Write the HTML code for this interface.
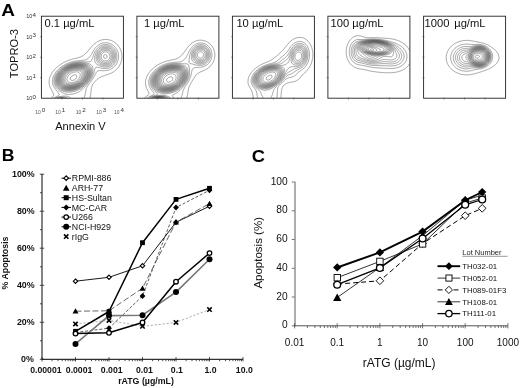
<!DOCTYPE html>
<html><head><meta charset="utf-8"><title>Figure</title>
<style>html,body{margin:0;padding:0;background:#fff}svg{display:block}</style>
</head><body>
<svg width="520" height="388" viewBox="0 0 520 388" font-family='"Liberation Sans", Arial, Helvetica, sans-serif'>
<rect width="520" height="388" fill="#fff"/>
<defs><clipPath id="cb"><rect x="0" y="0" width="82.0" height="82.0"/></clipPath></defs>
<text transform="translate(1.3,15.9) scale(1.2,1)" font-size="15.8" font-weight="bold" fill="#000">A</text>
<text transform="translate(1.7,160.8) scale(1.08,1)" font-size="16.3" font-weight="bold" fill="#000">B</text>
<text transform="translate(251.8,161.8) scale(1.12,1)" font-size="16.3" font-weight="bold" fill="#000">C</text>
<g transform="translate(41.4,16.2)">
<g clip-path="url(#cb)"><path d="M9.7,82.0 L10.0,81.6 L10.1,81.5 L10.5,81.1 L10.6,81.0 L11.0,80.7 L11.2,80.5 L11.5,80.2 L11.7,80.0 L12.0,79.6 L12.1,79.5 L12.3,79.0 L12.2,78.5 L12.1,78.0 L12.0,77.7 L11.9,77.5 L11.7,77.0 L11.5,76.5 L11.5,76.5 L11.3,76.0 L11.1,75.5 L11.0,75.4 L10.8,75.0 L10.5,74.5 L10.5,74.4 L10.3,74.0 L10.0,73.5 L10.0,73.4 L9.8,73.0 L9.5,72.5 L9.5,72.5 L9.3,72.0 L9.0,71.5 L9.0,71.4 L8.8,71.0 L8.6,70.5 L8.5,70.1 L8.4,70.0 L8.3,69.5 L8.1,69.0 L8.0,68.5 L8.0,68.4 L7.9,68.0 L7.8,67.5 L7.8,67.0 L7.7,66.5 L7.7,66.0 L7.7,65.5 L7.7,65.0 L7.8,64.5 L7.8,64.0 L7.9,63.5 L8.0,63.0 L8.0,62.9 L8.1,62.5 L8.2,62.0 L8.3,61.5 L8.5,61.0 L8.5,61.0 L8.7,60.5 L8.9,60.0 L9.0,59.7 L9.1,59.5 L9.3,59.0 L9.5,58.6 L9.6,58.5 L9.8,58.0 L10.0,57.7 L10.1,57.5 L10.4,57.0 L10.5,56.8 L10.7,56.5 L11.0,56.1 L11.0,56.0 L11.4,55.5 L11.5,55.4 L11.8,55.0 L12.0,54.7 L12.2,54.5 L12.5,54.1 L12.6,54.0 L13.0,53.5 L13.0,53.5 L13.5,53.0 L13.5,53.0 L14.0,52.5 L14.0,52.5 L14.5,52.0 L14.5,52.0 L15.0,51.5 L15.0,51.5 L15.5,51.0 L15.5,51.0 L16.0,50.6 L16.1,50.5 L16.5,50.2 L16.7,50.0 L17.0,49.8 L17.4,49.5 L17.5,49.4 L18.0,49.0 L18.1,49.0 L18.5,48.7 L18.8,48.5 L19.0,48.3 L19.5,48.0 L19.5,48.0 L20.0,47.7 L20.3,47.5 L20.5,47.4 L21.0,47.1 L21.1,47.0 L21.5,46.8 L22.0,46.5 L22.0,46.5 L22.5,46.2 L23.0,46.0 L23.0,46.0 L23.5,45.7 L24.0,45.5 L24.0,45.5 L24.5,45.3 L25.0,45.1 L25.1,45.0 L25.5,44.8 L26.0,44.6 L26.3,44.5 L26.5,44.4 L27.0,44.2 L27.5,44.1 L27.7,44.0 L28.0,43.9 L28.5,43.7 L29.0,43.5 L29.1,43.5 L29.5,43.4 L30.0,43.2 L30.5,43.1 L30.8,43.0 L31.0,42.9 L31.5,42.8 L32.0,42.7 L32.5,42.5 L32.7,42.5 L33.0,42.4 L33.5,42.3 L34.0,42.2 L34.5,42.1 L34.7,42.0 L35.0,41.9 L35.5,41.8 L36.0,41.7 L36.5,41.6 L36.7,41.5 L37.0,41.4 L37.5,41.3 L38.0,41.1 L38.4,41.0 L38.5,40.9 L39.0,40.8 L39.5,40.6 L39.6,40.5 L40.0,40.3 L40.5,40.1 L40.6,40.0 L41.0,39.8 L41.5,39.5 L41.5,39.5 L42.0,39.1 L42.2,39.0 L42.5,38.8 L42.9,38.5 L43.0,38.4 L43.5,38.0 L43.5,38.0 L44.0,37.6 L44.1,37.5 L44.5,37.1 L44.6,37.0 L45.0,36.6 L45.1,36.5 L45.5,36.1 L45.6,36.0 L46.0,35.5 L46.0,35.5 L46.5,35.0 L46.5,35.0 L46.9,34.5 L47.0,34.4 L47.3,34.0 L47.5,33.8 L47.7,33.5 L48.0,33.2 L48.1,33.0 L48.5,32.6 L48.5,32.5 L48.9,32.0 L49.0,31.9 L49.4,31.5 L49.5,31.3 L49.8,31.0 L50.0,30.7 L50.2,30.5 L50.5,30.2 L50.6,30.0 L51.0,29.6 L51.1,29.5 L51.5,29.1 L51.6,29.0 L52.0,28.6 L52.1,28.5 L52.5,28.1 L52.6,28.0 L53.0,27.7 L53.2,27.5 L53.5,27.3 L53.8,27.0 L54.0,26.9 L54.5,26.5 L54.5,26.5 L55.0,26.2 L55.2,26.0 L55.5,25.8 L56.0,25.5 L56.1,25.5 L56.5,25.2 L57.0,25.0 L57.0,25.0 L57.5,24.8 L58.0,24.5 L58.1,24.5 L58.5,24.3 L59.0,24.1 L59.5,24.0 L59.5,24.0 L60.0,23.8 L60.5,23.7 L61.0,23.6 L61.5,23.5 L61.6,23.5 L62.0,23.4 L62.5,23.4 L63.0,23.3 L63.5,23.3 L64.0,23.3 L64.5,23.3 L65.0,23.3 L65.5,23.3 L66.0,23.4 L66.5,23.4 L66.9,23.5 L67.0,23.5 L67.5,23.6 L68.0,23.7 L68.5,23.9 L68.9,24.0 L69.0,24.0 L69.5,24.2 L70.0,24.4 L70.3,24.5 L70.5,24.6 L71.0,24.8 L71.3,25.0 L71.5,25.1 L72.0,25.4 L72.2,25.5 L72.5,25.7 L73.0,26.0 L73.0,26.0 L73.5,26.3 L73.7,26.5 L74.0,26.7 L74.4,27.0 L74.5,27.1 L74.9,27.5 L75.0,27.6 L75.4,28.0 L75.5,28.1 L75.9,28.5 L76.0,28.6 L76.4,29.0 L76.5,29.2 L76.8,29.5 L77.0,29.8 L77.2,30.0 L77.5,30.5 L77.5,30.5 L77.8,31.0 L78.0,31.3 L78.1,31.5 L78.4,32.0 L78.5,32.2 L78.7,32.5 L78.9,33.0 L79.0,33.2 L79.1,33.5 L79.3,34.0 L79.5,34.5 L79.5,34.5 L79.7,35.0 L79.8,35.5 L80.0,36.0 L80.0,36.2 L80.1,36.5 L80.2,37.0 L80.3,37.5 L80.3,38.0 L80.4,38.5 L80.5,39.0 L80.5,39.5 L80.5,40.0 L80.5,40.4 L80.5,40.5 L80.5,40.5 L80.5,41.0 L80.5,41.5 L80.4,42.0 L80.4,42.5 L80.3,43.0 L80.2,43.5 L80.1,44.0 L80.0,44.5 L80.0,44.6 L79.9,45.0 L79.8,45.5 L79.6,46.0 L79.5,46.3 L79.4,46.5 L79.2,47.0 L79.0,47.5 L79.0,47.6 L78.8,48.0 L78.6,48.5 L78.5,48.6 L78.3,49.0 L78.0,49.5 L78.0,49.5 L77.7,50.0 L77.5,50.3 L77.4,50.5 L77.0,51.0 L77.0,51.0 L76.6,51.5 L76.5,51.7 L76.2,52.0 L76.0,52.3 L75.8,52.5 L75.5,52.8 L75.3,53.0 L75.0,53.3 L74.8,53.5 L74.5,53.8 L74.3,54.0 L74.0,54.2 L73.6,54.5 L73.5,54.6 L73.0,55.0 L73.0,55.0 L72.5,55.4 L72.3,55.5 L72.0,55.7 L71.5,56.0 L71.5,56.0 L71.0,56.3 L70.6,56.5 L70.5,56.6 L70.0,56.8 L69.6,57.0 L69.5,57.1 L69.0,57.3 L68.5,57.5 L68.5,57.5 L68.0,57.7 L67.5,57.9 L67.2,58.0 L67.0,58.1 L66.5,58.3 L66.0,58.4 L65.7,58.5 L65.5,58.6 L65.0,58.7 L64.5,58.9 L64.1,59.0 L64.0,59.0 L63.5,59.2 L63.0,59.4 L62.5,59.5 L62.5,59.5 L62.0,59.7 L61.5,59.9 L61.1,60.0 L61.0,60.1 L60.5,60.3 L60.0,60.5 L59.9,60.5 L59.5,60.7 L59.0,61.0 L58.9,61.0 L58.5,61.2 L58.1,61.5 L58.0,61.5 L57.5,61.9 L57.3,62.0 L57.0,62.2 L56.6,62.5 L56.5,62.6 L56.0,63.0 L56.0,63.0 L55.5,63.4 L55.4,63.5 L55.0,63.9 L54.9,64.0 L54.5,64.4 L54.4,64.5 L54.0,64.9 L53.9,65.0 L53.5,65.4 L53.4,65.5 L53.0,66.0 L53.0,66.0 L52.6,66.5 L52.5,66.6 L52.2,67.0 L52.0,67.3 L51.8,67.5 L51.5,68.0 L51.5,68.0 L51.2,68.5 L51.0,68.9 L51.0,69.0 L50.7,69.5 L50.5,70.0 L50.5,70.1 L50.4,70.5 L50.3,71.0 L50.1,71.5 L50.0,72.0 L50.0,72.2 L50.0,72.5 L49.9,73.0 L49.8,73.5 L49.8,74.0 L49.7,74.5 L49.6,75.0 L49.6,75.5 L49.5,76.0 L49.5,76.4 L49.5,76.5 L49.4,77.0 L49.4,77.5 L49.3,78.0 L49.3,78.5 L49.2,79.0 L49.1,79.5 L49.0,80.0 L49.0,80.1 L48.9,80.5 L48.8,81.0 L48.7,81.5 L48.6,82.0 M12.2,82.0 L12.5,81.8 L12.9,81.5 L13.0,81.4 L13.5,81.1 L13.8,81.0 L14.0,80.9 L14.5,80.6 L14.9,80.5 L15.0,80.4 L15.5,80.2 L16.0,80.0 L16.0,80.0 L16.5,79.7 L17.0,79.5 L17.0,79.5 L17.5,79.1 L17.6,79.0 L17.8,78.5 L17.7,78.0 L17.5,77.6 L17.5,77.5 L17.2,77.0 L17.0,76.8 L16.8,76.5 L16.5,76.1 L16.4,76.0 L16.1,75.5 L16.0,75.4 L15.7,75.0 L15.5,74.8 L15.2,74.5 L15.0,74.2 L14.8,74.0 L14.5,73.6 L14.4,73.5 L14.1,73.0 L14.0,72.9 L13.7,72.5 L13.5,72.2 L13.3,72.0 L13.0,71.5 L13.0,71.5 L12.7,71.0 L12.5,70.6 L12.4,70.5 L12.2,70.0 L12.0,69.6 L11.9,69.5 L11.7,69.0 L11.6,68.5 L11.5,68.3 L11.4,68.0 L11.3,67.5 L11.2,67.0 L11.1,66.5 L11.0,66.0 L11.0,65.5 L11.0,65.0 L11.0,64.5 L11.1,64.0 L11.1,63.5 L11.2,63.0 L11.3,62.5 L11.4,62.0 L11.5,61.6 L11.5,61.5 L11.7,61.0 L11.9,60.5 L12.0,60.2 L12.1,60.0 L12.3,59.5 L12.5,59.0 L12.5,59.0 L12.8,58.5 L13.0,58.1 L13.1,58.0 L13.4,57.5 L13.5,57.3 L13.7,57.0 L14.0,56.5 L14.0,56.5 L14.4,56.0 L14.5,55.8 L14.8,55.5 L15.0,55.2 L15.2,55.0 L15.5,54.6 L15.6,54.5 L16.0,54.1 L16.1,54.0 L16.5,53.6 L16.6,53.5 L17.0,53.1 L17.1,53.0 L17.5,52.6 L17.6,52.5 L18.0,52.2 L18.2,52.0 L18.5,51.8 L18.8,51.5 L19.0,51.4 L19.5,51.0 L19.5,51.0 L20.0,50.6 L20.2,50.5 L20.5,50.3 L20.9,50.0 L21.0,49.9 L21.5,49.6 L21.7,49.5 L22.0,49.3 L22.5,49.0 L22.5,49.0 L23.0,48.7 L23.4,48.5 L23.5,48.4 L24.0,48.2 L24.3,48.0 L24.5,47.9 L25.0,47.7 L25.4,47.5 L25.5,47.4 L26.0,47.2 L26.5,47.0 L26.6,47.0 L27.0,46.8 L27.5,46.6 L27.8,46.5 L28.0,46.4 L28.5,46.3 L29.0,46.1 L29.3,46.0 L29.5,45.9 L30.0,45.8 L30.5,45.6 L31.0,45.5 L31.1,45.5 L31.5,45.4 L32.0,45.3 L32.5,45.1 L33.0,45.0 L33.3,45.0 L33.5,45.0 L34.0,44.9 L34.5,44.8 L35.0,44.7 L35.5,44.6 L36.0,44.6 L36.5,44.5 L36.6,44.5 L37.0,44.5 L37.5,44.4 L38.0,44.4 L38.5,44.3 L39.0,44.3 L39.5,44.2 L40.0,44.2 L40.5,44.2 L41.0,44.1 L41.5,44.1 L42.0,44.0 L42.2,44.0 L42.5,44.0 L43.0,43.9 L43.5,43.8 L44.0,43.7 L44.5,43.5 L44.6,43.5 L45.0,43.3 L45.5,43.1 L45.7,43.0 L46.0,42.8 L46.5,42.5 L46.5,42.5 L47.0,42.1 L47.1,42.0 L47.5,41.6 L47.6,41.5 L48.0,41.0 L48.0,41.0 L48.4,40.5 L48.5,40.4 L48.8,40.0 L49.0,39.7 L49.1,39.5 L49.4,39.0 L49.5,38.9 L49.7,38.5 L50.0,38.1 L50.0,38.0 L50.3,37.5 L50.5,37.2 L50.6,37.0 L50.9,36.5 L51.0,36.3 L51.1,36.0 L51.4,35.5 L51.5,35.4 L51.7,35.0 L52.0,34.5 L52.0,34.5 L52.3,34.0 L52.5,33.7 L52.6,33.5 L53.0,33.0 L53.0,33.0 L53.3,32.5 L53.5,32.3 L53.7,32.0 L54.0,31.7 L54.1,31.5 L54.5,31.1 L54.6,31.0 L55.0,30.6 L55.1,30.5 L55.5,30.1 L55.6,30.0 L56.0,29.7 L56.2,29.5 L56.5,29.3 L56.8,29.0 L57.0,28.9 L57.5,28.6 L57.6,28.5 L58.0,28.2 L58.4,28.0 L58.5,28.0 L59.0,27.7 L59.5,27.5 L59.5,27.5 L60.0,27.3 L60.5,27.1 L60.9,27.0 L61.0,27.0 L61.5,26.8 L62.0,26.7 L62.5,26.6 L63.0,26.6 L63.5,26.5 L64.0,26.5 L64.5,26.5 L65.0,26.5 L65.5,26.6 L66.0,26.6 L66.5,26.7 L67.0,26.8 L67.5,26.9 L67.8,27.0 L68.0,27.1 L68.5,27.2 L69.0,27.4 L69.1,27.5 L69.5,27.7 L70.0,27.9 L70.2,28.0 L70.5,28.2 L71.0,28.5 L71.0,28.5 L71.5,28.8 L71.7,29.0 L72.0,29.2 L72.3,29.5 L72.5,29.6 L72.9,30.0 L73.0,30.1 L73.4,30.5 L73.5,30.6 L73.8,31.0 L74.0,31.2 L74.2,31.5 L74.5,31.8 L74.6,32.0 L74.9,32.5 L75.0,32.6 L75.3,33.0 L75.5,33.5 L75.5,33.5 L75.8,34.0 L76.0,34.5 L76.0,34.5 L76.2,35.0 L76.4,35.5 L76.5,35.9 L76.5,36.0 L76.7,36.5 L76.8,37.0 L76.9,37.5 L77.0,38.0 L77.0,38.1 L77.1,38.5 L77.1,39.0 L77.1,39.5 L77.2,40.0 L77.2,40.5 L77.1,41.0 L77.1,41.5 L77.0,42.0 L77.0,42.3 L77.0,42.5 L76.9,43.0 L76.8,43.5 L76.7,44.0 L76.5,44.5 L76.5,44.5 L76.3,45.0 L76.2,45.5 L76.0,45.9 L75.9,46.0 L75.7,46.5 L75.5,46.9 L75.5,47.0 L75.2,47.5 L75.0,47.8 L74.9,48.0 L74.5,48.5 L74.5,48.6 L74.2,49.0 L74.0,49.2 L73.8,49.5 L73.5,49.8 L73.3,50.0 L73.0,50.3 L72.8,50.5 L72.5,50.8 L72.3,51.0 L72.0,51.2 L71.7,51.5 L71.5,51.6 L71.0,52.0 L71.0,52.0 L70.5,52.3 L70.2,52.5 L70.0,52.6 L69.5,52.9 L69.2,53.0 L69.0,53.1 L68.5,53.3 L68.1,53.5 L68.0,53.5 L67.5,53.7 L67.0,53.9 L66.5,54.0 L66.5,54.0 L66.0,54.1 L65.5,54.2 L65.0,54.3 L64.5,54.4 L64.0,54.4 L63.5,54.4 L63.0,54.5 L62.5,54.5 L62.0,54.5 L61.5,54.5 L61.0,54.5 L60.5,54.4 L60.0,54.4 L59.5,54.4 L59.0,54.4 L58.5,54.4 L58.0,54.4 L57.5,54.5 L57.4,54.5 L57.0,54.6 L56.5,54.8 L56.1,55.0 L56.0,55.1 L55.5,55.5 L55.5,55.5 L55.1,56.0 L55.0,56.2 L54.8,56.5 L54.5,57.0 L54.5,57.0 L54.3,57.5 L54.0,58.0 L54.0,58.0 L53.8,58.5 L53.5,59.0 L53.5,59.0 L53.2,59.5 L53.0,59.9 L53.0,60.0 L52.7,60.5 L52.5,60.9 L52.4,61.0 L52.1,61.5 L52.0,61.7 L51.8,62.0 L51.5,62.5 L51.5,62.5 L51.2,63.0 L51.0,63.3 L50.9,63.5 L50.5,64.0 L50.5,64.0 L50.2,64.5 L50.0,64.7 L49.8,65.0 L49.5,65.4 L49.4,65.5 L49.1,66.0 L49.0,66.1 L48.7,66.5 L48.5,66.7 L48.3,67.0 L48.0,67.4 L47.9,67.5 L47.5,68.0 L47.5,68.0 L47.1,68.5 L47.0,68.7 L46.8,69.0 L46.5,69.4 L46.4,69.5 L46.1,70.0 L46.0,70.2 L45.8,70.5 L45.5,71.0 L45.5,71.0 L45.2,71.5 L45.0,72.0 L45.0,72.0 L44.8,72.5 L44.7,73.0 L44.6,73.5 L44.5,73.8 L44.5,74.0 L44.4,74.5 L44.3,75.0 L44.2,75.5 L44.2,76.0 L44.1,76.5 L44.0,76.9 L44.0,77.0 L43.9,77.5 L43.8,78.0 L43.7,78.5 L43.5,79.0 L43.5,79.1 L43.4,79.5 L43.2,80.0 L43.1,80.5 L43.0,80.7 L42.9,81.0 L42.7,81.5 L42.5,82.0 L42.5,82.0 M62.1,28.5 L62.5,28.4 L63.0,28.3 L63.5,28.3 L64.0,28.3 L64.5,28.3 L65.0,28.3 L65.5,28.3 L66.0,28.4 L66.5,28.5 L66.6,28.5 L67.0,28.6 L67.5,28.7 L68.0,28.9 L68.2,29.0 L68.5,29.1 L69.0,29.3 L69.3,29.5 L69.5,29.6 L70.0,29.9 L70.1,30.0 L70.5,30.2 L70.8,30.5 L71.0,30.6 L71.5,31.0 L71.5,31.0 L72.0,31.5 L72.0,31.5 L72.4,32.0 L72.5,32.1 L72.9,32.5 L73.0,32.7 L73.2,33.0 L73.5,33.4 L73.6,33.5 L73.9,34.0 L74.0,34.3 L74.1,34.5 L74.4,35.0 L74.5,35.3 L74.6,35.5 L74.8,36.0 L74.9,36.5 L75.0,36.8 L75.1,37.0 L75.2,37.5 L75.3,38.0 L75.3,38.5 L75.4,39.0 L75.4,39.5 L75.4,40.0 L75.4,40.5 L75.4,41.0 L75.4,41.5 L75.3,42.0 L75.2,42.5 L75.1,43.0 L75.0,43.5 L75.0,43.5 L74.9,44.0 L74.7,44.5 L74.5,45.0 L74.5,45.0 L74.3,45.5 L74.0,46.0 L74.0,46.0 L73.7,46.5 L73.5,46.9 L73.4,47.0 L73.1,47.5 L73.0,47.6 L72.7,48.0 L72.5,48.2 L72.3,48.5 L72.0,48.8 L71.8,49.0 L71.5,49.3 L71.3,49.5 L71.0,49.7 L70.6,50.0 L70.5,50.1 L70.0,50.4 L69.9,50.5 L69.5,50.8 L69.1,51.0 L69.0,51.0 L68.5,51.3 L68.0,51.5 L68.0,51.5 L67.5,51.7 L67.0,51.8 L66.5,52.0 L66.4,52.0 L66.0,52.1 L65.5,52.2 L65.0,52.3 L64.5,52.3 L64.0,52.3 L63.5,52.4 L63.0,52.3 L62.5,52.3 L62.0,52.3 L61.5,52.2 L61.0,52.1 L60.5,52.1 L60.2,52.0 L60.0,52.0 L59.5,51.8 L59.0,51.7 L58.5,51.6 L58.2,51.5 L58.0,51.5 L57.5,51.3 L57.0,51.2 L56.5,51.1 L56.0,51.0 L55.5,51.0 L55.5,51.0 L55.5,51.0 L55.0,51.0 L54.5,51.2 L54.1,51.5 L54.0,51.6 L53.8,52.0 L53.5,52.5 L53.5,52.6 L53.4,53.0 L53.3,53.5 L53.1,54.0 L53.0,54.5 L53.0,54.6 L52.9,55.0 L52.8,55.5 L52.7,56.0 L52.6,56.5 L52.5,56.7 L52.4,57.0 L52.3,57.5 L52.1,58.0 L52.0,58.3 L51.9,58.5 L51.8,59.0 L51.5,59.5 L51.5,59.6 L51.3,60.0 L51.1,60.5 L51.0,60.7 L50.9,61.0 L50.6,61.5 L50.5,61.6 L50.3,62.0 L50.0,62.5 L50.0,62.5 L49.7,63.0 L49.5,63.3 L49.4,63.5 L49.0,64.0 L49.0,64.0 L48.7,64.5 L48.5,64.7 L48.3,65.0 L48.0,65.4 L47.9,65.5 L47.5,66.0 L47.5,66.0 L47.1,66.5 L47.0,66.6 L46.7,67.0 L46.5,67.2 L46.3,67.5 L46.0,67.8 L45.8,68.0 L45.5,68.4 L45.4,68.5 L45.0,68.9 L45.0,69.0 L44.5,69.5 L44.5,69.5 L44.0,70.0 L44.0,70.0 L43.6,70.5 L43.5,70.6 L43.1,71.0 L43.0,71.1 L42.6,71.5 L42.5,71.6 L42.1,72.0 L42.0,72.1 L41.6,72.5 L41.5,72.6 L41.0,73.0 L41.0,73.0 L40.5,73.5 L40.5,73.5 L40.0,73.9 L39.9,74.0 L39.5,74.3 L39.2,74.5 L39.0,74.7 L38.5,75.0 L38.5,75.0 L38.0,75.4 L37.8,75.5 L37.5,75.7 L37.0,76.0 L36.9,76.0 L36.5,76.2 L36.0,76.4 L35.8,76.5 L35.5,76.7 L35.0,76.8 L34.5,77.0 L34.5,77.0 L34.0,77.2 L33.5,77.3 L33.0,77.4 L32.7,77.5 L32.5,77.6 L32.0,77.7 L31.5,77.8 L31.0,77.9 L30.5,78.0 L30.3,78.0 L30.0,78.0 L29.5,78.1 L29.0,78.2 L28.5,78.2 L28.0,78.3 L27.5,78.3 L27.0,78.3 L26.5,78.3 L26.0,78.2 L25.5,78.1 L25.0,78.0 L24.9,78.0 L24.5,77.9 L24.0,77.8 L23.5,77.6 L23.2,77.5 L23.0,77.4 L22.5,77.2 L22.0,77.0 L22.0,77.0 L21.5,76.8 L21.0,76.5 L21.0,76.5 L20.5,76.2 L20.1,76.0 L20.0,75.9 L19.5,75.6 L19.3,75.5 L19.0,75.3 L18.6,75.0 L18.5,74.9 L18.0,74.6 L17.9,74.5 L17.5,74.2 L17.3,74.0 L17.0,73.7 L16.7,73.5 L16.5,73.3 L16.2,73.0 L16.0,72.8 L15.7,72.5 L15.5,72.2 L15.3,72.0 L15.0,71.6 L14.9,71.5 L14.5,71.0 L14.5,71.0 L14.2,70.5 L14.0,70.2 L13.9,70.0 L13.6,69.5 L13.5,69.3 L13.4,69.0 L13.1,68.5 L13.0,68.1 L13.0,68.0 L12.8,67.5 L12.7,67.0 L12.6,66.5 L12.5,66.0 L12.5,65.9 L12.5,65.5 L12.4,65.0 L12.4,64.5 L12.5,64.0 L12.5,63.5 L12.5,63.5 L12.6,63.0 L12.7,62.5 L12.8,62.0 L12.9,61.5 L13.0,61.2 L13.1,61.0 L13.2,60.5 L13.4,60.0 L13.5,59.9 L13.7,59.5 L13.9,59.0 L14.0,58.8 L14.2,58.5 L14.4,58.0 L14.5,57.9 L14.8,57.5 L15.0,57.1 L15.1,57.0 L15.4,56.5 L15.5,56.4 L15.8,56.0 L16.0,55.8 L16.2,55.5 L16.5,55.2 L16.7,55.0 L17.0,54.6 L17.1,54.5 L17.5,54.1 L17.6,54.0 L18.0,53.6 L18.1,53.5 L18.5,53.1 L18.7,53.0 L19.0,52.7 L19.2,52.5 L19.5,52.3 L19.9,52.0 L20.0,51.9 L20.5,51.5 L20.5,51.5 L21.0,51.2 L21.2,51.0 L21.5,50.8 L22.0,50.5 L22.0,50.5 L22.5,50.2 L22.8,50.0 L23.0,49.9 L23.5,49.6 L23.6,49.5 L24.0,49.3 L24.5,49.0 L24.6,49.0 L25.0,48.8 L25.5,48.5 L25.6,48.5 L26.0,48.3 L26.5,48.1 L26.7,48.0 L27.0,47.9 L27.5,47.7 L28.0,47.5 L28.0,47.5 L28.5,47.3 L29.0,47.1 L29.5,47.0 L29.5,47.0 L30.0,46.8 L30.5,46.7 L31.0,46.6 L31.2,46.5 L31.5,46.4 L32.0,46.3 L32.5,46.2 L33.0,46.1 L33.5,46.0 L33.6,46.0 L34.0,45.9 L34.5,45.8 L35.0,45.8 L35.5,45.7 L36.0,45.7 L36.5,45.6 L37.0,45.6 L37.5,45.6 L38.0,45.5 L38.5,45.5 L39.0,45.5 L39.0,45.5 L39.5,45.5 L40.0,45.5 L40.5,45.5 L41.0,45.5 L41.1,45.5 L41.5,45.5 L42.0,45.5 L42.5,45.5 L43.0,45.5 L43.5,45.6 L44.0,45.6 L44.5,45.6 L45.0,45.6 L45.5,45.6 L46.0,45.6 L46.5,45.6 L47.0,45.6 L47.5,45.6 L48.0,45.5 L48.1,45.5 L48.5,45.4 L49.0,45.2 L49.4,45.0 L49.5,44.9 L49.9,44.5 L50.0,44.4 L50.3,44.0 L50.5,43.6 L50.5,43.5 L50.7,43.0 L50.9,42.5 L51.0,42.3 L51.1,42.0 L51.3,41.5 L51.4,41.0 L51.5,40.9 L51.6,40.5 L51.8,40.0 L52.0,39.5 L52.0,39.4 L52.1,39.0 L52.3,38.5 L52.5,38.0 L52.5,38.0 L52.7,37.5 L52.9,37.0 L53.0,36.8 L53.1,36.5 L53.4,36.0 L53.5,35.8 L53.6,35.5 L53.9,35.0 L54.0,34.9 L54.2,34.5 L54.5,34.1 L54.5,34.0 L54.9,33.5 L55.0,33.3 L55.3,33.0 L55.5,32.7 L55.7,32.5 L56.0,32.1 L56.1,32.0 L56.5,31.6 L56.6,31.5 L57.0,31.1 L57.2,31.0 L57.5,30.7 L57.8,30.5 L58.0,30.3 L58.5,30.0 L58.5,30.0 L59.0,29.7 L59.4,29.5 L59.5,29.4 L60.0,29.2 L60.5,29.0 L60.5,29.0 L61.0,28.8 L61.5,28.7 L62.0,28.5 L62.1,28.5Z M13.8,82.0 L14.0,81.9 L14.5,81.6 L14.7,81.5 L15.0,81.4 L15.5,81.2 L16.0,81.0 L16.0,81.0 L16.5,80.8 L17.0,80.7 L17.5,80.6 L18.0,80.5 L18.0,80.5 L18.5,80.4 L19.0,80.3 L19.5,80.2 L20.0,80.1 L20.5,80.1 L21.0,80.0 L21.3,80.0 L21.5,80.0 L22.0,79.9 L22.5,79.9 L23.0,79.9 L23.5,79.9 L24.0,79.9 L24.5,79.9 L25.0,80.0 L25.1,80.0 L25.5,80.0 L26.0,80.1 L26.5,80.3 L27.0,80.5 L27.0,80.5 L27.5,80.7 L28.0,81.0 L28.0,81.0 L28.5,81.3 L28.7,81.5 L29.0,81.7 L29.2,82.0 M61.7,30.0 L62.0,29.9 L62.5,29.8 L63.0,29.7 L63.5,29.6 L64.0,29.6 L64.5,29.6 L65.0,29.6 L65.5,29.7 L66.0,29.7 L66.5,29.8 L67.0,30.0 L67.1,30.0 L67.5,30.1 L68.0,30.3 L68.4,30.5 L68.5,30.6 L69.0,30.8 L69.3,31.0 L69.5,31.1 L70.0,31.5 L70.0,31.5 L70.5,31.9 L70.6,32.0 L71.0,32.4 L71.1,32.5 L71.5,32.9 L71.6,33.0 L72.0,33.5 L72.0,33.5 L72.4,34.0 L72.5,34.2 L72.7,34.5 L72.9,35.0 L73.0,35.1 L73.2,35.5 L73.4,36.0 L73.5,36.3 L73.6,36.5 L73.7,37.0 L73.9,37.5 L74.0,38.0 L74.0,38.1 L74.1,38.5 L74.1,39.0 L74.2,39.5 L74.2,40.0 L74.2,40.5 L74.1,41.0 L74.1,41.5 L74.0,42.0 L74.0,42.1 L73.9,42.5 L73.8,43.0 L73.7,43.5 L73.5,44.0 L73.5,44.0 L73.3,44.5 L73.1,45.0 L73.0,45.1 L72.8,45.5 L72.5,46.0 L72.5,46.0 L72.2,46.5 L72.0,46.8 L71.8,47.0 L71.5,47.4 L71.4,47.5 L71.0,47.9 L70.9,48.0 L70.5,48.4 L70.4,48.5 L70.0,48.8 L69.7,49.0 L69.5,49.1 L69.0,49.5 L68.9,49.5 L68.5,49.7 L68.0,50.0 L68.0,50.0 L67.5,50.2 L67.0,50.4 L66.6,50.5 L66.5,50.5 L66.0,50.6 L65.5,50.7 L65.0,50.8 L64.5,50.9 L64.0,50.9 L63.5,50.9 L63.0,50.9 L62.5,50.8 L62.0,50.7 L61.5,50.7 L61.0,50.5 L60.8,50.5 L60.5,50.4 L60.0,50.3 L59.5,50.1 L59.3,50.0 L59.0,49.9 L58.5,49.7 L58.1,49.5 L58.0,49.5 L57.5,49.2 L57.1,49.0 L57.0,49.0 L56.5,48.7 L56.2,48.5 L56.0,48.3 L55.5,48.0 L55.5,48.0 L55.0,47.6 L54.9,47.5 L54.5,47.1 L54.4,47.0 L54.1,46.5 L54.0,46.4 L53.8,46.0 L53.6,45.5 L53.5,45.2 L53.4,45.0 L53.3,44.5 L53.2,44.0 L53.2,43.5 L53.2,43.0 L53.2,42.5 L53.2,42.0 L53.3,41.5 L53.4,41.0 L53.4,40.5 L53.5,40.2 L53.5,40.0 L53.7,39.5 L53.8,39.0 L53.9,38.5 L54.0,38.3 L54.1,38.0 L54.3,37.5 L54.5,37.0 L54.5,37.0 L54.7,36.5 L54.9,36.0 L55.0,35.9 L55.2,35.5 L55.5,35.0 L55.5,35.0 L55.8,34.5 L56.0,34.2 L56.2,34.0 L56.5,33.6 L56.6,33.5 L57.0,33.0 L57.0,33.0 L57.5,32.5 L57.5,32.5 L58.0,32.0 L58.0,32.0 L58.5,31.6 L58.7,31.5 L59.0,31.3 L59.4,31.0 L59.5,30.9 L60.0,30.7 L60.4,30.5 L60.5,30.4 L61.0,30.2 L61.5,30.0 L61.7,30.0Z M35.4,46.5 L35.5,46.5 L36.0,46.4 L36.5,46.4 L37.0,46.4 L37.5,46.3 L38.0,46.3 L38.5,46.3 L39.0,46.3 L39.5,46.3 L40.0,46.3 L40.5,46.4 L41.0,46.4 L41.5,46.4 L42.0,46.5 L42.1,46.5 L42.5,46.5 L43.0,46.6 L43.5,46.7 L44.0,46.7 L44.5,46.8 L45.0,46.9 L45.5,47.0 L45.5,47.0 L46.0,47.1 L46.5,47.2 L47.0,47.4 L47.4,47.5 L47.5,47.5 L48.0,47.7 L48.5,48.0 L48.6,48.0 L49.0,48.2 L49.4,48.5 L49.5,48.5 L50.0,49.0 L50.0,49.0 L50.5,49.5 L50.5,49.6 L50.8,50.0 L51.0,50.5 L51.0,50.5 L51.2,51.0 L51.3,51.5 L51.4,52.0 L51.5,52.5 L51.5,52.9 L51.5,53.0 L51.5,53.5 L51.5,54.0 L51.5,54.5 L51.5,55.0 L51.5,55.0 L51.5,55.5 L51.4,56.0 L51.3,56.5 L51.2,57.0 L51.1,57.5 L51.0,57.9 L51.0,58.0 L50.8,58.5 L50.7,59.0 L50.5,59.4 L50.5,59.5 L50.3,60.0 L50.0,60.5 L50.0,60.6 L49.8,61.0 L49.5,61.5 L49.5,61.6 L49.3,62.0 L49.0,62.5 L49.0,62.5 L48.7,63.0 L48.5,63.3 L48.3,63.5 L48.0,64.0 L48.0,64.0 L47.6,64.5 L47.5,64.7 L47.3,65.0 L47.0,65.3 L46.9,65.5 L46.5,65.9 L46.4,66.0 L46.0,66.5 L46.0,66.5 L45.6,67.0 L45.5,67.1 L45.1,67.5 L45.0,67.6 L44.7,68.0 L44.5,68.2 L44.2,68.5 L44.0,68.7 L43.7,69.0 L43.5,69.2 L43.1,69.5 L43.0,69.6 L42.6,70.0 L42.5,70.1 L42.0,70.5 L42.0,70.5 L41.5,70.9 L41.4,71.0 L41.0,71.3 L40.7,71.5 L40.5,71.7 L40.0,72.0 L40.0,72.0 L39.5,72.4 L39.3,72.5 L39.0,72.7 L38.5,73.0 L38.4,73.0 L38.0,73.2 L37.5,73.5 L37.5,73.5 L37.0,73.7 L36.5,74.0 L36.4,74.0 L36.0,74.2 L35.5,74.4 L35.1,74.5 L35.0,74.5 L34.5,74.7 L34.0,74.9 L33.5,75.0 L33.5,75.0 L33.0,75.2 L32.5,75.3 L32.0,75.4 L31.5,75.5 L31.5,75.5 L31.0,75.6 L30.5,75.7 L30.0,75.8 L29.5,75.8 L29.0,75.9 L28.5,75.9 L28.0,75.9 L27.5,76.0 L27.0,76.0 L26.5,76.0 L26.0,76.0 L25.5,75.9 L25.0,75.9 L24.5,75.8 L24.0,75.7 L23.5,75.6 L23.0,75.5 L23.0,75.5 L22.5,75.4 L22.0,75.2 L21.5,75.0 L21.5,75.0 L21.0,74.8 L20.5,74.6 L20.3,74.5 L20.0,74.3 L19.5,74.1 L19.4,74.0 L19.0,73.8 L18.6,73.5 L18.5,73.4 L18.0,73.0 L17.9,73.0 L17.5,72.6 L17.3,72.5 L17.0,72.2 L16.8,72.0 L16.5,71.7 L16.3,71.5 L16.0,71.2 L15.9,71.0 L15.5,70.5 L15.5,70.5 L15.1,70.0 L15.0,69.8 L14.8,69.5 L14.5,69.0 L14.5,68.9 L14.3,68.5 L14.1,68.0 L14.0,67.8 L13.9,67.5 L13.8,67.0 L13.6,66.5 L13.6,66.0 L13.5,65.5 L13.5,65.5 L13.5,65.0 L13.4,64.5 L13.5,64.0 L13.5,63.5 L13.5,63.5 L13.6,63.0 L13.6,62.5 L13.7,62.0 L13.9,61.5 L14.0,61.1 L14.0,61.0 L14.2,60.5 L14.4,60.0 L14.5,59.8 L14.6,59.5 L14.9,59.0 L15.0,58.8 L15.1,58.5 L15.4,58.0 L15.5,57.9 L15.8,57.5 L16.0,57.1 L16.1,57.0 L16.5,56.5 L16.5,56.5 L16.9,56.0 L17.0,55.8 L17.3,55.5 L17.5,55.2 L17.7,55.0 L18.0,54.7 L18.2,54.5 L18.5,54.2 L18.7,54.0 L19.0,53.7 L19.2,53.5 L19.5,53.3 L19.8,53.0 L20.0,52.8 L20.4,52.5 L20.5,52.4 L21.0,52.1 L21.1,52.0 L21.5,51.7 L21.8,51.5 L22.0,51.4 L22.5,51.0 L22.5,51.0 L23.0,50.7 L23.3,50.5 L23.5,50.4 L24.0,50.1 L24.2,50.0 L24.5,49.8 L25.0,49.6 L25.2,49.5 L25.5,49.3 L26.0,49.1 L26.2,49.0 L26.5,48.9 L27.0,48.7 L27.4,48.5 L27.5,48.5 L28.0,48.3 L28.5,48.1 L28.7,48.0 L29.0,47.9 L29.5,47.7 L30.0,47.6 L30.3,47.5 L30.5,47.4 L31.0,47.3 L31.5,47.2 L32.0,47.1 L32.3,47.0 L32.5,46.9 L33.0,46.8 L33.5,46.8 L34.0,46.7 L34.5,46.6 L35.0,46.5 L35.4,46.5Z M15.2,82.0 L15.5,81.8 L16.0,81.6 L16.4,81.5 L16.5,81.5 L17.0,81.3 L17.5,81.2 L18.0,81.1 L18.5,81.0 L18.8,81.0 L19.0,81.0 L19.5,80.9 L20.0,80.9 L20.5,80.9 L21.0,80.8 L21.5,80.9 L22.0,80.9 L22.5,80.9 L23.0,81.0 L23.1,81.0 L23.5,81.1 L24.0,81.2 L24.5,81.3 L25.0,81.4 L25.2,81.5 L25.5,81.6 L26.0,81.9 L26.2,82.0 M62.4,31.0 L62.5,31.0 L63.0,30.9 L63.5,30.8 L64.0,30.8 L64.5,30.8 L65.0,30.8 L65.5,30.8 L66.0,30.9 L66.3,31.0 L66.5,31.0 L67.0,31.2 L67.5,31.4 L67.8,31.5 L68.0,31.6 L68.5,31.9 L68.7,32.0 L69.0,32.2 L69.4,32.5 L69.5,32.5 L70.0,33.0 L70.0,33.0 L70.5,33.5 L70.5,33.5 L71.0,34.0 L71.0,34.0 L71.3,34.5 L71.5,34.7 L71.7,35.0 L72.0,35.5 L72.0,35.6 L72.2,36.0 L72.4,36.5 L72.5,36.8 L72.6,37.0 L72.7,37.5 L72.9,38.0 L73.0,38.5 L73.0,38.9 L73.0,39.0 L73.1,39.5 L73.1,40.0 L73.1,40.5 L73.0,41.0 L73.0,41.4 L73.0,41.5 L72.9,42.0 L72.8,42.5 L72.7,43.0 L72.5,43.5 L72.5,43.5 L72.3,44.0 L72.1,44.5 L72.0,44.6 L71.8,45.0 L71.5,45.5 L71.5,45.5 L71.1,46.0 L71.0,46.2 L70.7,46.5 L70.5,46.8 L70.3,47.0 L70.0,47.3 L69.7,47.5 L69.5,47.7 L69.1,48.0 L69.0,48.1 L68.5,48.4 L68.3,48.5 L68.0,48.7 L67.5,48.9 L67.3,49.0 L67.0,49.1 L66.5,49.3 L66.0,49.4 L65.6,49.5 L65.5,49.5 L65.0,49.6 L64.5,49.6 L64.0,49.7 L63.5,49.6 L63.0,49.6 L62.5,49.5 L62.2,49.5 L62.0,49.5 L61.5,49.3 L61.0,49.2 L60.5,49.0 L60.4,49.0 L60.0,48.8 L59.5,48.6 L59.2,48.5 L59.0,48.4 L58.5,48.1 L58.4,48.0 L58.0,47.8 L57.6,47.5 L57.5,47.4 L57.0,47.0 L57.0,47.0 L56.5,46.5 L56.5,46.5 L56.1,46.0 L56.0,45.9 L55.8,45.5 L55.5,45.0 L55.5,45.0 L55.3,44.5 L55.1,44.0 L55.0,43.7 L54.9,43.5 L54.8,43.0 L54.8,42.5 L54.8,42.0 L54.8,41.5 L54.8,41.0 L54.8,40.5 L54.9,40.0 L55.0,39.5 L55.0,39.4 L55.1,39.0 L55.2,38.5 L55.4,38.0 L55.5,37.6 L55.6,37.5 L55.8,37.0 L56.0,36.5 L56.0,36.5 L56.2,36.0 L56.5,35.5 L56.5,35.5 L56.8,35.0 L57.0,34.8 L57.2,34.5 L57.5,34.1 L57.6,34.0 L58.0,33.6 L58.1,33.5 L58.5,33.1 L58.6,33.0 L59.0,32.7 L59.2,32.5 L59.5,32.3 L60.0,32.0 L60.0,32.0 L60.5,31.7 L60.9,31.5 L61.0,31.5 L61.5,31.3 L62.0,31.1 L62.4,31.0Z M37.4,47.0 L37.5,47.0 L38.0,47.0 L38.5,47.0 L38.9,47.0 L39.0,47.0 L39.5,47.0 L40.0,47.0 L40.5,47.1 L41.0,47.1 L41.5,47.2 L42.0,47.3 L42.5,47.3 L43.0,47.4 L43.4,47.5 L43.5,47.5 L44.0,47.6 L44.5,47.8 L45.0,47.9 L45.3,48.0 L45.5,48.1 L46.0,48.2 L46.5,48.4 L46.6,48.5 L47.0,48.7 L47.5,49.0 L47.5,49.0 L48.0,49.3 L48.2,49.5 L48.5,49.7 L48.8,50.0 L49.0,50.3 L49.2,50.5 L49.5,51.0 L49.5,51.0 L49.8,51.5 L50.0,52.0 L50.0,52.0 L50.1,52.5 L50.3,53.0 L50.4,53.5 L50.4,54.0 L50.5,54.5 L50.5,55.0 L50.5,55.5 L50.4,56.0 L50.4,56.5 L50.3,57.0 L50.2,57.5 L50.1,58.0 L50.0,58.3 L49.9,58.5 L49.8,59.0 L49.6,59.5 L49.5,59.8 L49.4,60.0 L49.2,60.5 L49.0,60.9 L49.0,61.0 L48.7,61.5 L48.5,61.9 L48.4,62.0 L48.1,62.5 L48.0,62.7 L47.8,63.0 L47.5,63.5 L47.5,63.5 L47.1,64.0 L47.0,64.2 L46.8,64.5 L46.5,64.9 L46.4,65.0 L46.0,65.5 L46.0,65.5 L45.6,66.0 L45.5,66.1 L45.1,66.5 L45.0,66.6 L44.7,67.0 L44.5,67.2 L44.2,67.5 L44.0,67.7 L43.7,68.0 L43.5,68.2 L43.2,68.5 L43.0,68.7 L42.6,69.0 L42.5,69.1 L42.0,69.5 L42.0,69.5 L41.5,69.9 L41.4,70.0 L41.0,70.3 L40.7,70.5 L40.5,70.7 L40.0,71.0 L40.0,71.0 L39.5,71.4 L39.2,71.5 L39.0,71.7 L38.5,71.9 L38.4,72.0 L38.0,72.2 L37.5,72.5 L37.4,72.5 L37.0,72.7 L36.5,72.9 L36.3,73.0 L36.0,73.1 L35.5,73.3 L35.0,73.5 L35.0,73.5 L34.5,73.7 L34.0,73.9 L33.5,74.0 L33.5,74.0 L33.0,74.1 L32.5,74.3 L32.0,74.4 L31.5,74.5 L31.4,74.5 L31.0,74.6 L30.5,74.7 L30.0,74.7 L29.5,74.8 L29.0,74.8 L28.5,74.9 L28.0,74.9 L27.5,74.9 L27.0,74.9 L26.5,74.9 L26.0,74.9 L25.5,74.9 L25.0,74.8 L24.5,74.8 L24.0,74.7 L23.5,74.6 L23.2,74.5 L23.0,74.4 L22.5,74.3 L22.0,74.2 L21.6,74.0 L21.5,74.0 L21.0,73.8 L20.5,73.5 L20.5,73.5 L20.0,73.3 L19.5,73.0 L19.5,73.0 L19.0,72.7 L18.8,72.5 L18.5,72.3 L18.1,72.0 L18.0,71.9 L17.5,71.5 L17.5,71.5 L17.0,71.0 L17.0,71.0 L16.6,70.5 L16.5,70.4 L16.2,70.0 L16.0,69.7 L15.8,69.5 L15.5,69.0 L15.5,68.9 L15.3,68.5 L15.0,68.0 L15.0,67.9 L14.8,67.5 L14.7,67.0 L14.5,66.5 L14.5,66.3 L14.4,66.0 L14.4,65.5 L14.3,65.0 L14.3,64.5 L14.3,64.0 L14.3,63.5 L14.4,63.0 L14.5,62.5 L14.5,62.3 L14.6,62.0 L14.7,61.5 L14.8,61.0 L15.0,60.6 L15.0,60.5 L15.2,60.0 L15.5,59.5 L15.5,59.4 L15.7,59.0 L16.0,58.5 L16.0,58.5 L16.3,58.0 L16.5,57.6 L16.6,57.5 L16.9,57.0 L17.0,56.9 L17.3,56.5 L17.5,56.3 L17.7,56.0 L18.0,55.7 L18.1,55.5 L18.5,55.1 L18.6,55.0 L19.0,54.6 L19.1,54.5 L19.5,54.1 L19.6,54.0 L20.0,53.7 L20.2,53.5 L20.5,53.2 L20.8,53.0 L21.0,52.8 L21.4,52.5 L21.5,52.5 L22.0,52.1 L22.1,52.0 L22.5,51.7 L22.9,51.5 L23.0,51.4 L23.5,51.1 L23.7,51.0 L24.0,50.8 L24.5,50.5 L24.5,50.5 L25.0,50.2 L25.5,50.0 L25.5,50.0 L26.0,49.7 L26.5,49.5 L26.5,49.5 L27.0,49.3 L27.5,49.1 L27.7,49.0 L28.0,48.9 L28.5,48.7 L29.0,48.5 L29.1,48.5 L29.5,48.3 L30.0,48.2 L30.5,48.0 L30.7,48.0 L31.0,47.9 L31.5,47.8 L32.0,47.7 L32.5,47.6 L32.8,47.5 L33.0,47.5 L33.5,47.4 L34.0,47.3 L34.5,47.2 L35.0,47.2 L35.5,47.1 L36.0,47.1 L36.5,47.0 L37.0,47.0 L37.4,47.0Z M16.5,82.0 L17.0,81.8 L17.5,81.7 L18.0,81.6 L18.5,81.5 L18.7,81.5 L19.0,81.5 L19.5,81.4 L20.0,81.4 L20.5,81.4 L21.0,81.4 L21.5,81.4 L22.0,81.5 L22.2,81.5 L22.5,81.5 L23.0,81.6 L23.5,81.7 L24.0,81.9 L24.2,82.0 M62.9,32.0 L63.0,32.0 L63.5,31.9 L64.0,31.9 L64.5,31.9 L65.0,31.9 L65.5,31.9 L65.8,32.0 L66.0,32.0 L66.5,32.2 L67.0,32.4 L67.3,32.5 L67.5,32.6 L68.0,32.8 L68.3,33.0 L68.5,33.1 L69.0,33.5 L69.0,33.5 L69.5,34.0 L69.5,34.0 L70.0,34.5 L70.0,34.5 L70.4,35.0 L70.5,35.1 L70.7,35.5 L71.0,35.9 L71.0,36.0 L71.3,36.5 L71.5,37.0 L71.5,37.0 L71.7,37.5 L71.8,38.0 L71.9,38.5 L72.0,39.0 L72.0,39.2 L72.0,39.5 L72.0,40.0 L72.0,40.5 L72.0,41.0 L72.0,41.0 L71.9,41.5 L71.8,42.0 L71.7,42.5 L71.6,43.0 L71.5,43.2 L71.4,43.5 L71.1,44.0 L71.0,44.3 L70.9,44.5 L70.6,45.0 L70.5,45.1 L70.2,45.5 L70.0,45.7 L69.8,46.0 L69.5,46.3 L69.3,46.5 L69.0,46.7 L68.6,47.0 L68.5,47.1 L68.0,47.4 L67.9,47.5 L67.5,47.7 L67.0,47.9 L66.8,48.0 L66.5,48.1 L66.0,48.3 L65.5,48.4 L65.0,48.5 L64.6,48.5 L64.5,48.5 L64.0,48.5 L63.5,48.5 L63.4,48.5 L63.0,48.5 L62.5,48.4 L62.0,48.3 L61.5,48.1 L61.1,48.0 L61.0,48.0 L60.5,47.8 L60.0,47.5 L60.0,47.5 L59.5,47.2 L59.1,47.0 L59.0,46.9 L58.5,46.5 L58.5,46.5 L58.0,46.1 L57.9,46.0 L57.5,45.5 L57.5,45.5 L57.1,45.0 L57.0,44.8 L56.8,44.5 L56.6,44.0 L56.5,43.8 L56.4,43.5 L56.2,43.0 L56.1,42.5 L56.0,42.0 L56.0,41.5 L56.0,41.5 L56.0,41.0 L56.0,40.8 L56.0,40.5 L56.1,40.0 L56.1,39.5 L56.2,39.0 L56.4,38.5 L56.5,38.1 L56.5,38.0 L56.7,37.5 L56.9,37.0 L57.0,36.8 L57.2,36.5 L57.5,36.0 L57.5,35.9 L57.8,35.5 L58.0,35.2 L58.2,35.0 L58.5,34.6 L58.6,34.5 L59.0,34.1 L59.1,34.0 L59.5,33.6 L59.7,33.5 L60.0,33.3 L60.4,33.0 L60.5,32.9 L61.0,32.7 L61.3,32.5 L61.5,32.4 L62.0,32.2 L62.5,32.1 L62.9,32.0Z M33.0,48.0 L33.5,47.9 L34.0,47.8 L34.5,47.8 L35.0,47.7 L35.5,47.7 L36.0,47.6 L36.5,47.6 L37.0,47.6 L37.5,47.6 L38.0,47.6 L38.5,47.6 L39.0,47.6 L39.5,47.6 L40.0,47.7 L40.5,47.7 L41.0,47.8 L41.5,47.8 L42.0,47.9 L42.3,48.0 L42.5,48.0 L43.0,48.1 L43.5,48.3 L44.0,48.4 L44.3,48.5 L44.5,48.6 L45.0,48.8 L45.5,49.0 L45.6,49.0 L46.0,49.2 L46.5,49.5 L46.5,49.5 L47.0,49.8 L47.2,50.0 L47.5,50.2 L47.8,50.5 L48.0,50.7 L48.2,51.0 L48.5,51.4 L48.6,51.5 L48.9,52.0 L49.0,52.3 L49.1,52.5 L49.3,53.0 L49.4,53.5 L49.5,54.0 L49.5,54.1 L49.6,54.5 L49.6,55.0 L49.6,55.5 L49.6,56.0 L49.6,56.5 L49.5,57.0 L49.5,57.0 L49.4,57.5 L49.3,58.0 L49.2,58.5 L49.0,59.0 L49.0,59.1 L48.9,59.5 L48.7,60.0 L48.5,60.4 L48.5,60.5 L48.2,61.0 L48.0,61.4 L48.0,61.5 L47.7,62.0 L47.5,62.3 L47.4,62.5 L47.1,63.0 L47.0,63.1 L46.8,63.5 L46.5,63.9 L46.4,64.0 L46.0,64.5 L46.0,64.5 L45.6,65.0 L45.5,65.2 L45.2,65.5 L45.0,65.8 L44.8,66.0 L44.5,66.3 L44.3,66.5 L44.0,66.9 L43.9,67.0 L43.5,67.4 L43.4,67.5 L43.0,67.8 L42.8,68.0 L42.5,68.3 L42.3,68.5 L42.0,68.7 L41.7,69.0 L41.5,69.1 L41.0,69.5 L41.0,69.5 L40.5,69.9 L40.4,70.0 L40.0,70.2 L39.6,70.5 L39.5,70.6 L39.0,70.9 L38.8,71.0 L38.5,71.2 L38.0,71.5 L37.9,71.5 L37.5,71.7 L37.0,72.0 L36.9,72.0 L36.5,72.2 L36.0,72.4 L35.7,72.5 L35.5,72.6 L35.0,72.8 L34.5,72.9 L34.3,73.0 L34.0,73.1 L33.5,73.3 L33.0,73.4 L32.6,73.5 L32.5,73.5 L32.0,73.6 L31.5,73.7 L31.0,73.8 L30.5,73.9 L30.0,74.0 L29.9,74.0 L29.5,74.1 L29.0,74.1 L28.5,74.1 L28.0,74.2 L27.5,74.2 L27.0,74.2 L26.5,74.2 L26.0,74.1 L25.5,74.1 L25.0,74.0 L24.7,74.0 L24.5,74.0 L24.0,73.9 L23.5,73.8 L23.0,73.7 L22.5,73.5 L22.5,73.5 L22.0,73.3 L21.5,73.1 L21.2,73.0 L21.0,72.9 L20.5,72.7 L20.2,72.5 L20.0,72.4 L19.5,72.1 L19.4,72.0 L19.0,71.7 L18.7,71.5 L18.5,71.3 L18.1,71.0 L18.0,70.9 L17.6,70.5 L17.5,70.4 L17.2,70.0 L17.0,69.8 L16.8,69.5 L16.5,69.1 L16.4,69.0 L16.1,68.5 L16.0,68.2 L15.9,68.0 L15.7,67.5 L15.5,67.1 L15.5,67.0 L15.3,66.5 L15.2,66.0 L15.1,65.5 L15.1,65.0 L15.0,64.5 L15.0,64.0 L15.1,63.5 L15.1,63.0 L15.2,62.5 L15.3,62.0 L15.4,61.5 L15.5,61.2 L15.6,61.0 L15.7,60.5 L15.9,60.0 L16.0,59.9 L16.2,59.5 L16.4,59.0 L16.5,58.9 L16.7,58.5 L17.0,58.0 L17.0,58.0 L17.3,57.5 L17.5,57.3 L17.7,57.0 L18.0,56.6 L18.1,56.5 L18.5,56.0 L18.5,56.0 L18.9,55.5 L19.0,55.4 L19.4,55.0 L19.5,54.9 L19.9,54.5 L20.0,54.4 L20.5,54.0 L20.5,54.0 L21.0,53.5 L21.0,53.5 L21.5,53.1 L21.7,53.0 L22.0,52.7 L22.3,52.5 L22.5,52.4 L23.0,52.0 L23.1,52.0 L23.5,51.7 L23.9,51.5 L24.0,51.4 L24.5,51.1 L24.7,51.0 L25.0,50.8 L25.5,50.6 L25.6,50.5 L26.0,50.3 L26.5,50.1 L26.7,50.0 L27.0,49.9 L27.5,49.6 L27.8,49.5 L28.0,49.4 L28.5,49.2 L29.0,49.1 L29.2,49.0 L29.5,48.9 L30.0,48.7 L30.5,48.6 L30.8,48.5 L31.0,48.5 L31.5,48.3 L32.0,48.2 L32.5,48.1 L33.0,48.0 L33.0,48.0Z M18.3,82.0 L18.5,82.0 L19.0,81.9 L19.5,81.8 L20.0,81.8 L20.5,81.8 L21.0,81.8 L21.5,81.9 L22.0,82.0 L22.2,82.0 M63.7,33.0 L64.0,33.0 L64.5,33.0 L65.0,33.0 L65.0,33.0 L65.5,33.1 L66.0,33.2 L66.5,33.3 L66.9,33.5 L67.0,33.5 L67.5,33.8 L67.8,34.0 L68.0,34.1 L68.5,34.5 L68.5,34.5 L69.0,35.0 L69.0,35.0 L69.4,35.5 L69.5,35.6 L69.8,36.0 L70.0,36.3 L70.1,36.5 L70.4,37.0 L70.5,37.4 L70.6,37.5 L70.7,38.0 L70.8,38.5 L70.9,39.0 L71.0,39.5 L71.0,39.7 L71.0,40.0 L71.0,40.5 L71.0,40.5 L71.0,41.0 L70.9,41.5 L70.8,42.0 L70.6,42.5 L70.5,42.9 L70.4,43.0 L70.2,43.5 L70.0,43.9 L69.9,44.0 L69.6,44.5 L69.5,44.7 L69.2,45.0 L69.0,45.2 L68.7,45.5 L68.5,45.7 L68.2,46.0 L68.0,46.1 L67.5,46.4 L67.4,46.5 L67.0,46.7 L66.5,46.9 L66.3,47.0 L66.0,47.1 L65.5,47.2 L65.0,47.3 L64.5,47.4 L64.0,47.4 L63.5,47.4 L63.0,47.3 L62.5,47.2 L62.0,47.1 L61.7,47.0 L61.5,46.9 L61.0,46.7 L60.6,46.5 L60.5,46.5 L60.0,46.2 L59.8,46.0 L59.5,45.8 L59.2,45.5 L59.0,45.3 L58.7,45.0 L58.5,44.8 L58.3,44.5 L58.0,44.1 L58.0,44.0 L57.7,43.5 L57.5,43.0 L57.5,43.0 L57.4,42.5 L57.2,42.0 L57.2,41.5 L57.1,41.0 L57.1,40.5 L57.2,40.0 L57.3,39.5 L57.4,39.0 L57.5,38.5 L57.5,38.5 L57.7,38.0 L57.9,37.5 L58.0,37.2 L58.1,37.0 L58.4,36.5 L58.5,36.3 L58.7,36.0 L59.0,35.6 L59.1,35.5 L59.5,35.1 L59.6,35.0 L60.0,34.6 L60.1,34.5 L60.5,34.2 L60.8,34.0 L61.0,33.9 L61.5,33.6 L61.8,33.5 L62.0,33.4 L62.5,33.2 L63.0,33.1 L63.5,33.0 L63.7,33.0Z M33.0,48.5 L33.5,48.4 L34.0,48.3 L34.5,48.3 L35.0,48.2 L35.5,48.2 L36.0,48.1 L36.5,48.1 L37.0,48.1 L37.5,48.1 L38.0,48.1 L38.5,48.1 L39.0,48.1 L39.5,48.2 L40.0,48.2 L40.5,48.3 L41.0,48.4 L41.5,48.5 L41.7,48.5 L42.0,48.6 L42.5,48.7 L43.0,48.8 L43.5,49.0 L43.6,49.0 L44.0,49.1 L44.5,49.3 L44.9,49.5 L45.0,49.6 L45.5,49.8 L45.8,50.0 L46.0,50.1 L46.5,50.5 L46.5,50.5 L47.0,51.0 L47.0,51.0 L47.5,51.5 L47.5,51.5 L47.8,52.0 L48.0,52.3 L48.1,52.5 L48.3,53.0 L48.5,53.4 L48.5,53.5 L48.7,54.0 L48.8,54.5 L48.8,55.0 L48.8,55.5 L48.9,56.0 L48.8,56.5 L48.8,57.0 L48.7,57.5 L48.6,58.0 L48.5,58.4 L48.5,58.5 L48.3,59.0 L48.2,59.5 L48.0,60.0 L48.0,60.0 L47.8,60.5 L47.6,61.0 L47.5,61.1 L47.3,61.5 L47.0,62.0 L47.0,62.0 L46.7,62.5 L46.5,62.9 L46.4,63.0 L46.1,63.5 L46.0,63.6 L45.7,64.0 L45.5,64.3 L45.3,64.5 L45.0,64.9 L44.9,65.0 L44.5,65.5 L44.5,65.5 L44.1,66.0 L44.0,66.1 L43.6,66.5 L43.5,66.6 L43.1,67.0 L43.0,67.1 L42.6,67.5 L42.5,67.6 L42.0,68.0 L42.0,68.0 L41.5,68.4 L41.4,68.5 L41.0,68.8 L40.8,69.0 L40.5,69.2 L40.1,69.5 L40.0,69.6 L39.5,69.9 L39.4,70.0 L39.0,70.2 L38.5,70.5 L38.5,70.5 L38.0,70.8 L37.6,71.0 L37.5,71.1 L37.0,71.3 L36.6,71.5 L36.5,71.5 L36.0,71.8 L35.5,72.0 L35.4,72.0 L35.0,72.2 L34.5,72.3 L34.0,72.5 L34.0,72.5 L33.5,72.6 L33.0,72.8 L32.5,72.9 L32.1,73.0 L32.0,73.0 L31.5,73.1 L31.0,73.2 L30.5,73.3 L30.0,73.4 L29.5,73.4 L29.0,73.5 L28.7,73.5 L28.5,73.5 L28.0,73.5 L27.5,73.6 L27.0,73.5 L26.5,73.5 L26.0,73.5 L26.0,73.5 L25.5,73.5 L25.0,73.4 L24.5,73.3 L24.0,73.2 L23.5,73.1 L23.2,73.0 L23.0,73.0 L22.5,72.8 L22.0,72.6 L21.7,72.5 L21.5,72.4 L21.0,72.2 L20.7,72.0 L20.5,71.9 L20.0,71.6 L19.9,71.5 L19.5,71.2 L19.2,71.0 L19.0,70.9 L18.6,70.5 L18.5,70.4 L18.1,70.0 L18.0,69.9 L17.7,69.5 L17.5,69.3 L17.3,69.0 L17.0,68.6 L17.0,68.5 L16.7,68.0 L16.5,67.6 L16.4,67.5 L16.2,67.0 L16.1,66.5 L16.0,66.3 L15.9,66.0 L15.8,65.5 L15.8,65.0 L15.7,64.5 L15.7,64.0 L15.7,63.5 L15.8,63.0 L15.9,62.5 L16.0,62.0 L16.0,61.8 L16.1,61.5 L16.2,61.0 L16.4,60.5 L16.5,60.3 L16.6,60.0 L16.8,59.5 L17.0,59.2 L17.1,59.0 L17.4,58.5 L17.5,58.3 L17.7,58.0 L18.0,57.5 L18.0,57.5 L18.4,57.0 L18.5,56.9 L18.8,56.5 L19.0,56.2 L19.2,56.0 L19.5,55.7 L19.7,55.5 L20.0,55.1 L20.1,55.0 L20.5,54.7 L20.7,54.5 L21.0,54.2 L21.2,54.0 L21.5,53.8 L21.8,53.5 L22.0,53.4 L22.5,53.0 L22.5,53.0 L23.0,52.6 L23.2,52.5 L23.5,52.3 L24.0,52.0 L24.0,52.0 L24.5,51.7 L24.8,51.5 L25.0,51.4 L25.5,51.1 L25.7,51.0 L26.0,50.9 L26.5,50.6 L26.7,50.5 L27.0,50.4 L27.5,50.2 L27.9,50.0 L28.0,50.0 L28.5,49.8 L29.0,49.6 L29.2,49.5 L29.5,49.4 L30.0,49.2 L30.5,49.1 L30.8,49.0 L31.0,49.0 L31.5,48.8 L32.0,48.7 L32.5,48.6 L33.0,48.5 L33.0,48.5Z M62.5,34.5 L62.5,34.5 L63.0,34.3 L63.5,34.2 L64.0,34.2 L64.5,34.2 L65.0,34.2 L65.5,34.3 L66.0,34.4 L66.2,34.5 L66.5,34.6 L67.0,34.9 L67.2,35.0 L67.5,35.2 L67.8,35.5 L68.0,35.6 L68.3,36.0 L68.5,36.2 L68.7,36.5 L69.0,36.9 L69.1,37.0 L69.3,37.5 L69.5,37.9 L69.5,38.0 L69.7,38.5 L69.8,39.0 L69.8,39.5 L69.9,40.0 L69.9,40.5 L69.8,41.0 L69.7,41.5 L69.6,42.0 L69.5,42.3 L69.4,42.5 L69.2,43.0 L69.0,43.3 L68.9,43.5 L68.5,44.0 L68.5,44.1 L68.1,44.5 L68.0,44.6 L67.5,45.0 L67.5,45.0 L67.0,45.4 L66.8,45.5 L66.5,45.6 L66.0,45.8 L65.5,46.0 L65.5,46.0 L65.0,46.1 L64.5,46.2 L64.0,46.2 L63.5,46.2 L63.0,46.1 L62.6,46.0 L62.5,46.0 L62.0,45.8 L61.5,45.6 L61.3,45.5 L61.0,45.3 L60.5,45.0 L60.5,45.0 L60.0,44.6 L59.9,44.5 L59.5,44.0 L59.5,44.0 L59.1,43.5 L59.0,43.3 L58.9,43.0 L58.7,42.5 L58.5,42.0 L58.5,42.0 L58.4,41.5 L58.3,41.0 L58.3,40.5 L58.4,40.0 L58.4,39.5 L58.5,39.2 L58.5,39.0 L58.7,38.5 L58.9,38.0 L59.0,37.7 L59.1,37.5 L59.4,37.0 L59.5,36.9 L59.8,36.5 L60.0,36.2 L60.2,36.0 L60.5,35.7 L60.7,35.5 L61.0,35.3 L61.4,35.0 L61.5,35.0 L62.0,34.7 L62.5,34.5Z M32.9,49.0 L33.0,49.0 L33.5,48.9 L34.0,48.8 L34.5,48.7 L35.0,48.7 L35.5,48.7 L36.0,48.6 L36.5,48.6 L37.0,48.6 L37.5,48.6 L38.0,48.6 L38.5,48.6 L39.0,48.7 L39.5,48.7 L40.0,48.8 L40.5,48.8 L41.0,48.9 L41.3,49.0 L41.5,49.0 L42.0,49.2 L42.5,49.3 L43.0,49.5 L43.1,49.5 L43.5,49.6 L44.0,49.8 L44.3,50.0 L44.5,50.1 L45.0,50.4 L45.2,50.5 L45.5,50.7 L45.9,51.0 L46.0,51.1 L46.4,51.5 L46.5,51.6 L46.9,52.0 L47.0,52.2 L47.2,52.5 L47.5,53.0 L47.5,53.0 L47.7,53.5 L47.9,54.0 L48.0,54.5 L48.0,54.6 L48.1,55.0 L48.1,55.5 L48.1,56.0 L48.1,56.5 L48.1,57.0 L48.0,57.5 L48.0,57.7 L47.9,58.0 L47.8,58.5 L47.7,59.0 L47.5,59.5 L47.5,59.6 L47.4,60.0 L47.1,60.5 L47.0,60.8 L46.9,61.0 L46.7,61.5 L46.5,61.8 L46.4,62.0 L46.1,62.5 L46.0,62.6 L45.8,63.0 L45.5,63.4 L45.4,63.5 L45.1,64.0 L45.0,64.1 L44.7,64.5 L44.5,64.7 L44.3,65.0 L44.0,65.3 L43.8,65.5 L43.5,65.9 L43.4,66.0 L43.0,66.4 L42.9,66.5 L42.5,66.9 L42.4,67.0 L42.0,67.3 L41.8,67.5 L41.5,67.8 L41.2,68.0 L41.0,68.2 L40.6,68.5 L40.5,68.6 L40.0,69.0 L39.9,69.0 L39.5,69.3 L39.2,69.5 L39.0,69.6 L38.5,69.9 L38.4,70.0 L38.0,70.2 L37.5,70.5 L37.5,70.5 L37.0,70.7 L36.5,71.0 L36.5,71.0 L36.0,71.2 L35.5,71.4 L35.3,71.5 L35.0,71.6 L34.5,71.8 L34.0,71.9 L33.8,72.0 L33.5,72.1 L33.0,72.2 L32.5,72.4 L32.0,72.5 L31.9,72.5 L31.5,72.6 L31.0,72.7 L30.5,72.8 L30.0,72.8 L29.5,72.9 L29.0,72.9 L28.5,73.0 L28.0,73.0 L27.5,73.0 L27.0,73.0 L26.5,73.0 L26.0,72.9 L25.5,72.9 L25.0,72.8 L24.5,72.7 L24.0,72.6 L23.6,72.5 L23.5,72.5 L23.0,72.3 L22.5,72.1 L22.1,72.0 L22.0,71.9 L21.5,71.7 L21.1,71.5 L21.0,71.5 L20.5,71.2 L20.3,71.0 L20.0,70.8 L19.6,70.5 L19.5,70.4 L19.0,70.0 L19.0,70.0 L18.5,69.5 L18.5,69.5 L18.1,69.0 L18.0,68.9 L17.7,68.5 L17.5,68.1 L17.4,68.0 L17.2,67.5 L17.0,67.1 L17.0,67.0 L16.8,66.5 L16.6,66.0 L16.5,65.5 L16.5,65.4 L16.4,65.0 L16.4,64.5 L16.4,64.0 L16.4,63.5 L16.4,63.0 L16.5,62.5 L16.5,62.5 L16.6,62.0 L16.7,61.5 L16.9,61.0 L17.0,60.6 L17.1,60.5 L17.3,60.0 L17.5,59.5 L17.5,59.5 L17.7,59.0 L18.0,58.6 L18.0,58.5 L18.3,58.0 L18.5,57.8 L18.7,57.5 L19.0,57.1 L19.1,57.0 L19.5,56.5 L19.5,56.5 L19.9,56.0 L20.0,55.9 L20.4,55.5 L20.5,55.4 L20.9,55.0 L21.0,54.9 L21.4,54.5 L21.5,54.4 L22.0,54.0 L22.0,54.0 L22.5,53.6 L22.6,53.5 L23.0,53.2 L23.3,53.0 L23.5,52.9 L24.0,52.5 L24.1,52.5 L24.5,52.2 L24.9,52.0 L25.0,51.9 L25.5,51.6 L25.8,51.5 L26.0,51.4 L26.5,51.1 L26.8,51.0 L27.0,50.9 L27.5,50.7 L27.9,50.5 L28.0,50.5 L28.5,50.3 L29.0,50.1 L29.2,50.0 L29.5,49.9 L30.0,49.7 L30.5,49.6 L30.8,49.5 L31.0,49.4 L31.5,49.3 L32.0,49.2 L32.5,49.1 L32.9,49.0Z M62.6,36.0 L63.0,35.8 L63.5,35.7 L64.0,35.7 L64.5,35.7 L65.0,35.7 L65.5,35.8 L65.9,36.0 L66.0,36.0 L66.5,36.3 L66.7,36.5 L67.0,36.7 L67.3,37.0 L67.5,37.3 L67.7,37.5 L68.0,38.0 L68.0,38.0 L68.2,38.5 L68.3,39.0 L68.4,39.5 L68.5,40.0 L68.5,40.5 L68.4,41.0 L68.3,41.5 L68.1,42.0 L68.0,42.2 L67.9,42.5 L67.5,43.0 L67.5,43.0 L67.1,43.5 L67.0,43.6 L66.5,44.0 L66.5,44.0 L66.0,44.3 L65.5,44.5 L65.5,44.5 L65.0,44.6 L64.5,44.7 L64.0,44.7 L63.5,44.7 L63.0,44.6 L62.6,44.5 L62.5,44.5 L62.0,44.2 L61.6,44.0 L61.5,43.9 L61.0,43.5 L61.0,43.5 L60.6,43.0 L60.5,42.9 L60.2,42.5 L60.0,42.0 L60.0,42.0 L59.9,41.5 L59.8,41.0 L59.7,40.5 L59.8,40.0 L59.8,39.5 L60.0,39.0 L60.0,38.9 L60.1,38.5 L60.4,38.0 L60.5,37.8 L60.7,37.5 L61.0,37.2 L61.2,37.0 L61.5,36.7 L61.7,36.5 L62.0,36.3 L62.5,36.0 L62.6,36.0Z M32.7,49.5 L33.0,49.4 L33.5,49.4 L34.0,49.3 L34.5,49.2 L35.0,49.2 L35.5,49.1 L36.0,49.1 L36.5,49.1 L37.0,49.1 L37.5,49.1 L38.0,49.1 L38.5,49.1 L39.0,49.2 L39.5,49.2 L40.0,49.3 L40.5,49.4 L41.0,49.5 L41.0,49.5 L41.5,49.6 L42.0,49.8 L42.5,49.9 L42.7,50.0 L43.0,50.1 L43.5,50.3 L43.9,50.5 L44.0,50.6 L44.5,50.8 L44.7,51.0 L45.0,51.2 L45.4,51.5 L45.5,51.6 L45.9,52.0 L46.0,52.1 L46.3,52.5 L46.5,52.8 L46.6,53.0 L46.9,53.5 L47.0,53.8 L47.1,54.0 L47.3,54.5 L47.4,55.0 L47.4,55.5 L47.5,56.0 L47.5,56.5 L47.4,57.0 L47.4,57.5 L47.3,58.0 L47.2,58.5 L47.1,59.0 L47.0,59.2 L46.9,59.5 L46.7,60.0 L46.5,60.5 L46.5,60.5 L46.3,61.0 L46.0,61.5 L46.0,61.6 L45.8,62.0 L45.5,62.4 L45.5,62.5 L45.1,63.0 L45.0,63.2 L44.8,63.5 L44.5,63.9 L44.4,64.0 L44.0,64.5 L44.0,64.5 L43.6,65.0 L43.5,65.1 L43.2,65.5 L43.0,65.7 L42.7,66.0 L42.5,66.2 L42.2,66.5 L42.0,66.7 L41.7,67.0 L41.5,67.1 L41.1,67.5 L41.0,67.6 L40.5,68.0 L40.5,68.0 L40.0,68.4 L39.8,68.5 L39.5,68.7 L39.1,69.0 L39.0,69.1 L38.5,69.4 L38.3,69.5 L38.0,69.7 L37.5,69.9 L37.4,70.0 L37.0,70.2 L36.5,70.4 L36.4,70.5 L36.0,70.7 L35.5,70.9 L35.2,71.0 L35.0,71.1 L34.5,71.3 L34.0,71.4 L33.8,71.5 L33.5,71.6 L33.0,71.7 L32.5,71.9 L32.0,72.0 L31.9,72.0 L31.5,72.1 L31.0,72.2 L30.5,72.3 L30.0,72.3 L29.5,72.4 L29.0,72.4 L28.5,72.4 L28.0,72.5 L27.5,72.5 L27.0,72.4 L26.5,72.4 L26.0,72.4 L25.5,72.3 L25.0,72.2 L24.5,72.1 L24.0,72.0 L24.0,72.0 L23.5,71.9 L23.0,71.7 L22.5,71.5 L22.5,71.5 L22.0,71.3 L21.5,71.0 L21.4,71.0 L21.0,70.7 L20.6,70.5 L20.5,70.4 L20.0,70.0 L20.0,70.0 L19.5,69.6 L19.4,69.5 L19.0,69.1 L18.9,69.0 L18.5,68.5 L18.5,68.4 L18.2,68.0 L18.0,67.6 L17.9,67.5 L17.7,67.0 L17.5,66.6 L17.5,66.5 L17.3,66.0 L17.2,65.5 L17.1,65.0 L17.1,64.5 L17.0,64.0 L17.0,63.5 L17.1,63.0 L17.1,62.5 L17.2,62.0 L17.4,61.5 L17.5,61.0 L17.5,61.0 L17.7,60.5 L17.9,60.0 L18.0,59.8 L18.1,59.5 L18.4,59.0 L18.5,58.8 L18.7,58.5 L19.0,58.0 L19.0,58.0 L19.3,57.5 L19.5,57.3 L19.7,57.0 L20.0,56.7 L20.1,56.5 L20.5,56.1 L20.6,56.0 L21.0,55.6 L21.1,55.5 L21.5,55.1 L21.6,55.0 L22.0,54.6 L22.2,54.5 L22.5,54.2 L22.8,54.0 L23.0,53.8 L23.4,53.5 L23.5,53.4 L24.0,53.1 L24.2,53.0 L24.5,52.8 L24.9,52.5 L25.0,52.5 L25.5,52.2 L25.8,52.0 L26.0,51.9 L26.5,51.6 L26.8,51.5 L27.0,51.4 L27.5,51.2 L27.9,51.0 L28.0,50.9 L28.5,50.7 L29.0,50.5 L29.1,50.5 L29.5,50.4 L30.0,50.2 L30.5,50.0 L30.6,50.0 L31.0,49.9 L31.5,49.8 L32.0,49.6 L32.5,49.5 L32.7,49.5Z M63.5,38.5 L63.5,38.5 L64.0,38.4 L64.5,38.5 L64.5,38.5 L65.0,38.8 L65.3,39.0 L65.5,39.3 L65.6,39.5 L65.7,40.0 L65.7,40.5 L65.6,41.0 L65.5,41.2 L65.3,41.5 L65.0,41.8 L64.7,42.0 L64.5,42.1 L64.0,42.1 L63.5,42.1 L63.2,42.0 L63.0,41.9 L62.5,41.5 L62.5,41.5 L62.3,41.0 L62.2,40.5 L62.2,40.0 L62.3,39.5 L62.5,39.2 L62.7,39.0 L63.0,38.7 L63.5,38.5Z M32.5,50.0 L33.0,49.9 L33.5,49.8 L34.0,49.8 L34.5,49.7 L35.0,49.6 L35.5,49.6 L36.0,49.6 L36.5,49.6 L37.0,49.6 L37.5,49.6 L38.0,49.6 L38.5,49.6 L39.0,49.7 L39.5,49.8 L40.0,49.8 L40.5,49.9 L40.8,50.0 L41.0,50.1 L41.5,50.2 L42.0,50.4 L42.4,50.5 L42.5,50.5 L43.0,50.8 L43.5,51.0 L43.5,51.0 L44.0,51.3 L44.3,51.5 L44.5,51.7 L44.9,52.0 L45.0,52.1 L45.4,52.5 L45.5,52.6 L45.8,53.0 L46.0,53.4 L46.1,53.5 L46.3,54.0 L46.5,54.5 L46.5,54.5 L46.6,55.0 L46.7,55.5 L46.8,56.0 L46.8,56.5 L46.8,57.0 L46.7,57.5 L46.7,58.0 L46.6,58.5 L46.5,58.8 L46.4,59.0 L46.3,59.5 L46.1,60.0 L46.0,60.3 L45.9,60.5 L45.7,61.0 L45.5,61.3 L45.4,61.5 L45.1,62.0 L45.0,62.2 L44.8,62.5 L44.5,63.0 L44.5,63.0 L44.2,63.5 L44.0,63.7 L43.8,64.0 L43.5,64.4 L43.4,64.5 L43.0,64.9 L43.0,65.0 L42.5,65.5 L42.5,65.5 L42.0,66.0 L42.0,66.0 L41.5,66.5 L41.5,66.5 L41.0,66.9 L40.9,67.0 L40.5,67.4 L40.3,67.5 L40.0,67.8 L39.7,68.0 L39.5,68.1 L39.0,68.5 L39.0,68.5 L38.5,68.8 L38.2,69.0 L38.0,69.1 L37.5,69.4 L37.3,69.5 L37.0,69.7 L36.5,69.9 L36.3,70.0 L36.0,70.2 L35.5,70.4 L35.2,70.5 L35.0,70.6 L34.5,70.8 L34.0,70.9 L33.8,71.0 L33.5,71.1 L33.0,71.2 L32.5,71.4 L32.0,71.5 L31.9,71.5 L31.5,71.6 L31.0,71.7 L30.5,71.8 L30.0,71.8 L29.5,71.9 L29.0,71.9 L28.5,71.9 L28.0,72.0 L27.5,72.0 L27.0,71.9 L26.5,71.9 L26.0,71.8 L25.5,71.8 L25.0,71.7 L24.5,71.6 L24.2,71.5 L24.0,71.4 L23.5,71.3 L23.0,71.1 L22.8,71.0 L22.5,70.9 L22.0,70.6 L21.8,70.5 L21.5,70.3 L21.0,70.0 L21.0,70.0 L20.5,69.6 L20.3,69.5 L20.0,69.2 L19.8,69.0 L19.5,68.7 L19.4,68.5 L19.0,68.0 L19.0,68.0 L18.7,67.5 L18.5,67.2 L18.4,67.0 L18.2,66.5 L18.0,66.0 L18.0,66.0 L17.9,65.5 L17.8,65.0 L17.7,64.5 L17.7,64.0 L17.7,63.5 L17.7,63.0 L17.8,62.5 L17.9,62.0 L18.0,61.5 L18.0,61.4 L18.1,61.0 L18.3,60.5 L18.5,60.0 L18.5,60.0 L18.8,59.5 L19.0,59.0 L19.0,59.0 L19.3,58.5 L19.5,58.2 L19.6,58.0 L20.0,57.5 L20.0,57.5 L20.4,57.0 L20.5,56.9 L20.8,56.5 L21.0,56.3 L21.3,56.0 L21.5,55.8 L21.8,55.5 L22.0,55.3 L22.3,55.0 L22.5,54.8 L22.9,54.5 L23.0,54.4 L23.5,54.0 L23.5,54.0 L24.0,53.7 L24.2,53.5 L24.5,53.3 L25.0,53.0 L25.0,53.0 L25.5,52.7 L25.9,52.5 L26.0,52.4 L26.5,52.1 L26.8,52.0 L27.0,51.9 L27.5,51.7 L27.8,51.5 L28.0,51.4 L28.5,51.2 L29.0,51.0 L29.1,51.0 L29.5,50.8 L30.0,50.7 L30.5,50.5 L30.6,50.5 L31.0,50.4 L31.5,50.2 L32.0,50.1 L32.5,50.0 L32.5,50.0Z M32.4,50.5 L32.5,50.5 L33.0,50.4 L33.5,50.3 L34.0,50.2 L34.5,50.2 L35.0,50.1 L35.5,50.1 L36.0,50.1 L36.5,50.1 L37.0,50.1 L37.5,50.1 L38.0,50.1 L38.5,50.2 L39.0,50.2 L39.5,50.3 L40.0,50.4 L40.5,50.5 L40.5,50.5 L41.0,50.6 L41.5,50.8 L42.0,51.0 L42.0,51.0 L42.5,51.2 L43.0,51.5 L43.1,51.5 L43.5,51.8 L43.8,52.0 L44.0,52.1 L44.4,52.5 L44.5,52.6 L44.9,53.0 L45.0,53.2 L45.2,53.5 L45.5,53.9 L45.5,54.0 L45.7,54.5 L45.9,55.0 L46.0,55.4 L46.0,55.5 L46.1,56.0 L46.1,56.5 L46.1,57.0 L46.1,57.5 L46.0,58.0 L46.0,58.1 L45.9,58.5 L45.8,59.0 L45.7,59.5 L45.5,59.9 L45.5,60.0 L45.3,60.5 L45.0,61.0 L45.0,61.1 L44.8,61.5 L44.5,62.0 L44.5,62.0 L44.2,62.5 L44.0,62.8 L43.9,63.0 L43.5,63.5 L43.5,63.5 L43.1,64.0 L43.0,64.2 L42.7,64.5 L42.5,64.8 L42.3,65.0 L42.0,65.3 L41.8,65.5 L41.5,65.8 L41.3,66.0 L41.0,66.3 L40.8,66.5 L40.5,66.7 L40.2,67.0 L40.0,67.2 L39.6,67.5 L39.5,67.6 L39.0,67.9 L38.9,68.0 L38.5,68.3 L38.1,68.5 L38.0,68.6 L37.5,68.9 L37.3,69.0 L37.0,69.1 L36.5,69.4 L36.3,69.5 L36.0,69.6 L35.5,69.9 L35.2,70.0 L35.0,70.1 L34.5,70.3 L34.0,70.4 L33.8,70.5 L33.5,70.6 L33.0,70.8 L32.5,70.9 L32.0,71.0 L32.0,71.0 L31.5,71.1 L31.0,71.2 L30.5,71.3 L30.0,71.3 L29.5,71.4 L29.0,71.4 L28.5,71.4 L28.0,71.5 L27.5,71.4 L27.0,71.4 L26.5,71.4 L26.0,71.3 L25.5,71.2 L25.0,71.1 L24.5,71.0 L24.5,71.0 L24.0,70.9 L23.5,70.7 L23.1,70.5 L23.0,70.5 L22.5,70.2 L22.1,70.0 L22.0,69.9 L21.5,69.6 L21.3,69.5 L21.0,69.2 L20.7,69.0 L20.5,68.8 L20.2,68.5 L20.0,68.2 L19.8,68.0 L19.5,67.6 L19.4,67.5 L19.2,67.0 L19.0,66.7 L18.9,66.5 L18.7,66.0 L18.6,65.5 L18.5,65.2 L18.5,65.0 L18.4,64.5 L18.3,64.0 L18.3,63.5 L18.4,63.0 L18.4,62.5 L18.5,62.1 L18.5,62.0 L18.6,61.5 L18.8,61.0 L19.0,60.5 L19.0,60.4 L19.2,60.0 L19.4,59.5 L19.5,59.3 L19.7,59.0 L20.0,58.5 L20.0,58.5 L20.3,58.0 L20.5,57.7 L20.7,57.5 L21.0,57.1 L21.1,57.0 L21.5,56.5 L21.5,56.5 L22.0,56.0 L22.0,56.0 L22.5,55.5 L22.5,55.5 L23.0,55.1 L23.1,55.0 L23.5,54.7 L23.7,54.5 L24.0,54.3 L24.4,54.0 L24.5,53.9 L25.0,53.6 L25.1,53.5 L25.5,53.3 L25.9,53.0 L26.0,53.0 L26.5,52.7 L26.8,52.5 L27.0,52.4 L27.5,52.2 L27.9,52.0 L28.0,51.9 L28.5,51.7 L29.0,51.5 L29.1,51.5 L29.5,51.3 L30.0,51.2 L30.5,51.0 L30.5,51.0 L31.0,50.9 L31.5,50.7 L32.0,50.6 L32.4,50.5Z M32.4,51.0 L32.5,51.0 L33.0,50.9 L33.5,50.8 L34.0,50.7 L34.5,50.7 L35.0,50.6 L35.5,50.6 L36.0,50.6 L36.5,50.6 L37.0,50.6 L37.5,50.6 L38.0,50.6 L38.5,50.7 L39.0,50.8 L39.5,50.9 L40.0,51.0 L40.1,51.0 L40.5,51.1 L41.0,51.3 L41.5,51.5 L41.6,51.5 L42.0,51.7 L42.5,51.9 L42.6,52.0 L43.0,52.3 L43.3,52.5 L43.5,52.6 L43.9,53.0 L44.0,53.1 L44.3,53.5 L44.5,53.7 L44.7,54.0 L44.9,54.5 L45.0,54.6 L45.1,55.0 L45.3,55.5 L45.4,56.0 L45.4,56.5 L45.4,57.0 L45.4,57.5 L45.4,58.0 L45.3,58.5 L45.1,59.0 L45.0,59.5 L45.0,59.5 L44.8,60.0 L44.6,60.5 L44.5,60.8 L44.4,61.0 L44.1,61.5 L44.0,61.7 L43.8,62.0 L43.5,62.5 L43.5,62.6 L43.2,63.0 L43.0,63.3 L42.8,63.5 L42.5,63.9 L42.5,64.0 L42.0,64.5 L42.0,64.5 L41.6,65.0 L41.5,65.1 L41.1,65.5 L41.0,65.6 L40.6,66.0 L40.5,66.1 L40.0,66.5 L40.0,66.5 L39.5,66.9 L39.4,67.0 L39.0,67.3 L38.7,67.5 L38.5,67.7 L38.0,68.0 L38.0,68.0 L37.5,68.3 L37.2,68.5 L37.0,68.6 L36.5,68.9 L36.3,69.0 L36.0,69.1 L35.5,69.4 L35.2,69.5 L35.0,69.6 L34.5,69.8 L34.0,69.9 L33.8,70.0 L33.5,70.1 L33.0,70.3 L32.5,70.4 L32.1,70.5 L32.0,70.5 L31.5,70.6 L31.0,70.7 L30.5,70.8 L30.0,70.8 L29.5,70.9 L29.0,70.9 L28.5,70.9 L28.0,70.9 L27.5,70.9 L27.0,70.9 L26.5,70.8 L26.0,70.8 L25.5,70.7 L25.0,70.6 L24.8,70.5 L24.5,70.4 L24.0,70.2 L23.5,70.0 L23.4,70.0 L23.0,69.8 L22.5,69.5 L22.5,69.5 L22.0,69.2 L21.7,69.0 L21.5,68.8 L21.2,68.5 L21.0,68.4 L20.7,68.0 L20.5,67.8 L20.3,67.5 L20.0,67.1 L20.0,67.0 L19.7,66.5 L19.5,66.1 L19.5,66.0 L19.3,65.5 L19.2,65.0 L19.1,64.5 L19.0,64.0 L19.0,63.5 L19.0,63.0 L19.1,62.5 L19.2,62.0 L19.3,61.5 L19.5,61.0 L19.5,60.9 L19.6,60.5 L19.8,60.0 L20.0,59.7 L20.1,59.5 L20.4,59.0 L20.5,58.8 L20.7,58.5 L21.0,58.0 L21.0,58.0 L21.4,57.5 L21.5,57.4 L21.8,57.0 L22.0,56.8 L22.3,56.5 L22.5,56.3 L22.8,56.0 L23.0,55.8 L23.3,55.5 L23.5,55.3 L23.9,55.0 L24.0,54.9 L24.5,54.5 L24.5,54.5 L25.0,54.2 L25.3,54.0 L25.5,53.8 L26.0,53.5 L26.1,53.5 L26.5,53.2 L26.9,53.0 L27.0,53.0 L27.5,52.7 L27.9,52.5 L28.0,52.5 L28.5,52.3 L29.0,52.0 L29.1,52.0 L29.5,51.9 L30.0,51.7 L30.5,51.5 L30.5,51.5 L31.0,51.4 L31.5,51.2 L32.0,51.1 L32.4,51.0Z M32.6,51.5 L33.0,51.4 L33.5,51.3 L34.0,51.3 L34.5,51.2 L35.0,51.2 L35.5,51.1 L36.0,51.1 L36.5,51.1 L37.0,51.1 L37.5,51.2 L38.0,51.2 L38.5,51.3 L39.0,51.4 L39.5,51.5 L39.6,51.5 L40.0,51.6 L40.5,51.8 L41.0,52.0 L41.1,52.0 L41.5,52.2 L42.0,52.4 L42.1,52.5 L42.5,52.8 L42.8,53.0 L43.0,53.2 L43.3,53.5 L43.5,53.7 L43.8,54.0 L44.0,54.4 L44.1,54.5 L44.3,55.0 L44.5,55.5 L44.5,55.5 L44.6,56.0 L44.7,56.5 L44.7,57.0 L44.7,57.5 L44.6,58.0 L44.6,58.5 L44.5,58.8 L44.4,59.0 L44.3,59.5 L44.1,60.0 L44.0,60.3 L43.9,60.5 L43.7,61.0 L43.5,61.4 L43.4,61.5 L43.2,62.0 L43.0,62.2 L42.8,62.5 L42.5,63.0 L42.5,63.0 L42.1,63.5 L42.0,63.7 L41.7,64.0 L41.5,64.3 L41.3,64.5 L41.0,64.8 L40.8,65.0 L40.5,65.4 L40.3,65.5 L40.0,65.8 L39.8,66.0 L39.5,66.3 L39.2,66.5 L39.0,66.7 L38.6,67.0 L38.5,67.1 L38.0,67.4 L37.9,67.5 L37.5,67.7 L37.1,68.0 L37.0,68.0 L36.5,68.3 L36.1,68.5 L36.0,68.6 L35.5,68.8 L35.1,69.0 L35.0,69.0 L34.5,69.2 L34.0,69.4 L33.8,69.5 L33.5,69.6 L33.0,69.7 L32.5,69.9 L32.0,70.0 L32.0,70.0 L31.5,70.1 L31.0,70.2 L30.5,70.3 L30.0,70.3 L29.5,70.4 L29.0,70.4 L28.5,70.4 L28.0,70.4 L27.5,70.4 L27.0,70.3 L26.5,70.3 L26.0,70.2 L25.5,70.1 L25.2,70.0 L25.0,69.9 L24.5,69.8 L24.0,69.6 L23.8,69.5 L23.5,69.3 L23.0,69.1 L22.9,69.0 L22.5,68.7 L22.2,68.5 L22.0,68.3 L21.6,68.0 L21.5,67.9 L21.2,67.5 L21.0,67.3 L20.8,67.0 L20.5,66.5 L20.5,66.5 L20.3,66.0 L20.1,65.5 L20.0,65.2 L19.9,65.0 L19.8,64.5 L19.8,64.0 L19.8,63.5 L19.8,63.0 L19.8,62.5 L19.9,62.0 L20.0,61.6 L20.0,61.5 L20.2,61.0 L20.4,60.5 L20.5,60.2 L20.6,60.0 L20.8,59.5 L21.0,59.2 L21.1,59.0 L21.4,58.5 L21.5,58.4 L21.8,58.0 L22.0,57.7 L22.2,57.5 L22.5,57.1 L22.6,57.0 L23.0,56.6 L23.1,56.5 L23.5,56.1 L23.6,56.0 L24.0,55.6 L24.2,55.5 L24.5,55.2 L24.8,55.0 L25.0,54.8 L25.5,54.5 L25.5,54.5 L26.0,54.2 L26.3,54.0 L26.5,53.9 L27.0,53.6 L27.1,53.5 L27.5,53.3 L28.0,53.0 L28.1,53.0 L28.5,52.8 L29.0,52.6 L29.2,52.5 L29.5,52.4 L30.0,52.2 L30.5,52.0 L30.6,52.0 L31.0,51.9 L31.5,51.8 L32.0,51.6 L32.5,51.5 L32.6,51.5Z M33.0,52.0 L33.0,52.0 L33.5,51.9 L34.0,51.8 L34.5,51.8 L35.0,51.8 L35.5,51.7 L36.0,51.7 L36.5,51.7 L37.0,51.8 L37.5,51.8 L38.0,51.9 L38.5,51.9 L38.8,52.0 L39.0,52.0 L39.5,52.2 L40.0,52.3 L40.5,52.5 L40.5,52.5 L41.0,52.8 L41.5,53.0 L41.5,53.0 L42.0,53.4 L42.2,53.5 L42.5,53.8 L42.7,54.0 L43.0,54.4 L43.1,54.5 L43.4,55.0 L43.5,55.3 L43.6,55.5 L43.8,56.0 L43.9,56.5 L43.9,57.0 L43.9,57.5 L43.9,58.0 L43.8,58.5 L43.7,59.0 L43.6,59.5 L43.5,59.6 L43.4,60.0 L43.2,60.5 L43.0,60.9 L42.9,61.0 L42.7,61.5 L42.5,61.8 L42.4,62.0 L42.1,62.5 L42.0,62.6 L41.7,63.0 L41.5,63.3 L41.4,63.5 L41.0,63.9 L41.0,64.0 L40.5,64.5 L40.5,64.5 L40.0,65.0 L40.0,65.0 L39.5,65.5 L39.5,65.5 L39.0,66.0 L39.0,66.0 L38.5,66.4 L38.3,66.5 L38.0,66.7 L37.6,67.0 L37.5,67.1 L37.0,67.4 L36.9,67.5 L36.5,67.7 L36.0,68.0 L36.0,68.0 L35.5,68.2 L35.0,68.5 L34.9,68.5 L34.5,68.7 L34.0,68.9 L33.6,69.0 L33.5,69.0 L33.0,69.2 L32.5,69.3 L32.0,69.5 L31.8,69.5 L31.5,69.6 L31.0,69.7 L30.5,69.7 L30.0,69.8 L29.5,69.8 L29.0,69.8 L28.5,69.9 L28.0,69.8 L27.5,69.8 L27.0,69.7 L26.5,69.7 L26.0,69.6 L25.7,69.5 L25.5,69.4 L25.0,69.3 L24.5,69.1 L24.3,69.0 L24.0,68.8 L23.5,68.6 L23.4,68.5 L23.0,68.2 L22.7,68.0 L22.5,67.8 L22.2,67.5 L22.0,67.3 L21.8,67.0 L21.5,66.6 L21.4,66.5 L21.2,66.0 L21.0,65.7 L20.9,65.5 L20.8,65.0 L20.7,64.5 L20.6,64.0 L20.6,63.5 L20.6,63.0 L20.6,62.5 L20.7,62.0 L20.8,61.5 L21.0,61.0 L21.0,60.9 L21.1,60.5 L21.4,60.0 L21.5,59.7 L21.6,59.5 L21.9,59.0 L22.0,58.9 L22.2,58.5 L22.5,58.2 L22.6,58.0 L23.0,57.5 L23.0,57.5 L23.5,57.0 L23.5,57.0 L24.0,56.5 L24.0,56.5 L24.5,56.0 L24.5,56.0 L25.0,55.6 L25.1,55.5 L25.5,55.2 L25.8,55.0 L26.0,54.9 L26.5,54.5 L26.6,54.5 L27.0,54.2 L27.4,54.0 L27.5,54.0 L28.0,53.7 L28.4,53.5 L28.5,53.4 L29.0,53.2 L29.5,53.0 L29.5,53.0 L30.0,52.8 L30.5,52.6 L30.9,52.5 L31.0,52.5 L31.5,52.3 L32.0,52.2 L32.5,52.1 L33.0,52.0Z M34.0,52.5 L34.0,52.5 L34.5,52.4 L35.0,52.4 L35.5,52.4 L36.0,52.4 L36.5,52.4 L37.0,52.4 L37.5,52.5 L37.5,52.5 L38.0,52.6 L38.5,52.7 L39.0,52.8 L39.5,53.0 L39.6,53.0 L40.0,53.2 L40.5,53.4 L40.6,53.5 L41.0,53.7 L41.4,54.0 L41.5,54.1 L41.9,54.5 L42.0,54.6 L42.3,55.0 L42.5,55.4 L42.6,55.5 L42.8,56.0 L42.9,56.5 L43.0,57.0 L43.0,57.1 L43.0,57.5 L43.0,58.0 L43.0,58.0 L42.9,58.5 L42.8,59.0 L42.7,59.5 L42.5,60.0 L42.5,60.1 L42.3,60.5 L42.1,61.0 L42.0,61.2 L41.8,61.5 L41.6,62.0 L41.5,62.1 L41.2,62.5 L41.0,62.8 L40.9,63.0 L40.5,63.5 L40.5,63.5 L40.1,64.0 L40.0,64.1 L39.6,64.5 L39.5,64.6 L39.1,65.0 L39.0,65.1 L38.6,65.5 L38.5,65.6 L38.0,66.0 L38.0,66.0 L37.5,66.4 L37.3,66.5 L37.0,66.7 L36.5,67.0 L36.5,67.0 L36.0,67.3 L35.7,67.5 L35.5,67.6 L35.0,67.8 L34.6,68.0 L34.5,68.0 L34.0,68.2 L33.5,68.4 L33.3,68.5 L33.0,68.6 L32.5,68.7 L32.0,68.9 L31.5,69.0 L31.4,69.0 L31.0,69.1 L30.5,69.1 L30.0,69.2 L29.5,69.2 L29.0,69.2 L28.5,69.2 L28.0,69.2 L27.5,69.2 L27.0,69.1 L26.6,69.0 L26.5,69.0 L26.0,68.8 L25.5,68.7 L25.0,68.5 L25.0,68.5 L24.5,68.2 L24.1,68.0 L24.0,67.9 L23.5,67.6 L23.4,67.5 L23.0,67.1 L22.9,67.0 L22.5,66.5 L22.5,66.5 L22.2,66.0 L22.0,65.7 L21.9,65.5 L21.7,65.0 L21.6,64.5 L21.5,64.0 L21.5,64.0 L21.5,63.5 L21.5,63.0 L21.5,62.5 L21.5,62.5 L21.6,62.0 L21.7,61.5 L21.9,61.0 L22.0,60.6 L22.0,60.5 L22.3,60.0 L22.5,59.6 L22.5,59.5 L22.8,59.0 L23.0,58.8 L23.2,58.5 L23.5,58.1 L23.6,58.0 L24.0,57.5 L24.0,57.5 L24.5,57.0 L24.5,57.0 L25.0,56.5 L25.0,56.5 L25.5,56.1 L25.6,56.0 L26.0,55.7 L26.3,55.5 L26.5,55.4 L27.0,55.0 L27.0,55.0 L27.5,54.7 L27.9,54.5 L28.0,54.4 L28.5,54.2 L28.9,54.0 L29.0,53.9 L29.5,53.7 L30.0,53.5 L30.0,53.5 L30.5,53.3 L31.0,53.2 L31.5,53.0 L31.5,53.0 L32.0,52.9 L32.5,52.8 L33.0,52.7 L33.5,52.6 L34.0,52.5Z M32.7,53.5 L33.0,53.4 L33.5,53.3 L34.0,53.3 L34.5,53.2 L35.0,53.2 L35.5,53.2 L36.0,53.2 L36.5,53.2 L37.0,53.3 L37.5,53.4 L38.0,53.5 L38.2,53.5 L38.5,53.6 L39.0,53.8 L39.5,54.0 L39.5,54.0 L40.0,54.3 L40.3,54.5 L40.5,54.6 L40.9,55.0 L41.0,55.1 L41.3,55.5 L41.5,55.8 L41.6,56.0 L41.8,56.5 L41.9,57.0 L42.0,57.5 L42.0,58.0 L41.9,58.5 L41.8,59.0 L41.7,59.5 L41.6,60.0 L41.5,60.1 L41.4,60.5 L41.1,61.0 L41.0,61.3 L40.9,61.5 L40.6,62.0 L40.5,62.1 L40.2,62.5 L40.0,62.9 L39.9,63.0 L39.5,63.5 L39.5,63.5 L39.1,64.0 L39.0,64.1 L38.6,64.5 L38.5,64.6 L38.1,65.0 L38.0,65.1 L37.5,65.5 L37.5,65.5 L37.0,65.9 L36.8,66.0 L36.5,66.2 L36.1,66.5 L36.0,66.5 L35.5,66.8 L35.2,67.0 L35.0,67.1 L34.5,67.3 L34.1,67.5 L34.0,67.5 L33.5,67.7 L33.0,67.9 L32.7,68.0 L32.5,68.1 L32.0,68.2 L31.5,68.3 L31.0,68.4 L30.5,68.5 L30.0,68.5 L30.0,68.5 L29.5,68.5 L29.0,68.5 L28.5,68.5 L28.3,68.5 L28.0,68.5 L27.5,68.4 L27.0,68.3 L26.5,68.2 L26.0,68.0 L26.0,68.0 L25.5,67.8 L25.0,67.5 L25.0,67.5 L24.5,67.2 L24.3,67.0 L24.0,66.7 L23.8,66.5 L23.5,66.2 L23.4,66.0 L23.1,65.5 L23.0,65.4 L22.8,65.0 L22.7,64.5 L22.6,64.0 L22.5,63.5 L22.5,63.0 L22.6,62.5 L22.6,62.0 L22.8,61.5 L22.9,61.0 L23.0,60.8 L23.1,60.5 L23.4,60.0 L23.5,59.7 L23.6,59.5 L24.0,59.0 L24.0,58.9 L24.3,58.5 L24.5,58.3 L24.7,58.0 L25.0,57.7 L25.2,57.5 L25.5,57.2 L25.7,57.0 L26.0,56.8 L26.3,56.5 L26.5,56.4 L27.0,56.0 L27.0,56.0 L27.5,55.7 L27.7,55.5 L28.0,55.3 L28.5,55.1 L28.6,55.0 L29.0,54.8 L29.5,54.6 L29.6,54.5 L30.0,54.3 L30.5,54.1 L30.9,54.0 L31.0,54.0 L31.5,53.8 L32.0,53.7 L32.5,53.5 L32.7,53.5Z M32.6,54.5 L33.0,54.4 L33.5,54.3 L34.0,54.3 L34.5,54.2 L35.0,54.2 L35.5,54.2 L36.0,54.2 L36.5,54.3 L37.0,54.4 L37.5,54.5 L37.6,54.5 L38.0,54.6 L38.5,54.8 L38.8,55.0 L39.0,55.1 L39.5,55.5 L39.5,55.5 L40.0,56.0 L40.0,56.0 L40.3,56.5 L40.5,57.0 L40.5,57.0 L40.6,57.5 L40.7,58.0 L40.7,58.5 L40.6,59.0 L40.5,59.5 L40.5,59.5 L40.3,60.0 L40.1,60.5 L40.0,60.8 L39.9,61.0 L39.7,61.5 L39.5,61.8 L39.4,62.0 L39.0,62.5 L39.0,62.6 L38.7,63.0 L38.5,63.2 L38.3,63.5 L38.0,63.8 L37.8,64.0 L37.5,64.3 L37.3,64.5 L37.0,64.7 L36.7,65.0 L36.5,65.2 L36.1,65.5 L36.0,65.5 L35.5,65.9 L35.3,66.0 L35.0,66.2 L34.5,66.4 L34.4,66.5 L34.0,66.7 L33.5,66.9 L33.2,67.0 L33.0,67.1 L32.5,67.2 L32.0,67.3 L31.5,67.5 L31.3,67.5 L31.0,67.6 L30.5,67.6 L30.0,67.7 L29.5,67.7 L29.0,67.7 L28.5,67.6 L28.0,67.5 L27.8,67.5 L27.5,67.4 L27.0,67.3 L26.5,67.1 L26.3,67.0 L26.0,66.8 L25.5,66.5 L25.5,66.5 L25.0,66.1 L24.9,66.0 L24.5,65.5 L24.5,65.4 L24.2,65.0 L24.0,64.5 L24.0,64.4 L23.9,64.0 L23.8,63.5 L23.8,63.0 L23.9,62.5 L23.9,62.0 L24.0,61.8 L24.1,61.5 L24.2,61.0 L24.5,60.5 L24.5,60.4 L24.7,60.0 L25.0,59.5 L25.0,59.5 L25.4,59.0 L25.5,58.9 L25.8,58.5 L26.0,58.3 L26.3,58.0 L26.5,57.8 L26.8,57.5 L27.0,57.3 L27.4,57.0 L27.5,56.9 L28.0,56.5 L28.1,56.5 L28.5,56.2 L28.9,56.0 L29.0,55.9 L29.5,55.7 L29.8,55.5 L30.0,55.4 L30.5,55.2 L31.0,55.0 L31.0,55.0 L31.5,54.8 L32.0,54.7 L32.5,54.5 L32.6,54.5Z M32.4,56.0 L32.5,56.0 L33.0,55.8 L33.5,55.8 L34.0,55.7 L34.5,55.7 L35.0,55.6 L35.5,55.7 L36.0,55.7 L36.5,55.9 L36.9,56.0 L37.0,56.0 L37.5,56.3 L37.8,56.5 L38.0,56.7 L38.3,57.0 L38.5,57.3 L38.6,57.5 L38.8,58.0 L38.8,58.5 L38.8,59.0 L38.8,59.5 L38.6,60.0 L38.5,60.5 L38.5,60.5 L38.3,61.0 L38.0,61.5 L38.0,61.5 L37.7,62.0 L37.5,62.3 L37.4,62.5 L37.0,63.0 L37.0,63.0 L36.6,63.5 L36.5,63.6 L36.0,64.0 L36.0,64.0 L35.5,64.5 L35.5,64.5 L35.0,64.8 L34.7,65.0 L34.5,65.2 L34.0,65.4 L33.9,65.5 L33.5,65.7 L33.0,65.9 L32.7,66.0 L32.5,66.1 L32.0,66.2 L31.5,66.3 L31.0,66.4 L30.5,66.5 L30.0,66.5 L30.0,66.5 L29.9,66.5 L29.5,66.5 L29.0,66.4 L28.5,66.3 L28.0,66.2 L27.5,66.0 L27.5,66.0 L27.0,65.7 L26.8,65.5 L26.5,65.2 L26.3,65.0 L26.0,64.6 L26.0,64.5 L25.8,64.0 L25.7,63.5 L25.6,63.0 L25.7,62.5 L25.7,62.0 L25.9,61.5 L26.0,61.2 L26.1,61.0 L26.3,60.5 L26.5,60.2 L26.7,60.0 L27.0,59.5 L27.0,59.5 L27.4,59.0 L27.5,58.9 L27.9,58.5 L28.0,58.4 L28.5,58.0 L28.5,58.0 L29.0,57.6 L29.2,57.5 L29.5,57.3 L30.0,57.0 L30.0,57.0 L30.5,56.7 L31.0,56.5 L31.0,56.5 L31.5,56.3 L32.0,56.1 L32.4,56.0Z M31.8,59.0 L32.0,58.9 L32.5,58.8 L33.0,58.6 L33.5,58.6 L34.0,58.6 L34.5,58.8 L34.9,59.0 L35.0,59.1 L35.3,59.5 L35.4,60.0 L35.4,60.5 L35.3,61.0 L35.1,61.5 L35.0,61.6 L34.8,62.0 L34.5,62.4 L34.4,62.5 L34.0,62.9 L33.9,63.0 L33.5,63.3 L33.2,63.5 L33.0,63.6 L32.5,63.9 L32.2,64.0 L32.0,64.1 L31.5,64.2 L31.0,64.2 L30.5,64.2 L30.0,64.1 L29.7,64.0 L29.5,63.9 L29.1,63.5 L29.0,63.2 L28.9,63.0 L28.9,62.5 L28.9,62.0 L29.0,61.8 L29.1,61.5 L29.4,61.0 L29.5,60.9 L29.8,60.5 L30.0,60.3 L30.3,60.0 L30.5,59.8 L30.9,59.5 L31.0,59.5 L31.5,59.2 L31.8,59.0Z" fill="none" stroke="#222" stroke-width="0.4"/></g>
<rect x="0" y="0" width="82.0" height="82.0" fill="none" stroke="#222" stroke-width="0.9"/>
<path d="M-1.2,20.5h2 M20.5,81.5v1.9 M-1.2,41.0h2 M41.0,81.5v1.9 M-1.2,61.5h2 M61.5,81.5v1.9" stroke="#444" stroke-width="0.6" fill="none"/>
<text x="3.1" y="11.2" font-size="11.2" fill="#111">0.1 µg/mL</text>
</g>
<g transform="translate(136.9,16.2)">
<g clip-path="url(#cb)"><path d="M7.6,82.0 L7.9,81.5 L8.0,81.4 L8.3,81.0 L8.5,80.8 L8.9,80.5 L9.0,80.4 L9.5,80.1 L9.6,80.0 L10.0,79.8 L10.4,79.5 L10.5,79.5 L11.0,79.1 L11.2,79.0 L11.5,78.7 L11.8,78.5 L12.0,78.1 L12.1,78.0 L12.1,77.5 L12.1,77.0 L12.0,76.9 L11.9,76.5 L11.6,76.0 L11.5,75.7 L11.4,75.5 L11.1,75.0 L11.0,74.7 L10.9,74.5 L10.6,74.0 L10.5,73.7 L10.4,73.5 L10.1,73.0 L10.0,72.7 L9.9,72.5 L9.7,72.0 L9.5,71.5 L9.5,71.4 L9.3,71.0 L9.2,70.5 L9.0,70.0 L9.0,69.8 L8.9,69.5 L8.8,69.0 L8.7,68.5 L8.7,68.0 L8.6,67.5 L8.6,67.0 L8.6,66.5 L8.6,66.0 L8.6,65.5 L8.7,65.0 L8.7,64.5 L8.8,64.0 L8.9,63.5 L9.0,63.2 L9.0,63.0 L9.2,62.5 L9.3,62.0 L9.5,61.5 L9.5,61.5 L9.7,61.0 L9.9,60.5 L10.0,60.2 L10.1,60.0 L10.3,59.5 L10.5,59.2 L10.6,59.0 L10.9,58.5 L11.0,58.3 L11.2,58.0 L11.5,57.5 L11.5,57.5 L11.8,57.0 L12.0,56.7 L12.2,56.5 L12.5,56.0 L12.5,56.0 L12.9,55.5 L13.0,55.4 L13.3,55.0 L13.5,54.8 L13.8,54.5 L14.0,54.2 L14.2,54.0 L14.5,53.7 L14.7,53.5 L15.0,53.2 L15.2,53.0 L15.5,52.7 L15.8,52.5 L16.0,52.3 L16.3,52.0 L16.5,51.8 L16.9,51.5 L17.0,51.4 L17.5,51.0 L17.5,51.0 L18.0,50.6 L18.2,50.5 L18.5,50.3 L18.9,50.0 L19.0,49.9 L19.5,49.6 L19.6,49.5 L20.0,49.3 L20.4,49.0 L20.5,48.9 L21.0,48.6 L21.3,48.5 L21.5,48.4 L22.0,48.1 L22.1,48.0 L22.5,47.8 L23.0,47.5 L23.1,47.5 L23.5,47.3 L24.0,47.1 L24.1,47.0 L24.5,46.8 L25.0,46.6 L25.3,46.5 L25.5,46.4 L26.0,46.2 L26.5,46.0 L26.5,46.0 L27.0,45.8 L27.5,45.6 L27.9,45.5 L28.0,45.5 L28.5,45.3 L29.0,45.1 L29.5,45.0 L29.5,45.0 L30.0,44.8 L30.5,44.7 L31.0,44.6 L31.4,44.5 L31.5,44.5 L32.0,44.3 L32.5,44.2 L33.0,44.1 L33.5,44.0 L33.6,44.0 L34.0,43.9 L34.5,43.8 L35.0,43.7 L35.5,43.6 L36.0,43.5 L36.3,43.5 L36.5,43.5 L37.0,43.3 L37.5,43.2 L38.0,43.1 L38.5,43.0 L38.5,43.0 L39.0,42.8 L39.5,42.7 L40.0,42.5 L40.0,42.5 L40.5,42.2 L41.0,42.0 L41.0,42.0 L41.5,41.7 L41.8,41.5 L42.0,41.4 L42.5,41.0 L42.5,41.0 L43.0,40.6 L43.1,40.5 L43.5,40.1 L43.7,40.0 L44.0,39.7 L44.2,39.5 L44.5,39.2 L44.7,39.0 L45.0,38.6 L45.1,38.5 L45.5,38.1 L45.6,38.0 L46.0,37.5 L46.0,37.5 L46.4,37.0 L46.5,36.9 L46.8,36.5 L47.0,36.3 L47.2,36.0 L47.5,35.6 L47.6,35.5 L48.0,35.0 L48.0,34.9 L48.3,34.5 L48.5,34.3 L48.7,34.0 L49.0,33.6 L49.1,33.5 L49.4,33.0 L49.5,32.9 L49.8,32.5 L50.0,32.2 L50.1,32.0 L50.5,31.5 L50.5,31.5 L50.9,31.0 L51.0,30.9 L51.3,30.5 L51.5,30.3 L51.7,30.0 L52.0,29.7 L52.2,29.5 L52.5,29.2 L52.7,29.0 L53.0,28.7 L53.2,28.5 L53.5,28.2 L53.7,28.0 L54.0,27.7 L54.3,27.5 L54.5,27.3 L54.9,27.0 L55.0,27.0 L55.5,26.6 L55.6,26.5 L56.0,26.3 L56.4,26.0 L56.5,26.0 L57.0,25.7 L57.4,25.5 L57.5,25.4 L58.0,25.2 L58.5,25.0 L58.5,25.0 L59.0,24.8 L59.5,24.6 L59.9,24.5 L60.0,24.5 L60.5,24.3 L61.0,24.2 L61.5,24.1 L62.0,24.1 L62.5,24.0 L62.9,24.0 L63.0,24.0 L63.5,24.0 L64.0,24.0 L64.5,24.0 L64.6,24.0 L65.0,24.0 L65.5,24.1 L66.0,24.2 L66.5,24.3 L67.0,24.4 L67.5,24.5 L67.5,24.5 L68.0,24.7 L68.5,24.8 L68.9,25.0 L69.0,25.0 L69.5,25.3 L70.0,25.5 L70.0,25.5 L70.5,25.8 L70.9,26.0 L71.0,26.1 L71.5,26.4 L71.6,26.5 L72.0,26.8 L72.3,27.0 L72.5,27.2 L72.9,27.5 L73.0,27.6 L73.4,28.0 L73.5,28.1 L73.9,28.5 L74.0,28.6 L74.4,29.0 L74.5,29.2 L74.8,29.5 L75.0,29.8 L75.1,30.0 L75.5,30.5 L75.5,30.6 L75.8,31.0 L76.0,31.4 L76.1,31.5 L76.3,32.0 L76.5,32.4 L76.6,32.5 L76.8,33.0 L77.0,33.5 L77.0,33.6 L77.1,34.0 L77.3,34.5 L77.4,35.0 L77.5,35.3 L77.6,35.5 L77.7,36.0 L77.8,36.5 L77.8,37.0 L77.9,37.5 L77.9,38.0 L77.9,38.5 L77.9,39.0 L77.9,39.5 L77.9,40.0 L77.9,40.5 L77.8,41.0 L77.7,41.5 L77.6,42.0 L77.5,42.5 L77.5,42.5 L77.4,43.0 L77.2,43.5 L77.1,44.0 L77.0,44.2 L76.9,44.5 L76.7,45.0 L76.5,45.4 L76.5,45.5 L76.2,46.0 L76.0,46.4 L76.0,46.5 L75.7,47.0 L75.5,47.3 L75.4,47.5 L75.0,48.0 L75.0,48.0 L74.7,48.5 L74.5,48.7 L74.3,49.0 L74.0,49.3 L73.8,49.5 L73.5,49.9 L73.4,50.0 L73.0,50.4 L72.9,50.5 L72.5,50.8 L72.3,51.0 L72.0,51.3 L71.7,51.5 L71.5,51.7 L71.0,52.0 L71.0,52.0 L70.5,52.4 L70.3,52.5 L70.0,52.7 L69.5,53.0 L69.5,53.0 L69.0,53.3 L68.6,53.5 L68.5,53.5 L68.0,53.8 L67.6,54.0 L67.5,54.0 L67.0,54.3 L66.5,54.5 L66.5,54.5 L66.0,54.7 L65.5,54.9 L65.3,55.0 L65.0,55.1 L64.5,55.4 L64.1,55.5 L64.0,55.6 L63.5,55.8 L63.1,56.0 L63.0,56.0 L62.5,56.3 L62.1,56.5 L62.0,56.6 L61.5,56.9 L61.3,57.0 L61.0,57.2 L60.6,57.5 L60.5,57.6 L60.0,58.0 L60.0,58.0 L59.5,58.5 L59.5,58.5 L59.0,59.0 L59.0,59.0 L58.6,59.5 L58.5,59.6 L58.2,60.0 L58.0,60.3 L57.9,60.5 L57.6,61.0 L57.5,61.1 L57.3,61.5 L57.0,61.9 L57.0,62.0 L56.7,62.5 L56.5,62.8 L56.4,63.0 L56.1,63.5 L56.0,63.6 L55.8,64.0 L55.5,64.5 L55.5,64.5 L55.2,65.0 L55.0,65.3 L54.9,65.5 L54.6,66.0 L54.5,66.2 L54.3,66.5 L54.0,67.0 L54.0,67.0 L53.7,67.5 L53.5,67.9 L53.4,68.0 L53.2,68.5 L53.0,68.8 L52.9,69.0 L52.7,69.5 L52.5,69.9 L52.4,70.0 L52.3,70.5 L52.1,71.0 L52.0,71.2 L51.9,71.5 L51.8,72.0 L51.7,72.5 L51.6,73.0 L51.5,73.4 L51.5,73.5 L51.4,74.0 L51.3,74.5 L51.2,75.0 L51.2,75.5 L51.1,76.0 L51.0,76.5 L51.0,76.5 L50.9,77.0 L50.8,77.5 L50.8,78.0 L50.7,78.5 L50.6,79.0 L50.5,79.4 L50.5,79.5 L50.4,80.0 L50.3,80.5 L50.2,81.0 L50.0,81.5 L50.0,81.6 L49.9,82.0 M10.4,82.0 L10.5,81.9 L10.8,81.5 L11.0,81.3 L11.4,81.0 L11.5,80.9 L12.0,80.6 L12.2,80.5 L12.5,80.3 L13.0,80.1 L13.3,80.0 L13.5,79.9 L14.0,79.7 L14.5,79.5 L14.5,79.5 L15.0,79.3 L15.5,79.1 L15.7,79.0 L16.0,78.8 L16.5,78.6 L16.6,78.5 L17.0,78.1 L17.1,78.0 L17.2,77.5 L17.0,77.1 L17.0,77.0 L16.7,76.5 L16.5,76.3 L16.3,76.0 L16.0,75.7 L15.9,75.5 L15.5,75.0 L15.5,75.0 L15.1,74.5 L15.0,74.4 L14.7,74.0 L14.5,73.7 L14.4,73.5 L14.1,73.0 L14.0,72.9 L13.7,72.5 L13.5,72.1 L13.5,72.0 L13.2,71.5 L13.0,71.1 L13.0,71.0 L12.7,70.5 L12.5,70.0 L12.5,69.8 L12.4,69.5 L12.2,69.0 L12.1,68.5 L12.0,68.0 L12.0,67.9 L11.9,67.5 L11.9,67.0 L11.8,66.5 L11.8,66.0 L11.8,65.5 L11.9,65.0 L11.9,64.5 L12.0,64.0 L12.0,64.0 L12.1,63.5 L12.2,63.0 L12.3,62.5 L12.5,62.0 L12.5,62.0 L12.7,61.5 L12.9,61.0 L13.0,60.7 L13.1,60.5 L13.3,60.0 L13.5,59.6 L13.6,59.5 L13.8,59.0 L14.0,58.7 L14.1,58.5 L14.5,58.0 L14.5,57.9 L14.8,57.5 L15.0,57.2 L15.2,57.0 L15.5,56.6 L15.6,56.5 L16.0,56.0 L16.0,56.0 L16.4,55.5 L16.5,55.4 L16.9,55.0 L17.0,54.9 L17.4,54.5 L17.5,54.4 L17.9,54.0 L18.0,53.9 L18.5,53.5 L18.5,53.5 L19.0,53.1 L19.1,53.0 L19.5,52.6 L19.7,52.5 L20.0,52.3 L20.4,52.0 L20.5,51.9 L21.0,51.6 L21.1,51.5 L21.5,51.2 L21.8,51.0 L22.0,50.9 L22.5,50.6 L22.7,50.5 L23.0,50.3 L23.5,50.0 L23.6,50.0 L24.0,49.8 L24.5,49.5 L24.5,49.5 L25.0,49.3 L25.5,49.0 L25.6,49.0 L26.0,48.8 L26.5,48.6 L26.7,48.5 L27.0,48.4 L27.5,48.2 L28.0,48.0 L28.1,48.0 L28.5,47.8 L29.0,47.7 L29.5,47.5 L29.6,47.5 L30.0,47.4 L30.5,47.2 L31.0,47.1 L31.5,47.0 L31.5,47.0 L32.0,46.9 L32.5,46.8 L33.0,46.7 L33.5,46.6 L34.0,46.5 L34.0,46.5 L34.5,46.4 L35.0,46.4 L35.5,46.3 L36.0,46.2 L36.5,46.2 L37.0,46.1 L37.5,46.1 L38.0,46.1 L38.5,46.0 L39.0,46.0 L39.5,46.0 L39.5,46.0 L40.0,46.0 L40.5,45.9 L41.0,45.9 L41.5,45.9 L42.0,45.8 L42.5,45.8 L43.0,45.7 L43.5,45.6 L44.0,45.5 L44.0,45.5 L44.5,45.3 L45.0,45.2 L45.3,45.0 L45.5,44.9 L46.0,44.6 L46.1,44.5 L46.5,44.2 L46.7,44.0 L47.0,43.8 L47.2,43.5 L47.5,43.2 L47.7,43.0 L48.0,42.6 L48.1,42.5 L48.5,42.0 L48.5,42.0 L48.9,41.5 L49.0,41.3 L49.2,41.0 L49.5,40.6 L49.6,40.5 L49.9,40.0 L50.0,39.8 L50.2,39.5 L50.4,39.0 L50.5,38.9 L50.7,38.5 L50.9,38.0 L51.0,37.9 L51.2,37.5 L51.4,37.0 L51.5,36.8 L51.7,36.5 L51.9,36.0 L52.0,35.8 L52.1,35.5 L52.4,35.0 L52.5,34.8 L52.7,34.5 L52.9,34.0 L53.0,33.9 L53.2,33.5 L53.5,33.1 L53.6,33.0 L53.9,32.5 L54.0,32.3 L54.2,32.0 L54.5,31.7 L54.6,31.5 L55.0,31.1 L55.1,31.0 L55.5,30.5 L55.5,30.5 L56.0,30.0 L56.0,30.0 L56.5,29.6 L56.6,29.5 L57.0,29.2 L57.2,29.0 L57.5,28.8 L58.0,28.5 L58.0,28.5 L58.5,28.2 L58.9,28.0 L59.0,27.9 L59.5,27.7 L60.0,27.5 L60.0,27.5 L60.5,27.3 L61.0,27.2 L61.5,27.0 L61.8,27.0 L62.0,26.9 L62.5,26.9 L63.0,26.8 L63.5,26.8 L64.0,26.8 L64.5,26.8 L65.0,26.9 L65.5,26.9 L65.9,27.0 L66.0,27.0 L66.5,27.1 L67.0,27.3 L67.5,27.4 L67.6,27.5 L68.0,27.6 L68.5,27.9 L68.7,28.0 L69.0,28.1 L69.5,28.4 L69.6,28.5 L70.0,28.8 L70.3,29.0 L70.5,29.1 L70.9,29.5 L71.0,29.6 L71.5,30.0 L71.5,30.0 L71.9,30.5 L72.0,30.6 L72.4,31.0 L72.5,31.2 L72.7,31.5 L73.0,31.9 L73.1,32.0 L73.4,32.5 L73.5,32.7 L73.7,33.0 L73.9,33.5 L74.0,33.7 L74.1,34.0 L74.3,34.5 L74.5,35.0 L74.5,35.1 L74.6,35.5 L74.7,36.0 L74.8,36.5 L74.9,37.0 L75.0,37.5 L75.0,38.0 L75.0,38.3 L75.0,38.5 L75.0,39.0 L75.0,39.1 L75.0,39.5 L74.9,40.0 L74.9,40.5 L74.8,41.0 L74.7,41.5 L74.6,42.0 L74.5,42.2 L74.4,42.5 L74.3,43.0 L74.1,43.5 L74.0,43.6 L73.8,44.0 L73.6,44.5 L73.5,44.7 L73.3,45.0 L73.0,45.5 L73.0,45.5 L72.7,46.0 L72.5,46.2 L72.3,46.5 L72.0,46.9 L71.9,47.0 L71.5,47.4 L71.4,47.5 L71.0,47.9 L70.9,48.0 L70.5,48.3 L70.3,48.5 L70.0,48.7 L69.6,49.0 L69.5,49.1 L69.0,49.4 L68.8,49.5 L68.5,49.6 L68.0,49.9 L67.8,50.0 L67.5,50.1 L67.0,50.3 L66.5,50.5 L66.5,50.5 L66.0,50.6 L65.5,50.8 L65.0,50.9 L64.5,51.0 L64.4,51.0 L64.0,51.1 L63.5,51.1 L63.0,51.2 L62.5,51.2 L62.0,51.2 L61.5,51.2 L61.0,51.3 L60.5,51.3 L60.0,51.3 L59.5,51.3 L59.0,51.3 L58.5,51.4 L58.0,51.5 L57.9,51.5 L57.5,51.6 L57.0,51.8 L56.7,52.0 L56.5,52.1 L56.1,52.5 L56.0,52.6 L55.7,53.0 L55.5,53.3 L55.4,53.5 L55.2,54.0 L55.0,54.5 L55.0,54.6 L54.9,55.0 L54.8,55.5 L54.7,56.0 L54.6,56.5 L54.5,57.0 L54.5,57.0 L54.4,57.5 L54.3,58.0 L54.2,58.5 L54.1,59.0 L54.0,59.4 L54.0,59.5 L53.8,60.0 L53.7,60.5 L53.5,61.0 L53.5,61.1 L53.4,61.5 L53.2,62.0 L53.0,62.4 L53.0,62.5 L52.8,63.0 L52.5,63.5 L52.5,63.6 L52.3,64.0 L52.0,64.5 L52.0,64.5 L51.8,65.0 L51.5,65.4 L51.5,65.5 L51.2,66.0 L51.0,66.3 L50.9,66.5 L50.6,67.0 L50.5,67.1 L50.2,67.5 L50.0,67.9 L49.9,68.0 L49.6,68.5 L49.5,68.6 L49.2,69.0 L49.0,69.4 L48.9,69.5 L48.6,70.0 L48.5,70.1 L48.3,70.5 L48.0,70.9 L47.9,71.0 L47.6,71.5 L47.5,71.7 L47.4,72.0 L47.1,72.5 L47.0,72.7 L46.8,73.0 L46.6,73.5 L46.5,73.8 L46.4,74.0 L46.3,74.5 L46.1,75.0 L46.0,75.4 L46.0,75.5 L45.9,76.0 L45.7,76.5 L45.6,77.0 L45.5,77.5 L45.5,77.5 L45.4,78.0 L45.3,78.5 L45.1,79.0 L45.0,79.4 L45.0,79.5 L44.8,80.0 L44.6,80.5 L44.5,80.9 L44.4,81.0 L44.2,81.5 L44.0,82.0 M62.2,28.5 L62.5,28.5 L63.0,28.4 L63.5,28.4 L64.0,28.4 L64.5,28.4 L65.0,28.4 L65.5,28.5 L65.5,28.5 L66.0,28.6 L66.5,28.7 L67.0,28.9 L67.2,29.0 L67.5,29.1 L68.0,29.3 L68.3,29.5 L68.5,29.6 L69.0,29.9 L69.1,30.0 L69.5,30.3 L69.8,30.5 L70.0,30.7 L70.3,31.0 L70.5,31.2 L70.8,31.5 L71.0,31.7 L71.2,32.0 L71.5,32.4 L71.6,32.5 L71.9,33.0 L72.0,33.1 L72.2,33.5 L72.5,34.0 L72.5,34.1 L72.7,34.5 L72.9,35.0 L73.0,35.4 L73.0,35.5 L73.2,36.0 L73.3,36.5 L73.4,37.0 L73.4,37.5 L73.5,38.0 L73.5,38.5 L73.5,39.0 L73.5,39.5 L73.4,40.0 L73.3,40.5 L73.2,41.0 L73.1,41.5 L73.0,41.9 L73.0,42.0 L72.8,42.5 L72.6,43.0 L72.5,43.2 L72.4,43.5 L72.1,44.0 L72.0,44.1 L71.8,44.5 L71.5,44.9 L71.4,45.0 L71.1,45.5 L71.0,45.6 L70.6,46.0 L70.5,46.1 L70.1,46.5 L70.0,46.6 L69.5,47.0 L69.5,47.0 L69.0,47.4 L68.8,47.5 L68.5,47.7 L68.0,48.0 L68.0,48.0 L67.5,48.3 L67.0,48.5 L66.9,48.5 L66.5,48.7 L66.0,48.8 L65.5,49.0 L65.3,49.0 L65.0,49.1 L64.5,49.1 L64.0,49.2 L63.5,49.2 L63.0,49.3 L62.5,49.2 L62.0,49.2 L61.5,49.2 L61.0,49.1 L60.5,49.0 L60.2,49.0 L60.0,49.0 L59.5,48.9 L59.0,48.8 L58.5,48.6 L58.0,48.5 L58.0,48.5 L57.5,48.4 L57.0,48.2 L56.5,48.1 L56.1,48.0 L56.0,48.0 L55.5,47.8 L55.0,47.7 L54.5,47.6 L54.2,47.5 L54.0,47.5 L53.5,47.3 L53.0,47.1 L52.8,47.0 L52.5,46.7 L52.4,46.5 L52.2,46.0 L52.1,45.5 L52.1,45.0 L52.1,44.5 L52.2,44.0 L52.2,43.5 L52.3,43.0 L52.3,42.5 L52.4,42.0 L52.5,41.5 L52.5,41.3 L52.6,41.0 L52.6,40.5 L52.7,40.0 L52.9,39.5 L53.0,39.0 L53.0,38.9 L53.1,38.5 L53.2,38.0 L53.4,37.5 L53.5,37.2 L53.6,37.0 L53.7,36.5 L53.9,36.0 L54.0,35.8 L54.1,35.5 L54.4,35.0 L54.5,34.7 L54.6,34.5 L54.9,34.0 L55.0,33.8 L55.2,33.5 L55.5,33.1 L55.5,33.0 L55.9,32.5 L56.0,32.4 L56.3,32.0 L56.5,31.8 L56.8,31.5 L57.0,31.3 L57.3,31.0 L57.5,30.8 L57.9,30.5 L58.0,30.4 L58.5,30.0 L58.6,30.0 L59.0,29.7 L59.4,29.5 L59.5,29.4 L60.0,29.2 L60.5,29.0 L60.5,29.0 L61.0,28.8 L61.5,28.7 L62.0,28.5 L62.2,28.5Z M12.0,82.0 L12.5,81.5 L12.5,81.5 L13.0,81.1 L13.2,81.0 L13.5,80.8 L14.0,80.6 L14.2,80.5 L14.5,80.4 L15.0,80.2 L15.5,80.0 L15.6,80.0 L16.0,79.8 L16.5,79.7 L17.0,79.6 L17.2,79.5 L17.5,79.4 L18.0,79.3 L18.5,79.1 L19.0,79.0 L19.0,79.0 L19.5,78.8 L20.0,78.6 L20.4,78.5 L20.5,78.4 L20.9,78.0 L20.7,77.5 L20.5,77.3 L20.2,77.0 L20.0,76.8 L19.6,76.5 L19.5,76.4 L19.0,76.0 L19.0,76.0 L18.5,75.6 L18.4,75.5 L18.0,75.2 L17.8,75.0 L17.5,74.7 L17.3,74.5 L17.0,74.2 L16.8,74.0 L16.5,73.7 L16.3,73.5 L16.0,73.1 L15.9,73.0 L15.6,72.5 L15.5,72.4 L15.2,72.0 L15.0,71.7 L14.9,71.5 L14.6,71.0 L14.5,70.8 L14.4,70.5 L14.1,70.0 L14.0,69.7 L13.9,69.5 L13.8,69.0 L13.6,68.5 L13.5,68.0 L13.5,68.0 L13.4,67.5 L13.3,67.0 L13.3,66.5 L13.2,66.0 L13.2,65.5 L13.3,65.0 L13.3,64.5 L13.4,64.0 L13.5,63.5 L13.5,63.4 L13.6,63.0 L13.7,62.5 L13.9,62.0 L14.0,61.6 L14.0,61.5 L14.2,61.0 L14.5,60.5 L14.5,60.4 L14.7,60.0 L15.0,59.5 L15.0,59.4 L15.2,59.0 L15.5,58.6 L15.6,58.5 L15.9,58.0 L16.0,57.9 L16.3,57.5 L16.5,57.2 L16.6,57.0 L17.0,56.6 L17.1,56.5 L17.5,56.0 L17.5,56.0 L18.0,55.5 L18.0,55.5 L18.5,55.0 L18.5,55.0 L19.0,54.5 L19.0,54.5 L19.5,54.0 L19.5,54.0 L20.0,53.6 L20.1,53.5 L20.5,53.2 L20.8,53.0 L21.0,52.8 L21.5,52.5 L21.5,52.5 L22.0,52.1 L22.2,52.0 L22.5,51.8 L23.0,51.5 L23.0,51.5 L23.5,51.2 L23.9,51.0 L24.0,50.9 L24.5,50.7 L24.8,50.5 L25.0,50.4 L25.5,50.2 L25.8,50.0 L26.0,49.9 L26.5,49.7 L27.0,49.5 L27.0,49.5 L27.5,49.3 L28.0,49.1 L28.3,49.0 L28.5,48.9 L29.0,48.7 L29.5,48.6 L29.8,48.5 L30.0,48.4 L30.5,48.3 L31.0,48.2 L31.5,48.0 L31.7,48.0 L32.0,47.9 L32.5,47.8 L33.0,47.7 L33.5,47.6 L34.0,47.6 L34.5,47.5 L34.5,47.5 L35.0,47.4 L35.5,47.4 L36.0,47.3 L36.5,47.3 L37.0,47.3 L37.5,47.2 L38.0,47.2 L38.5,47.2 L39.0,47.2 L39.5,47.2 L40.0,47.2 L40.5,47.2 L41.0,47.2 L41.5,47.2 L42.0,47.3 L42.5,47.3 L43.0,47.3 L43.5,47.3 L44.0,47.4 L44.5,47.4 L45.0,47.4 L45.5,47.5 L46.0,47.5 L46.5,47.5 L46.5,47.5 L47.0,47.5 L47.5,47.5 L48.0,47.6 L48.5,47.6 L49.0,47.6 L49.5,47.6 L50.0,47.7 L50.5,47.8 L51.0,48.0 L51.0,48.0 L51.5,48.5 L51.5,48.6 L51.7,49.0 L51.8,49.5 L51.9,50.0 L52.0,50.2 L52.1,50.5 L52.2,51.0 L52.3,51.5 L52.3,52.0 L52.4,52.5 L52.5,53.0 L52.5,53.1 L52.6,53.5 L52.6,54.0 L52.7,54.5 L52.7,55.0 L52.7,55.5 L52.7,56.0 L52.7,56.5 L52.7,57.0 L52.7,57.5 L52.7,58.0 L52.6,58.5 L52.5,59.0 L52.5,59.1 L52.4,59.5 L52.3,60.0 L52.2,60.5 L52.1,61.0 L52.0,61.2 L51.9,61.5 L51.7,62.0 L51.5,62.5 L51.5,62.6 L51.3,63.0 L51.1,63.5 L51.0,63.7 L50.9,64.0 L50.6,64.5 L50.5,64.7 L50.3,65.0 L50.0,65.5 L50.0,65.6 L49.7,66.0 L49.5,66.4 L49.4,66.5 L49.1,67.0 L49.0,67.1 L48.7,67.5 L48.5,67.8 L48.4,68.0 L48.0,68.5 L48.0,68.5 L47.6,69.0 L47.5,69.2 L47.2,69.5 L47.0,69.8 L46.8,70.0 L46.5,70.4 L46.4,70.5 L46.0,71.0 L46.0,71.0 L45.6,71.5 L45.5,71.6 L45.1,72.0 L45.0,72.1 L44.7,72.5 L44.5,72.7 L44.2,73.0 L44.0,73.2 L43.7,73.5 L43.5,73.7 L43.2,74.0 L43.0,74.2 L42.7,74.5 L42.5,74.7 L42.1,75.0 L42.0,75.1 L41.5,75.5 L41.5,75.5 L41.0,75.9 L40.9,76.0 L40.5,76.3 L40.2,76.5 L40.0,76.7 L39.5,77.0 L39.4,77.0 L39.0,77.3 L38.5,77.5 L38.5,77.5 L38.0,77.8 L37.5,78.0 L37.5,78.0 L37.0,78.3 L36.5,78.5 L36.5,78.5 L36.0,78.8 L35.7,79.0 L35.5,79.4 L35.5,79.5 L35.5,79.5 L35.7,80.0 L36.0,80.4 L36.1,80.5 L36.4,81.0 L36.5,81.1 L36.7,81.5 L36.8,82.0 M61.2,30.0 L61.5,29.9 L62.0,29.8 L62.5,29.7 L63.0,29.6 L63.5,29.6 L64.0,29.6 L64.5,29.6 L65.0,29.6 L65.5,29.7 L66.0,29.8 L66.5,30.0 L66.5,30.0 L67.0,30.2 L67.5,30.4 L67.6,30.5 L68.0,30.7 L68.5,31.0 L68.5,31.0 L69.0,31.4 L69.1,31.5 L69.5,31.8 L69.7,32.0 L70.0,32.4 L70.1,32.5 L70.5,33.0 L70.5,33.0 L70.9,33.5 L71.0,33.7 L71.2,34.0 L71.4,34.5 L71.5,34.7 L71.6,35.0 L71.8,35.5 L72.0,36.0 L72.0,36.1 L72.1,36.5 L72.2,37.0 L72.3,37.5 L72.3,38.0 L72.3,38.5 L72.3,39.0 L72.3,39.5 L72.2,40.0 L72.2,40.5 L72.0,41.0 L72.0,41.2 L71.9,41.5 L71.7,42.0 L71.5,42.5 L71.5,42.6 L71.3,43.0 L71.0,43.5 L71.0,43.5 L70.7,44.0 L70.5,44.3 L70.3,44.5 L70.0,44.9 L69.9,45.0 L69.5,45.4 L69.4,45.5 L69.0,45.9 L68.8,46.0 L68.5,46.2 L68.1,46.5 L68.0,46.6 L67.5,46.9 L67.2,47.0 L67.0,47.1 L66.5,47.3 L66.0,47.5 L66.0,47.5 L65.5,47.6 L65.0,47.7 L64.5,47.8 L64.0,47.9 L63.5,47.9 L63.0,47.9 L62.5,47.9 L62.0,47.8 L61.5,47.8 L61.0,47.7 L60.5,47.5 L60.4,47.5 L60.0,47.4 L59.5,47.2 L59.0,47.0 L58.9,47.0 L58.5,46.8 L58.0,46.6 L57.9,46.5 L57.5,46.3 L57.1,46.0 L57.0,45.9 L56.5,45.6 L56.4,45.5 L56.0,45.1 L55.9,45.0 L55.5,44.5 L55.5,44.5 L55.2,44.0 L55.0,43.6 L55.0,43.5 L54.8,43.0 L54.6,42.5 L54.5,42.0 L54.5,41.8 L54.5,41.5 L54.4,41.0 L54.4,40.5 L54.4,40.0 L54.5,39.5 L54.5,39.2 L54.5,39.0 L54.6,38.5 L54.7,38.0 L54.8,37.5 L55.0,37.0 L55.0,36.9 L55.1,36.5 L55.3,36.0 L55.5,35.6 L55.5,35.5 L55.8,35.0 L56.0,34.5 L56.0,34.5 L56.3,34.0 L56.5,33.7 L56.7,33.5 L57.0,33.0 L57.0,33.0 L57.5,32.5 L57.5,32.5 L58.0,32.0 L58.0,32.0 L58.5,31.5 L58.5,31.5 L59.0,31.1 L59.2,31.0 L59.5,30.8 L60.0,30.5 L60.1,30.5 L60.5,30.3 L61.0,30.1 L61.2,30.0Z M32.9,48.5 L33.0,48.5 L33.5,48.4 L34.0,48.3 L34.5,48.2 L35.0,48.2 L35.5,48.1 L36.0,48.1 L36.5,48.1 L37.0,48.0 L37.5,48.0 L38.0,48.0 L38.5,48.0 L39.0,48.0 L39.5,48.0 L40.0,48.1 L40.5,48.1 L41.0,48.1 L41.5,48.2 L42.0,48.2 L42.5,48.3 L43.0,48.3 L43.5,48.4 L44.0,48.5 L44.0,48.5 L44.5,48.6 L45.0,48.7 L45.5,48.8 L46.0,48.9 L46.2,49.0 L46.5,49.1 L47.0,49.3 L47.5,49.5 L47.5,49.5 L48.0,49.7 L48.4,50.0 L48.5,50.0 L49.0,50.4 L49.1,50.5 L49.5,50.9 L49.6,51.0 L50.0,51.5 L50.0,51.5 L50.3,52.0 L50.5,52.4 L50.6,52.5 L50.8,53.0 L51.0,53.5 L51.0,53.6 L51.1,54.0 L51.3,54.5 L51.4,55.0 L51.4,55.5 L51.5,56.0 L51.5,56.1 L51.5,56.5 L51.6,57.0 L51.6,57.5 L51.5,58.0 L51.5,58.5 L51.5,58.5 L51.5,59.0 L51.4,59.5 L51.3,60.0 L51.2,60.5 L51.0,61.0 L51.0,61.1 L50.9,61.5 L50.7,62.0 L50.5,62.5 L50.5,62.6 L50.3,63.0 L50.1,63.5 L50.0,63.7 L49.9,64.0 L49.6,64.5 L49.5,64.7 L49.3,65.0 L49.0,65.5 L49.0,65.5 L48.7,66.0 L48.5,66.3 L48.4,66.5 L48.0,67.0 L48.0,67.0 L47.7,67.5 L47.5,67.7 L47.3,68.0 L47.0,68.4 L46.9,68.5 L46.5,69.0 L46.5,69.0 L46.1,69.5 L46.0,69.6 L45.6,70.0 L45.5,70.1 L45.1,70.5 L45.0,70.6 L44.6,71.0 L44.5,71.1 L44.1,71.5 L44.0,71.6 L43.6,72.0 L43.5,72.1 L43.0,72.5 L43.0,72.5 L42.5,72.9 L42.4,73.0 L42.0,73.3 L41.7,73.5 L41.5,73.6 L41.0,74.0 L40.9,74.0 L40.5,74.3 L40.1,74.5 L40.0,74.6 L39.5,74.8 L39.2,75.0 L39.0,75.1 L38.5,75.3 L38.1,75.5 L38.0,75.6 L37.5,75.8 L37.0,76.0 L36.9,76.0 L36.5,76.1 L36.0,76.3 L35.5,76.5 L35.3,76.5 L35.0,76.6 L34.5,76.7 L34.0,76.9 L33.5,77.0 L33.4,77.0 L33.0,77.1 L32.5,77.2 L32.0,77.3 L31.5,77.4 L31.0,77.4 L30.5,77.5 L30.4,77.5 L30.0,77.6 L29.5,77.6 L29.0,77.7 L28.5,77.7 L28.0,77.7 L27.5,77.7 L27.0,77.7 L26.5,77.6 L26.0,77.5 L25.8,77.5 L25.5,77.5 L25.0,77.4 L24.5,77.2 L24.0,77.1 L23.8,77.0 L23.5,76.9 L23.0,76.7 L22.5,76.5 L22.4,76.5 L22.0,76.3 L21.5,76.1 L21.4,76.0 L21.0,75.8 L20.5,75.5 L20.4,75.5 L20.0,75.2 L19.7,75.0 L19.5,74.9 L19.0,74.5 L19.0,74.5 L18.5,74.1 L18.4,74.0 L18.0,73.7 L17.8,73.5 L17.5,73.2 L17.3,73.0 L17.0,72.6 L16.9,72.5 L16.5,72.0 L16.5,72.0 L16.1,71.5 L16.0,71.3 L15.8,71.0 L15.5,70.5 L15.5,70.4 L15.3,70.0 L15.1,69.5 L15.0,69.4 L14.9,69.0 L14.7,68.5 L14.6,68.0 L14.5,67.7 L14.4,67.5 L14.4,67.0 L14.3,66.5 L14.3,66.0 L14.3,65.5 L14.3,65.0 L14.3,64.5 L14.4,64.0 L14.5,63.5 L14.5,63.3 L14.6,63.0 L14.7,62.5 L14.9,62.0 L15.0,61.6 L15.0,61.5 L15.2,61.0 L15.5,60.5 L15.5,60.4 L15.7,60.0 L16.0,59.5 L16.0,59.5 L16.3,59.0 L16.5,58.6 L16.6,58.5 L16.9,58.0 L17.0,57.9 L17.3,57.5 L17.5,57.2 L17.7,57.0 L18.0,56.6 L18.1,56.5 L18.5,56.1 L18.6,56.0 L19.0,55.6 L19.1,55.5 L19.5,55.1 L19.6,55.0 L20.0,54.6 L20.2,54.5 L20.5,54.2 L20.7,54.0 L21.0,53.8 L21.4,53.5 L21.5,53.4 L22.0,53.1 L22.1,53.0 L22.5,52.7 L22.8,52.5 L23.0,52.4 L23.5,52.1 L23.6,52.0 L24.0,51.8 L24.5,51.5 L24.5,51.5 L25.0,51.2 L25.4,51.0 L25.5,51.0 L26.0,50.7 L26.5,50.5 L26.5,50.5 L27.0,50.3 L27.5,50.1 L27.7,50.0 L28.0,49.9 L28.5,49.7 L29.0,49.5 L29.1,49.5 L29.5,49.3 L30.0,49.2 L30.5,49.1 L30.7,49.0 L31.0,48.9 L31.5,48.8 L32.0,48.7 L32.5,48.6 L32.9,48.5Z M13.3,82.0 L13.5,81.8 L13.8,81.5 L14.0,81.4 L14.5,81.1 L14.6,81.0 L15.0,80.8 L15.5,80.6 L15.9,80.5 L16.0,80.5 L16.5,80.3 L17.0,80.2 L17.5,80.0 L17.6,80.0 L18.0,79.9 L18.5,79.8 L19.0,79.7 L19.5,79.6 L20.0,79.5 L20.2,79.5 L20.5,79.4 L21.0,79.4 L21.5,79.3 L22.0,79.2 L22.5,79.2 L23.0,79.1 L23.5,79.1 L24.0,79.1 L24.5,79.0 L25.0,79.0 L25.5,79.0 L26.0,79.0 L26.5,79.1 L27.0,79.1 L27.5,79.2 L28.0,79.3 L28.5,79.4 L28.9,79.5 L29.0,79.5 L29.5,79.6 L30.0,79.8 L30.5,80.0 L30.6,80.0 L31.0,80.1 L31.5,80.3 L31.8,80.5 L32.0,80.6 L32.5,80.9 L32.7,81.0 L33.0,81.2 L33.3,81.5 L33.5,81.7 L33.7,82.0 M61.6,31.0 L62.0,30.9 L62.5,30.7 L63.0,30.7 L63.5,30.6 L64.0,30.6 L64.5,30.6 L65.0,30.7 L65.5,30.8 L66.0,30.9 L66.1,31.0 L66.5,31.1 L67.0,31.4 L67.3,31.5 L67.5,31.6 L68.0,31.9 L68.1,32.0 L68.5,32.3 L68.7,32.5 L69.0,32.8 L69.2,33.0 L69.5,33.4 L69.6,33.5 L70.0,34.0 L70.0,34.0 L70.3,34.5 L70.5,34.9 L70.5,35.0 L70.8,35.5 L70.9,36.0 L71.0,36.2 L71.1,36.5 L71.2,37.0 L71.3,37.5 L71.3,38.0 L71.3,38.5 L71.3,39.0 L71.3,39.5 L71.2,40.0 L71.1,40.5 L71.0,41.0 L71.0,41.0 L70.8,41.5 L70.6,42.0 L70.5,42.3 L70.4,42.5 L70.1,43.0 L70.0,43.2 L69.8,43.5 L69.5,43.9 L69.4,44.0 L69.0,44.4 L68.9,44.5 L68.5,44.9 L68.4,45.0 L68.0,45.3 L67.7,45.5 L67.5,45.6 L67.0,45.9 L66.8,46.0 L66.5,46.2 L66.0,46.3 L65.5,46.5 L65.5,46.5 L65.0,46.6 L64.5,46.7 L64.0,46.8 L63.5,46.8 L63.0,46.8 L62.5,46.7 L62.0,46.7 L61.5,46.6 L61.2,46.5 L61.0,46.4 L60.5,46.3 L60.0,46.1 L59.8,46.0 L59.5,45.9 L59.0,45.6 L58.9,45.5 L58.5,45.3 L58.1,45.0 L58.0,44.9 L57.6,44.5 L57.5,44.4 L57.1,44.0 L57.0,43.8 L56.7,43.5 L56.5,43.1 L56.5,43.0 L56.2,42.5 L56.0,42.0 L56.0,41.9 L55.9,41.5 L55.8,41.0 L55.7,40.5 L55.7,40.0 L55.7,39.5 L55.7,39.0 L55.8,38.5 L55.9,38.0 L56.0,37.5 L56.0,37.4 L56.1,37.0 L56.3,36.5 L56.5,36.0 L56.5,35.9 L56.7,35.5 L56.9,35.0 L57.0,34.9 L57.2,34.5 L57.5,34.1 L57.6,34.0 L58.0,33.5 L58.0,33.5 L58.4,33.0 L58.5,32.9 L58.9,32.5 L59.0,32.5 L59.5,32.1 L59.6,32.0 L60.0,31.7 L60.4,31.5 L60.5,31.4 L61.0,31.2 L61.5,31.0 L61.6,31.0Z M33.6,49.0 L34.0,48.9 L34.5,48.9 L35.0,48.8 L35.5,48.8 L36.0,48.7 L36.5,48.7 L37.0,48.7 L37.5,48.7 L38.0,48.7 L38.5,48.7 L39.0,48.7 L39.5,48.7 L40.0,48.8 L40.5,48.8 L41.0,48.8 L41.5,48.9 L42.0,49.0 L42.1,49.0 L42.5,49.1 L43.0,49.2 L43.5,49.3 L44.0,49.4 L44.4,49.5 L44.5,49.5 L45.0,49.7 L45.5,49.8 L45.9,50.0 L46.0,50.0 L46.5,50.3 L46.9,50.5 L47.0,50.5 L47.5,50.9 L47.7,51.0 L48.0,51.2 L48.3,51.5 L48.5,51.7 L48.8,52.0 L49.0,52.3 L49.2,52.5 L49.5,53.0 L49.5,53.0 L49.7,53.5 L50.0,54.0 L50.0,54.1 L50.1,54.5 L50.3,55.0 L50.4,55.5 L50.5,55.9 L50.5,56.0 L50.6,56.5 L50.6,57.0 L50.7,57.5 L50.7,58.0 L50.6,58.5 L50.6,59.0 L50.5,59.5 L50.5,59.6 L50.4,60.0 L50.3,60.5 L50.2,61.0 L50.1,61.5 L50.0,61.7 L49.9,62.0 L49.7,62.5 L49.5,63.0 L49.5,63.0 L49.3,63.5 L49.0,64.0 L49.0,64.1 L48.8,64.5 L48.5,65.0 L48.5,65.0 L48.2,65.5 L48.0,65.8 L47.9,66.0 L47.5,66.5 L47.5,66.5 L47.2,67.0 L47.0,67.2 L46.8,67.5 L46.5,67.9 L46.4,68.0 L46.0,68.5 L46.0,68.5 L45.5,69.0 L45.5,69.0 L45.1,69.5 L45.0,69.6 L44.6,70.0 L44.5,70.1 L44.1,70.5 L44.0,70.6 L43.5,71.0 L43.5,71.0 L43.0,71.4 L42.9,71.5 L42.5,71.8 L42.3,72.0 L42.0,72.2 L41.6,72.5 L41.5,72.6 L41.0,72.9 L40.9,73.0 L40.5,73.2 L40.0,73.5 L40.0,73.5 L39.5,73.8 L39.1,74.0 L39.0,74.0 L38.5,74.3 L38.0,74.5 L38.0,74.5 L37.5,74.7 L37.0,74.9 L36.8,75.0 L36.5,75.1 L36.0,75.3 L35.5,75.4 L35.2,75.5 L35.0,75.6 L34.5,75.7 L34.0,75.8 L33.5,75.9 L33.2,76.0 L33.0,76.1 L32.5,76.2 L32.0,76.2 L31.5,76.3 L31.0,76.4 L30.5,76.4 L30.0,76.5 L29.5,76.5 L29.4,76.5 L29.0,76.5 L28.5,76.5 L28.0,76.5 L27.5,76.5 L27.3,76.5 L27.0,76.5 L26.5,76.4 L26.0,76.4 L25.5,76.3 L25.0,76.2 L24.5,76.1 L24.1,76.0 L24.0,76.0 L23.5,75.8 L23.0,75.7 L22.6,75.5 L22.5,75.5 L22.0,75.3 L21.5,75.0 L21.5,75.0 L21.0,74.8 L20.6,74.5 L20.5,74.5 L20.0,74.1 L19.8,74.0 L19.5,73.8 L19.2,73.5 L19.0,73.4 L18.6,73.0 L18.5,72.9 L18.1,72.5 L18.0,72.4 L17.6,72.0 L17.5,71.9 L17.2,71.5 L17.0,71.2 L16.8,71.0 L16.5,70.5 L16.5,70.5 L16.2,70.0 L16.0,69.5 L16.0,69.5 L15.8,69.0 L15.6,68.5 L15.5,68.2 L15.4,68.0 L15.3,67.5 L15.2,67.0 L15.2,66.5 L15.1,66.0 L15.1,65.5 L15.1,65.0 L15.1,64.5 L15.2,64.0 L15.3,63.5 L15.4,63.0 L15.5,62.6 L15.5,62.5 L15.7,62.0 L15.9,61.5 L16.0,61.1 L16.1,61.0 L16.3,60.5 L16.5,60.1 L16.5,60.0 L16.8,59.5 L17.0,59.2 L17.1,59.0 L17.4,58.5 L17.5,58.4 L17.8,58.0 L18.0,57.7 L18.2,57.5 L18.5,57.1 L18.6,57.0 L19.0,56.5 L19.0,56.5 L19.5,56.0 L19.5,56.0 L20.0,55.5 L20.0,55.5 L20.5,55.0 L20.6,55.0 L21.0,54.6 L21.1,54.5 L21.5,54.2 L21.8,54.0 L22.0,53.8 L22.4,53.5 L22.5,53.5 L23.0,53.1 L23.2,53.0 L23.5,52.8 L24.0,52.5 L24.0,52.5 L24.5,52.2 L24.8,52.0 L25.0,51.9 L25.5,51.6 L25.8,51.5 L26.0,51.4 L26.5,51.2 L26.8,51.0 L27.0,50.9 L27.5,50.7 L28.0,50.5 L28.0,50.5 L28.5,50.3 L29.0,50.1 L29.4,50.0 L29.5,50.0 L30.0,49.8 L30.5,49.7 L31.0,49.5 L31.2,49.5 L31.5,49.4 L32.0,49.3 L32.5,49.2 L33.0,49.1 L33.5,49.0 L33.6,49.0Z M14.3,82.0 L14.5,81.9 L14.9,81.5 L15.0,81.5 L15.5,81.2 L15.9,81.0 L16.0,81.0 L16.5,80.8 L17.0,80.6 L17.5,80.5 L17.5,80.5 L18.0,80.4 L18.5,80.3 L19.0,80.2 L19.5,80.1 L20.0,80.0 L20.1,80.0 L20.5,79.9 L21.0,79.9 L21.5,79.8 L22.0,79.8 L22.5,79.8 L23.0,79.7 L23.5,79.7 L24.0,79.7 L24.5,79.7 L25.0,79.8 L25.5,79.8 L26.0,79.8 L26.5,79.9 L27.0,80.0 L27.1,80.0 L27.5,80.1 L28.0,80.2 L28.5,80.3 L29.0,80.4 L29.3,80.5 L29.5,80.6 L30.0,80.7 L30.5,81.0 L30.6,81.0 L31.0,81.2 L31.4,81.5 L31.5,81.6 L31.9,82.0 M61.8,32.0 L62.0,31.9 L62.5,31.8 L63.0,31.7 L63.5,31.6 L64.0,31.6 L64.5,31.7 L65.0,31.7 L65.5,31.9 L65.9,32.0 L66.0,32.0 L66.5,32.2 L67.0,32.5 L67.0,32.5 L67.5,32.8 L67.7,33.0 L68.0,33.2 L68.3,33.5 L68.5,33.7 L68.8,34.0 L69.0,34.3 L69.1,34.5 L69.4,35.0 L69.5,35.1 L69.7,35.5 L69.9,36.0 L70.0,36.3 L70.1,36.5 L70.2,37.0 L70.3,37.5 L70.4,38.0 L70.4,38.5 L70.4,39.0 L70.3,39.5 L70.2,40.0 L70.1,40.5 L70.0,40.9 L70.0,41.0 L69.8,41.5 L69.6,42.0 L69.5,42.1 L69.3,42.5 L69.0,42.9 L68.9,43.0 L68.5,43.5 L68.5,43.5 L68.0,44.0 L68.0,44.0 L67.5,44.4 L67.4,44.5 L67.0,44.7 L66.5,45.0 L66.5,45.0 L66.0,45.2 L65.5,45.4 L65.2,45.5 L65.0,45.6 L64.5,45.7 L64.0,45.7 L63.5,45.7 L63.0,45.7 L62.5,45.7 L62.0,45.6 L61.7,45.5 L61.5,45.4 L61.0,45.3 L60.5,45.1 L60.3,45.0 L60.0,44.8 L59.5,44.5 L59.5,44.5 L59.0,44.2 L58.8,44.0 L58.5,43.7 L58.3,43.5 L58.0,43.1 L57.9,43.0 L57.6,42.5 L57.5,42.3 L57.3,42.0 L57.1,41.5 L57.0,41.0 L57.0,41.0 L56.9,40.5 L56.8,40.0 L56.8,39.5 L56.8,39.0 L56.9,38.5 L56.9,38.0 L57.0,37.6 L57.0,37.5 L57.2,37.0 L57.3,36.5 L57.5,36.1 L57.5,36.0 L57.8,35.5 L58.0,35.1 L58.1,35.0 L58.4,34.5 L58.5,34.4 L58.8,34.0 L59.0,33.8 L59.3,33.5 L59.5,33.3 L59.9,33.0 L60.0,32.9 L60.5,32.6 L60.7,32.5 L61.0,32.3 L61.5,32.1 L61.8,32.0Z M33.9,49.5 L34.0,49.5 L34.5,49.4 L35.0,49.4 L35.5,49.3 L36.0,49.3 L36.5,49.3 L37.0,49.2 L37.5,49.2 L38.0,49.2 L38.5,49.3 L39.0,49.3 L39.5,49.3 L40.0,49.4 L40.5,49.4 L41.0,49.5 L41.1,49.5 L41.5,49.6 L42.0,49.7 L42.5,49.8 L43.0,49.9 L43.5,50.0 L43.5,50.0 L44.0,50.2 L44.5,50.3 L45.0,50.5 L45.0,50.5 L45.5,50.7 L46.0,51.0 L46.0,51.0 L46.5,51.3 L46.8,51.5 L47.0,51.6 L47.4,52.0 L47.5,52.1 L47.9,52.5 L48.0,52.6 L48.3,53.0 L48.5,53.2 L48.7,53.5 L49.0,54.0 L49.0,54.1 L49.2,54.5 L49.4,55.0 L49.5,55.4 L49.5,55.5 L49.7,56.0 L49.8,56.5 L49.8,57.0 L49.9,57.5 L49.9,58.0 L49.9,58.5 L49.8,59.0 L49.8,59.5 L49.7,60.0 L49.6,60.5 L49.5,60.9 L49.5,61.0 L49.3,61.5 L49.2,62.0 L49.0,62.5 L49.0,62.5 L48.8,63.0 L48.6,63.5 L48.5,63.6 L48.3,64.0 L48.0,64.5 L48.0,64.6 L47.8,65.0 L47.5,65.4 L47.5,65.5 L47.1,66.0 L47.0,66.2 L46.8,66.5 L46.5,66.9 L46.4,67.0 L46.0,67.5 L46.0,67.5 L45.6,68.0 L45.5,68.1 L45.2,68.5 L45.0,68.7 L44.7,69.0 L44.5,69.2 L44.2,69.5 L44.0,69.7 L43.7,70.0 L43.5,70.2 L43.1,70.5 L43.0,70.6 L42.5,71.0 L42.5,71.0 L42.0,71.4 L41.9,71.5 L41.5,71.8 L41.2,72.0 L41.0,72.1 L40.5,72.4 L40.4,72.5 L40.0,72.7 L39.5,73.0 L39.5,73.0 L39.0,73.3 L38.5,73.5 L38.5,73.5 L38.0,73.7 L37.5,74.0 L37.4,74.0 L37.0,74.2 L36.5,74.3 L36.0,74.5 L36.0,74.5 L35.5,74.7 L35.0,74.8 L34.5,75.0 L34.4,75.0 L34.0,75.1 L33.5,75.2 L33.0,75.3 L32.5,75.4 L32.0,75.5 L31.9,75.5 L31.5,75.6 L31.0,75.6 L30.5,75.7 L30.0,75.7 L29.5,75.8 L29.0,75.8 L28.5,75.8 L28.0,75.8 L27.5,75.7 L27.0,75.7 L26.5,75.7 L26.0,75.6 L25.5,75.5 L25.4,75.5 L25.0,75.4 L24.5,75.3 L24.0,75.2 L23.5,75.0 L23.5,75.0 L23.0,74.8 L22.5,74.6 L22.2,74.5 L22.0,74.4 L21.5,74.2 L21.2,74.0 L21.0,73.9 L20.5,73.6 L20.4,73.5 L20.0,73.2 L19.7,73.0 L19.5,72.8 L19.1,72.5 L19.0,72.4 L18.6,72.0 L18.5,71.9 L18.2,71.5 L18.0,71.3 L17.8,71.0 L17.5,70.6 L17.4,70.5 L17.1,70.0 L17.0,69.8 L16.8,69.5 L16.6,69.0 L16.5,68.7 L16.4,68.5 L16.2,68.0 L16.1,67.5 L16.0,67.0 L16.0,67.0 L15.9,66.5 L15.9,66.0 L15.8,65.5 L15.8,65.0 L15.9,64.5 L15.9,64.0 L16.0,63.6 L16.0,63.5 L16.1,63.0 L16.2,62.5 L16.4,62.0 L16.5,61.7 L16.6,61.5 L16.8,61.0 L17.0,60.5 L17.0,60.5 L17.3,60.0 L17.5,59.6 L17.6,59.5 L17.9,59.0 L18.0,58.8 L18.2,58.5 L18.5,58.1 L18.6,58.0 L19.0,57.5 L19.0,57.4 L19.4,57.0 L19.5,56.9 L19.8,56.5 L20.0,56.3 L20.3,56.0 L20.5,55.8 L20.9,55.5 L21.0,55.4 L21.4,55.0 L21.5,54.9 L22.0,54.5 L22.0,54.5 L22.5,54.1 L22.7,54.0 L23.0,53.8 L23.4,53.5 L23.5,53.4 L24.0,53.1 L24.2,53.0 L24.5,52.8 L25.0,52.5 L25.0,52.5 L25.5,52.2 L26.0,52.0 L26.0,52.0 L26.5,51.7 L27.0,51.5 L27.0,51.5 L27.5,51.3 L28.0,51.1 L28.2,51.0 L28.5,50.9 L29.0,50.7 L29.5,50.5 L29.6,50.5 L30.0,50.4 L30.5,50.2 L31.0,50.1 L31.4,50.0 L31.5,50.0 L32.0,49.8 L32.5,49.7 L33.0,49.6 L33.5,49.6 L33.9,49.5Z M15.3,82.0 L15.5,81.9 L16.0,81.5 L16.0,81.5 L16.5,81.3 L17.0,81.1 L17.2,81.0 L17.5,80.9 L18.0,80.8 L18.5,80.6 L19.0,80.5 L19.3,80.5 L19.5,80.5 L20.0,80.4 L20.5,80.3 L21.0,80.3 L21.5,80.2 L22.0,80.2 L22.5,80.2 L23.0,80.2 L23.5,80.2 L24.0,80.2 L24.5,80.2 L25.0,80.2 L25.5,80.3 L26.0,80.3 L26.5,80.4 L27.0,80.5 L27.0,80.5 L27.5,80.6 L28.0,80.7 L28.5,80.9 L28.9,81.0 L29.0,81.1 L29.5,81.3 L29.9,81.5 L30.0,81.6 L30.5,82.0 M62.0,33.0 L62.5,32.9 L63.0,32.8 L63.5,32.7 L64.0,32.7 L64.5,32.7 L65.0,32.8 L65.5,33.0 L65.6,33.0 L66.0,33.2 L66.5,33.4 L66.6,33.5 L67.0,33.7 L67.3,34.0 L67.5,34.2 L67.8,34.5 L68.0,34.7 L68.2,35.0 L68.5,35.4 L68.6,35.5 L68.8,36.0 L69.0,36.4 L69.0,36.5 L69.2,37.0 L69.3,37.5 L69.4,38.0 L69.4,38.5 L69.4,39.0 L69.3,39.5 L69.2,40.0 L69.1,40.5 L69.0,40.8 L68.9,41.0 L68.7,41.5 L68.5,41.8 L68.4,42.0 L68.0,42.5 L68.0,42.5 L67.6,43.0 L67.5,43.1 L67.0,43.5 L67.0,43.5 L66.5,43.8 L66.2,44.0 L66.0,44.1 L65.5,44.3 L65.0,44.5 L64.9,44.5 L64.5,44.6 L64.0,44.6 L63.5,44.7 L63.0,44.6 L62.5,44.6 L62.2,44.5 L62.0,44.5 L61.5,44.3 L61.0,44.1 L60.8,44.0 L60.5,43.8 L60.0,43.5 L60.0,43.5 L59.5,43.1 L59.4,43.0 L59.0,42.5 L59.0,42.5 L58.6,42.0 L58.5,41.7 L58.4,41.5 L58.2,41.0 L58.0,40.5 L58.0,40.4 L57.9,40.0 L57.9,39.5 L57.9,39.0 L57.9,38.5 L58.0,38.0 L58.0,37.9 L58.1,37.5 L58.2,37.0 L58.4,36.5 L58.5,36.3 L58.7,36.0 L58.9,35.5 L59.0,35.4 L59.3,35.0 L59.5,34.8 L59.7,34.5 L60.0,34.2 L60.3,34.0 L60.5,33.8 L61.0,33.5 L61.0,33.5 L61.5,33.2 L62.0,33.0 L62.0,33.0Z M34.0,50.0 L34.0,50.0 L34.5,49.9 L35.0,49.9 L35.5,49.8 L36.0,49.8 L36.5,49.8 L37.0,49.8 L37.5,49.8 L38.0,49.8 L38.5,49.8 L39.0,49.8 L39.5,49.9 L40.0,49.9 L40.5,50.0 L40.5,50.0 L41.0,50.1 L41.5,50.2 L42.0,50.3 L42.5,50.4 L42.9,50.5 L43.0,50.5 L43.5,50.7 L44.0,50.9 L44.3,51.0 L44.5,51.1 L45.0,51.3 L45.4,51.5 L45.5,51.6 L46.0,51.9 L46.1,52.0 L46.5,52.3 L46.8,52.5 L47.0,52.7 L47.3,53.0 L47.5,53.3 L47.7,53.5 L48.0,54.0 L48.0,54.0 L48.3,54.5 L48.5,54.9 L48.5,55.0 L48.7,55.5 L48.9,56.0 L49.0,56.5 L49.0,56.6 L49.1,57.0 L49.1,57.5 L49.2,58.0 L49.2,58.5 L49.1,59.0 L49.1,59.5 L49.0,60.0 L49.0,60.1 L48.9,60.5 L48.8,61.0 L48.7,61.5 L48.5,62.0 L48.5,62.0 L48.3,62.5 L48.1,63.0 L48.0,63.3 L47.9,63.5 L47.6,64.0 L47.5,64.3 L47.4,64.5 L47.1,65.0 L47.0,65.1 L46.8,65.5 L46.5,65.9 L46.4,66.0 L46.1,66.5 L46.0,66.6 L45.7,67.0 L45.5,67.2 L45.3,67.5 L45.0,67.8 L44.9,68.0 L44.5,68.4 L44.4,68.5 L44.0,68.9 L43.9,69.0 L43.5,69.4 L43.4,69.5 L43.0,69.9 L42.8,70.0 L42.5,70.3 L42.2,70.5 L42.0,70.7 L41.6,71.0 L41.5,71.1 L41.0,71.4 L40.9,71.5 L40.5,71.7 L40.1,72.0 L40.0,72.1 L39.5,72.3 L39.2,72.5 L39.0,72.6 L38.5,72.9 L38.2,73.0 L38.0,73.1 L37.5,73.3 L37.1,73.5 L37.0,73.5 L36.5,73.7 L36.0,73.9 L35.7,74.0 L35.5,74.1 L35.0,74.2 L34.5,74.4 L34.0,74.5 L33.9,74.5 L33.5,74.6 L33.0,74.7 L32.5,74.8 L32.0,74.9 L31.5,74.9 L31.1,75.0 L31.0,75.0 L30.5,75.1 L30.0,75.1 L29.5,75.1 L29.0,75.1 L28.5,75.1 L28.0,75.1 L27.5,75.1 L27.0,75.1 L26.5,75.0 L26.5,75.0 L26.0,74.9 L25.5,74.8 L25.0,74.7 L24.5,74.6 L24.1,74.5 L24.0,74.5 L23.5,74.3 L23.0,74.1 L22.7,74.0 L22.5,73.9 L22.0,73.7 L21.7,73.5 L21.5,73.4 L21.0,73.1 L20.9,73.0 L20.5,72.7 L20.2,72.5 L20.0,72.3 L19.6,72.0 L19.5,71.9 L19.1,71.5 L19.0,71.4 L18.7,71.0 L18.5,70.8 L18.3,70.5 L18.0,70.1 L17.9,70.0 L17.6,69.5 L17.5,69.2 L17.4,69.0 L17.2,68.5 L17.0,68.1 L17.0,68.0 L16.8,67.5 L16.7,67.0 L16.6,66.5 L16.6,66.0 L16.5,65.5 L16.5,65.0 L16.6,64.5 L16.6,64.0 L16.7,63.5 L16.8,63.0 L16.9,62.5 L17.0,62.2 L17.1,62.0 L17.3,61.5 L17.5,61.0 L17.5,60.9 L17.7,60.5 L18.0,60.0 L18.0,59.9 L18.2,59.5 L18.5,59.1 L18.6,59.0 L18.9,58.5 L19.0,58.4 L19.3,58.0 L19.5,57.7 L19.7,57.5 L20.0,57.1 L20.1,57.0 L20.5,56.6 L20.6,56.5 L21.0,56.1 L21.1,56.0 L21.5,55.6 L21.7,55.5 L22.0,55.2 L22.2,55.0 L22.5,54.8 L22.9,54.5 L23.0,54.4 L23.5,54.1 L23.6,54.0 L24.0,53.7 L24.3,53.5 L24.5,53.4 L25.0,53.1 L25.2,53.0 L25.5,52.8 L26.0,52.6 L26.1,52.5 L26.5,52.3 L27.0,52.1 L27.1,52.0 L27.5,51.8 L28.0,51.6 L28.3,51.5 L28.5,51.4 L29.0,51.2 L29.5,51.1 L29.7,51.0 L30.0,50.9 L30.5,50.7 L31.0,50.6 L31.4,50.5 L31.5,50.5 L32.0,50.4 L32.5,50.2 L33.0,50.2 L33.5,50.1 L34.0,50.0Z M16.3,82.0 L16.5,81.8 L17.0,81.5 L17.0,81.5 L17.5,81.3 L18.0,81.1 L18.5,81.0 L18.5,81.0 L19.0,80.9 L19.5,80.8 L20.0,80.7 L20.5,80.6 L21.0,80.6 L21.5,80.6 L22.0,80.5 L22.5,80.5 L23.0,80.5 L23.5,80.5 L24.0,80.5 L24.5,80.6 L25.0,80.6 L25.5,80.7 L26.0,80.7 L26.5,80.8 L27.0,80.9 L27.2,81.0 L27.5,81.1 L28.0,81.3 L28.5,81.5 L28.6,81.5 L29.0,81.8 L29.3,82.0 M62.8,34.0 L63.0,34.0 L63.5,33.9 L64.0,33.9 L64.5,33.9 L64.8,34.0 L65.0,34.1 L65.5,34.2 L66.0,34.5 L66.0,34.5 L66.5,34.9 L66.7,35.0 L67.0,35.3 L67.2,35.5 L67.5,36.0 L67.5,36.0 L67.8,36.5 L68.0,37.0 L68.0,37.0 L68.1,37.5 L68.2,38.0 L68.2,38.5 L68.2,39.0 L68.2,39.5 L68.1,40.0 L68.0,40.2 L67.9,40.5 L67.6,41.0 L67.5,41.2 L67.3,41.5 L67.0,41.9 L66.9,42.0 L66.5,42.4 L66.4,42.5 L66.0,42.8 L65.6,43.0 L65.5,43.0 L65.0,43.2 L64.5,43.4 L64.0,43.5 L63.5,43.5 L63.0,43.4 L62.5,43.4 L62.0,43.2 L61.5,43.0 L61.5,43.0 L61.0,42.7 L60.7,42.5 L60.5,42.3 L60.2,42.0 L60.0,41.8 L59.8,41.5 L59.5,41.0 L59.5,41.0 L59.3,40.5 L59.1,40.0 L59.1,39.5 L59.0,39.0 L59.0,38.5 L59.1,38.0 L59.2,37.5 L59.4,37.0 L59.5,36.8 L59.7,36.5 L60.0,36.0 L60.0,35.9 L60.4,35.5 L60.5,35.3 L60.9,35.0 L61.0,34.9 L61.5,34.5 L61.6,34.5 L62.0,34.3 L62.5,34.1 L62.8,34.0Z M33.9,50.5 L34.0,50.5 L34.5,50.4 L35.0,50.4 L35.5,50.3 L36.0,50.3 L36.5,50.3 L37.0,50.3 L37.5,50.3 L38.0,50.3 L38.5,50.3 L39.0,50.4 L39.5,50.4 L40.0,50.5 L40.2,50.5 L40.5,50.6 L41.0,50.6 L41.5,50.7 L42.0,50.9 L42.5,51.0 L42.5,51.0 L43.0,51.2 L43.5,51.4 L43.8,51.5 L44.0,51.6 L44.5,51.8 L44.9,52.0 L45.0,52.1 L45.5,52.4 L45.6,52.5 L46.0,52.8 L46.2,53.0 L46.5,53.3 L46.7,53.5 L47.0,53.8 L47.1,54.0 L47.4,54.5 L47.5,54.6 L47.7,55.0 L47.9,55.5 L48.0,55.7 L48.1,56.0 L48.3,56.5 L48.4,57.0 L48.4,57.5 L48.5,58.0 L48.5,58.5 L48.5,59.0 L48.4,59.5 L48.4,60.0 L48.3,60.5 L48.2,61.0 L48.0,61.5 L48.0,61.6 L47.9,62.0 L47.7,62.5 L47.5,62.9 L47.5,63.0 L47.2,63.5 L47.0,64.0 L47.0,64.0 L46.7,64.5 L46.5,64.9 L46.4,65.0 L46.1,65.5 L46.0,65.7 L45.8,66.0 L45.5,66.4 L45.4,66.5 L45.0,67.0 L45.0,67.0 L44.6,67.5 L44.5,67.6 L44.2,68.0 L44.0,68.2 L43.7,68.5 L43.5,68.7 L43.2,69.0 L43.0,69.2 L42.6,69.5 L42.5,69.6 L42.0,70.0 L42.0,70.0 L41.5,70.4 L41.4,70.5 L41.0,70.8 L40.7,71.0 L40.5,71.1 L40.0,71.4 L39.9,71.5 L39.5,71.7 L39.0,72.0 L39.0,72.0 L38.5,72.3 L38.0,72.5 L38.0,72.5 L37.5,72.7 L37.0,73.0 L36.9,73.0 L36.5,73.1 L36.0,73.3 L35.5,73.5 L35.5,73.5 L35.0,73.7 L34.5,73.8 L34.0,73.9 L33.7,74.0 L33.5,74.0 L33.0,74.2 L32.5,74.2 L32.0,74.3 L31.5,74.4 L31.0,74.5 L30.5,74.5 L30.5,74.5 L30.0,74.5 L29.5,74.6 L29.0,74.6 L28.5,74.6 L28.0,74.6 L27.5,74.5 L27.3,74.5 L27.0,74.5 L26.5,74.4 L26.0,74.3 L25.5,74.2 L25.0,74.1 L24.5,74.0 L24.5,74.0 L24.0,73.8 L23.5,73.7 L23.1,73.5 L23.0,73.4 L22.5,73.2 L22.1,73.0 L22.0,72.9 L21.5,72.6 L21.3,72.5 L21.0,72.3 L20.6,72.0 L20.5,71.9 L20.0,71.5 L20.0,71.5 L19.5,71.0 L19.5,71.0 L19.1,70.5 L19.0,70.4 L18.7,70.0 L18.5,69.7 L18.4,69.5 L18.1,69.0 L18.0,68.7 L17.9,68.5 L17.7,68.0 L17.5,67.5 L17.5,67.4 L17.4,67.0 L17.3,66.5 L17.2,66.0 L17.2,65.5 L17.2,65.0 L17.2,64.5 L17.3,64.0 L17.3,63.5 L17.4,63.0 L17.5,62.8 L17.6,62.5 L17.7,62.0 L17.9,61.5 L18.0,61.3 L18.1,61.0 L18.4,60.5 L18.5,60.2 L18.6,60.0 L18.9,59.5 L19.0,59.4 L19.2,59.0 L19.5,58.6 L19.6,58.5 L20.0,58.0 L20.0,58.0 L20.4,57.5 L20.5,57.4 L20.8,57.0 L21.0,56.8 L21.3,56.5 L21.5,56.3 L21.9,56.0 L22.0,55.9 L22.4,55.5 L22.5,55.4 L23.0,55.0 L23.1,55.0 L23.5,54.7 L23.7,54.5 L24.0,54.3 L24.5,54.0 L24.5,54.0 L25.0,53.7 L25.3,53.5 L25.5,53.4 L26.0,53.1 L26.2,53.0 L26.5,52.8 L27.0,52.6 L27.2,52.5 L27.5,52.4 L28.0,52.1 L28.3,52.0 L28.5,51.9 L29.0,51.7 L29.5,51.6 L29.7,51.5 L30.0,51.4 L30.5,51.2 L31.0,51.1 L31.4,51.0 L31.5,51.0 L32.0,50.8 L32.5,50.7 L33.0,50.6 L33.5,50.6 L33.9,50.5Z M17.2,82.0 L17.5,81.8 L18.0,81.6 L18.1,81.5 L18.5,81.4 L19.0,81.2 L19.5,81.1 L20.0,81.0 L20.3,81.0 L20.5,81.0 L21.0,80.9 L21.5,80.9 L22.0,80.8 L22.5,80.8 L23.0,80.8 L23.5,80.8 L24.0,80.9 L24.5,80.9 L25.0,81.0 L25.3,81.0 L25.5,81.0 L26.0,81.1 L26.5,81.3 L27.0,81.4 L27.3,81.5 L27.5,81.6 L28.0,81.9 L28.2,82.0 M62.1,36.0 L62.5,35.8 L63.0,35.6 L63.5,35.6 L64.0,35.6 L64.5,35.7 L65.0,35.9 L65.2,36.0 L65.5,36.2 L65.8,36.5 L66.0,36.7 L66.2,37.0 L66.5,37.5 L66.5,37.6 L66.6,38.0 L66.6,38.5 L66.6,39.0 L66.5,39.5 L66.5,39.7 L66.4,40.0 L66.1,40.5 L66.0,40.6 L65.7,41.0 L65.5,41.1 L65.0,41.5 L65.0,41.5 L64.5,41.7 L64.0,41.8 L63.5,41.9 L63.0,41.8 L62.5,41.7 L62.1,41.5 L62.0,41.5 L61.5,41.1 L61.4,41.0 L61.0,40.5 L61.0,40.5 L60.8,40.0 L60.6,39.5 L60.5,39.0 L60.6,38.5 L60.7,38.0 L60.8,37.5 L61.0,37.2 L61.1,37.0 L61.5,36.5 L61.5,36.5 L62.0,36.1 L62.1,36.0Z M33.7,51.0 L34.0,51.0 L34.5,50.9 L35.0,50.8 L35.5,50.8 L36.0,50.8 L36.5,50.8 L37.0,50.8 L37.5,50.8 L38.0,50.8 L38.5,50.8 L39.0,50.9 L39.5,50.9 L40.0,51.0 L40.0,51.0 L40.5,51.1 L41.0,51.2 L41.5,51.3 L42.0,51.5 L42.1,51.5 L42.5,51.6 L43.0,51.8 L43.5,52.0 L43.5,52.0 L44.0,52.3 L44.4,52.5 L44.5,52.6 L45.0,52.9 L45.2,53.0 L45.5,53.3 L45.7,53.5 L46.0,53.8 L46.2,54.0 L46.5,54.4 L46.6,54.5 L46.9,55.0 L47.0,55.2 L47.2,55.5 L47.4,56.0 L47.5,56.4 L47.5,56.5 L47.7,57.0 L47.7,57.5 L47.8,58.0 L47.8,58.5 L47.8,59.0 L47.8,59.5 L47.7,60.0 L47.6,60.5 L47.5,61.0 L47.5,61.1 L47.4,61.5 L47.2,62.0 L47.1,62.5 L47.0,62.6 L46.9,63.0 L46.6,63.5 L46.5,63.7 L46.4,64.0 L46.1,64.5 L46.0,64.7 L45.8,65.0 L45.5,65.5 L45.5,65.5 L45.1,66.0 L45.0,66.2 L44.8,66.5 L44.5,66.8 L44.4,67.0 L44.0,67.4 L43.9,67.5 L43.5,68.0 L43.5,68.0 L43.0,68.5 L43.0,68.5 L42.5,68.9 L42.4,69.0 L42.0,69.4 L41.8,69.5 L41.5,69.8 L41.2,70.0 L41.0,70.2 L40.5,70.5 L40.5,70.5 L40.0,70.8 L39.8,71.0 L39.5,71.2 L39.0,71.4 L38.9,71.5 L38.5,71.7 L38.0,72.0 L37.9,72.0 L37.5,72.2 L37.0,72.4 L36.8,72.5 L36.5,72.6 L36.0,72.8 L35.5,73.0 L35.4,73.0 L35.0,73.1 L34.5,73.3 L34.0,73.4 L33.6,73.5 L33.5,73.5 L33.0,73.6 L32.5,73.7 L32.0,73.8 L31.5,73.9 L31.0,73.9 L30.5,74.0 L30.3,74.0 L30.0,74.0 L29.5,74.0 L29.0,74.0 L28.5,74.0 L28.0,74.0 L27.8,74.0 L27.5,74.0 L27.0,73.9 L26.5,73.9 L26.0,73.8 L25.5,73.7 L25.0,73.5 L24.9,73.5 L24.5,73.4 L24.0,73.2 L23.5,73.0 L23.4,73.0 L23.0,72.8 L22.5,72.5 L22.4,72.5 L22.0,72.2 L21.6,72.0 L21.5,71.9 L21.0,71.5 L21.0,71.5 L20.5,71.1 L20.4,71.0 L20.0,70.6 L19.9,70.5 L19.5,70.0 L19.5,70.0 L19.2,69.5 L19.0,69.2 L18.9,69.0 L18.6,68.5 L18.5,68.3 L18.4,68.0 L18.2,67.5 L18.1,67.0 L18.0,66.7 L18.0,66.5 L17.9,66.0 L17.8,65.5 L17.8,65.0 L17.9,64.5 L17.9,64.0 L18.0,63.5 L18.0,63.4 L18.1,63.0 L18.2,62.5 L18.4,62.0 L18.5,61.6 L18.5,61.5 L18.8,61.0 L19.0,60.5 L19.0,60.5 L19.3,60.0 L19.5,59.6 L19.6,59.5 L19.9,59.0 L20.0,58.9 L20.3,58.5 L20.5,58.2 L20.7,58.0 L21.0,57.6 L21.1,57.5 L21.5,57.1 L21.6,57.0 L22.0,56.6 L22.1,56.5 L22.5,56.1 L22.6,56.0 L23.0,55.7 L23.2,55.5 L23.5,55.3 L23.9,55.0 L24.0,54.9 L24.5,54.6 L24.6,54.5 L25.0,54.2 L25.4,54.0 L25.5,53.9 L26.0,53.6 L26.2,53.5 L26.5,53.4 L27.0,53.1 L27.2,53.0 L27.5,52.9 L28.0,52.6 L28.3,52.5 L28.5,52.4 L29.0,52.2 L29.5,52.1 L29.6,52.0 L30.0,51.9 L30.5,51.7 L31.0,51.6 L31.3,51.5 L31.5,51.4 L32.0,51.3 L32.5,51.2 L33.0,51.1 L33.5,51.0 L33.7,51.0Z M18.2,82.0 L18.5,81.8 L19.0,81.6 L19.4,81.5 L19.5,81.5 L20.0,81.4 L20.5,81.3 L21.0,81.2 L21.5,81.2 L22.0,81.2 L22.5,81.1 L23.0,81.1 L23.5,81.2 L24.0,81.2 L24.5,81.3 L25.0,81.3 L25.5,81.4 L25.8,81.5 L26.0,81.6 L26.5,81.7 L27.0,82.0 L27.0,82.0 M33.6,51.5 L34.0,51.4 L34.5,51.4 L35.0,51.3 L35.5,51.3 L36.0,51.3 L36.5,51.3 L37.0,51.3 L37.5,51.3 L38.0,51.3 L38.5,51.3 L39.0,51.4 L39.5,51.5 L39.7,51.5 L40.0,51.5 L40.5,51.6 L41.0,51.8 L41.5,51.9 L41.8,52.0 L42.0,52.1 L42.5,52.3 L43.0,52.5 L43.1,52.5 L43.5,52.7 L44.0,53.0 L44.0,53.0 L44.5,53.3 L44.7,53.5 L45.0,53.7 L45.3,54.0 L45.5,54.2 L45.7,54.5 L46.0,54.9 L46.1,55.0 L46.4,55.5 L46.5,55.7 L46.6,56.0 L46.8,56.5 L47.0,57.0 L47.0,57.2 L47.1,57.5 L47.1,58.0 L47.2,58.5 L47.2,59.0 L47.1,59.5 L47.1,60.0 L47.0,60.5 L47.0,60.6 L46.9,61.0 L46.8,61.5 L46.6,62.0 L46.5,62.3 L46.4,62.5 L46.2,63.0 L46.0,63.5 L46.0,63.5 L45.7,64.0 L45.5,64.4 L45.5,64.5 L45.2,65.0 L45.0,65.3 L44.8,65.5 L44.5,66.0 L44.5,66.0 L44.1,66.5 L44.0,66.6 L43.7,67.0 L43.5,67.2 L43.2,67.5 L43.0,67.8 L42.8,68.0 L42.5,68.3 L42.2,68.5 L42.0,68.7 L41.7,69.0 L41.5,69.2 L41.1,69.5 L41.0,69.6 L40.5,69.9 L40.4,70.0 L40.0,70.3 L39.6,70.5 L39.5,70.6 L39.0,70.9 L38.8,71.0 L38.5,71.2 L38.0,71.4 L37.8,71.5 L37.5,71.7 L37.0,71.9 L36.7,72.0 L36.5,72.1 L36.0,72.3 L35.5,72.5 L35.4,72.5 L35.0,72.6 L34.5,72.8 L34.0,72.9 L33.6,73.0 L33.5,73.0 L33.0,73.1 L32.5,73.2 L32.0,73.3 L31.5,73.4 L31.0,73.4 L30.5,73.5 L30.3,73.5 L30.0,73.5 L29.5,73.5 L29.0,73.5 L28.5,73.5 L28.0,73.5 L28.0,73.5 L27.5,73.5 L27.0,73.4 L26.5,73.3 L26.0,73.2 L25.5,73.1 L25.1,73.0 L25.0,73.0 L24.5,72.8 L24.0,72.6 L23.7,72.5 L23.5,72.4 L23.0,72.1 L22.7,72.0 L22.5,71.9 L22.0,71.5 L22.0,71.5 L21.5,71.1 L21.3,71.0 L21.0,70.7 L20.8,70.5 L20.5,70.2 L20.3,70.0 L20.0,69.6 L19.9,69.5 L19.6,69.0 L19.5,68.8 L19.3,68.5 L19.1,68.0 L19.0,67.7 L18.9,67.5 L18.8,67.0 L18.6,66.5 L18.6,66.0 L18.5,65.5 L18.5,65.5 L18.5,65.0 L18.5,64.5 L18.5,64.4 L18.5,64.0 L18.6,63.5 L18.7,63.0 L18.8,62.5 L19.0,62.0 L19.0,62.0 L19.2,61.5 L19.4,61.0 L19.5,60.8 L19.6,60.5 L19.9,60.0 L20.0,59.9 L20.2,59.5 L20.5,59.1 L20.6,59.0 L20.9,58.5 L21.0,58.4 L21.4,58.0 L21.5,57.8 L21.8,57.5 L22.0,57.3 L22.3,57.0 L22.5,56.8 L22.8,56.5 L23.0,56.3 L23.4,56.0 L23.5,55.9 L24.0,55.5 L24.0,55.5 L24.5,55.2 L24.7,55.0 L25.0,54.8 L25.5,54.5 L25.5,54.5 L26.0,54.2 L26.3,54.0 L26.5,53.9 L27.0,53.6 L27.3,53.5 L27.5,53.4 L28.0,53.2 L28.4,53.0 L28.5,52.9 L29.0,52.7 L29.5,52.5 L29.6,52.5 L30.0,52.4 L30.5,52.2 L31.0,52.1 L31.2,52.0 L31.5,51.9 L32.0,51.8 L32.5,51.7 L33.0,51.6 L33.5,51.5 L33.6,51.5Z M19.3,82.0 L19.5,81.9 L20.0,81.8 L20.5,81.7 L21.0,81.6 L21.5,81.5 L21.5,81.5 L22.0,81.5 L22.5,81.5 L23.0,81.5 L23.5,81.5 L23.6,81.5 L24.0,81.5 L24.5,81.6 L25.0,81.8 L25.5,81.9 L25.8,82.0 M33.5,52.0 L34.0,51.9 L34.5,51.9 L35.0,51.8 L35.5,51.8 L36.0,51.8 L36.5,51.8 L37.0,51.8 L37.5,51.8 L38.0,51.8 L38.5,51.9 L39.0,51.9 L39.5,52.0 L39.5,52.0 L40.0,52.1 L40.5,52.2 L41.0,52.4 L41.5,52.5 L41.5,52.5 L42.0,52.7 L42.5,52.9 L42.7,53.0 L43.0,53.2 L43.5,53.5 L43.6,53.5 L44.0,53.8 L44.3,54.0 L44.5,54.2 L44.8,54.5 L45.0,54.7 L45.2,55.0 L45.5,55.4 L45.6,55.5 L45.8,56.0 L46.0,56.3 L46.1,56.5 L46.2,57.0 L46.4,57.5 L46.4,58.0 L46.5,58.5 L46.5,58.7 L46.5,59.0 L46.5,59.3 L46.5,59.5 L46.4,60.0 L46.4,60.5 L46.3,61.0 L46.1,61.5 L46.0,62.0 L46.0,62.0 L45.8,62.5 L45.6,63.0 L45.5,63.2 L45.4,63.5 L45.1,64.0 L45.0,64.2 L44.8,64.5 L44.5,65.0 L44.5,65.0 L44.2,65.5 L44.0,65.8 L43.8,66.0 L43.5,66.4 L43.4,66.5 L43.0,67.0 L43.0,67.0 L42.5,67.5 L42.5,67.5 L42.0,68.0 L42.0,68.0 L41.5,68.5 L41.5,68.5 L41.0,68.9 L40.9,69.0 L40.5,69.3 L40.3,69.5 L40.0,69.7 L39.5,70.0 L39.5,70.0 L39.0,70.3 L38.7,70.5 L38.5,70.6 L38.0,70.9 L37.8,71.0 L37.5,71.1 L37.0,71.4 L36.7,71.5 L36.5,71.6 L36.0,71.8 L35.5,72.0 L35.4,72.0 L35.0,72.1 L34.5,72.3 L34.0,72.4 L33.7,72.5 L33.5,72.5 L33.0,72.6 L32.5,72.7 L32.0,72.8 L31.5,72.9 L31.0,73.0 L30.5,73.0 L30.4,73.0 L30.0,73.0 L29.5,73.0 L29.0,73.0 L28.5,73.0 L28.3,73.0 L28.0,73.0 L27.5,72.9 L27.0,72.9 L26.5,72.8 L26.0,72.7 L25.5,72.5 L25.4,72.5 L25.0,72.4 L24.5,72.2 L24.0,72.0 L24.0,72.0 L23.5,71.7 L23.1,71.5 L23.0,71.5 L22.5,71.1 L22.3,71.0 L22.0,70.8 L21.7,70.5 L21.5,70.3 L21.2,70.0 L21.0,69.8 L20.8,69.5 L20.5,69.2 L20.4,69.0 L20.1,68.5 L20.0,68.3 L19.8,68.0 L19.6,67.5 L19.5,67.2 L19.4,67.0 L19.3,66.5 L19.2,66.0 L19.2,65.5 L19.1,65.0 L19.2,64.5 L19.2,64.0 L19.3,63.5 L19.4,63.0 L19.5,62.5 L19.5,62.5 L19.7,62.0 L19.8,61.5 L20.0,61.1 L20.1,61.0 L20.3,60.5 L20.5,60.2 L20.6,60.0 L20.9,59.5 L21.0,59.4 L21.3,59.0 L21.5,58.7 L21.6,58.5 L22.0,58.1 L22.1,58.0 L22.5,57.5 L22.5,57.5 L23.0,57.0 L23.0,57.0 L23.5,56.6 L23.6,56.5 L24.0,56.2 L24.2,56.0 L24.5,55.8 L24.9,55.5 L25.0,55.4 L25.5,55.1 L25.6,55.0 L26.0,54.8 L26.4,54.5 L26.5,54.5 L27.0,54.2 L27.4,54.0 L27.5,53.9 L28.0,53.7 L28.4,53.5 L28.5,53.5 L29.0,53.3 L29.5,53.1 L29.7,53.0 L30.0,52.9 L30.5,52.7 L31.0,52.6 L31.2,52.5 L31.5,52.4 L32.0,52.3 L32.5,52.2 L33.0,52.1 L33.5,52.0 L33.5,52.0Z M21.0,82.0 L21.0,82.0 L21.5,81.9 L22.0,81.9 L22.5,81.9 L23.0,81.9 L23.5,81.9 L24.0,82.0 L24.0,82.0 M33.6,52.5 L34.0,52.4 L34.5,52.4 L35.0,52.3 L35.5,52.3 L36.0,52.3 L36.5,52.3 L37.0,52.3 L37.5,52.3 L38.0,52.4 L38.5,52.4 L39.0,52.5 L39.1,52.5 L39.5,52.6 L40.0,52.7 L40.5,52.8 L41.0,53.0 L41.1,53.0 L41.5,53.2 L42.0,53.4 L42.3,53.5 L42.5,53.6 L43.0,53.9 L43.1,54.0 L43.5,54.3 L43.8,54.5 L44.0,54.7 L44.3,55.0 L44.5,55.3 L44.7,55.5 L45.0,56.0 L45.0,56.0 L45.3,56.5 L45.5,57.0 L45.5,57.1 L45.6,57.5 L45.7,58.0 L45.8,58.5 L45.8,59.0 L45.8,59.5 L45.8,60.0 L45.7,60.5 L45.6,61.0 L45.5,61.4 L45.5,61.5 L45.3,62.0 L45.1,62.5 L45.0,62.9 L44.9,63.0 L44.7,63.5 L44.5,63.9 L44.4,64.0 L44.2,64.5 L44.0,64.8 L43.8,65.0 L43.5,65.5 L43.5,65.5 L43.1,66.0 L43.0,66.2 L42.7,66.5 L42.5,66.8 L42.3,67.0 L42.0,67.3 L41.8,67.5 L41.5,67.8 L41.3,68.0 L41.0,68.3 L40.7,68.5 L40.5,68.7 L40.1,69.0 L40.0,69.1 L39.5,69.4 L39.4,69.5 L39.0,69.7 L38.6,70.0 L38.5,70.1 L38.0,70.3 L37.7,70.5 L37.5,70.6 L37.0,70.8 L36.6,71.0 L36.5,71.1 L36.0,71.3 L35.5,71.5 L35.4,71.5 L35.0,71.6 L34.5,71.8 L34.0,71.9 L33.7,72.0 L33.5,72.0 L33.0,72.2 L32.5,72.2 L32.0,72.3 L31.5,72.4 L31.0,72.5 L30.5,72.5 L30.3,72.5 L30.0,72.5 L29.5,72.5 L29.0,72.5 L28.6,72.5 L28.5,72.5 L28.0,72.5 L27.5,72.4 L27.0,72.3 L26.5,72.2 L26.0,72.1 L25.7,72.0 L25.5,71.9 L25.0,71.8 L24.5,71.6 L24.4,71.5 L24.0,71.3 L23.5,71.0 L23.4,71.0 L23.0,70.7 L22.7,70.5 L22.5,70.3 L22.1,70.0 L22.0,69.9 L21.6,69.5 L21.5,69.4 L21.2,69.0 L21.0,68.7 L20.9,68.5 L20.6,68.0 L20.5,67.8 L20.4,67.5 L20.2,67.0 L20.0,66.5 L20.0,66.3 L19.9,66.0 L19.9,65.5 L19.8,65.0 L19.8,64.5 L19.9,64.0 L19.9,63.5 L20.0,63.2 L20.0,63.0 L20.2,62.5 L20.3,62.0 L20.5,61.6 L20.5,61.5 L20.8,61.0 L21.0,60.5 L21.0,60.5 L21.3,60.0 L21.5,59.7 L21.6,59.5 L22.0,59.0 L22.0,59.0 L22.4,58.5 L22.5,58.4 L22.8,58.0 L23.0,57.8 L23.3,57.5 L23.5,57.3 L23.9,57.0 L24.0,56.9 L24.4,56.5 L24.5,56.5 L25.0,56.1 L25.1,56.0 L25.5,55.7 L25.8,55.5 L26.0,55.4 L26.5,55.1 L26.6,55.0 L27.0,54.8 L27.5,54.5 L27.5,54.5 L28.0,54.2 L28.5,54.0 L28.5,54.0 L29.0,53.8 L29.5,53.6 L29.8,53.5 L30.0,53.4 L30.5,53.2 L31.0,53.1 L31.3,53.0 L31.5,52.9 L32.0,52.8 L32.5,52.7 L33.0,52.6 L33.5,52.5 L33.6,52.5Z M33.9,53.0 L34.0,53.0 L34.5,52.9 L35.0,52.9 L35.5,52.9 L36.0,52.8 L36.5,52.8 L37.0,52.9 L37.5,52.9 L38.0,52.9 L38.4,53.0 L38.5,53.0 L39.0,53.1 L39.5,53.2 L40.0,53.3 L40.5,53.5 L40.5,53.5 L41.0,53.7 L41.5,53.9 L41.7,54.0 L42.0,54.1 L42.5,54.4 L42.6,54.5 L43.0,54.8 L43.2,55.0 L43.5,55.3 L43.7,55.5 L44.0,55.9 L44.1,56.0 L44.4,56.5 L44.5,56.7 L44.6,57.0 L44.8,57.5 L45.0,58.0 L45.0,58.3 L45.0,58.5 L45.1,59.0 L45.1,59.5 L45.1,60.0 L45.0,60.4 L45.0,60.5 L44.9,61.0 L44.8,61.5 L44.6,62.0 L44.5,62.4 L44.4,62.5 L44.2,63.0 L44.0,63.5 L44.0,63.5 L43.7,64.0 L43.5,64.4 L43.5,64.5 L43.1,65.0 L43.0,65.2 L42.8,65.5 L42.5,65.9 L42.4,66.0 L42.0,66.5 L42.0,66.5 L41.5,67.0 L41.5,67.0 L41.0,67.5 L41.0,67.5 L40.5,68.0 L40.5,68.0 L40.0,68.4 L39.9,68.5 L39.5,68.8 L39.2,69.0 L39.0,69.1 L38.5,69.5 L38.4,69.5 L38.0,69.7 L37.6,70.0 L37.5,70.0 L37.0,70.3 L36.5,70.5 L36.5,70.5 L36.0,70.7 L35.5,70.9 L35.3,71.0 L35.0,71.1 L34.5,71.3 L34.0,71.4 L33.6,71.5 L33.5,71.5 L33.0,71.6 L32.5,71.7 L32.0,71.8 L31.5,71.9 L31.0,71.9 L30.5,72.0 L30.0,72.0 L29.5,72.0 L29.0,72.0 L28.5,71.9 L28.0,71.9 L27.5,71.8 L27.0,71.7 L26.5,71.6 L26.1,71.5 L26.0,71.5 L25.5,71.3 L25.0,71.1 L24.7,71.0 L24.5,70.9 L24.0,70.6 L23.8,70.5 L23.5,70.3 L23.1,70.0 L23.0,69.9 L22.6,69.5 L22.5,69.4 L22.1,69.0 L22.0,68.9 L21.7,68.5 L21.5,68.1 L21.4,68.0 L21.2,67.5 L21.0,67.1 L21.0,67.0 L20.8,66.5 L20.7,66.0 L20.6,65.5 L20.6,65.0 L20.6,64.5 L20.6,64.0 L20.7,63.5 L20.8,63.0 L20.9,62.5 L21.0,62.2 L21.1,62.0 L21.3,61.5 L21.5,61.0 L21.5,61.0 L21.8,60.5 L22.0,60.1 L22.1,60.0 L22.4,59.5 L22.5,59.4 L22.8,59.0 L23.0,58.7 L23.2,58.5 L23.5,58.2 L23.7,58.0 L24.0,57.7 L24.2,57.5 L24.5,57.2 L24.7,57.0 L25.0,56.8 L25.4,56.5 L25.5,56.4 L26.0,56.0 L26.1,56.0 L26.5,55.7 L26.8,55.5 L27.0,55.4 L27.5,55.1 L27.7,55.0 L28.0,54.9 L28.5,54.6 L28.7,54.5 L29.0,54.4 L29.5,54.2 L30.0,54.0 L30.0,54.0 L30.5,53.8 L31.0,53.6 L31.5,53.5 L31.5,53.5 L32.0,53.4 L32.5,53.3 L33.0,53.2 L33.5,53.1 L33.9,53.0Z M34.9,53.5 L35.0,53.5 L35.5,53.5 L36.0,53.5 L36.5,53.5 L37.0,53.5 L37.2,53.5 L37.5,53.5 L38.0,53.6 L38.5,53.7 L39.0,53.8 L39.5,53.9 L39.8,54.0 L40.0,54.1 L40.5,54.2 L41.0,54.5 L41.1,54.5 L41.5,54.7 L41.9,55.0 L42.0,55.0 L42.5,55.4 L42.6,55.5 L43.0,55.9 L43.1,56.0 L43.4,56.5 L43.5,56.6 L43.7,57.0 L43.9,57.5 L44.0,57.7 L44.1,58.0 L44.2,58.5 L44.3,59.0 L44.3,59.5 L44.3,60.0 L44.2,60.5 L44.1,61.0 L44.0,61.5 L44.0,61.6 L43.9,62.0 L43.7,62.5 L43.5,63.0 L43.5,63.0 L43.2,63.5 L43.0,64.0 L43.0,64.0 L42.7,64.5 L42.5,64.8 L42.4,65.0 L42.0,65.5 L42.0,65.5 L41.6,66.0 L41.5,66.1 L41.2,66.5 L41.0,66.7 L40.7,67.0 L40.5,67.2 L40.2,67.5 L40.0,67.7 L39.6,68.0 L39.5,68.1 L39.0,68.5 L38.9,68.5 L38.5,68.8 L38.2,69.0 L38.0,69.1 L37.5,69.4 L37.3,69.5 L37.0,69.7 L36.5,69.9 L36.3,70.0 L36.0,70.1 L35.5,70.3 L35.1,70.5 L35.0,70.5 L34.5,70.7 L34.0,70.8 L33.5,71.0 L33.4,71.0 L33.0,71.1 L32.5,71.2 L32.0,71.3 L31.5,71.3 L31.0,71.4 L30.5,71.4 L30.0,71.4 L29.5,71.4 L29.0,71.4 L28.5,71.4 L28.0,71.3 L27.5,71.2 L27.0,71.1 L26.6,71.0 L26.5,71.0 L26.0,70.8 L25.5,70.6 L25.2,70.5 L25.0,70.4 L24.5,70.1 L24.3,70.0 L24.0,69.8 L23.7,69.5 L23.5,69.4 L23.1,69.0 L23.0,68.9 L22.7,68.5 L22.5,68.3 L22.3,68.0 L22.0,67.5 L22.0,67.4 L21.8,67.0 L21.6,66.5 L21.5,66.0 L21.5,66.0 L21.4,65.5 L21.4,65.0 L21.4,64.5 L21.4,64.0 L21.5,63.5 L21.5,63.3 L21.6,63.0 L21.7,62.5 L21.9,62.0 L22.0,61.7 L22.1,61.5 L22.3,61.0 L22.5,60.7 L22.6,60.5 L22.9,60.0 L23.0,59.9 L23.3,59.5 L23.5,59.2 L23.7,59.0 L24.0,58.6 L24.1,58.5 L24.5,58.1 L24.6,58.0 L25.0,57.6 L25.2,57.5 L25.5,57.2 L25.8,57.0 L26.0,56.8 L26.4,56.5 L26.5,56.5 L27.0,56.1 L27.2,56.0 L27.5,55.8 L28.0,55.5 L28.1,55.5 L28.5,55.3 L29.0,55.0 L29.1,55.0 L29.5,54.8 L30.0,54.6 L30.3,54.5 L30.5,54.4 L31.0,54.3 L31.5,54.1 L31.9,54.0 L32.0,54.0 L32.5,53.9 L33.0,53.8 L33.5,53.7 L34.0,53.6 L34.5,53.5 L34.9,53.5Z M32.7,54.5 L33.0,54.4 L33.5,54.4 L34.0,54.3 L34.5,54.2 L35.0,54.2 L35.5,54.2 L36.0,54.2 L36.5,54.2 L37.0,54.2 L37.5,54.3 L38.0,54.3 L38.5,54.4 L38.8,54.5 L39.0,54.6 L39.5,54.7 L40.0,54.9 L40.2,55.0 L40.5,55.1 L41.0,55.4 L41.1,55.5 L41.5,55.8 L41.8,56.0 L42.0,56.2 L42.3,56.5 L42.5,56.8 L42.6,57.0 L42.9,57.5 L43.0,57.7 L43.1,58.0 L43.3,58.5 L43.3,59.0 L43.4,59.5 L43.4,60.0 L43.3,60.5 L43.3,61.0 L43.2,61.5 L43.0,62.0 L43.0,62.1 L42.8,62.5 L42.6,63.0 L42.5,63.3 L42.4,63.5 L42.1,64.0 L42.0,64.2 L41.8,64.5 L41.5,65.0 L41.5,65.0 L41.1,65.5 L41.0,65.7 L40.7,66.0 L40.5,66.3 L40.3,66.5 L40.0,66.8 L39.8,67.0 L39.5,67.2 L39.2,67.5 L39.0,67.7 L38.6,68.0 L38.5,68.0 L38.0,68.4 L37.8,68.5 L37.5,68.7 L37.0,69.0 L37.0,69.0 L36.5,69.3 L36.0,69.5 L36.0,69.5 L35.5,69.7 L35.0,69.9 L34.7,70.0 L34.5,70.1 L34.0,70.2 L33.5,70.4 L33.0,70.5 L32.9,70.5 L32.5,70.6 L32.0,70.7 L31.5,70.7 L31.0,70.8 L30.5,70.8 L30.0,70.8 L29.5,70.8 L29.0,70.8 L28.5,70.7 L28.0,70.6 L27.5,70.5 L27.4,70.5 L27.0,70.4 L26.5,70.2 L26.0,70.0 L25.9,70.0 L25.5,69.8 L25.0,69.5 L25.0,69.5 L24.5,69.2 L24.3,69.0 L24.0,68.7 L23.8,68.5 L23.5,68.2 L23.4,68.0 L23.0,67.5 L23.0,67.4 L22.8,67.0 L22.6,66.5 L22.5,66.2 L22.4,66.0 L22.3,65.5 L22.3,65.0 L22.3,64.5 L22.3,64.0 L22.4,63.5 L22.5,63.0 L22.5,62.9 L22.6,62.5 L22.8,62.0 L23.0,61.5 L23.0,61.5 L23.3,61.0 L23.5,60.6 L23.5,60.5 L23.9,60.0 L24.0,59.8 L24.3,59.5 L24.5,59.2 L24.7,59.0 L25.0,58.7 L25.2,58.5 L25.5,58.2 L25.7,58.0 L26.0,57.7 L26.3,57.5 L26.5,57.3 L27.0,57.0 L27.0,57.0 L27.5,56.6 L27.7,56.5 L28.0,56.3 L28.5,56.1 L28.6,56.0 L29.0,55.8 L29.5,55.6 L29.6,55.5 L30.0,55.4 L30.5,55.2 L30.9,55.0 L31.0,55.0 L31.5,54.8 L32.0,54.7 L32.5,54.6 L32.7,54.5Z M35.1,55.0 L35.5,55.0 L36.0,55.0 L36.2,55.0 L36.5,55.0 L37.0,55.1 L37.5,55.1 L38.0,55.2 L38.5,55.4 L38.9,55.5 L39.0,55.5 L39.5,55.7 L40.0,56.0 L40.0,56.0 L40.5,56.3 L40.7,56.5 L41.0,56.7 L41.3,57.0 L41.5,57.3 L41.6,57.5 L41.9,58.0 L42.0,58.2 L42.1,58.5 L42.2,59.0 L42.3,59.5 L42.3,60.0 L42.3,60.5 L42.3,61.0 L42.2,61.5 L42.0,62.0 L42.0,62.1 L41.9,62.5 L41.7,63.0 L41.5,63.3 L41.4,63.5 L41.2,64.0 L41.0,64.3 L40.8,64.5 L40.5,65.0 L40.5,65.0 L40.1,65.5 L40.0,65.6 L39.7,66.0 L39.5,66.2 L39.2,66.5 L39.0,66.7 L38.7,67.0 L38.5,67.1 L38.0,67.5 L38.0,67.5 L37.5,67.9 L37.3,68.0 L37.0,68.2 L36.5,68.5 L36.5,68.5 L36.0,68.7 L35.5,69.0 L35.5,69.0 L35.0,69.2 L34.5,69.4 L34.1,69.5 L34.0,69.5 L33.5,69.7 L33.0,69.8 L32.5,69.9 L32.0,70.0 L31.9,70.0 L31.5,70.0 L31.0,70.1 L30.5,70.1 L30.0,70.1 L29.5,70.1 L29.0,70.0 L28.8,70.0 L28.5,70.0 L28.0,69.9 L27.5,69.7 L27.0,69.6 L26.9,69.5 L26.5,69.3 L26.0,69.1 L25.9,69.0 L25.5,68.8 L25.2,68.5 L25.0,68.4 L24.6,68.0 L24.5,67.8 L24.2,67.5 L24.0,67.1 L23.9,67.0 L23.7,66.5 L23.5,66.0 L23.5,65.9 L23.4,65.5 L23.3,65.0 L23.3,64.5 L23.3,64.0 L23.4,63.5 L23.5,63.1 L23.5,63.0 L23.7,62.5 L23.9,62.0 L24.0,61.7 L24.1,61.5 L24.4,61.0 L24.5,60.8 L24.7,60.5 L25.0,60.1 L25.1,60.0 L25.5,59.5 L25.5,59.5 L25.9,59.0 L26.0,58.9 L26.5,58.5 L26.5,58.5 L27.0,58.1 L27.1,58.0 L27.5,57.7 L27.7,57.5 L28.0,57.3 L28.5,57.0 L28.5,57.0 L29.0,56.7 L29.4,56.5 L29.5,56.5 L30.0,56.2 L30.5,56.0 L30.6,56.0 L31.0,55.8 L31.5,55.7 L32.0,55.5 L32.0,55.5 L32.5,55.4 L33.0,55.3 L33.5,55.2 L34.0,55.1 L34.5,55.0 L35.0,55.0 L35.1,55.0Z M32.3,56.5 L32.5,56.4 L33.0,56.3 L33.5,56.2 L34.0,56.2 L34.5,56.1 L35.0,56.1 L35.5,56.1 L36.0,56.1 L36.5,56.1 L37.0,56.2 L37.5,56.3 L38.0,56.4 L38.2,56.5 L38.5,56.6 L39.0,56.9 L39.2,57.0 L39.5,57.2 L39.8,57.5 L40.0,57.7 L40.3,58.0 L40.5,58.3 L40.6,58.5 L40.8,59.0 L40.9,59.5 L41.0,59.9 L41.0,60.0 L41.0,60.5 L41.0,60.9 L41.0,61.0 L40.9,61.5 L40.8,62.0 L40.6,62.5 L40.5,62.9 L40.4,63.0 L40.2,63.5 L40.0,63.9 L39.9,64.0 L39.6,64.5 L39.5,64.7 L39.3,65.0 L39.0,65.3 L38.9,65.5 L38.5,65.9 L38.4,66.0 L38.0,66.4 L37.9,66.5 L37.5,66.8 L37.2,67.0 L37.0,67.2 L36.5,67.5 L36.5,67.5 L36.0,67.8 L35.6,68.0 L35.5,68.1 L35.0,68.3 L34.5,68.5 L34.5,68.5 L34.0,68.7 L33.5,68.8 L33.0,69.0 L32.8,69.0 L32.5,69.1 L32.0,69.1 L31.5,69.2 L31.0,69.2 L30.5,69.2 L30.0,69.2 L29.5,69.2 L29.0,69.1 L28.5,69.0 L28.5,69.0 L28.0,68.9 L27.5,68.7 L27.1,68.5 L27.0,68.4 L26.5,68.1 L26.3,68.0 L26.0,67.7 L25.8,67.5 L25.5,67.2 L25.4,67.0 L25.1,66.5 L25.0,66.3 L24.9,66.0 L24.7,65.5 L24.7,65.0 L24.6,64.5 L24.7,64.0 L24.7,63.5 L24.9,63.0 L25.0,62.6 L25.0,62.5 L25.2,62.0 L25.5,61.5 L25.5,61.5 L25.8,61.0 L26.0,60.7 L26.2,60.5 L26.5,60.1 L26.6,60.0 L27.0,59.6 L27.1,59.5 L27.5,59.1 L27.6,59.0 L28.0,58.7 L28.2,58.5 L28.5,58.3 L29.0,58.0 L29.0,58.0 L29.5,57.7 L29.8,57.5 L30.0,57.4 L30.5,57.2 L30.9,57.0 L31.0,56.9 L31.5,56.8 L32.0,56.6 L32.3,56.5Z M32.5,58.0 L32.5,58.0 L33.0,57.9 L33.5,57.8 L34.0,57.7 L34.5,57.6 L35.0,57.6 L35.5,57.6 L36.0,57.7 L36.5,57.8 L37.0,57.9 L37.2,58.0 L37.5,58.2 L38.0,58.5 L38.0,58.5 L38.5,58.9 L38.5,59.0 L38.9,59.5 L39.0,59.8 L39.1,60.0 L39.2,60.5 L39.2,61.0 L39.2,61.5 L39.1,62.0 L39.0,62.4 L39.0,62.5 L38.8,63.0 L38.6,63.5 L38.5,63.6 L38.3,64.0 L38.0,64.5 L38.0,64.5 L37.6,65.0 L37.5,65.1 L37.1,65.5 L37.0,65.6 L36.6,66.0 L36.5,66.1 L36.0,66.5 L35.9,66.5 L35.5,66.8 L35.1,67.0 L35.0,67.1 L34.5,67.3 L34.0,67.5 L34.0,67.5 L33.5,67.7 L33.0,67.8 L32.5,67.9 L32.1,68.0 L32.0,68.0 L31.5,68.1 L31.0,68.1 L30.5,68.1 L30.0,68.0 L29.9,68.0 L29.5,67.9 L29.0,67.8 L28.5,67.6 L28.3,67.5 L28.0,67.3 L27.6,67.0 L27.5,66.9 L27.1,66.5 L27.0,66.4 L26.8,66.0 L26.6,65.5 L26.5,65.2 L26.5,65.0 L26.4,64.5 L26.4,64.0 L26.5,63.7 L26.5,63.5 L26.7,63.0 L26.9,62.5 L27.0,62.3 L27.2,62.0 L27.5,61.5 L27.5,61.5 L27.9,61.0 L28.0,60.8 L28.3,60.5 L28.5,60.3 L28.9,60.0 L29.0,59.9 L29.5,59.5 L29.5,59.5 L30.0,59.2 L30.2,59.0 L30.5,58.9 L31.0,58.6 L31.2,58.5 L31.5,58.4 L32.0,58.2 L32.5,58.0Z M32.3,61.0 L32.5,60.9 L33.0,60.7 L33.5,60.7 L34.0,60.6 L34.5,60.7 L35.0,60.9 L35.2,61.0 L35.5,61.2 L35.7,61.5 L35.9,62.0 L35.9,62.5 L35.8,63.0 L35.6,63.5 L35.5,63.7 L35.3,64.0 L35.0,64.4 L34.9,64.5 L34.5,64.9 L34.4,65.0 L34.0,65.2 L33.6,65.5 L33.5,65.5 L33.0,65.7 L32.5,65.8 L32.0,65.9 L31.5,65.9 L31.0,65.8 L30.5,65.6 L30.3,65.5 L30.0,65.2 L29.8,65.0 L29.7,64.5 L29.6,64.0 L29.7,63.5 L30.0,63.0 L30.0,62.9 L30.3,62.5 L30.5,62.3 L30.8,62.0 L31.0,61.8 L31.4,61.5 L31.5,61.4 L32.0,61.1 L32.3,61.0Z" fill="none" stroke="#222" stroke-width="0.4"/></g>
<rect x="0" y="0" width="82.0" height="82.0" fill="none" stroke="#222" stroke-width="0.9"/>
<path d="M-1.2,20.5h2 M20.5,81.5v1.9 M-1.2,41.0h2 M41.0,81.5v1.9 M-1.2,61.5h2 M61.5,81.5v1.9" stroke="#444" stroke-width="0.6" fill="none"/>
<text x="7.0" y="11.2" font-size="11.2" fill="#111">1 µg/mL</text>
</g>
<g transform="translate(232.4,16.2)">
<g clip-path="url(#cb)"><path d="M21.1,82.0 L21.0,81.5 L21.0,81.5 L20.9,81.0 L20.8,80.5 L20.7,80.0 L20.6,79.5 L20.5,79.1 L20.5,79.0 L20.3,78.5 L20.2,78.0 L20.1,77.5 L20.0,77.1 L20.0,77.0 L19.8,76.5 L19.7,76.0 L19.5,75.5 L19.5,75.4 L19.3,75.0 L19.2,74.5 L19.0,74.1 L18.9,74.0 L18.7,73.5 L18.5,73.1 L18.4,73.0 L18.1,72.5 L18.0,72.2 L17.9,72.0 L17.6,71.5 L17.5,71.4 L17.3,71.0 L17.0,70.5 L17.0,70.5 L16.7,70.0 L16.5,69.5 L16.5,69.5 L16.3,69.0 L16.1,68.5 L16.0,68.1 L16.0,68.0 L15.8,67.5 L15.7,67.0 L15.6,66.5 L15.6,66.0 L15.6,65.5 L15.6,65.0 L15.6,64.5 L15.6,64.0 L15.7,63.5 L15.8,63.0 L15.9,62.5 L16.0,62.0 L16.0,62.0 L16.1,61.5 L16.3,61.0 L16.5,60.5 L16.5,60.5 L16.7,60.0 L16.9,59.5 L17.0,59.4 L17.2,59.0 L17.5,58.5 L17.5,58.5 L17.8,58.0 L18.0,57.6 L18.1,57.5 L18.4,57.0 L18.5,56.9 L18.8,56.5 L19.0,56.2 L19.2,56.0 L19.5,55.6 L19.6,55.5 L20.0,55.0 L20.0,55.0 L20.5,54.5 L20.5,54.5 L21.0,54.0 L21.0,54.0 L21.5,53.5 L21.5,53.5 L22.0,53.0 L22.0,53.0 L22.5,52.6 L22.6,52.5 L23.0,52.1 L23.2,52.0 L23.5,51.7 L23.8,51.5 L24.0,51.4 L24.5,51.0 L24.5,51.0 L25.0,50.6 L25.2,50.5 L25.5,50.3 L26.0,50.0 L26.0,50.0 L26.5,49.7 L26.8,49.5 L27.0,49.4 L27.5,49.1 L27.7,49.0 L28.0,48.8 L28.5,48.6 L28.6,48.5 L29.0,48.3 L29.5,48.1 L29.6,48.0 L30.0,47.8 L30.5,47.6 L30.7,47.5 L31.0,47.4 L31.5,47.1 L31.8,47.0 L32.0,46.9 L32.5,46.7 L33.0,46.5 L33.1,46.5 L33.5,46.3 L34.0,46.1 L34.3,46.0 L34.5,45.9 L35.0,45.7 L35.5,45.5 L35.5,45.5 L36.0,45.3 L36.5,45.1 L36.6,45.0 L37.0,44.8 L37.5,44.6 L37.7,44.5 L38.0,44.3 L38.5,44.0 L38.6,44.0 L39.0,43.7 L39.4,43.5 L39.5,43.4 L40.0,43.1 L40.1,43.0 L40.5,42.7 L40.8,42.5 L41.0,42.4 L41.5,42.0 L41.5,42.0 L42.0,41.6 L42.1,41.5 L42.5,41.2 L42.8,41.0 L43.0,40.8 L43.4,40.5 L43.5,40.4 L43.9,40.0 L44.0,40.0 L44.5,39.5 L44.5,39.5 L45.0,39.1 L45.1,39.0 L45.5,38.6 L45.6,38.5 L46.0,38.2 L46.2,38.0 L46.5,37.7 L46.7,37.5 L47.0,37.3 L47.3,37.0 L47.5,36.8 L47.8,36.5 L48.0,36.3 L48.3,36.0 L48.5,35.9 L48.9,35.5 L49.0,35.4 L49.4,35.0 L49.5,34.9 L49.9,34.5 L50.0,34.4 L50.4,34.0 L50.5,33.8 L50.8,33.5 L51.0,33.3 L51.3,33.0 L51.5,32.8 L51.7,32.5 L52.0,32.2 L52.2,32.0 L52.5,31.6 L52.6,31.5 L53.0,31.0 L53.0,31.0 L53.4,30.5 L53.5,30.4 L53.8,30.0 L54.0,29.7 L54.2,29.5 L54.5,29.1 L54.6,29.0 L55.0,28.5 L55.0,28.5 L55.4,28.0 L55.5,27.9 L55.8,27.5 L56.0,27.3 L56.3,27.0 L56.5,26.8 L56.7,26.5 L57.0,26.2 L57.2,26.0 L57.5,25.7 L57.7,25.5 L58.0,25.3 L58.3,25.0 L58.5,24.8 L58.9,24.5 L59.0,24.4 L59.5,24.0 L59.5,24.0 L60.0,23.7 L60.2,23.5 L60.5,23.3 L61.0,23.0 L61.0,23.0 L61.5,22.7 L62.0,22.5 L62.0,22.5 L62.5,22.2 L63.0,22.0 L63.1,22.0 L63.5,21.9 L64.0,21.7 L64.5,21.6 L64.7,21.5 L65.0,21.4 L65.5,21.3 L66.0,21.3 L66.5,21.2 L67.0,21.2 L67.5,21.2 L68.0,21.2 L68.5,21.3 L69.0,21.3 L69.5,21.4 L69.8,21.5 L70.0,21.5 L70.5,21.7 L71.0,21.8 L71.4,22.0 L71.5,22.0 L72.0,22.3 L72.5,22.5 L72.5,22.5 L73.0,22.8 L73.3,23.0 L73.5,23.1 L74.0,23.5 L74.0,23.5 L74.5,23.9 L74.6,24.0 L75.0,24.3 L75.2,24.5 L75.5,24.8 L75.7,25.0 L76.0,25.4 L76.1,25.5 L76.5,26.0 L76.5,26.0 L76.9,26.5 L77.0,26.6 L77.3,27.0 L77.5,27.4 L77.6,27.5 L77.9,28.0 L78.0,28.3 L78.1,28.5 L78.4,29.0 L78.5,29.2 L78.6,29.5 L78.8,30.0 L79.0,30.4 L79.0,30.5 L79.2,31.0 L79.4,31.5 L79.5,31.9 L79.5,32.0 L79.7,32.5 L79.8,33.0 L79.9,33.5 L80.0,33.9 L80.0,34.0 L80.1,34.5 L80.2,35.0 L80.3,35.5 L80.3,36.0 L80.4,36.5 L80.4,37.0 L80.4,37.5 L80.4,38.0 L80.5,38.5 L80.4,39.0 L80.4,39.5 L80.4,40.0 L80.4,40.5 L80.3,41.0 L80.3,41.5 L80.2,42.0 L80.1,42.5 L80.0,43.0 L80.0,43.2 L79.9,43.5 L79.8,44.0 L79.7,44.5 L79.6,45.0 L79.5,45.3 L79.4,45.5 L79.3,46.0 L79.1,46.5 L79.0,46.8 L78.9,47.0 L78.8,47.5 L78.5,48.0 L78.5,48.1 L78.3,48.5 L78.1,49.0 L78.0,49.2 L77.9,49.5 L77.6,50.0 L77.5,50.2 L77.3,50.5 L77.0,51.0 L77.0,51.0 L76.7,51.5 L76.5,51.8 L76.4,52.0 L76.0,52.5 L76.0,52.5 L75.7,53.0 L75.5,53.2 L75.3,53.5 L75.0,53.8 L74.8,54.0 L74.5,54.4 L74.4,54.5 L74.0,54.9 L73.9,55.0 L73.5,55.5 L73.5,55.5 L73.0,56.0 L73.0,56.0 L72.5,56.5 L72.4,56.5 L72.0,56.9 L71.9,57.0 L71.5,57.4 L71.4,57.5 L71.0,57.9 L70.9,58.0 L70.5,58.4 L70.4,58.5 L70.0,58.9 L69.9,59.0 L69.5,59.5 L69.5,59.5 L69.0,60.0 L69.0,60.0 L68.6,60.5 L68.5,60.6 L68.2,61.0 L68.0,61.2 L67.7,61.5 L67.5,61.7 L67.3,62.0 L67.0,62.3 L66.8,62.5 L66.5,62.8 L66.2,63.0 L66.0,63.2 L65.6,63.5 L65.5,63.6 L65.0,64.0 L64.9,64.0 L64.5,64.3 L64.1,64.5 L64.0,64.5 L63.5,64.8 L63.0,65.0 L63.0,65.0 L62.5,65.2 L62.0,65.3 L61.5,65.5 L61.3,65.5 L61.0,65.6 L60.5,65.7 L60.0,65.8 L59.5,65.9 L59.0,65.9 L58.6,66.0 L58.5,66.0 L58.0,66.1 L57.5,66.2 L57.0,66.3 L56.5,66.4 L56.2,66.5 L56.0,66.6 L55.5,66.7 L55.0,66.9 L54.7,67.0 L54.5,67.1 L54.0,67.3 L53.7,67.5 L53.5,67.6 L53.0,67.9 L52.9,68.0 L52.5,68.3 L52.2,68.5 L52.0,68.7 L51.6,69.0 L51.5,69.1 L51.1,69.5 L51.0,69.7 L50.8,70.0 L50.5,70.4 L50.4,70.5 L50.1,71.0 L50.0,71.3 L49.9,71.5 L49.7,72.0 L49.6,72.5 L49.5,72.7 L49.4,73.0 L49.3,73.5 L49.2,74.0 L49.1,74.5 L49.1,75.0 L49.0,75.5 L49.0,75.5 L48.9,76.0 L48.9,76.5 L48.9,77.0 L48.8,77.5 L48.8,78.0 L48.7,78.5 L48.7,79.0 L48.6,79.5 L48.6,80.0 L48.5,80.5 L48.5,80.9 L48.5,81.0 L48.4,81.5 L48.4,82.0 M25.2,82.0 L25.1,81.5 L25.0,81.0 L25.0,80.8 L25.0,80.5 L24.9,80.0 L24.8,79.5 L24.7,79.0 L24.6,78.5 L24.5,78.0 L24.5,77.7 L24.5,77.5 L24.4,77.0 L24.3,76.5 L24.2,76.0 L24.1,75.5 L24.0,75.2 L23.9,75.0 L23.7,74.5 L23.5,74.0 L23.5,74.0 L23.2,73.5 L23.0,73.2 L22.8,73.0 L22.5,72.6 L22.5,72.5 L22.1,72.0 L22.0,71.9 L21.7,71.5 L21.5,71.3 L21.3,71.0 L21.0,70.7 L20.9,70.5 L20.5,70.0 L20.5,70.0 L20.2,69.5 L20.0,69.2 L19.9,69.0 L19.6,68.5 L19.5,68.2 L19.4,68.0 L19.2,67.5 L19.0,67.0 L19.0,66.8 L18.9,66.5 L18.8,66.0 L18.7,65.5 L18.7,65.0 L18.7,64.5 L18.7,64.0 L18.7,63.5 L18.8,63.0 L18.9,62.5 L19.0,62.1 L19.0,62.0 L19.2,61.5 L19.3,61.0 L19.5,60.6 L19.5,60.5 L19.7,60.0 L20.0,59.5 L20.0,59.5 L20.2,59.0 L20.5,58.6 L20.5,58.5 L20.8,58.0 L21.0,57.8 L21.2,57.5 L21.5,57.1 L21.6,57.0 L22.0,56.5 L22.0,56.5 L22.4,56.0 L22.5,55.9 L22.8,55.5 L23.0,55.3 L23.3,55.0 L23.5,54.8 L23.9,54.5 L24.0,54.4 L24.4,54.0 L24.5,53.9 L25.0,53.5 L25.0,53.5 L25.5,53.1 L25.6,53.0 L26.0,52.7 L26.3,52.5 L26.5,52.4 L27.0,52.0 L27.1,52.0 L27.5,51.7 L27.9,51.5 L28.0,51.4 L28.5,51.1 L28.7,51.0 L29.0,50.8 L29.5,50.6 L29.6,50.5 L30.0,50.3 L30.5,50.1 L30.7,50.0 L31.0,49.8 L31.5,49.6 L31.8,49.5 L32.0,49.4 L32.5,49.2 L33.0,49.0 L33.0,49.0 L33.5,48.8 L34.0,48.6 L34.4,48.5 L34.5,48.5 L35.0,48.3 L35.5,48.2 L36.0,48.0 L36.1,48.0 L36.5,47.9 L37.0,47.7 L37.5,47.6 L37.9,47.5 L38.0,47.5 L38.5,47.3 L39.0,47.2 L39.5,47.1 L39.8,47.0 L40.0,46.9 L40.5,46.8 L41.0,46.6 L41.4,46.5 L41.5,46.5 L42.0,46.3 L42.5,46.1 L42.7,46.0 L43.0,45.9 L43.5,45.6 L43.7,45.5 L44.0,45.3 L44.4,45.0 L44.5,44.9 L45.0,44.5 L45.1,44.5 L45.5,44.1 L45.6,44.0 L46.0,43.7 L46.2,43.5 L46.5,43.2 L46.7,43.0 L47.0,42.7 L47.3,42.5 L47.5,42.3 L47.8,42.0 L48.0,41.8 L48.4,41.5 L48.5,41.4 L49.0,41.0 L49.0,41.0 L49.5,40.6 L49.6,40.5 L50.0,40.2 L50.2,40.0 L50.5,39.8 L50.8,39.5 L51.0,39.4 L51.5,39.0 L51.5,39.0 L52.0,38.6 L52.1,38.5 L52.5,38.1 L52.6,38.0 L53.0,37.7 L53.2,37.5 L53.5,37.1 L53.6,37.0 L54.0,36.6 L54.1,36.5 L54.5,36.0 L54.5,36.0 L54.9,35.5 L55.0,35.3 L55.2,35.0 L55.5,34.6 L55.6,34.5 L55.9,34.0 L56.0,33.8 L56.2,33.5 L56.5,33.1 L56.6,33.0 L56.9,32.5 L57.0,32.3 L57.2,32.0 L57.5,31.6 L57.6,31.5 L57.9,31.0 L58.0,30.9 L58.3,30.5 L58.5,30.3 L58.7,30.0 L59.0,29.7 L59.2,29.5 L59.5,29.1 L59.6,29.0 L60.0,28.6 L60.1,28.5 L60.5,28.1 L60.7,28.0 L61.0,27.7 L61.3,27.5 L61.5,27.3 L62.0,27.0 L62.0,27.0 L62.5,26.6 L62.8,26.5 L63.0,26.4 L63.5,26.1 L63.8,26.0 L64.0,25.9 L64.5,25.7 L65.0,25.6 L65.3,25.5 L65.5,25.4 L66.0,25.3 L66.5,25.3 L67.0,25.2 L67.5,25.2 L68.0,25.3 L68.5,25.3 L69.0,25.4 L69.2,25.5 L69.5,25.6 L70.0,25.7 L70.5,25.9 L70.6,26.0 L71.0,26.2 L71.5,26.5 L71.6,26.5 L72.0,26.8 L72.3,27.0 L72.5,27.2 L72.9,27.5 L73.0,27.6 L73.4,28.0 L73.5,28.1 L73.8,28.5 L74.0,28.7 L74.3,29.0 L74.5,29.3 L74.6,29.5 L74.9,30.0 L75.0,30.1 L75.2,30.5 L75.5,31.0 L75.5,31.1 L75.7,31.5 L75.9,32.0 L76.0,32.2 L76.1,32.5 L76.3,33.0 L76.4,33.5 L76.5,33.7 L76.6,34.0 L76.7,34.5 L76.8,35.0 L76.9,35.5 L77.0,36.0 L77.0,36.3 L77.0,36.5 L77.1,37.0 L77.1,37.5 L77.1,38.0 L77.1,38.5 L77.1,39.0 L77.1,39.5 L77.1,40.0 L77.0,40.5 L77.0,40.6 L77.0,41.0 L76.9,41.5 L76.8,42.0 L76.7,42.5 L76.6,43.0 L76.5,43.4 L76.5,43.5 L76.3,44.0 L76.2,44.5 L76.0,45.0 L76.0,45.0 L75.8,45.5 L75.6,46.0 L75.5,46.3 L75.4,46.5 L75.2,47.0 L75.0,47.3 L74.9,47.5 L74.6,48.0 L74.5,48.2 L74.3,48.5 L74.0,49.0 L74.0,49.0 L73.7,49.5 L73.5,49.7 L73.3,50.0 L73.0,50.3 L72.9,50.5 L72.5,50.9 L72.4,51.0 L72.0,51.4 L71.9,51.5 L71.5,51.9 L71.4,52.0 L71.0,52.4 L70.8,52.5 L70.5,52.8 L70.2,53.0 L70.0,53.2 L69.6,53.5 L69.5,53.5 L69.0,53.9 L68.9,54.0 L68.5,54.3 L68.1,54.5 L68.0,54.6 L67.5,55.0 L67.4,55.0 L67.0,55.3 L66.8,55.5 L66.5,55.7 L66.1,56.0 L66.0,56.1 L65.6,56.5 L65.5,56.6 L65.1,57.0 L65.0,57.1 L64.6,57.5 L64.5,57.6 L64.1,58.0 L64.0,58.1 L63.6,58.5 L63.5,58.6 L63.0,59.0 L63.0,59.0 L62.5,59.4 L62.4,59.5 L62.0,59.8 L61.6,60.0 L61.5,60.1 L61.0,60.3 L60.6,60.5 L60.5,60.5 L60.0,60.7 L59.5,60.9 L59.1,61.0 L59.0,61.0 L58.5,61.1 L58.0,61.2 L57.5,61.3 L57.0,61.4 L56.7,61.5 L56.5,61.5 L56.0,61.7 L55.5,61.8 L55.1,62.0 L55.0,62.0 L54.5,62.3 L54.1,62.5 L54.0,62.6 L53.5,62.9 L53.4,63.0 L53.0,63.3 L52.7,63.5 L52.5,63.7 L52.2,64.0 L52.0,64.1 L51.6,64.5 L51.5,64.6 L51.1,65.0 L51.0,65.0 L50.5,65.5 L50.5,65.5 L50.0,66.0 L50.0,66.0 L49.5,66.5 L49.5,66.5 L49.0,67.0 L49.0,67.0 L48.5,67.4 L48.4,67.5 L48.0,68.0 L48.0,68.0 L47.5,68.5 L47.5,68.5 L47.0,69.0 L47.0,69.1 L46.6,69.5 L46.5,69.7 L46.3,70.0 L46.0,70.4 L46.0,70.5 L45.7,71.0 L45.5,71.5 L45.5,71.5 L45.3,72.0 L45.2,72.5 L45.2,73.0 L45.1,73.5 L45.1,74.0 L45.0,74.5 L45.0,75.0 L45.0,75.0 L45.0,75.5 L44.9,76.0 L44.9,76.5 L44.9,77.0 L44.9,77.5 L44.8,78.0 L44.8,78.5 L44.8,79.0 L44.7,79.5 L44.7,80.0 L44.6,80.5 L44.6,81.0 L44.5,81.4 L44.5,81.5 L44.4,82.0 M31.3,82.0 L31.0,81.7 L30.9,81.5 L30.5,81.0 L30.5,81.0 L30.2,80.5 L30.0,80.2 L29.9,80.0 L29.7,79.5 L29.5,79.2 L29.4,79.0 L29.2,78.5 L29.0,78.0 L29.0,77.9 L28.8,77.5 L28.7,77.0 L28.5,76.7 L28.4,76.5 L28.2,76.0 L28.0,75.7 L27.9,75.5 L27.5,75.0 L27.5,75.0 L27.0,74.5 L27.0,74.5 L26.5,74.0 L26.5,74.0 L26.0,73.5 L26.0,73.5 L25.5,73.1 L25.4,73.0 L25.0,72.7 L24.8,72.5 L24.5,72.2 L24.2,72.0 L24.0,71.8 L23.7,71.5 L23.5,71.3 L23.2,71.0 L23.0,70.8 L22.7,70.5 L22.5,70.3 L22.3,70.0 L22.0,69.6 L21.9,69.5 L21.5,69.0 L21.5,68.9 L21.2,68.5 L21.0,68.1 L20.9,68.0 L20.7,67.5 L20.5,67.0 L20.5,67.0 L20.3,66.5 L20.2,66.0 L20.1,65.5 L20.1,65.0 L20.0,64.5 L20.0,64.0 L20.1,63.5 L20.1,63.0 L20.2,62.5 L20.3,62.0 L20.4,61.5 L20.5,61.3 L20.6,61.0 L20.8,60.5 L21.0,60.1 L21.0,60.0 L21.3,59.5 L21.5,59.1 L21.5,59.0 L21.8,58.5 L22.0,58.3 L22.2,58.0 L22.5,57.5 L22.5,57.5 L22.9,57.0 L23.0,56.9 L23.3,56.5 L23.5,56.3 L23.8,56.0 L24.0,55.8 L24.3,55.5 L24.5,55.3 L24.8,55.0 L25.0,54.8 L25.3,54.5 L25.5,54.4 L25.9,54.0 L26.0,53.9 L26.5,53.6 L26.6,53.5 L27.0,53.2 L27.3,53.0 L27.5,52.8 L28.0,52.5 L28.0,52.5 L28.5,52.2 L28.8,52.0 L29.0,51.9 L29.5,51.6 L29.7,51.5 L30.0,51.3 L30.5,51.1 L30.7,51.0 L31.0,50.8 L31.5,50.6 L31.8,50.5 L32.0,50.4 L32.5,50.2 L33.0,50.0 L33.0,50.0 L33.5,49.8 L34.0,49.6 L34.4,49.5 L34.5,49.5 L35.0,49.3 L35.5,49.2 L36.0,49.0 L36.1,49.0 L36.5,48.9 L37.0,48.8 L37.5,48.6 L38.0,48.5 L38.1,48.5 L38.5,48.4 L39.0,48.3 L39.5,48.2 L40.0,48.1 L40.5,48.0 L40.7,48.0 L41.0,47.9 L41.5,47.8 L42.0,47.7 L42.5,47.6 L43.0,47.6 L43.3,47.5 L43.5,47.4 L44.0,47.3 L44.5,47.2 L45.0,47.0 L45.1,47.0 L45.5,46.9 L46.0,46.7 L46.3,46.5 L46.5,46.4 L47.0,46.1 L47.1,46.0 L47.5,45.7 L47.8,45.5 L48.0,45.3 L48.4,45.0 L48.5,44.9 L49.0,44.5 L49.0,44.5 L49.5,44.0 L49.6,44.0 L50.0,43.6 L50.2,43.5 L50.5,43.2 L50.8,43.0 L51.0,42.8 L51.4,42.5 L51.5,42.5 L52.0,42.1 L52.1,42.0 L52.5,41.7 L52.8,41.5 L53.0,41.3 L53.4,41.0 L53.5,40.9 L53.9,40.5 L54.0,40.4 L54.4,40.0 L54.5,39.9 L54.8,39.5 L55.0,39.3 L55.2,39.0 L55.5,38.5 L55.5,38.5 L55.8,38.0 L56.0,37.7 L56.1,37.5 L56.4,37.0 L56.5,36.8 L56.7,36.5 L56.9,36.0 L57.0,35.9 L57.2,35.5 L57.5,35.0 L57.5,35.0 L57.7,34.5 L58.0,34.1 L58.0,34.0 L58.3,33.5 L58.5,33.3 L58.7,33.0 L59.0,32.5 L59.0,32.5 L59.4,32.0 L59.5,31.8 L59.7,31.5 L60.0,31.2 L60.1,31.0 L60.5,30.6 L60.6,30.5 L61.0,30.1 L61.1,30.0 L61.5,29.6 L61.6,29.5 L62.0,29.2 L62.3,29.0 L62.5,28.8 L63.0,28.5 L63.0,28.5 L63.5,28.2 L63.9,28.0 L64.0,28.0 L64.5,27.7 L65.0,27.6 L65.3,27.5 L65.5,27.4 L66.0,27.3 L66.5,27.3 L67.0,27.2 L67.5,27.2 L68.0,27.3 L68.5,27.4 L69.0,27.5 L69.0,27.5 L69.5,27.6 L70.0,27.9 L70.3,28.0 L70.5,28.1 L71.0,28.4 L71.1,28.5 L71.5,28.8 L71.8,29.0 L72.0,29.2 L72.3,29.5 L72.5,29.7 L72.8,30.0 L73.0,30.3 L73.2,30.5 L73.5,31.0 L73.5,31.0 L73.8,31.5 L74.0,31.8 L74.1,32.0 L74.3,32.5 L74.5,32.9 L74.6,33.0 L74.8,33.5 L74.9,34.0 L75.0,34.3 L75.1,34.5 L75.2,35.0 L75.3,35.5 L75.4,36.0 L75.5,36.5 L75.5,36.8 L75.5,37.0 L75.6,37.5 L75.6,38.0 L75.6,38.5 L75.6,39.0 L75.6,39.5 L75.5,40.0 L75.5,40.3 L75.5,40.5 L75.4,41.0 L75.3,41.5 L75.2,42.0 L75.1,42.5 L75.0,43.0 L75.0,43.0 L74.9,43.5 L74.7,44.0 L74.5,44.5 L74.5,44.5 L74.3,45.0 L74.1,45.5 L74.0,45.7 L73.9,46.0 L73.6,46.5 L73.5,46.7 L73.3,47.0 L73.0,47.5 L73.0,47.5 L72.7,48.0 L72.5,48.2 L72.3,48.5 L72.0,48.9 L71.9,49.0 L71.5,49.4 L71.4,49.5 L71.0,49.9 L70.9,50.0 L70.5,50.4 L70.4,50.5 L70.0,50.8 L69.7,51.0 L69.5,51.2 L69.0,51.5 L69.0,51.5 L68.5,51.8 L68.2,52.0 L68.0,52.1 L67.5,52.4 L67.3,52.5 L67.0,52.6 L66.5,52.9 L66.3,53.0 L66.0,53.1 L65.5,53.4 L65.3,53.5 L65.0,53.7 L64.5,53.9 L64.4,54.0 L64.0,54.2 L63.5,54.5 L63.5,54.5 L63.0,54.9 L62.8,55.0 L62.5,55.3 L62.2,55.5 L62.0,55.7 L61.6,56.0 L61.5,56.1 L61.0,56.4 L60.9,56.5 L60.5,56.8 L60.2,57.0 L60.0,57.1 L59.5,57.4 L59.3,57.5 L59.0,57.6 L58.5,57.9 L58.1,58.0 L58.0,58.0 L57.5,58.2 L57.0,58.4 L56.7,58.5 L56.5,58.6 L56.0,58.8 L55.5,59.0 L55.5,59.0 L55.0,59.3 L54.7,59.5 L54.5,59.7 L54.1,60.0 L54.0,60.1 L53.5,60.5 L53.5,60.5 L53.0,61.0 L53.0,61.0 L52.6,61.5 L52.5,61.6 L52.1,62.0 L52.0,62.1 L51.7,62.5 L51.5,62.7 L51.2,63.0 L51.0,63.2 L50.8,63.5 L50.5,63.8 L50.3,64.0 L50.0,64.3 L49.8,64.5 L49.5,64.8 L49.3,65.0 L49.0,65.3 L48.8,65.5 L48.5,65.8 L48.3,66.0 L48.0,66.3 L47.8,66.5 L47.5,66.8 L47.3,67.0 L47.0,67.3 L46.8,67.5 L46.5,67.8 L46.3,68.0 L46.0,68.2 L45.7,68.5 L45.5,68.7 L45.2,69.0 L45.0,69.2 L44.7,69.5 L44.5,69.7 L44.2,70.0 L44.0,70.2 L43.7,70.5 L43.5,70.7 L43.2,71.0 L43.0,71.3 L42.8,71.5 L42.5,71.8 L42.4,72.0 L42.0,72.5 L42.0,72.5 L41.7,73.0 L41.5,73.3 L41.4,73.5 L41.2,74.0 L41.0,74.5 L41.0,74.6 L40.9,75.0 L40.7,75.5 L40.6,76.0 L40.5,76.5 L40.5,76.5 L40.4,77.0 L40.2,77.5 L40.1,78.0 L40.0,78.2 L39.9,78.5 L39.7,79.0 L39.5,79.5 L39.5,79.5 L39.2,80.0 L39.0,80.5 L39.0,80.5 L38.7,81.0 L38.5,81.3 L38.3,81.5 L38.0,81.9 L37.9,82.0 M65.3,29.0 L65.5,28.9 L66.0,28.8 L66.5,28.7 L67.0,28.7 L67.5,28.7 L68.0,28.8 L68.5,28.9 L68.9,29.0 L69.0,29.0 L69.5,29.2 L70.0,29.5 L70.0,29.5 L70.5,29.8 L70.8,30.0 L71.0,30.2 L71.4,30.5 L71.5,30.6 L71.9,31.0 L72.0,31.1 L72.3,31.5 L72.5,31.8 L72.6,32.0 L72.9,32.5 L73.0,32.6 L73.2,33.0 L73.4,33.5 L73.5,33.6 L73.7,34.0 L73.8,34.5 L74.0,35.0 L74.0,35.1 L74.1,35.5 L74.2,36.0 L74.3,36.5 L74.4,37.0 L74.4,37.5 L74.5,38.0 L74.5,38.5 L74.5,39.0 L74.5,39.5 L74.4,40.0 L74.4,40.5 L74.3,41.0 L74.2,41.5 L74.1,42.0 L74.0,42.4 L74.0,42.5 L73.8,43.0 L73.7,43.5 L73.5,44.0 L73.5,44.0 L73.3,44.5 L73.1,45.0 L73.0,45.1 L72.8,45.5 L72.5,46.0 L72.5,46.1 L72.2,46.5 L72.0,46.8 L71.9,47.0 L71.5,47.5 L71.5,47.5 L71.1,48.0 L71.0,48.1 L70.6,48.5 L70.5,48.6 L70.1,49.0 L70.0,49.1 L69.5,49.5 L69.5,49.5 L69.0,49.8 L68.7,50.0 L68.5,50.1 L68.0,50.4 L67.9,50.5 L67.5,50.7 L67.0,50.9 L66.8,51.0 L66.5,51.1 L66.0,51.3 L65.5,51.5 L65.5,51.5 L65.0,51.7 L64.5,51.8 L64.0,52.0 L63.8,52.0 L63.5,52.1 L63.0,52.3 L62.5,52.4 L62.3,52.5 L62.0,52.6 L61.5,52.9 L61.2,53.0 L61.0,53.1 L60.5,53.4 L60.3,53.5 L60.0,53.7 L59.5,54.0 L59.5,54.0 L59.0,54.3 L58.7,54.5 L58.5,54.7 L58.0,55.0 L57.9,55.0 L57.5,55.2 L57.0,55.5 L57.0,55.5 L56.5,55.8 L56.1,56.0 L56.0,56.1 L55.5,56.4 L55.4,56.5 L55.0,56.8 L54.8,57.0 L54.5,57.3 L54.3,57.5 L54.0,57.8 L53.9,58.0 L53.5,58.4 L53.4,58.5 L53.1,59.0 L53.0,59.1 L52.7,59.5 L52.5,59.8 L52.3,60.0 L52.0,60.5 L52.0,60.5 L51.6,61.0 L51.5,61.1 L51.2,61.5 L51.0,61.8 L50.8,62.0 L50.5,62.4 L50.4,62.5 L50.0,63.0 L50.0,63.0 L49.6,63.5 L49.5,63.6 L49.2,64.0 L49.0,64.2 L48.7,64.5 L48.5,64.7 L48.2,65.0 L48.0,65.2 L47.7,65.5 L47.5,65.7 L47.2,66.0 L47.0,66.2 L46.7,66.5 L46.5,66.7 L46.2,67.0 L46.0,67.1 L45.6,67.5 L45.5,67.6 L45.0,68.0 L45.0,68.0 L44.5,68.5 L44.5,68.5 L44.0,68.9 L43.9,69.0 L43.5,69.3 L43.2,69.5 L43.0,69.7 L42.6,70.0 L42.5,70.1 L42.0,70.5 L41.9,70.5 L41.5,70.8 L41.2,71.0 L41.0,71.2 L40.5,71.5 L40.5,71.5 L40.0,71.8 L39.7,72.0 L39.5,72.1 L39.0,72.4 L38.7,72.5 L38.5,72.6 L38.0,72.8 L37.6,73.0 L37.5,73.0 L37.0,73.2 L36.5,73.4 L36.0,73.5 L36.0,73.5 L35.5,73.6 L35.0,73.7 L34.5,73.8 L34.0,73.9 L33.5,73.9 L33.0,74.0 L32.5,74.0 L32.0,74.0 L31.5,73.9 L31.0,73.9 L30.5,73.8 L30.0,73.7 L29.5,73.5 L29.4,73.5 L29.0,73.4 L28.5,73.2 L28.0,73.0 L28.0,73.0 L27.5,72.8 L27.0,72.5 L27.0,72.5 L26.5,72.2 L26.2,72.0 L26.0,71.9 L25.5,71.6 L25.4,71.5 L25.0,71.2 L24.8,71.0 L24.5,70.8 L24.2,70.5 L24.0,70.3 L23.6,70.0 L23.5,69.8 L23.2,69.5 L23.0,69.3 L22.8,69.0 L22.5,68.6 L22.4,68.5 L22.1,68.0 L22.0,67.8 L21.8,67.5 L21.6,67.0 L21.5,66.7 L21.4,66.5 L21.3,66.0 L21.1,65.5 L21.1,65.0 L21.0,64.5 L21.0,64.0 L21.0,63.5 L21.1,63.0 L21.1,62.5 L21.3,62.0 L21.4,61.5 L21.5,61.2 L21.6,61.0 L21.7,60.5 L22.0,60.0 L22.0,59.9 L22.2,59.5 L22.5,59.0 L22.5,59.0 L22.8,58.5 L23.0,58.2 L23.1,58.0 L23.5,57.5 L23.5,57.5 L23.9,57.0 L24.0,56.9 L24.3,56.5 L24.5,56.3 L24.8,56.0 L25.0,55.8 L25.3,55.5 L25.5,55.3 L25.9,55.0 L26.0,54.9 L26.4,54.5 L26.5,54.5 L27.0,54.1 L27.1,54.0 L27.5,53.7 L27.8,53.5 L28.0,53.3 L28.5,53.0 L28.5,53.0 L29.0,52.7 L29.3,52.5 L29.5,52.4 L30.0,52.1 L30.2,52.0 L30.5,51.9 L31.0,51.6 L31.2,51.5 L31.5,51.4 L32.0,51.1 L32.3,51.0 L32.5,50.9 L33.0,50.7 L33.5,50.5 L33.6,50.5 L34.0,50.4 L34.5,50.2 L35.0,50.0 L35.1,50.0 L35.5,49.9 L36.0,49.7 L36.5,49.6 L37.0,49.5 L37.0,49.5 L37.5,49.4 L38.0,49.3 L38.5,49.2 L39.0,49.1 L39.4,49.0 L39.5,49.0 L40.0,48.9 L40.5,48.8 L41.0,48.8 L41.5,48.7 L42.0,48.6 L42.5,48.6 L43.0,48.5 L43.2,48.5 L43.5,48.5 L44.0,48.4 L44.5,48.4 L45.0,48.3 L45.5,48.2 L46.0,48.2 L46.5,48.1 L46.9,48.0 L47.0,48.0 L47.5,47.9 L48.0,47.7 L48.5,47.5 L48.6,47.5 L49.0,47.3 L49.5,47.0 L49.5,47.0 L50.0,46.7 L50.3,46.5 L50.5,46.3 L50.9,46.0 L51.0,45.9 L51.5,45.6 L51.6,45.5 L52.0,45.2 L52.3,45.0 L52.5,44.8 L52.9,44.5 L53.0,44.5 L53.5,44.1 L53.6,44.0 L54.0,43.7 L54.2,43.5 L54.5,43.3 L54.7,43.0 L55.0,42.7 L55.2,42.5 L55.5,42.1 L55.5,42.0 L55.9,41.5 L56.0,41.3 L56.1,41.0 L56.4,40.5 L56.5,40.3 L56.6,40.0 L56.8,39.5 L57.0,39.2 L57.1,39.0 L57.3,38.5 L57.5,38.0 L57.5,38.0 L57.7,37.5 L57.9,37.0 L58.0,36.9 L58.2,36.5 L58.4,36.0 L58.5,35.8 L58.7,35.5 L58.9,35.0 L59.0,34.8 L59.2,34.5 L59.5,34.0 L59.5,34.0 L59.8,33.5 L60.0,33.2 L60.2,33.0 L60.5,32.5 L60.5,32.5 L60.9,32.0 L61.0,31.9 L61.4,31.5 L61.5,31.4 L61.9,31.0 L62.0,30.9 L62.5,30.5 L62.5,30.5 L63.0,30.1 L63.2,30.0 L63.5,29.8 L64.0,29.5 L64.0,29.5 L64.5,29.3 L65.0,29.1 L65.3,29.0Z M64.7,30.5 L65.0,30.4 L65.5,30.2 L66.0,30.1 L66.5,30.0 L67.0,30.0 L67.5,30.0 L68.0,30.1 L68.5,30.2 L69.0,30.4 L69.2,30.5 L69.5,30.6 L70.0,30.9 L70.1,31.0 L70.5,31.3 L70.7,31.5 L71.0,31.8 L71.2,32.0 L71.5,32.4 L71.6,32.5 L72.0,33.0 L72.0,33.1 L72.3,33.5 L72.5,34.0 L72.5,34.0 L72.7,34.5 L72.9,35.0 L73.0,35.3 L73.1,35.5 L73.2,36.0 L73.3,36.5 L73.4,37.0 L73.4,37.5 L73.5,38.0 L73.5,38.4 L73.5,38.5 L73.5,39.0 L73.5,39.1 L73.5,39.5 L73.4,40.0 L73.4,40.5 L73.3,41.0 L73.2,41.5 L73.1,42.0 L73.0,42.4 L73.0,42.5 L72.8,43.0 L72.6,43.5 L72.5,43.8 L72.4,44.0 L72.2,44.5 L72.0,44.9 L71.9,45.0 L71.6,45.5 L71.5,45.7 L71.3,46.0 L71.0,46.4 L70.9,46.5 L70.5,47.0 L70.5,47.0 L70.1,47.5 L70.0,47.6 L69.5,48.0 L69.5,48.0 L69.0,48.4 L68.9,48.5 L68.5,48.7 L68.1,49.0 L68.0,49.0 L67.5,49.3 L67.0,49.5 L67.0,49.5 L66.5,49.7 L66.0,49.9 L65.5,50.0 L65.5,50.0 L65.0,50.1 L64.5,50.2 L64.0,50.3 L63.5,50.3 L63.0,50.4 L62.5,50.4 L62.0,50.4 L61.5,50.4 L61.0,50.5 L60.5,50.5 L60.1,50.5 L60.0,50.5 L59.5,50.6 L59.0,50.6 L58.5,50.8 L58.0,50.9 L57.9,51.0 L57.5,51.2 L57.0,51.5 L57.0,51.5 L56.5,51.8 L56.3,52.0 L56.0,52.2 L55.7,52.5 L55.5,52.7 L55.2,53.0 L55.0,53.3 L54.8,53.5 L54.5,54.0 L54.5,54.0 L54.2,54.5 L54.0,54.8 L53.9,55.0 L53.7,55.5 L53.5,55.8 L53.4,56.0 L53.2,56.5 L53.0,56.8 L52.9,57.0 L52.7,57.5 L52.5,57.8 L52.4,58.0 L52.1,58.5 L52.0,58.7 L51.9,59.0 L51.6,59.5 L51.5,59.6 L51.3,60.0 L51.0,60.4 L50.9,60.5 L50.6,61.0 L50.5,61.2 L50.3,61.5 L50.0,61.9 L49.9,62.0 L49.5,62.5 L49.5,62.5 L49.1,63.0 L49.0,63.1 L48.7,63.5 L48.5,63.7 L48.3,64.0 L48.0,64.3 L47.8,64.5 L47.5,64.8 L47.3,65.0 L47.0,65.3 L46.8,65.5 L46.5,65.8 L46.3,66.0 L46.0,66.3 L45.8,66.5 L45.5,66.7 L45.2,67.0 L45.0,67.2 L44.6,67.5 L44.5,67.6 L44.0,68.0 L44.0,68.0 L43.5,68.4 L43.4,68.5 L43.0,68.8 L42.7,69.0 L42.5,69.2 L42.0,69.5 L42.0,69.5 L41.5,69.8 L41.2,70.0 L41.0,70.1 L40.5,70.4 L40.4,70.5 L40.0,70.7 L39.5,71.0 L39.4,71.0 L39.0,71.2 L38.5,71.4 L38.3,71.5 L38.0,71.6 L37.5,71.8 L37.0,72.0 L36.9,72.0 L36.5,72.1 L36.0,72.2 L35.5,72.4 L35.0,72.4 L34.6,72.5 L34.5,72.5 L34.0,72.6 L33.5,72.6 L33.0,72.7 L32.5,72.7 L32.0,72.7 L31.5,72.7 L31.0,72.6 L30.5,72.6 L30.2,72.5 L30.0,72.5 L29.5,72.4 L29.0,72.2 L28.5,72.1 L28.3,72.0 L28.0,71.9 L27.5,71.7 L27.2,71.5 L27.0,71.4 L26.5,71.1 L26.3,71.0 L26.0,70.8 L25.5,70.5 L25.5,70.5 L25.0,70.1 L24.9,70.0 L24.5,69.7 L24.3,69.5 L24.0,69.1 L23.9,69.0 L23.5,68.6 L23.5,68.5 L23.1,68.0 L23.0,67.8 L22.8,67.5 L22.5,67.0 L22.5,66.9 L22.3,66.5 L22.2,66.0 L22.0,65.5 L22.0,65.4 L21.9,65.0 L21.9,64.5 L21.8,64.0 L21.8,63.5 L21.9,63.0 L22.0,62.5 L22.0,62.3 L22.1,62.0 L22.2,61.5 L22.4,61.0 L22.5,60.6 L22.6,60.5 L22.8,60.0 L23.0,59.6 L23.0,59.5 L23.3,59.0 L23.5,58.7 L23.6,58.5 L24.0,58.0 L24.0,58.0 L24.3,57.5 L24.5,57.3 L24.8,57.0 L25.0,56.7 L25.2,56.5 L25.5,56.2 L25.7,56.0 L26.0,55.7 L26.2,55.5 L26.5,55.3 L26.8,55.0 L27.0,54.8 L27.4,54.5 L27.5,54.4 L28.0,54.1 L28.1,54.0 L28.5,53.7 L28.8,53.5 L29.0,53.4 L29.5,53.1 L29.6,53.0 L30.0,52.8 L30.5,52.5 L30.5,52.5 L31.0,52.2 L31.5,52.0 L31.5,52.0 L32.0,51.8 L32.5,51.5 L32.6,51.5 L33.0,51.3 L33.5,51.1 L33.9,51.0 L34.0,51.0 L34.5,50.8 L35.0,50.6 L35.5,50.5 L35.5,50.5 L36.0,50.3 L36.5,50.2 L37.0,50.1 L37.4,50.0 L37.5,50.0 L38.0,49.9 L38.5,49.8 L39.0,49.7 L39.5,49.6 L40.0,49.5 L40.4,49.5 L40.5,49.5 L41.0,49.4 L41.5,49.4 L42.0,49.3 L42.5,49.3 L43.0,49.3 L43.5,49.2 L44.0,49.2 L44.5,49.2 L45.0,49.2 L45.5,49.2 L46.0,49.2 L46.5,49.2 L47.0,49.2 L47.5,49.2 L48.0,49.2 L48.5,49.2 L49.0,49.2 L49.5,49.1 L50.0,49.1 L50.5,49.0 L50.8,49.0 L51.0,49.0 L51.5,48.9 L52.0,48.7 L52.5,48.5 L52.5,48.5 L53.0,48.3 L53.5,48.0 L53.5,48.0 L54.0,47.7 L54.3,47.5 L54.5,47.4 L55.0,47.0 L55.0,47.0 L55.5,46.5 L55.5,46.5 L55.9,46.0 L56.0,45.9 L56.2,45.5 L56.5,45.0 L56.5,44.9 L56.7,44.5 L56.8,44.0 L57.0,43.5 L57.0,43.5 L57.2,43.0 L57.3,42.5 L57.5,42.0 L57.5,41.9 L57.6,41.5 L57.7,41.0 L57.9,40.5 L58.0,40.1 L58.0,40.0 L58.2,39.5 L58.4,39.0 L58.5,38.6 L58.5,38.5 L58.7,38.0 L58.9,37.5 L59.0,37.3 L59.1,37.0 L59.3,36.5 L59.5,36.2 L59.6,36.0 L59.8,35.5 L60.0,35.2 L60.1,35.0 L60.4,34.5 L60.5,34.3 L60.7,34.0 L61.0,33.6 L61.1,33.5 L61.5,33.0 L61.5,33.0 L61.9,32.5 L62.0,32.4 L62.4,32.0 L62.5,31.9 L63.0,31.5 L63.0,31.5 L63.5,31.2 L63.7,31.0 L64.0,30.8 L64.5,30.6 L64.7,30.5Z M65.3,31.5 L65.5,31.4 L66.0,31.3 L66.5,31.3 L67.0,31.2 L67.5,31.3 L68.0,31.4 L68.4,31.5 L68.5,31.5 L69.0,31.7 L69.4,32.0 L69.5,32.0 L70.0,32.4 L70.1,32.5 L70.5,32.9 L70.6,33.0 L71.0,33.5 L71.0,33.5 L71.3,34.0 L71.5,34.3 L71.6,34.5 L71.8,35.0 L72.0,35.4 L72.0,35.5 L72.2,36.0 L72.3,36.5 L72.4,37.0 L72.5,37.5 L72.5,37.5 L72.6,38.0 L72.6,38.5 L72.6,39.0 L72.6,39.5 L72.5,40.0 L72.5,40.3 L72.5,40.5 L72.4,41.0 L72.3,41.5 L72.2,42.0 L72.0,42.5 L72.0,42.5 L71.8,43.0 L71.6,43.5 L71.5,43.8 L71.4,44.0 L71.1,44.5 L71.0,44.7 L70.8,45.0 L70.5,45.5 L70.5,45.5 L70.1,46.0 L70.0,46.1 L69.6,46.5 L69.5,46.6 L69.1,47.0 L69.0,47.0 L68.5,47.4 L68.4,47.5 L68.0,47.7 L67.5,48.0 L67.5,48.0 L67.0,48.2 L66.5,48.4 L66.3,48.5 L66.0,48.6 L65.5,48.7 L65.0,48.8 L64.5,48.8 L64.0,48.8 L63.5,48.8 L63.0,48.8 L62.5,48.7 L62.0,48.6 L61.8,48.5 L61.5,48.4 L61.0,48.2 L60.7,48.0 L60.5,47.9 L60.0,47.5 L60.0,47.5 L59.5,47.0 L59.5,46.9 L59.2,46.5 L59.0,46.0 L59.0,45.9 L58.9,45.5 L58.8,45.0 L58.7,44.5 L58.7,44.0 L58.7,43.5 L58.7,43.0 L58.8,42.5 L58.8,42.0 L58.9,41.5 L59.0,41.0 L59.0,40.9 L59.1,40.5 L59.2,40.0 L59.3,39.5 L59.4,39.0 L59.5,38.8 L59.6,38.5 L59.8,38.0 L60.0,37.5 L60.0,37.4 L60.2,37.0 L60.4,36.5 L60.5,36.3 L60.6,36.0 L60.9,35.5 L61.0,35.4 L61.2,35.0 L61.5,34.6 L61.6,34.5 L61.9,34.0 L62.0,33.9 L62.4,33.5 L62.5,33.4 L62.9,33.0 L63.0,32.9 L63.5,32.5 L63.5,32.5 L64.0,32.1 L64.2,32.0 L64.5,31.8 L65.0,31.6 L65.3,31.5Z M41.3,50.0 L41.5,50.0 L42.0,50.0 L42.5,49.9 L43.0,49.9 L43.5,49.9 L44.0,49.9 L44.5,49.9 L45.0,49.9 L45.5,50.0 L45.8,50.0 L46.0,50.0 L46.5,50.1 L47.0,50.1 L47.5,50.2 L48.0,50.3 L48.5,50.4 L48.9,50.5 L49.0,50.5 L49.5,50.7 L50.0,50.9 L50.3,51.0 L50.5,51.1 L51.0,51.4 L51.1,51.5 L51.5,51.9 L51.6,52.0 L51.9,52.5 L52.0,52.8 L52.1,53.0 L52.2,53.5 L52.2,54.0 L52.2,54.5 L52.2,55.0 L52.1,55.5 L52.0,56.0 L52.0,56.0 L51.9,56.5 L51.7,57.0 L51.6,57.5 L51.5,57.6 L51.4,58.0 L51.2,58.5 L51.0,58.8 L50.9,59.0 L50.7,59.5 L50.5,59.8 L50.4,60.0 L50.1,60.5 L50.0,60.7 L49.8,61.0 L49.5,61.4 L49.4,61.5 L49.1,62.0 L49.0,62.1 L48.7,62.5 L48.5,62.8 L48.3,63.0 L48.0,63.4 L47.9,63.5 L47.5,63.9 L47.5,64.0 L47.0,64.5 L47.0,64.5 L46.5,65.0 L46.5,65.0 L46.0,65.5 L46.0,65.5 L45.5,66.0 L45.5,66.0 L45.0,66.4 L44.9,66.5 L44.5,66.8 L44.3,67.0 L44.0,67.3 L43.7,67.5 L43.5,67.7 L43.1,68.0 L43.0,68.0 L42.5,68.4 L42.4,68.5 L42.0,68.8 L41.6,69.0 L41.5,69.1 L41.0,69.4 L40.8,69.5 L40.5,69.7 L40.0,69.9 L39.9,70.0 L39.5,70.2 L39.0,70.4 L38.8,70.5 L38.5,70.6 L38.0,70.8 L37.5,71.0 L37.5,71.0 L37.0,71.2 L36.5,71.3 L36.0,71.4 L35.7,71.5 L35.5,71.5 L35.0,71.6 L34.5,71.7 L34.0,71.8 L33.5,71.8 L33.0,71.9 L32.5,71.9 L32.0,71.9 L31.5,71.8 L31.0,71.8 L30.5,71.7 L30.0,71.6 L29.5,71.5 L29.4,71.5 L29.0,71.4 L28.5,71.2 L28.0,71.0 L27.9,71.0 L27.5,70.8 L27.0,70.6 L26.9,70.5 L26.5,70.3 L26.1,70.0 L26.0,69.9 L25.5,69.5 L25.5,69.5 L25.0,69.1 L24.9,69.0 L24.5,68.6 L24.4,68.5 L24.0,68.0 L24.0,67.9 L23.7,67.5 L23.5,67.2 L23.4,67.0 L23.2,66.5 L23.0,66.1 L23.0,66.0 L22.8,65.5 L22.7,65.0 L22.6,64.5 L22.6,64.0 L22.6,63.5 L22.6,63.0 L22.7,62.5 L22.8,62.0 L22.9,61.5 L23.0,61.3 L23.1,61.0 L23.3,60.5 L23.5,60.0 L23.5,60.0 L23.8,59.5 L24.0,59.1 L24.1,59.0 L24.4,58.5 L24.5,58.3 L24.7,58.0 L25.0,57.7 L25.1,57.5 L25.5,57.1 L25.6,57.0 L26.0,56.5 L26.0,56.5 L26.5,56.0 L26.5,56.0 L27.0,55.6 L27.1,55.5 L27.5,55.1 L27.7,55.0 L28.0,54.7 L28.3,54.5 L28.5,54.4 L29.0,54.0 L29.0,54.0 L29.5,53.7 L29.8,53.5 L30.0,53.4 L30.5,53.1 L30.7,53.0 L31.0,52.8 L31.5,52.6 L31.7,52.5 L32.0,52.3 L32.5,52.1 L32.8,52.0 L33.0,51.9 L33.5,51.7 L34.0,51.5 L34.1,51.5 L34.5,51.3 L35.0,51.2 L35.5,51.0 L35.6,51.0 L36.0,50.9 L36.5,50.8 L37.0,50.6 L37.5,50.5 L37.7,50.5 L38.0,50.4 L38.5,50.3 L39.0,50.3 L39.5,50.2 L40.0,50.1 L40.5,50.1 L41.0,50.0 L41.3,50.0Z M66.5,32.5 L66.5,32.5 L67.0,32.5 L67.1,32.5 L67.5,32.5 L68.0,32.7 L68.5,32.9 L68.7,33.0 L69.0,33.2 L69.5,33.5 L69.5,33.5 L70.0,34.0 L70.0,34.0 L70.4,34.5 L70.5,34.7 L70.7,35.0 L70.9,35.5 L71.0,35.7 L71.1,36.0 L71.3,36.5 L71.4,37.0 L71.5,37.3 L71.5,37.5 L71.6,38.0 L71.6,38.5 L71.7,39.0 L71.6,39.5 L71.6,40.0 L71.5,40.5 L71.5,40.8 L71.5,41.0 L71.3,41.5 L71.2,42.0 L71.0,42.5 L71.0,42.6 L70.8,43.0 L70.6,43.5 L70.5,43.6 L70.3,44.0 L70.0,44.4 L70.0,44.5 L69.6,45.0 L69.5,45.1 L69.1,45.5 L69.0,45.6 L68.6,46.0 L68.5,46.1 L68.0,46.4 L67.9,46.5 L67.5,46.7 L67.0,47.0 L66.9,47.0 L66.5,47.2 L66.0,47.3 L65.5,47.4 L65.0,47.5 L64.5,47.5 L64.0,47.4 L63.5,47.3 L63.0,47.2 L62.5,47.0 L62.5,47.0 L62.0,46.7 L61.7,46.5 L61.5,46.3 L61.2,46.0 L61.0,45.8 L60.8,45.5 L60.5,45.0 L60.5,44.9 L60.3,44.5 L60.2,44.0 L60.1,43.5 L60.0,43.0 L60.0,42.5 L60.0,42.0 L60.0,41.5 L60.1,41.0 L60.2,40.5 L60.2,40.0 L60.3,39.5 L60.5,39.0 L60.5,38.9 L60.6,38.5 L60.8,38.0 L61.0,37.5 L61.0,37.5 L61.2,37.0 L61.5,36.5 L61.5,36.4 L61.7,36.0 L62.0,35.6 L62.1,35.5 L62.4,35.0 L62.5,34.9 L62.8,34.5 L63.0,34.3 L63.3,34.0 L63.5,33.8 L63.9,33.5 L64.0,33.5 L64.5,33.1 L64.8,33.0 L65.0,32.9 L65.5,32.7 L66.0,32.6 L66.5,32.5Z M37.8,51.0 L38.0,51.0 L38.5,50.9 L39.0,50.8 L39.5,50.7 L40.0,50.7 L40.5,50.6 L41.0,50.6 L41.5,50.5 L42.0,50.5 L42.5,50.5 L43.0,50.5 L43.5,50.5 L44.0,50.6 L44.5,50.6 L45.0,50.6 L45.5,50.7 L46.0,50.8 L46.5,50.9 L47.0,51.0 L47.0,51.0 L47.5,51.1 L48.0,51.3 L48.4,51.5 L48.5,51.5 L49.0,51.8 L49.3,52.0 L49.5,52.1 L49.9,52.5 L50.0,52.6 L50.3,53.0 L50.5,53.3 L50.6,53.5 L50.8,54.0 L50.9,54.5 L51.0,55.0 L51.0,55.5 L51.0,56.0 L50.9,56.5 L50.8,57.0 L50.7,57.5 L50.5,58.0 L50.5,58.0 L50.3,58.5 L50.1,59.0 L50.0,59.2 L49.9,59.5 L49.6,60.0 L49.5,60.2 L49.3,60.5 L49.0,61.0 L49.0,61.0 L48.7,61.5 L48.5,61.8 L48.3,62.0 L48.0,62.5 L48.0,62.5 L47.6,63.0 L47.5,63.1 L47.2,63.5 L47.0,63.7 L46.7,64.0 L46.5,64.2 L46.2,64.5 L46.0,64.7 L45.7,65.0 L45.5,65.2 L45.2,65.5 L45.0,65.7 L44.7,66.0 L44.5,66.1 L44.1,66.5 L44.0,66.6 L43.5,67.0 L43.5,67.0 L43.0,67.4 L42.8,67.5 L42.5,67.7 L42.1,68.0 L42.0,68.1 L41.5,68.4 L41.4,68.5 L41.0,68.7 L40.5,69.0 L40.5,69.0 L40.0,69.3 L39.6,69.5 L39.5,69.5 L39.0,69.8 L38.5,70.0 L38.4,70.0 L38.0,70.2 L37.5,70.4 L37.0,70.5 L37.0,70.5 L36.5,70.6 L36.0,70.8 L35.5,70.9 L35.0,71.0 L34.8,71.0 L34.5,71.0 L34.0,71.1 L33.5,71.2 L33.0,71.2 L32.5,71.2 L32.0,71.2 L31.5,71.2 L31.0,71.1 L30.5,71.0 L30.4,71.0 L30.0,70.9 L29.5,70.8 L29.0,70.7 L28.5,70.5 L28.5,70.5 L28.0,70.3 L27.5,70.0 L27.4,70.0 L27.0,69.7 L26.6,69.5 L26.5,69.4 L26.0,69.0 L26.0,69.0 L25.5,68.6 L25.4,68.5 L25.0,68.0 L25.0,68.0 L24.6,67.5 L24.5,67.4 L24.3,67.0 L24.0,66.5 L24.0,66.5 L23.8,66.0 L23.6,65.5 L23.5,65.1 L23.5,65.0 L23.4,64.5 L23.3,64.0 L23.3,63.5 L23.4,63.0 L23.4,62.5 L23.5,62.1 L23.5,62.0 L23.7,61.5 L23.8,61.0 L24.0,60.5 L24.0,60.5 L24.2,60.0 L24.5,59.5 L24.5,59.5 L24.8,59.0 L25.0,58.7 L25.1,58.5 L25.5,58.0 L25.5,58.0 L25.9,57.5 L26.0,57.4 L26.3,57.0 L26.5,56.8 L26.8,56.5 L27.0,56.3 L27.3,56.0 L27.5,55.9 L27.9,55.5 L28.0,55.4 L28.5,55.0 L28.5,55.0 L29.0,54.7 L29.2,54.5 L29.5,54.3 L30.0,54.0 L30.0,54.0 L30.5,53.7 L30.9,53.5 L31.0,53.4 L31.5,53.2 L31.8,53.0 L32.0,52.9 L32.5,52.7 L32.9,52.5 L33.0,52.5 L33.5,52.3 L34.0,52.1 L34.2,52.0 L34.5,51.9 L35.0,51.7 L35.5,51.6 L35.7,51.5 L36.0,51.4 L36.5,51.3 L37.0,51.2 L37.5,51.1 L37.8,51.0Z M65.8,34.0 L66.0,34.0 L66.5,33.9 L67.0,33.9 L67.5,34.0 L67.5,34.0 L68.0,34.2 L68.5,34.5 L68.6,34.5 L69.0,34.9 L69.1,35.0 L69.5,35.4 L69.5,35.5 L69.9,36.0 L70.0,36.3 L70.1,36.5 L70.3,37.0 L70.4,37.5 L70.5,37.9 L70.5,38.0 L70.6,38.5 L70.6,39.0 L70.6,39.5 L70.6,40.0 L70.5,40.5 L70.5,40.5 L70.4,41.0 L70.3,41.5 L70.1,42.0 L70.0,42.2 L69.9,42.5 L69.6,43.0 L69.5,43.2 L69.3,43.5 L69.0,43.9 L68.9,44.0 L68.5,44.5 L68.5,44.5 L68.0,44.9 L67.9,45.0 L67.5,45.3 L67.1,45.5 L67.0,45.6 L66.5,45.8 L66.0,45.9 L65.6,46.0 L65.5,46.0 L65.0,46.0 L64.5,46.0 L64.5,46.0 L64.0,45.9 L63.5,45.7 L63.1,45.5 L63.0,45.5 L62.5,45.1 L62.4,45.0 L62.0,44.5 L62.0,44.5 L61.7,44.0 L61.5,43.5 L61.5,43.4 L61.4,43.0 L61.3,42.5 L61.2,42.0 L61.2,41.5 L61.2,41.0 L61.3,40.5 L61.3,40.0 L61.4,39.5 L61.5,39.2 L61.6,39.0 L61.7,38.5 L61.9,38.0 L62.0,37.8 L62.1,37.5 L62.4,37.0 L62.5,36.8 L62.7,36.5 L63.0,36.0 L63.0,36.0 L63.4,35.5 L63.5,35.4 L64.0,35.0 L64.0,35.0 L64.5,34.6 L64.6,34.5 L65.0,34.3 L65.5,34.1 L65.8,34.0Z M37.9,51.5 L38.0,51.5 L38.5,51.4 L39.0,51.3 L39.5,51.3 L40.0,51.2 L40.5,51.2 L41.0,51.1 L41.5,51.1 L42.0,51.1 L42.5,51.1 L43.0,51.1 L43.5,51.1 L44.0,51.2 L44.5,51.2 L45.0,51.3 L45.5,51.4 L45.9,51.5 L46.0,51.5 L46.5,51.7 L47.0,51.8 L47.4,52.0 L47.5,52.1 L48.0,52.3 L48.3,52.5 L48.5,52.7 L48.9,53.0 L49.0,53.1 L49.3,53.5 L49.5,53.8 L49.6,54.0 L49.8,54.5 L49.9,55.0 L50.0,55.5 L50.0,55.5 L50.0,56.0 L50.0,56.4 L50.0,56.5 L49.9,57.0 L49.8,57.5 L49.7,58.0 L49.5,58.5 L49.5,58.6 L49.3,59.0 L49.1,59.5 L49.0,59.7 L48.9,60.0 L48.6,60.5 L48.5,60.7 L48.3,61.0 L48.0,61.5 L48.0,61.5 L47.6,62.0 L47.5,62.2 L47.2,62.5 L47.0,62.8 L46.8,63.0 L46.5,63.4 L46.4,63.5 L46.0,64.0 L46.0,64.0 L45.5,64.5 L45.5,64.5 L45.0,65.0 L45.0,65.0 L44.5,65.4 L44.4,65.5 L44.0,65.9 L43.9,66.0 L43.5,66.3 L43.3,66.5 L43.0,66.7 L42.6,67.0 L42.5,67.1 L42.0,67.5 L41.9,67.5 L41.5,67.8 L41.2,68.0 L41.0,68.1 L40.5,68.4 L40.3,68.5 L40.0,68.7 L39.5,68.9 L39.4,69.0 L39.0,69.2 L38.5,69.4 L38.2,69.5 L38.0,69.6 L37.5,69.8 L37.0,69.9 L36.7,70.0 L36.5,70.1 L36.0,70.2 L35.5,70.3 L35.0,70.4 L34.5,70.5 L34.1,70.5 L34.0,70.5 L33.5,70.6 L33.0,70.6 L32.5,70.6 L32.0,70.6 L31.5,70.5 L31.3,70.5 L31.0,70.5 L30.5,70.4 L30.0,70.3 L29.5,70.1 L29.1,70.0 L29.0,70.0 L28.5,69.8 L28.0,69.5 L27.9,69.5 L27.5,69.3 L27.1,69.0 L27.0,68.9 L26.5,68.5 L26.4,68.5 L26.0,68.1 L25.9,68.0 L25.5,67.5 L25.5,67.5 L25.1,67.0 L25.0,66.8 L24.8,66.5 L24.6,66.0 L24.5,65.8 L24.4,65.5 L24.2,65.0 L24.1,64.5 L24.1,64.0 L24.1,63.5 L24.1,63.0 L24.1,62.5 L24.2,62.0 L24.4,61.5 L24.5,61.1 L24.5,61.0 L24.7,60.5 L25.0,60.0 L25.0,59.9 L25.2,59.5 L25.5,59.0 L25.5,59.0 L25.9,58.5 L26.0,58.3 L26.2,58.0 L26.5,57.7 L26.6,57.5 L27.0,57.1 L27.1,57.0 L27.5,56.6 L27.6,56.5 L28.0,56.1 L28.2,56.0 L28.5,55.7 L28.8,55.5 L29.0,55.3 L29.4,55.0 L29.5,55.0 L30.0,54.6 L30.2,54.5 L30.5,54.3 L31.0,54.0 L31.0,54.0 L31.5,53.7 L31.9,53.5 L32.0,53.5 L32.5,53.2 L33.0,53.0 L33.0,53.0 L33.5,52.8 L34.0,52.6 L34.3,52.5 L34.5,52.4 L35.0,52.2 L35.5,52.1 L35.8,52.0 L36.0,51.9 L36.5,51.8 L37.0,51.7 L37.5,51.6 L37.9,51.5Z M65.3,36.0 L65.5,35.9 L66.0,35.8 L66.5,35.8 L67.0,35.8 L67.5,36.0 L67.5,36.0 L68.0,36.4 L68.1,36.5 L68.5,36.9 L68.5,37.0 L68.8,37.5 L69.0,38.0 L69.0,38.0 L69.1,38.5 L69.2,39.0 L69.2,39.5 L69.2,40.0 L69.1,40.5 L69.0,40.9 L69.0,41.0 L68.8,41.5 L68.6,42.0 L68.5,42.1 L68.3,42.5 L68.0,42.8 L67.9,43.0 L67.5,43.4 L67.3,43.5 L67.0,43.7 L66.5,44.0 L66.5,44.0 L66.0,44.2 L65.5,44.3 L65.0,44.3 L64.5,44.1 L64.2,44.0 L64.0,43.9 L63.5,43.5 L63.5,43.5 L63.1,43.0 L63.0,42.8 L62.9,42.5 L62.7,42.0 L62.6,41.5 L62.6,41.0 L62.6,40.5 L62.7,40.0 L62.8,39.5 L62.9,39.0 L63.0,38.8 L63.1,38.5 L63.4,38.0 L63.5,37.7 L63.7,37.5 L64.0,37.0 L64.0,37.0 L64.5,36.5 L64.5,36.5 L65.0,36.2 L65.3,36.0Z M38.1,52.0 L38.5,51.9 L39.0,51.9 L39.5,51.8 L40.0,51.7 L40.5,51.7 L41.0,51.7 L41.5,51.7 L42.0,51.7 L42.5,51.7 L43.0,51.7 L43.5,51.8 L44.0,51.8 L44.5,51.9 L45.0,52.0 L45.0,52.0 L45.5,52.1 L46.0,52.3 L46.5,52.5 L46.5,52.5 L47.0,52.8 L47.4,53.0 L47.5,53.1 L48.0,53.5 L48.0,53.5 L48.4,54.0 L48.5,54.1 L48.7,54.5 L48.9,55.0 L49.0,55.3 L49.1,55.5 L49.1,56.0 L49.1,56.5 L49.1,57.0 L49.0,57.5 L49.0,57.6 L48.9,58.0 L48.8,58.5 L48.6,59.0 L48.5,59.2 L48.4,59.5 L48.1,60.0 L48.0,60.3 L47.9,60.5 L47.6,61.0 L47.5,61.1 L47.2,61.5 L47.0,61.8 L46.9,62.0 L46.5,62.5 L46.5,62.5 L46.1,63.0 L46.0,63.1 L45.7,63.5 L45.5,63.7 L45.2,64.0 L45.0,64.2 L44.7,64.5 L44.5,64.7 L44.2,65.0 L44.0,65.2 L43.7,65.5 L43.5,65.6 L43.1,66.0 L43.0,66.1 L42.5,66.5 L42.4,66.5 L42.0,66.8 L41.7,67.0 L41.5,67.2 L41.0,67.5 L41.0,67.5 L40.5,67.8 L40.2,68.0 L40.0,68.1 L39.5,68.3 L39.2,68.5 L39.0,68.6 L38.5,68.8 L38.0,69.0 L38.0,69.0 L37.5,69.2 L37.0,69.3 L36.5,69.5 L36.5,69.5 L36.0,69.6 L35.5,69.7 L35.0,69.8 L34.5,69.9 L34.0,69.9 L33.5,70.0 L33.0,70.0 L32.5,70.0 L32.0,70.0 L31.5,69.9 L31.0,69.8 L30.5,69.7 L30.0,69.6 L29.6,69.5 L29.5,69.5 L29.0,69.3 L28.5,69.0 L28.4,69.0 L28.0,68.8 L27.6,68.5 L27.5,68.4 L27.0,68.0 L26.9,68.0 L26.5,67.6 L26.4,67.5 L26.0,67.0 L26.0,67.0 L25.7,66.5 L25.5,66.2 L25.4,66.0 L25.2,65.5 L25.0,65.0 L25.0,64.8 L24.9,64.5 L24.9,64.0 L24.8,63.5 L24.8,63.0 L24.9,62.5 L25.0,62.0 L25.0,61.9 L25.1,61.5 L25.3,61.0 L25.5,60.5 L25.5,60.4 L25.7,60.0 L26.0,59.5 L26.0,59.4 L26.3,59.0 L26.5,58.7 L26.6,58.5 L27.0,58.0 L27.0,58.0 L27.4,57.5 L27.5,57.4 L27.9,57.0 L28.0,56.9 L28.5,56.5 L28.5,56.5 L29.0,56.0 L29.0,56.0 L29.5,55.6 L29.7,55.5 L30.0,55.3 L30.4,55.0 L30.5,54.9 L31.0,54.6 L31.2,54.5 L31.5,54.3 L32.0,54.1 L32.1,54.0 L32.5,53.8 L33.0,53.6 L33.2,53.5 L33.5,53.4 L34.0,53.2 L34.4,53.0 L34.5,53.0 L35.0,52.8 L35.5,52.6 L35.9,52.5 L36.0,52.5 L36.5,52.4 L37.0,52.2 L37.5,52.1 L38.0,52.0 L38.1,52.0Z M38.5,52.5 L39.0,52.4 L39.5,52.4 L40.0,52.3 L40.5,52.3 L41.0,52.3 L41.5,52.3 L42.0,52.3 L42.5,52.3 L43.0,52.3 L43.5,52.4 L44.0,52.5 L44.1,52.5 L44.5,52.6 L45.0,52.7 L45.5,52.9 L45.7,53.0 L46.0,53.2 L46.5,53.4 L46.6,53.5 L47.0,53.8 L47.2,54.0 L47.5,54.4 L47.6,54.5 L47.9,55.0 L48.0,55.2 L48.1,55.5 L48.2,56.0 L48.3,56.5 L48.3,57.0 L48.2,57.5 L48.1,58.0 L48.0,58.4 L48.0,58.5 L47.8,59.0 L47.6,59.5 L47.5,59.7 L47.4,60.0 L47.1,60.5 L47.0,60.7 L46.8,61.0 L46.5,61.5 L46.5,61.5 L46.1,62.0 L46.0,62.2 L45.7,62.5 L45.5,62.8 L45.3,63.0 L45.0,63.4 L44.9,63.5 L44.5,63.9 L44.4,64.0 L44.0,64.4 L43.9,64.5 L43.5,64.9 L43.4,65.0 L43.0,65.3 L42.8,65.5 L42.5,65.8 L42.2,66.0 L42.0,66.2 L41.5,66.5 L41.5,66.5 L41.0,66.9 L40.8,67.0 L40.5,67.2 L40.0,67.5 L40.0,67.5 L39.5,67.7 L39.0,68.0 L39.0,68.0 L38.5,68.2 L38.0,68.4 L37.8,68.5 L37.5,68.6 L37.0,68.8 L36.5,68.9 L36.2,69.0 L36.0,69.0 L35.5,69.2 L35.0,69.2 L34.5,69.3 L34.0,69.4 L33.5,69.4 L33.0,69.4 L32.5,69.4 L32.0,69.3 L31.5,69.3 L31.0,69.2 L30.5,69.1 L30.2,69.0 L30.0,68.9 L29.5,68.8 L29.0,68.5 L28.9,68.5 L28.5,68.2 L28.1,68.0 L28.0,67.9 L27.5,67.5 L27.5,67.5 L27.0,67.0 L27.0,67.0 L26.6,66.5 L26.5,66.3 L26.3,66.0 L26.1,65.5 L26.0,65.3 L25.9,65.0 L25.8,64.5 L25.7,64.0 L25.6,63.5 L25.6,63.0 L25.7,62.5 L25.8,62.0 L25.9,61.5 L26.0,61.2 L26.1,61.0 L26.3,60.5 L26.5,60.0 L26.5,60.0 L26.8,59.5 L27.0,59.2 L27.1,59.0 L27.5,58.5 L27.5,58.5 L27.9,58.0 L28.0,57.9 L28.3,57.5 L28.5,57.3 L28.8,57.0 L29.0,56.8 L29.4,56.5 L29.5,56.4 L30.0,56.0 L30.0,56.0 L30.5,55.7 L30.7,55.5 L31.0,55.3 L31.5,55.0 L31.5,55.0 L32.0,54.7 L32.4,54.5 L32.5,54.5 L33.0,54.2 L33.4,54.0 L33.5,54.0 L34.0,53.8 L34.5,53.6 L34.7,53.5 L35.0,53.4 L35.5,53.2 L36.0,53.1 L36.2,53.0 L36.5,52.9 L37.0,52.8 L37.5,52.7 L38.0,52.6 L38.5,52.5 L38.5,52.5Z M39.5,53.0 L39.5,53.0 L40.0,53.0 L40.5,52.9 L41.0,52.9 L41.5,52.9 L42.0,52.9 L42.5,53.0 L42.7,53.0 L43.0,53.0 L43.5,53.1 L44.0,53.3 L44.5,53.4 L44.8,53.5 L45.0,53.6 L45.5,53.9 L45.7,54.0 L46.0,54.2 L46.3,54.5 L46.5,54.7 L46.8,55.0 L47.0,55.4 L47.0,55.5 L47.2,56.0 L47.3,56.5 L47.4,57.0 L47.3,57.5 L47.3,58.0 L47.1,58.5 L47.0,59.0 L47.0,59.0 L46.8,59.5 L46.6,60.0 L46.5,60.1 L46.3,60.5 L46.0,61.0 L46.0,61.0 L45.7,61.5 L45.5,61.7 L45.3,62.0 L45.0,62.4 L44.9,62.5 L44.5,63.0 L44.5,63.0 L44.0,63.5 L44.0,63.5 L43.6,64.0 L43.5,64.1 L43.0,64.5 L43.0,64.5 L42.5,65.0 L42.5,65.0 L42.0,65.4 L41.9,65.5 L41.5,65.8 L41.2,66.0 L41.0,66.2 L40.5,66.5 L40.5,66.5 L40.0,66.8 L39.7,67.0 L39.5,67.1 L39.0,67.4 L38.7,67.5 L38.5,67.6 L38.0,67.8 L37.5,68.0 L37.5,68.0 L37.0,68.2 L36.5,68.3 L36.0,68.4 L35.8,68.5 L35.5,68.6 L35.0,68.6 L34.5,68.7 L34.0,68.7 L33.5,68.8 L33.0,68.8 L32.5,68.7 L32.0,68.7 L31.5,68.6 L31.0,68.5 L31.0,68.5 L30.5,68.4 L30.0,68.2 L29.6,68.0 L29.5,67.9 L29.0,67.7 L28.8,67.5 L28.5,67.3 L28.1,67.0 L28.0,66.9 L27.7,66.5 L27.5,66.3 L27.3,66.0 L27.0,65.5 L27.0,65.4 L26.8,65.0 L26.7,64.5 L26.6,64.0 L26.5,63.5 L26.5,63.0 L26.6,62.5 L26.6,62.0 L26.8,61.5 L26.9,61.0 L27.0,60.8 L27.1,60.5 L27.4,60.0 L27.5,59.8 L27.7,59.5 L28.0,59.0 L28.0,59.0 L28.4,58.5 L28.5,58.4 L28.8,58.0 L29.0,57.8 L29.3,57.5 L29.5,57.3 L29.9,57.0 L30.0,56.9 L30.5,56.5 L30.5,56.5 L31.0,56.1 L31.2,56.0 L31.5,55.8 L31.9,55.5 L32.0,55.5 L32.5,55.2 L32.8,55.0 L33.0,54.9 L33.5,54.7 L33.9,54.5 L34.0,54.4 L34.5,54.2 L35.0,54.0 L35.1,54.0 L35.5,53.9 L36.0,53.7 L36.5,53.6 L36.7,53.5 L37.0,53.4 L37.5,53.3 L38.0,53.2 L38.5,53.1 L39.0,53.1 L39.5,53.0Z M37.8,54.0 L38.0,54.0 L38.5,53.9 L39.0,53.8 L39.5,53.7 L40.0,53.7 L40.5,53.7 L41.0,53.7 L41.5,53.7 L42.0,53.7 L42.5,53.8 L43.0,53.9 L43.5,54.0 L43.5,54.0 L44.0,54.2 L44.5,54.4 L44.7,54.5 L45.0,54.7 L45.4,55.0 L45.5,55.2 L45.8,55.5 L46.0,55.9 L46.1,56.0 L46.2,56.5 L46.3,57.0 L46.3,57.5 L46.3,58.0 L46.2,58.5 L46.0,59.0 L46.0,59.1 L45.9,59.5 L45.6,60.0 L45.5,60.2 L45.4,60.5 L45.1,61.0 L45.0,61.1 L44.7,61.5 L44.5,61.8 L44.4,62.0 L44.0,62.5 L44.0,62.5 L43.5,63.0 L43.5,63.0 L43.1,63.5 L43.0,63.6 L42.6,64.0 L42.5,64.1 L42.0,64.5 L42.0,64.5 L41.5,65.0 L41.5,65.0 L41.0,65.4 L40.8,65.5 L40.5,65.7 L40.1,66.0 L40.0,66.1 L39.5,66.4 L39.3,66.5 L39.0,66.6 L38.5,66.9 L38.3,67.0 L38.0,67.1 L37.5,67.3 L37.0,67.5 L37.0,67.5 L36.5,67.6 L36.0,67.8 L35.5,67.9 L35.0,68.0 L34.8,68.0 L34.5,68.0 L34.0,68.1 L33.5,68.1 L33.0,68.1 L32.5,68.0 L32.3,68.0 L32.0,67.9 L31.5,67.8 L31.0,67.7 L30.5,67.5 L30.5,67.5 L30.0,67.2 L29.6,67.0 L29.5,66.9 L29.0,66.5 L29.0,66.5 L28.5,66.0 L28.5,66.0 L28.2,65.5 L28.0,65.2 L27.9,65.0 L27.7,64.5 L27.6,64.0 L27.6,63.5 L27.5,63.0 L27.6,62.5 L27.7,62.0 L27.8,61.5 L28.0,61.0 L28.0,60.9 L28.2,60.5 L28.5,60.0 L28.5,59.9 L28.8,59.5 L29.0,59.2 L29.1,59.0 L29.5,58.5 L29.5,58.5 L30.0,58.0 L30.0,58.0 L30.5,57.5 L30.5,57.5 L31.0,57.1 L31.1,57.0 L31.5,56.7 L31.8,56.5 L32.0,56.4 L32.5,56.1 L32.6,56.0 L33.0,55.8 L33.5,55.5 L33.5,55.5 L34.0,55.3 L34.5,55.0 L34.6,55.0 L35.0,54.8 L35.5,54.6 L35.9,54.5 L36.0,54.5 L36.5,54.3 L37.0,54.2 L37.5,54.1 L37.8,54.0Z M37.5,55.0 L37.5,55.0 L38.0,54.9 L38.5,54.8 L39.0,54.7 L39.5,54.7 L40.0,54.6 L40.5,54.6 L41.0,54.6 L41.5,54.6 L42.0,54.7 L42.5,54.8 L43.0,55.0 L43.1,55.0 L43.5,55.2 L44.0,55.5 L44.0,55.5 L44.5,56.0 L44.5,56.0 L44.8,56.5 L45.0,56.9 L45.0,57.0 L45.1,57.5 L45.1,58.0 L45.0,58.5 L45.0,58.6 L44.9,59.0 L44.7,59.5 L44.5,60.0 L44.5,60.0 L44.2,60.5 L44.0,60.9 L43.9,61.0 L43.6,61.5 L43.5,61.6 L43.2,62.0 L43.0,62.3 L42.8,62.5 L42.5,62.9 L42.4,63.0 L42.0,63.4 L41.9,63.5 L41.5,63.9 L41.4,64.0 L41.0,64.3 L40.8,64.5 L40.5,64.7 L40.2,65.0 L40.0,65.1 L39.5,65.5 L39.4,65.5 L39.0,65.8 L38.6,66.0 L38.5,66.0 L38.0,66.3 L37.5,66.5 L37.5,66.5 L37.0,66.7 L36.5,66.8 L36.0,67.0 L35.9,67.0 L35.5,67.1 L35.0,67.2 L34.5,67.2 L34.0,67.2 L33.5,67.2 L33.0,67.2 L32.5,67.1 L32.0,67.0 L31.9,67.0 L31.5,66.8 L31.0,66.6 L30.8,66.5 L30.5,66.3 L30.1,66.0 L30.0,65.9 L29.6,65.5 L29.5,65.3 L29.3,65.0 L29.0,64.5 L29.0,64.3 L28.9,64.0 L28.8,63.5 L28.8,63.0 L28.8,62.5 L28.9,62.0 L29.0,61.8 L29.1,61.5 L29.3,61.0 L29.5,60.5 L29.5,60.5 L29.8,60.0 L30.0,59.7 L30.2,59.5 L30.5,59.1 L30.6,59.0 L31.0,58.5 L31.0,58.5 L31.5,58.0 L31.5,58.0 L32.0,57.6 L32.2,57.5 L32.5,57.3 L32.9,57.0 L33.0,56.9 L33.5,56.6 L33.7,56.5 L34.0,56.3 L34.5,56.1 L34.6,56.0 L35.0,55.8 L35.5,55.6 L35.8,55.5 L36.0,55.4 L36.5,55.3 L37.0,55.1 L37.5,55.0Z M39.2,56.0 L39.5,56.0 L40.0,55.9 L40.5,56.0 L41.0,56.0 L41.0,56.0 L41.5,56.1 L42.0,56.3 L42.4,56.5 L42.5,56.6 L43.0,57.0 L43.0,57.0 L43.2,57.5 L43.4,58.0 L43.4,58.5 L43.3,59.0 L43.1,59.5 L43.0,59.8 L42.9,60.0 L42.7,60.5 L42.5,60.8 L42.4,61.0 L42.0,61.5 L42.0,61.5 L41.7,62.0 L41.5,62.2 L41.2,62.5 L41.0,62.8 L40.8,63.0 L40.5,63.3 L40.3,63.5 L40.0,63.7 L39.7,64.0 L39.5,64.2 L39.0,64.5 L39.0,64.5 L38.5,64.8 L38.2,65.0 L38.0,65.1 L37.5,65.4 L37.2,65.5 L37.0,65.6 L36.5,65.8 L36.0,65.9 L35.6,66.0 L35.5,66.0 L35.0,66.1 L34.5,66.1 L34.0,66.1 L33.5,66.1 L33.1,66.0 L33.0,66.0 L32.5,65.8 L32.0,65.6 L31.9,65.5 L31.5,65.2 L31.3,65.0 L31.0,64.6 L30.9,64.5 L30.7,64.0 L30.6,63.5 L30.5,63.0 L30.6,62.5 L30.7,62.0 L30.9,61.5 L31.0,61.2 L31.1,61.0 L31.4,60.5 L31.5,60.3 L31.7,60.0 L32.0,59.7 L32.2,59.5 L32.5,59.2 L32.7,59.0 L33.0,58.7 L33.2,58.5 L33.5,58.3 L33.9,58.0 L34.0,57.9 L34.5,57.6 L34.7,57.5 L35.0,57.3 L35.5,57.1 L35.7,57.0 L36.0,56.9 L36.5,56.7 L36.9,56.5 L37.0,56.5 L37.5,56.3 L38.0,56.2 L38.5,56.1 L39.0,56.0 L39.2,56.0Z M37.8,59.0 L38.0,59.0 L38.5,58.9 L39.0,59.0 L39.0,59.0 L39.5,59.4 L39.6,59.5 L39.7,60.0 L39.6,60.5 L39.5,60.7 L39.4,61.0 L39.1,61.5 L39.0,61.6 L38.7,62.0 L38.5,62.3 L38.3,62.5 L38.0,62.7 L37.7,63.0 L37.5,63.1 L37.0,63.4 L36.8,63.5 L36.5,63.6 L36.0,63.8 L35.5,63.9 L35.0,63.8 L34.5,63.7 L34.2,63.5 L34.0,63.2 L33.9,63.0 L33.8,62.5 L33.9,62.0 L34.0,61.8 L34.2,61.5 L34.5,61.0 L34.5,61.0 L35.0,60.5 L35.0,60.5 L35.5,60.0 L35.6,60.0 L36.0,59.7 L36.4,59.5 L36.5,59.4 L37.0,59.2 L37.5,59.1 L37.8,59.0Z" fill="none" stroke="#222" stroke-width="0.4"/></g>
<rect x="0" y="0" width="82.0" height="82.0" fill="none" stroke="#222" stroke-width="0.9"/>
<path d="M-1.2,20.5h2 M20.5,81.5v1.9 M-1.2,41.0h2 M41.0,81.5v1.9 M-1.2,61.5h2 M61.5,81.5v1.9" stroke="#444" stroke-width="0.6" fill="none"/>
<text x="4.0" y="11.2" font-size="11.2" fill="#111">10 µg/mL</text>
</g>
<g transform="translate(327.9,16.2)">
<g clip-path="url(#cb)"><path d="M82.0,47.1 L81.8,47.5 L81.5,47.9 L81.5,48.0 L81.1,48.5 L81.0,48.7 L80.8,49.0 L80.5,49.3 L80.4,49.5 L80.0,49.9 L79.9,50.0 L79.5,50.4 L79.4,50.5 L79.0,50.9 L78.9,51.0 L78.5,51.3 L78.3,51.5 L78.0,51.8 L77.7,52.0 L77.5,52.1 L77.0,52.5 L77.0,52.5 L76.5,52.8 L76.2,53.0 L76.0,53.1 L75.5,53.4 L75.3,53.5 L75.0,53.7 L74.5,53.9 L74.3,54.0 L74.0,54.1 L73.5,54.4 L73.2,54.5 L73.0,54.6 L72.5,54.8 L72.0,54.9 L71.8,55.0 L71.5,55.1 L71.0,55.3 L70.5,55.4 L70.1,55.5 L70.0,55.5 L69.5,55.7 L69.0,55.8 L68.5,55.9 L68.0,56.0 L67.8,56.0 L67.5,56.1 L67.0,56.1 L66.5,56.2 L66.0,56.3 L65.5,56.3 L65.0,56.4 L64.5,56.4 L64.0,56.5 L63.5,56.5 L63.1,56.5 L63.0,56.5 L62.5,56.5 L62.0,56.5 L61.5,56.6 L61.0,56.6 L60.5,56.6 L60.0,56.6 L59.5,56.6 L59.0,56.5 L58.5,56.5 L58.0,56.5 L57.6,56.5 L57.5,56.5 L57.0,56.5 L56.5,56.5 L56.0,56.4 L55.5,56.4 L55.0,56.4 L54.5,56.3 L54.0,56.3 L53.5,56.3 L53.0,56.2 L52.5,56.2 L52.0,56.1 L51.5,56.1 L51.0,56.0 L50.5,56.0 L50.5,56.0 L50.0,55.9 L49.5,55.9 L49.0,55.8 L48.5,55.8 L48.0,55.7 L47.5,55.6 L47.0,55.6 L46.5,55.5 L46.5,55.5 L46.0,55.4 L45.5,55.3 L45.0,55.3 L44.5,55.2 L44.0,55.1 L43.6,55.0 L43.5,55.0 L43.0,54.9 L42.5,54.8 L42.0,54.7 L41.5,54.6 L41.3,54.5 L41.0,54.4 L40.5,54.3 L40.0,54.2 L39.5,54.1 L39.1,54.0 L39.0,54.0 L38.5,53.9 L38.0,53.8 L37.5,53.6 L37.0,53.5 L36.8,53.5 L36.5,53.4 L36.0,53.3 L35.5,53.3 L35.0,53.2 L34.5,53.1 L34.0,53.0 L34.0,53.0 L33.5,52.9 L33.0,52.9 L32.5,52.8 L32.0,52.7 L31.5,52.6 L31.0,52.5 L31.0,52.5 L30.5,52.4 L30.0,52.3 L29.5,52.2 L29.0,52.0 L29.0,52.0 L28.5,51.8 L28.0,51.7 L27.6,51.5 L27.5,51.4 L27.0,51.2 L26.6,51.0 L26.5,51.0 L26.0,50.7 L25.7,50.5 L25.5,50.4 L25.0,50.0 L25.0,50.0 L24.5,49.6 L24.3,49.5 L24.0,49.2 L23.8,49.0 L23.5,48.8 L23.2,48.5 L23.0,48.2 L22.8,48.0 L22.5,47.7 L22.3,47.5 L22.0,47.1 L22.0,47.0 L21.6,46.5 L21.5,46.4 L21.2,46.0 L21.0,45.6 L20.9,45.5 L20.6,45.0 L20.5,44.7 L20.4,44.5 L20.1,44.0 L20.0,43.7 L19.9,43.5 L19.7,43.0 L19.5,42.5 L19.5,42.5 L19.3,42.0 L19.1,41.5 L19.0,41.0 L19.0,41.0 L18.9,40.5 L18.7,40.0 L18.6,39.5 L18.5,39.0 L18.5,38.7 L18.5,38.5 L18.4,38.0 L18.3,37.5 L18.3,37.0 L18.3,36.5 L18.3,36.0 L18.3,35.5 L18.3,35.0 L18.3,34.5 L18.3,34.0 L18.4,33.5 L18.5,33.0 L18.5,32.8 L18.5,32.5 L18.6,32.0 L18.7,31.5 L18.8,31.0 L19.0,30.5 L19.0,30.4 L19.1,30.0 L19.3,29.5 L19.4,29.0 L19.5,28.8 L19.6,28.5 L19.8,28.0 L20.0,27.6 L20.0,27.5 L20.3,27.0 L20.5,26.5 L20.5,26.5 L20.8,26.0 L21.0,25.6 L21.1,25.5 L21.4,25.0 L21.5,24.8 L21.7,24.5 L22.0,24.1 L22.1,24.0 L22.5,23.5 L22.5,23.5 L22.9,23.0 L23.0,22.9 L23.4,22.5 L23.5,22.4 L24.0,22.0 L24.0,22.0 L24.5,21.6 L24.6,21.5 L25.0,21.2 L25.3,21.0 L25.5,20.9 L26.0,20.6 L26.2,20.5 L26.5,20.3 L27.0,20.1 L27.4,20.0 L27.5,20.0 L28.0,19.8 L28.5,19.7 L29.0,19.6 L29.5,19.6 L30.0,19.5 L30.5,19.5 L31.0,19.5 L31.5,19.6 L32.0,19.7 L32.5,19.8 L33.0,19.9 L33.4,20.0 L33.5,20.0 L34.0,20.2 L34.5,20.3 L35.0,20.5 L35.0,20.5 L35.5,20.7 L36.0,20.8 L36.5,21.0 L36.5,21.0 L37.0,21.1 L37.5,21.2 L38.0,21.3 L38.5,21.4 L39.0,21.4 L39.5,21.4 L40.0,21.5 L40.5,21.5 L41.0,21.5 L41.5,21.5 L42.0,21.4 L42.5,21.4 L43.0,21.4 L43.5,21.4 L44.0,21.4 L44.5,21.4 L45.0,21.4 L45.5,21.4 L46.0,21.4 L46.5,21.4 L47.0,21.4 L47.5,21.4 L48.0,21.4 L48.5,21.5 L49.0,21.5 L49.1,21.5 L49.5,21.5 L50.0,21.5 L50.5,21.6 L51.0,21.6 L51.5,21.6 L52.0,21.6 L52.5,21.7 L53.0,21.7 L53.5,21.7 L54.0,21.8 L54.5,21.8 L55.0,21.8 L55.5,21.9 L56.0,21.9 L56.5,22.0 L57.0,22.0 L57.2,22.0 L57.5,22.0 L58.0,22.1 L58.5,22.1 L59.0,22.1 L59.5,22.2 L60.0,22.2 L60.5,22.2 L61.0,22.3 L61.5,22.3 L62.0,22.4 L62.5,22.5 L62.7,22.5 L63.0,22.5 L63.5,22.6 L64.0,22.7 L64.5,22.8 L65.0,22.9 L65.5,23.0 L65.5,23.0 L66.0,23.1 L66.5,23.2 L67.0,23.3 L67.5,23.5 L67.5,23.5 L68.0,23.6 L68.5,23.8 L69.0,24.0 L69.1,24.0 L69.5,24.1 L70.0,24.3 L70.5,24.5 L70.5,24.5 L71.0,24.7 L71.5,24.9 L71.6,25.0 L72.0,25.2 L72.5,25.4 L72.6,25.5 L73.0,25.7 L73.5,26.0 L73.6,26.0 L74.0,26.2 L74.4,26.5 L74.5,26.5 L75.0,26.9 L75.2,27.0 L75.5,27.2 L75.9,27.5 L76.0,27.6 L76.5,27.9 L76.6,28.0 L77.0,28.3 L77.2,28.5 L77.5,28.8 L77.8,29.0 L78.0,29.2 L78.3,29.5 L78.5,29.7 L78.8,30.0 L79.0,30.2 L79.2,30.5 L79.5,30.8 L79.7,31.0 L80.0,31.4 L80.1,31.5 L80.5,32.0 L80.5,32.1 L80.8,32.5 L81.0,32.8 L81.1,33.0 L81.4,33.5 L81.5,33.6 L81.7,34.0 L82.0,34.5 L82.0,34.5 M39.5,23.0 L40.0,23.0 L40.5,22.9 L41.0,22.9 L41.5,22.8 L42.0,22.8 L42.5,22.8 L43.0,22.8 L43.5,22.8 L44.0,22.7 L44.5,22.7 L45.0,22.7 L45.5,22.7 L46.0,22.7 L46.5,22.7 L47.0,22.8 L47.5,22.8 L48.0,22.8 L48.5,22.8 L49.0,22.9 L49.5,22.9 L50.0,23.0 L50.3,23.0 L50.5,23.0 L51.0,23.1 L51.5,23.1 L52.0,23.2 L52.5,23.2 L53.0,23.3 L53.5,23.4 L54.0,23.5 L54.2,23.5 L54.5,23.5 L55.0,23.6 L55.5,23.7 L56.0,23.8 L56.5,23.9 L56.9,24.0 L57.0,24.0 L57.5,24.1 L58.0,24.2 L58.5,24.3 L59.0,24.5 L59.1,24.5 L59.5,24.6 L60.0,24.7 L60.5,24.8 L61.0,25.0 L61.1,25.0 L61.5,25.1 L62.0,25.2 L62.5,25.4 L62.8,25.5 L63.0,25.5 L63.5,25.7 L64.0,25.8 L64.4,26.0 L64.5,26.0 L65.0,26.2 L65.5,26.3 L65.9,26.5 L66.0,26.5 L66.5,26.7 L67.0,26.9 L67.3,27.0 L67.5,27.1 L68.0,27.3 L68.5,27.5 L68.5,27.5 L69.0,27.7 L69.5,27.9 L69.6,28.0 L70.0,28.2 L70.5,28.4 L70.6,28.5 L71.0,28.7 L71.5,29.0 L71.5,29.0 L72.0,29.3 L72.3,29.5 L72.5,29.6 L73.0,30.0 L73.1,30.0 L73.5,30.3 L73.7,30.5 L74.0,30.7 L74.3,31.0 L74.5,31.2 L74.9,31.5 L75.0,31.6 L75.4,32.0 L75.5,32.1 L75.8,32.5 L76.0,32.7 L76.2,33.0 L76.5,33.3 L76.6,33.5 L77.0,34.0 L77.0,34.0 L77.3,34.5 L77.5,34.8 L77.6,35.0 L77.9,35.5 L78.0,35.8 L78.1,36.0 L78.3,36.5 L78.5,37.0 L78.5,37.1 L78.6,37.5 L78.8,38.0 L78.9,38.5 L78.9,39.0 L79.0,39.5 L79.0,39.5 L79.0,40.0 L79.0,40.5 L79.0,41.0 L79.0,41.4 L79.0,41.5 L78.9,42.0 L78.8,42.5 L78.7,43.0 L78.6,43.5 L78.5,43.7 L78.4,44.0 L78.2,44.5 L78.0,44.9 L77.9,45.0 L77.7,45.5 L77.5,45.8 L77.4,46.0 L77.0,46.5 L77.0,46.5 L76.6,47.0 L76.5,47.1 L76.2,47.5 L76.0,47.7 L75.7,48.0 L75.5,48.2 L75.1,48.5 L75.0,48.6 L74.5,49.0 L74.5,49.0 L74.0,49.4 L73.8,49.5 L73.5,49.7 L73.0,50.0 L72.9,50.0 L72.5,50.2 L72.0,50.5 L72.0,50.5 L71.5,50.7 L71.0,50.9 L70.8,51.0 L70.5,51.1 L70.0,51.3 L69.5,51.4 L69.2,51.5 L69.0,51.6 L68.5,51.7 L68.0,51.8 L67.5,51.9 L67.0,52.0 L67.0,52.0 L66.5,52.1 L66.0,52.1 L65.5,52.2 L65.0,52.2 L64.5,52.3 L64.0,52.3 L63.5,52.3 L63.0,52.3 L62.5,52.3 L62.0,52.3 L61.5,52.3 L61.0,52.3 L60.5,52.3 L60.0,52.3 L59.5,52.2 L59.0,52.2 L58.5,52.2 L58.0,52.1 L57.5,52.1 L57.0,52.1 L56.5,52.0 L56.0,52.0 L55.9,52.0 L55.5,52.0 L55.0,51.9 L54.5,51.9 L54.0,51.9 L53.5,51.9 L53.0,51.8 L52.5,51.8 L52.0,51.8 L51.5,51.8 L51.0,51.8 L50.5,51.7 L50.0,51.7 L49.5,51.7 L49.0,51.7 L48.5,51.6 L48.0,51.6 L47.5,51.6 L47.0,51.5 L46.9,51.5 L46.5,51.5 L46.0,51.4 L45.5,51.4 L45.0,51.3 L44.5,51.2 L44.0,51.2 L43.5,51.1 L43.0,51.0 L43.0,51.0 L42.5,50.9 L42.0,50.8 L41.5,50.7 L41.0,50.6 L40.5,50.5 L40.5,50.5 L40.0,50.4 L39.5,50.3 L39.0,50.2 L38.5,50.0 L38.3,50.0 L38.0,49.9 L37.5,49.8 L37.0,49.7 L36.5,49.6 L36.0,49.5 L36.0,49.5 L35.5,49.4 L35.0,49.3 L34.5,49.2 L34.0,49.1 L33.5,49.1 L33.2,49.0 L33.0,49.0 L32.5,48.9 L32.0,48.8 L31.5,48.7 L31.0,48.6 L30.6,48.5 L30.5,48.5 L30.0,48.3 L29.5,48.2 L29.0,48.0 L29.0,48.0 L28.5,47.8 L28.0,47.6 L27.8,47.5 L27.5,47.3 L27.0,47.0 L27.0,47.0 L26.5,46.7 L26.3,46.5 L26.0,46.3 L25.7,46.0 L25.5,45.9 L25.1,45.5 L25.0,45.4 L24.7,45.0 L24.5,44.8 L24.3,44.5 L24.0,44.2 L23.9,44.0 L23.6,43.5 L23.5,43.4 L23.3,43.0 L23.0,42.5 L23.0,42.5 L22.8,42.0 L22.5,41.5 L22.5,41.4 L22.3,41.0 L22.2,40.5 L22.0,40.0 L22.0,39.9 L21.9,39.5 L21.8,39.0 L21.7,38.5 L21.6,38.0 L21.5,37.5 L21.5,37.3 L21.5,37.0 L21.4,36.5 L21.4,36.0 L21.4,35.5 L21.4,35.0 L21.5,34.5 L21.5,34.0 L21.5,34.0 L21.6,33.5 L21.6,33.0 L21.7,32.5 L21.8,32.0 L21.9,31.5 L22.0,31.3 L22.1,31.0 L22.2,30.5 L22.4,30.0 L22.5,29.7 L22.6,29.5 L22.8,29.0 L23.0,28.6 L23.0,28.5 L23.3,28.0 L23.5,27.7 L23.6,27.5 L23.9,27.0 L24.0,26.9 L24.3,26.5 L24.5,26.3 L24.7,26.0 L25.0,25.7 L25.2,25.5 L25.5,25.3 L25.8,25.0 L26.0,24.9 L26.5,24.5 L26.5,24.5 L27.0,24.2 L27.4,24.0 L27.5,24.0 L28.0,23.8 L28.5,23.6 L28.9,23.5 L29.0,23.5 L29.5,23.4 L30.0,23.3 L30.5,23.3 L31.0,23.3 L31.5,23.3 L32.0,23.3 L32.5,23.3 L33.0,23.3 L33.5,23.3 L34.0,23.3 L34.5,23.3 L35.0,23.3 L35.5,23.3 L36.0,23.2 L36.5,23.2 L37.0,23.2 L37.5,23.1 L38.0,23.1 L38.5,23.1 L39.0,23.0 L39.5,23.0 L39.5,23.0Z M41.9,23.5 L42.0,23.5 L42.5,23.5 L43.0,23.4 L43.5,23.4 L44.0,23.4 L44.5,23.4 L45.0,23.4 L45.5,23.4 L46.0,23.4 L46.5,23.4 L47.0,23.4 L47.5,23.4 L48.0,23.5 L48.5,23.5 L48.6,23.5 L49.0,23.5 L49.5,23.6 L50.0,23.6 L50.5,23.7 L51.0,23.7 L51.5,23.8 L52.0,23.8 L52.5,23.9 L52.9,24.0 L53.0,24.0 L53.5,24.1 L54.0,24.2 L54.5,24.3 L55.0,24.4 L55.5,24.5 L55.6,24.5 L56.0,24.6 L56.5,24.7 L57.0,24.8 L57.5,24.9 L57.7,25.0 L58.0,25.1 L58.5,25.2 L59.0,25.4 L59.5,25.5 L59.5,25.5 L60.0,25.7 L60.5,25.8 L61.0,26.0 L61.0,26.0 L61.5,26.2 L62.0,26.4 L62.3,26.5 L62.5,26.6 L63.0,26.8 L63.5,27.0 L63.6,27.0 L64.0,27.2 L64.5,27.4 L64.7,27.5 L65.0,27.7 L65.5,27.9 L65.7,28.0 L66.0,28.2 L66.5,28.4 L66.6,28.5 L67.0,28.7 L67.5,29.0 L67.5,29.0 L68.0,29.3 L68.3,29.5 L68.5,29.6 L69.0,29.9 L69.1,30.0 L69.5,30.3 L69.9,30.5 L70.0,30.6 L70.5,31.0 L70.5,31.0 L71.0,31.3 L71.2,31.5 L71.5,31.7 L71.8,32.0 L72.0,32.2 L72.4,32.5 L72.5,32.6 L72.9,33.0 L73.0,33.1 L73.4,33.5 L73.5,33.7 L73.8,34.0 L74.0,34.3 L74.2,34.5 L74.5,34.9 L74.5,35.0 L74.8,35.5 L75.0,35.8 L75.1,36.0 L75.4,36.5 L75.5,36.8 L75.6,37.0 L75.7,37.5 L75.9,38.0 L76.0,38.5 L76.0,38.5 L76.1,39.0 L76.1,39.5 L76.2,40.0 L76.2,40.5 L76.1,41.0 L76.1,41.5 L76.0,41.8 L76.0,42.0 L75.8,42.5 L75.7,43.0 L75.5,43.4 L75.4,43.5 L75.2,44.0 L75.0,44.4 L74.9,44.5 L74.6,45.0 L74.5,45.1 L74.2,45.5 L74.0,45.7 L73.7,46.0 L73.5,46.2 L73.2,46.5 L73.0,46.7 L72.6,47.0 L72.5,47.1 L72.0,47.4 L71.9,47.5 L71.5,47.7 L71.0,48.0 L71.0,48.0 L70.5,48.3 L70.0,48.5 L70.0,48.5 L69.5,48.7 L69.0,48.9 L68.6,49.0 L68.5,49.0 L68.0,49.2 L67.5,49.3 L67.0,49.4 L66.5,49.5 L66.5,49.5 L66.0,49.6 L65.5,49.6 L65.0,49.7 L64.5,49.7 L64.0,49.8 L63.5,49.8 L63.0,49.8 L62.5,49.8 L62.0,49.8 L61.5,49.7 L61.0,49.7 L60.5,49.7 L60.0,49.7 L59.5,49.6 L59.0,49.6 L58.5,49.6 L58.0,49.5 L57.6,49.5 L57.5,49.5 L57.0,49.5 L56.5,49.4 L56.0,49.4 L55.5,49.4 L55.0,49.4 L54.5,49.4 L54.0,49.4 L53.5,49.4 L53.0,49.4 L52.5,49.4 L52.0,49.4 L51.5,49.4 L51.0,49.4 L50.5,49.4 L50.0,49.4 L49.5,49.4 L49.0,49.4 L48.5,49.4 L48.0,49.4 L47.5,49.4 L47.0,49.4 L46.5,49.4 L46.0,49.3 L45.5,49.3 L45.0,49.3 L44.5,49.2 L44.0,49.1 L43.5,49.1 L43.1,49.0 L43.0,49.0 L42.5,48.9 L42.0,48.8 L41.5,48.7 L41.0,48.6 L40.5,48.5 L40.5,48.5 L40.0,48.4 L39.5,48.3 L39.0,48.1 L38.5,48.0 L38.5,48.0 L38.0,47.9 L37.5,47.8 L37.0,47.6 L36.5,47.5 L36.5,47.5 L36.0,47.4 L35.5,47.3 L35.0,47.2 L34.5,47.0 L34.3,47.0 L34.0,46.9 L33.5,46.8 L33.0,46.7 L32.5,46.6 L32.0,46.5 L31.9,46.5 L31.5,46.4 L31.0,46.3 L30.5,46.1 L30.1,46.0 L30.0,46.0 L29.5,45.8 L29.0,45.6 L28.9,45.5 L28.5,45.3 L28.0,45.0 L28.0,45.0 L27.5,44.7 L27.3,44.5 L27.0,44.3 L26.7,44.0 L26.5,43.8 L26.2,43.5 L26.0,43.3 L25.7,43.0 L25.5,42.7 L25.4,42.5 L25.0,42.0 L25.0,41.9 L24.7,41.5 L24.5,41.0 L24.5,41.0 L24.3,40.5 L24.1,40.0 L24.0,39.8 L23.9,39.5 L23.8,39.0 L23.6,38.5 L23.5,38.0 L23.5,37.8 L23.4,37.5 L23.4,37.0 L23.3,36.5 L23.3,36.0 L23.3,35.5 L23.3,35.0 L23.4,34.5 L23.4,34.0 L23.5,33.5 L23.5,33.5 L23.6,33.0 L23.7,32.5 L23.8,32.0 L23.9,31.5 L24.0,31.3 L24.1,31.0 L24.2,30.5 L24.4,30.0 L24.5,29.9 L24.7,29.5 L24.9,29.0 L25.0,28.9 L25.2,28.5 L25.5,28.1 L25.6,28.0 L26.0,27.5 L26.0,27.5 L26.5,27.0 L26.5,27.0 L27.0,26.6 L27.1,26.5 L27.5,26.2 L27.9,26.0 L28.0,25.9 L28.5,25.7 L28.9,25.5 L29.0,25.5 L29.5,25.3 L30.0,25.1 L30.5,25.0 L30.5,25.0 L31.0,24.9 L31.5,24.8 L32.0,24.7 L32.5,24.6 L33.0,24.5 L33.3,24.5 L33.5,24.5 L34.0,24.4 L34.5,24.3 L35.0,24.3 L35.5,24.2 L36.0,24.1 L36.5,24.1 L37.0,24.0 L37.1,24.0 L37.5,23.9 L38.0,23.9 L38.5,23.8 L39.0,23.7 L39.5,23.7 L40.0,23.6 L40.5,23.6 L41.0,23.6 L41.5,23.5 L41.9,23.5Z M41.8,24.0 L42.0,24.0 L42.5,23.9 L43.0,23.9 L43.5,23.9 L44.0,23.9 L44.5,23.9 L45.0,23.8 L45.5,23.8 L46.0,23.8 L46.5,23.9 L47.0,23.9 L47.5,23.9 L48.0,23.9 L48.5,24.0 L49.0,24.0 L49.0,24.0 L49.5,24.0 L50.0,24.1 L50.5,24.1 L51.0,24.2 L51.5,24.3 L52.0,24.3 L52.5,24.4 L52.9,24.5 L53.0,24.5 L53.5,24.6 L54.0,24.7 L54.5,24.8 L55.0,24.9 L55.4,25.0 L55.5,25.0 L56.0,25.1 L56.5,25.3 L57.0,25.4 L57.4,25.5 L57.5,25.5 L58.0,25.7 L58.5,25.8 L59.0,26.0 L59.0,26.0 L59.5,26.2 L60.0,26.3 L60.4,26.5 L60.5,26.5 L61.0,26.7 L61.5,26.9 L61.6,27.0 L62.0,27.2 L62.5,27.4 L62.7,27.5 L63.0,27.6 L63.5,27.9 L63.7,28.0 L64.0,28.1 L64.5,28.4 L64.6,28.5 L65.0,28.7 L65.4,29.0 L65.5,29.1 L66.0,29.4 L66.2,29.5 L66.5,29.8 L66.8,30.0 L67.0,30.1 L67.5,30.5 L67.5,30.5 L68.0,31.0 L68.0,31.0 L68.5,31.4 L68.6,31.5 L69.0,31.9 L69.1,32.0 L69.5,32.4 L69.6,32.5 L70.0,32.9 L70.1,33.0 L70.5,33.4 L70.6,33.5 L71.0,33.9 L71.1,34.0 L71.5,34.5 L71.5,34.5 L71.9,35.0 L72.0,35.1 L72.3,35.5 L72.5,35.8 L72.6,36.0 L72.9,36.5 L73.0,36.7 L73.1,37.0 L73.3,37.5 L73.5,38.0 L73.5,38.0 L73.6,38.5 L73.7,39.0 L73.8,39.5 L73.8,40.0 L73.7,40.5 L73.7,41.0 L73.6,41.5 L73.5,41.8 L73.4,42.0 L73.2,42.5 L73.0,43.0 L73.0,43.0 L72.7,43.5 L72.5,43.8 L72.4,44.0 L72.0,44.4 L71.9,44.5 L71.5,44.9 L71.4,45.0 L71.0,45.4 L70.8,45.5 L70.5,45.7 L70.1,46.0 L70.0,46.1 L69.5,46.3 L69.2,46.5 L69.0,46.6 L68.5,46.8 L68.0,47.0 L67.9,47.0 L67.5,47.1 L67.0,47.3 L66.5,47.4 L66.0,47.5 L65.8,47.5 L65.5,47.5 L65.0,47.6 L64.5,47.7 L64.0,47.7 L63.5,47.7 L63.0,47.7 L62.5,47.7 L62.0,47.7 L61.5,47.7 L61.0,47.7 L60.5,47.6 L60.0,47.6 L59.5,47.5 L59.0,47.5 L58.9,47.5 L58.5,47.5 L58.0,47.4 L57.5,47.4 L57.0,47.4 L56.5,47.4 L56.0,47.4 L55.5,47.4 L55.0,47.4 L54.5,47.4 L54.0,47.4 L53.5,47.4 L53.0,47.5 L52.6,47.5 L52.5,47.5 L52.0,47.6 L51.5,47.6 L51.0,47.6 L50.5,47.7 L50.0,47.7 L49.5,47.8 L49.0,47.8 L48.5,47.8 L48.0,47.8 L47.5,47.8 L47.0,47.8 L46.5,47.8 L46.0,47.8 L45.5,47.8 L45.0,47.8 L44.5,47.7 L44.0,47.7 L43.5,47.6 L43.0,47.5 L42.8,47.5 L42.5,47.5 L42.0,47.4 L41.5,47.3 L41.0,47.1 L40.5,47.0 L40.4,47.0 L40.0,46.9 L39.5,46.8 L39.0,46.6 L38.6,46.5 L38.5,46.5 L38.0,46.3 L37.5,46.2 L37.0,46.0 L36.8,46.0 L36.5,45.9 L36.0,45.8 L35.5,45.6 L35.0,45.5 L35.0,45.5 L34.5,45.4 L34.0,45.2 L33.5,45.1 L33.1,45.0 L33.0,45.0 L32.5,44.9 L32.0,44.7 L31.5,44.6 L31.3,44.5 L31.0,44.4 L30.5,44.2 L30.0,44.0 L29.9,44.0 L29.5,43.8 L29.0,43.5 L29.0,43.5 L28.5,43.2 L28.2,43.0 L28.0,42.8 L27.7,42.5 L27.5,42.4 L27.2,42.0 L27.0,41.8 L26.7,41.5 L26.5,41.2 L26.4,41.0 L26.1,40.5 L26.0,40.3 L25.8,40.0 L25.6,39.5 L25.5,39.2 L25.4,39.0 L25.3,38.5 L25.2,38.0 L25.1,37.5 L25.0,37.1 L25.0,37.0 L24.9,36.5 L24.9,36.0 L24.9,35.5 L24.9,35.0 L25.0,34.5 L25.0,34.2 L25.0,34.0 L25.1,33.5 L25.2,33.0 L25.3,32.5 L25.4,32.0 L25.5,31.6 L25.5,31.5 L25.7,31.0 L25.9,30.5 L26.0,30.2 L26.1,30.0 L26.3,29.5 L26.5,29.2 L26.6,29.0 L27.0,28.5 L27.0,28.5 L27.5,28.0 L27.5,28.0 L28.0,27.5 L28.0,27.5 L28.5,27.1 L28.7,27.0 L29.0,26.8 L29.5,26.5 L29.6,26.5 L30.0,26.3 L30.5,26.1 L30.8,26.0 L31.0,25.9 L31.5,25.8 L32.0,25.6 L32.5,25.5 L32.5,25.5 L33.0,25.4 L33.5,25.3 L34.0,25.1 L34.5,25.1 L34.8,25.0 L35.0,25.0 L35.5,24.9 L36.0,24.8 L36.5,24.7 L37.0,24.6 L37.5,24.5 L37.6,24.5 L38.0,24.4 L38.5,24.4 L39.0,24.3 L39.5,24.2 L40.0,24.2 L40.5,24.1 L41.0,24.1 L41.5,24.0 L41.8,24.0Z M41.0,24.5 L41.5,24.4 L42.0,24.4 L42.5,24.4 L43.0,24.3 L43.5,24.3 L44.0,24.3 L44.5,24.3 L45.0,24.3 L45.5,24.3 L46.0,24.3 L46.5,24.3 L47.0,24.3 L47.5,24.3 L48.0,24.3 L48.5,24.4 L49.0,24.4 L49.5,24.4 L50.0,24.5 L50.0,24.5 L50.5,24.6 L51.0,24.6 L51.5,24.7 L52.0,24.8 L52.5,24.8 L53.0,24.9 L53.3,25.0 L53.5,25.0 L54.0,25.1 L54.5,25.2 L55.0,25.3 L55.5,25.5 L55.6,25.5 L56.0,25.6 L56.5,25.7 L57.0,25.9 L57.4,26.0 L57.5,26.0 L58.0,26.2 L58.5,26.3 L58.9,26.5 L59.0,26.5 L59.5,26.7 L60.0,26.9 L60.2,27.0 L60.5,27.1 L61.0,27.3 L61.3,27.5 L61.5,27.6 L62.0,27.8 L62.3,28.0 L62.5,28.1 L63.0,28.4 L63.2,28.5 L63.5,28.7 L64.0,29.0 L64.0,29.0 L64.5,29.3 L64.7,29.5 L65.0,29.7 L65.4,30.0 L65.5,30.1 L65.9,30.5 L66.0,30.6 L66.4,31.0 L66.5,31.1 L66.9,31.5 L67.0,31.6 L67.3,32.0 L67.5,32.2 L67.7,32.5 L68.0,32.9 L68.1,33.0 L68.4,33.5 L68.5,33.6 L68.8,34.0 L69.0,34.3 L69.1,34.5 L69.5,35.0 L69.5,35.0 L69.8,35.5 L70.0,35.8 L70.2,36.0 L70.5,36.5 L70.5,36.5 L70.8,37.0 L71.0,37.5 L71.0,37.5 L71.2,38.0 L71.3,38.5 L71.4,39.0 L71.5,39.5 L71.5,40.0 L71.4,40.5 L71.3,41.0 L71.2,41.5 L71.0,41.9 L70.9,42.0 L70.7,42.5 L70.5,42.7 L70.3,43.0 L70.0,43.3 L69.8,43.5 L69.5,43.8 L69.3,44.0 L69.0,44.2 L68.5,44.5 L68.5,44.5 L68.0,44.8 L67.5,45.0 L67.5,45.0 L67.0,45.2 L66.5,45.3 L66.0,45.5 L65.9,45.5 L65.5,45.6 L65.0,45.7 L64.5,45.7 L64.0,45.8 L63.5,45.8 L63.0,45.8 L62.5,45.8 L62.0,45.8 L61.5,45.8 L61.0,45.7 L60.5,45.7 L60.0,45.6 L59.5,45.6 L59.0,45.6 L58.5,45.5 L58.1,45.5 L58.0,45.5 L57.5,45.5 L57.0,45.5 L56.5,45.4 L56.0,45.5 L55.5,45.5 L55.2,45.5 L55.0,45.5 L54.5,45.6 L54.0,45.6 L53.5,45.7 L53.0,45.8 L52.5,45.8 L52.0,45.9 L51.6,46.0 L51.5,46.0 L51.0,46.1 L50.5,46.2 L50.0,46.3 L49.5,46.3 L49.0,46.4 L48.5,46.4 L48.0,46.5 L47.7,46.5 L47.5,46.5 L47.0,46.5 L46.5,46.6 L46.0,46.6 L45.5,46.5 L45.0,46.5 L44.8,46.5 L44.5,46.5 L44.0,46.4 L43.5,46.4 L43.0,46.3 L42.5,46.2 L42.0,46.1 L41.5,46.0 L41.4,46.0 L41.0,45.9 L40.5,45.8 L40.0,45.6 L39.6,45.5 L39.5,45.5 L39.0,45.3 L38.5,45.2 L38.0,45.0 L38.0,45.0 L37.5,44.8 L37.0,44.7 L36.5,44.5 L36.5,44.5 L36.0,44.3 L35.5,44.2 L35.0,44.0 L35.0,44.0 L34.5,43.8 L34.0,43.7 L33.5,43.5 L33.4,43.5 L33.0,43.4 L32.5,43.2 L32.0,43.1 L31.8,43.0 L31.5,42.9 L31.0,42.7 L30.6,42.5 L30.5,42.4 L30.0,42.2 L29.7,42.0 L29.5,41.9 L29.0,41.5 L29.0,41.5 L28.5,41.0 L28.5,41.0 L28.0,40.5 L28.0,40.5 L27.7,40.0 L27.5,39.8 L27.4,39.5 L27.1,39.0 L27.0,38.7 L26.9,38.5 L26.7,38.0 L26.6,37.5 L26.5,37.0 L26.5,36.8 L26.5,36.5 L26.4,36.0 L26.4,35.5 L26.4,35.0 L26.5,34.5 L26.5,34.2 L26.5,34.0 L26.6,33.5 L26.6,33.0 L26.7,32.5 L26.8,32.0 L26.9,31.5 L27.0,31.2 L27.1,31.0 L27.2,30.5 L27.5,30.0 L27.5,29.9 L27.7,29.5 L28.0,29.1 L28.1,29.0 L28.5,28.5 L28.5,28.5 L29.0,28.0 L29.0,28.0 L29.5,27.7 L29.7,27.5 L30.0,27.3 L30.5,27.1 L30.6,27.0 L31.0,26.8 L31.5,26.6 L31.7,26.5 L32.0,26.4 L32.5,26.2 L33.0,26.1 L33.2,26.0 L33.5,25.9 L34.0,25.8 L34.5,25.7 L35.0,25.5 L35.2,25.5 L35.5,25.4 L36.0,25.3 L36.5,25.2 L37.0,25.1 L37.5,25.0 L37.6,25.0 L38.0,24.9 L38.5,24.8 L39.0,24.8 L39.5,24.7 L40.0,24.6 L40.5,24.6 L41.0,24.5 L41.0,24.5Z M40.2,25.0 L40.5,25.0 L41.0,24.9 L41.5,24.8 L42.0,24.8 L42.5,24.7 L43.0,24.7 L43.5,24.7 L44.0,24.7 L44.5,24.6 L45.0,24.6 L45.5,24.6 L46.0,24.6 L46.5,24.6 L47.0,24.7 L47.5,24.7 L48.0,24.7 L48.5,24.7 L49.0,24.8 L49.5,24.8 L50.0,24.9 L50.5,24.9 L51.0,25.0 L51.0,25.0 L51.5,25.1 L52.0,25.1 L52.5,25.2 L53.0,25.3 L53.5,25.4 L53.9,25.5 L54.0,25.5 L54.5,25.6 L55.0,25.8 L55.5,25.9 L55.9,26.0 L56.0,26.0 L56.5,26.2 L57.0,26.3 L57.5,26.5 L57.6,26.5 L58.0,26.6 L58.5,26.8 L58.9,27.0 L59.0,27.0 L59.5,27.2 L60.0,27.4 L60.1,27.5 L60.5,27.7 L61.0,27.9 L61.2,28.0 L61.5,28.2 L62.0,28.5 L62.1,28.5 L62.5,28.8 L62.9,29.0 L63.0,29.1 L63.5,29.4 L63.6,29.5 L64.0,29.8 L64.2,30.0 L64.5,30.3 L64.7,30.5 L65.0,30.8 L65.2,31.0 L65.5,31.3 L65.6,31.5 L66.0,32.0 L66.0,32.0 L66.3,32.5 L66.5,32.9 L66.6,33.0 L66.8,33.5 L67.0,34.0 L67.0,34.0 L67.2,34.5 L67.4,35.0 L67.5,35.3 L67.6,35.5 L67.8,36.0 L68.0,36.5 L68.0,36.5 L68.2,37.0 L68.4,37.5 L68.5,37.6 L68.6,38.0 L68.8,38.5 L68.9,39.0 L68.9,39.5 L68.9,40.0 L68.8,40.5 L68.6,41.0 L68.5,41.2 L68.3,41.5 L68.0,41.9 L67.9,42.0 L67.5,42.4 L67.3,42.5 L67.0,42.7 L66.5,43.0 L66.5,43.0 L66.0,43.2 L65.5,43.4 L65.1,43.5 L65.0,43.5 L64.5,43.6 L64.0,43.7 L63.5,43.7 L63.0,43.8 L62.5,43.8 L62.0,43.7 L61.5,43.7 L61.0,43.7 L60.5,43.6 L60.0,43.5 L59.6,43.5 L59.5,43.5 L59.0,43.4 L58.5,43.4 L58.0,43.3 L57.5,43.3 L57.0,43.3 L56.5,43.3 L56.0,43.3 L55.5,43.4 L55.0,43.5 L54.8,43.5 L54.5,43.6 L54.0,43.7 L53.5,43.8 L53.0,44.0 L52.9,44.0 L52.5,44.1 L52.0,44.3 L51.5,44.4 L51.2,44.5 L51.0,44.6 L50.5,44.7 L50.0,44.8 L49.5,44.9 L49.2,45.0 L49.0,45.0 L48.5,45.1 L48.0,45.2 L47.5,45.3 L47.0,45.3 L46.5,45.3 L46.0,45.4 L45.5,45.4 L45.0,45.4 L44.5,45.3 L44.0,45.3 L43.5,45.2 L43.0,45.2 L42.5,45.1 L42.1,45.0 L42.0,45.0 L41.5,44.9 L41.0,44.7 L40.5,44.6 L40.2,44.5 L40.0,44.4 L39.5,44.3 L39.0,44.1 L38.8,44.0 L38.5,43.9 L38.0,43.7 L37.5,43.5 L37.5,43.5 L37.0,43.3 L36.5,43.1 L36.3,43.0 L36.0,42.9 L35.5,42.7 L35.1,42.5 L35.0,42.5 L34.5,42.3 L34.0,42.1 L33.8,42.0 L33.5,41.9 L33.0,41.7 L32.5,41.5 L32.5,41.5 L32.0,41.3 L31.5,41.0 L31.5,41.0 L31.0,40.7 L30.6,40.5 L30.5,40.4 L30.0,40.0 L30.0,40.0 L29.5,39.5 L29.5,39.5 L29.1,39.0 L29.0,38.8 L28.8,38.5 L28.6,38.0 L28.5,37.8 L28.4,37.5 L28.3,37.0 L28.2,36.5 L28.1,36.0 L28.1,35.5 L28.1,35.0 L28.0,34.5 L28.0,34.0 L28.0,33.5 L28.0,33.0 L28.0,32.5 L28.1,32.0 L28.2,31.5 L28.3,31.0 L28.4,30.5 L28.5,30.4 L28.7,30.0 L29.0,29.5 L29.0,29.5 L29.4,29.0 L29.5,28.9 L29.8,28.5 L30.0,28.4 L30.5,28.0 L30.5,28.0 L31.0,27.7 L31.3,27.5 L31.5,27.4 L32.0,27.1 L32.3,27.0 L32.5,26.9 L33.0,26.7 L33.5,26.5 L33.6,26.5 L34.0,26.4 L34.5,26.2 L35.0,26.1 L35.3,26.0 L35.5,25.9 L36.0,25.8 L36.5,25.7 L37.0,25.6 L37.4,25.5 L37.5,25.5 L38.0,25.4 L38.5,25.3 L39.0,25.2 L39.5,25.1 L40.0,25.0 L40.2,25.0Z M44.6,25.0 L45.0,25.0 L45.5,25.0 L46.0,25.0 L46.5,25.0 L46.8,25.0 L47.0,25.0 L47.5,25.0 L48.0,25.1 L48.5,25.1 L49.0,25.1 L49.5,25.2 L50.0,25.2 L50.5,25.3 L51.0,25.4 L51.5,25.4 L51.9,25.5 L52.0,25.5 L52.5,25.6 L53.0,25.7 L53.5,25.8 L54.0,25.9 L54.4,26.0 L54.5,26.0 L55.0,26.2 L55.5,26.3 L56.0,26.4 L56.2,26.5 L56.5,26.6 L57.0,26.7 L57.5,26.9 L57.7,27.0 L58.0,27.1 L58.5,27.3 L59.0,27.5 L59.0,27.5 L59.5,27.7 L60.0,28.0 L60.1,28.0 L60.5,28.2 L61.0,28.5 L61.0,28.5 L61.5,28.8 L61.9,29.0 L62.0,29.1 L62.5,29.4 L62.6,29.5 L63.0,29.8 L63.2,30.0 L63.5,30.3 L63.7,30.5 L64.0,30.8 L64.2,31.0 L64.5,31.4 L64.6,31.5 L64.9,32.0 L65.0,32.2 L65.2,32.5 L65.4,33.0 L65.5,33.4 L65.5,33.5 L65.6,34.0 L65.7,34.5 L65.7,35.0 L65.7,35.5 L65.6,36.0 L65.6,36.5 L65.5,36.9 L65.5,37.0 L65.4,37.5 L65.3,38.0 L65.2,38.5 L65.1,39.0 L65.0,39.3 L64.9,39.5 L64.5,40.0 L64.5,40.0 L64.0,40.4 L63.6,40.5 L63.5,40.5 L63.0,40.6 L62.5,40.7 L62.0,40.6 L61.5,40.6 L61.0,40.5 L61.0,40.5 L60.5,40.4 L60.0,40.3 L59.5,40.3 L59.0,40.2 L58.5,40.2 L58.0,40.2 L57.5,40.2 L57.0,40.2 L56.5,40.3 L56.0,40.3 L55.5,40.4 L55.1,40.5 L55.0,40.5 L54.5,40.7 L54.0,40.9 L53.7,41.0 L53.5,41.1 L53.0,41.4 L52.8,41.5 L52.5,41.7 L52.1,42.0 L52.0,42.1 L51.5,42.4 L51.3,42.5 L51.0,42.7 L50.5,42.9 L50.4,43.0 L50.0,43.2 L49.5,43.4 L49.2,43.5 L49.0,43.6 L48.5,43.7 L48.0,43.9 L47.5,44.0 L47.3,44.0 L47.0,44.1 L46.5,44.1 L46.0,44.2 L45.5,44.2 L45.0,44.2 L44.5,44.2 L44.0,44.1 L43.5,44.1 L43.0,44.0 L42.9,44.0 L42.5,43.9 L42.0,43.8 L41.5,43.7 L41.0,43.5 L40.9,43.5 L40.5,43.4 L40.0,43.2 L39.6,43.0 L39.5,43.0 L39.0,42.7 L38.5,42.5 L38.5,42.5 L38.0,42.2 L37.6,42.0 L37.5,42.0 L37.0,41.7 L36.7,41.5 L36.5,41.4 L36.0,41.1 L35.8,41.0 L35.5,40.8 L35.0,40.5 L35.0,40.5 L34.5,40.2 L34.2,40.0 L34.0,39.9 L33.5,39.6 L33.4,39.5 L33.0,39.3 L32.6,39.0 L32.5,38.9 L32.0,38.5 L32.0,38.5 L31.5,38.0 L31.5,38.0 L31.1,37.5 L31.0,37.3 L30.8,37.0 L30.5,36.5 L30.5,36.4 L30.3,36.0 L30.1,35.5 L30.0,35.3 L29.9,35.0 L29.7,34.5 L29.6,34.0 L29.5,33.8 L29.4,33.5 L29.3,33.0 L29.3,32.5 L29.3,32.0 L29.3,31.5 L29.4,31.0 L29.5,30.7 L29.6,30.5 L29.8,30.0 L30.0,29.7 L30.1,29.5 L30.5,29.1 L30.5,29.0 L31.0,28.6 L31.1,28.5 L31.5,28.2 L31.8,28.0 L32.0,27.9 L32.5,27.6 L32.7,27.5 L33.0,27.4 L33.5,27.1 L33.9,27.0 L34.0,26.9 L34.5,26.8 L35.0,26.6 L35.3,26.5 L35.5,26.4 L36.0,26.3 L36.5,26.2 L37.0,26.0 L37.2,26.0 L37.5,25.9 L38.0,25.8 L38.5,25.7 L39.0,25.6 L39.5,25.5 L39.6,25.5 L40.0,25.4 L40.5,25.4 L41.0,25.3 L41.5,25.2 L42.0,25.2 L42.5,25.1 L43.0,25.1 L43.5,25.0 L44.0,25.0 L44.5,25.0 L44.6,25.0Z M42.5,25.5 L42.5,25.5 L43.0,25.5 L43.5,25.4 L44.0,25.4 L44.5,25.4 L45.0,25.3 L45.5,25.3 L46.0,25.3 L46.5,25.3 L47.0,25.4 L47.5,25.4 L48.0,25.4 L48.5,25.4 L49.0,25.5 L49.2,25.5 L49.5,25.5 L50.0,25.6 L50.5,25.7 L51.0,25.7 L51.5,25.8 L52.0,25.9 L52.5,26.0 L52.6,26.0 L53.0,26.1 L53.5,26.2 L54.0,26.3 L54.5,26.4 L54.8,26.5 L55.0,26.5 L55.5,26.7 L56.0,26.8 L56.5,27.0 L56.5,27.0 L57.0,27.2 L57.5,27.4 L57.9,27.5 L58.0,27.5 L58.5,27.8 L59.0,28.0 L59.1,28.0 L59.5,28.2 L60.0,28.5 L60.0,28.5 L60.5,28.8 L60.9,29.0 L61.0,29.1 L61.5,29.4 L61.6,29.5 L62.0,29.8 L62.3,30.0 L62.5,30.2 L62.8,30.5 L63.0,30.7 L63.3,31.0 L63.5,31.3 L63.7,31.5 L64.0,32.0 L64.0,32.1 L64.2,32.5 L64.4,33.0 L64.5,33.5 L64.5,34.0 L64.4,34.5 L64.3,35.0 L64.1,35.5 L64.0,35.7 L63.8,36.0 L63.5,36.4 L63.4,36.5 L63.0,36.9 L62.9,37.0 L62.5,37.3 L62.1,37.5 L62.0,37.6 L61.5,37.8 L61.0,38.0 L60.9,38.0 L60.5,38.1 L60.0,38.3 L59.5,38.4 L59.0,38.5 L58.9,38.5 L58.5,38.6 L58.0,38.7 L57.5,38.8 L57.0,38.8 L56.5,38.9 L56.0,39.0 L55.9,39.0 L55.5,39.1 L55.0,39.2 L54.5,39.3 L54.0,39.4 L53.5,39.5 L53.3,39.5 L53.0,39.6 L52.5,39.7 L52.0,39.9 L51.6,40.0 L51.5,40.0 L51.0,40.3 L50.5,40.5 L50.4,40.5 L50.0,40.8 L49.7,41.0 L49.5,41.1 L49.0,41.5 L49.0,41.5 L48.5,41.8 L48.2,42.0 L48.0,42.1 L47.5,42.4 L47.1,42.5 L47.0,42.5 L46.5,42.7 L46.0,42.8 L45.5,42.8 L45.0,42.9 L44.5,42.9 L44.0,42.9 L43.5,42.8 L43.0,42.7 L42.5,42.6 L42.1,42.5 L42.0,42.5 L41.5,42.3 L41.0,42.1 L40.8,42.0 L40.5,41.9 L40.0,41.6 L39.8,41.5 L39.5,41.3 L39.1,41.0 L39.0,40.9 L38.5,40.5 L38.5,40.5 L38.0,40.0 L38.0,40.0 L37.5,39.5 L37.5,39.5 L37.0,39.0 L37.0,39.0 L36.5,38.5 L36.5,38.5 L36.0,38.1 L35.8,38.0 L35.5,37.8 L35.1,37.5 L35.0,37.4 L34.5,37.1 L34.3,37.0 L34.0,36.8 L33.6,36.5 L33.5,36.4 L33.0,36.1 L32.9,36.0 L32.5,35.7 L32.3,35.5 L32.0,35.2 L31.8,35.0 L31.5,34.7 L31.4,34.5 L31.0,34.0 L31.0,33.9 L30.8,33.5 L30.6,33.0 L30.5,32.7 L30.4,32.5 L30.4,32.0 L30.4,31.5 L30.5,31.0 L30.5,30.9 L30.6,30.5 L30.9,30.0 L31.0,29.8 L31.2,29.5 L31.5,29.2 L31.7,29.0 L32.0,28.7 L32.3,28.5 L32.5,28.4 L33.0,28.1 L33.1,28.0 L33.5,27.8 L34.0,27.5 L34.1,27.5 L34.5,27.3 L35.0,27.1 L35.4,27.0 L35.5,27.0 L36.0,26.8 L36.5,26.6 L37.0,26.5 L37.0,26.5 L37.5,26.4 L38.0,26.2 L38.5,26.1 L39.0,26.0 L39.1,26.0 L39.5,25.9 L40.0,25.8 L40.5,25.8 L41.0,25.7 L41.5,25.6 L42.0,25.5 L42.5,25.5Z M41.5,26.0 L42.0,25.9 L42.5,25.9 L43.0,25.8 L43.5,25.8 L44.0,25.8 L44.5,25.7 L45.0,25.7 L45.5,25.7 L46.0,25.7 L46.5,25.7 L47.0,25.7 L47.5,25.7 L48.0,25.8 L48.5,25.8 L49.0,25.9 L49.5,25.9 L50.0,26.0 L50.3,26.0 L50.5,26.0 L51.0,26.1 L51.5,26.2 L52.0,26.3 L52.5,26.4 L53.0,26.5 L53.2,26.5 L53.5,26.6 L54.0,26.7 L54.5,26.8 L55.0,27.0 L55.2,27.0 L55.5,27.1 L56.0,27.3 L56.5,27.4 L56.7,27.5 L57.0,27.6 L57.5,27.8 L58.0,28.0 L58.0,28.0 L58.5,28.2 L59.0,28.5 L59.0,28.5 L59.5,28.7 L59.9,29.0 L60.0,29.0 L60.5,29.4 L60.7,29.5 L61.0,29.7 L61.4,30.0 L61.5,30.1 L61.9,30.5 L62.0,30.6 L62.4,31.0 L62.5,31.1 L62.8,31.5 L63.0,31.9 L63.1,32.0 L63.3,32.5 L63.4,33.0 L63.5,33.5 L63.4,34.0 L63.3,34.5 L63.1,35.0 L63.0,35.1 L62.8,35.5 L62.5,35.8 L62.3,36.0 L62.0,36.2 L61.6,36.5 L61.5,36.6 L61.0,36.8 L60.7,37.0 L60.5,37.1 L60.0,37.3 L59.5,37.4 L59.3,37.5 L59.0,37.6 L58.5,37.7 L58.0,37.8 L57.5,38.0 L57.3,38.0 L57.0,38.1 L56.5,38.2 L56.0,38.3 L55.5,38.4 L55.0,38.4 L54.7,38.5 L54.5,38.5 L54.0,38.6 L53.5,38.7 L53.0,38.8 L52.5,38.9 L52.0,39.0 L52.0,39.0 L51.5,39.1 L51.0,39.2 L50.5,39.3 L50.0,39.5 L49.8,39.5 L49.5,39.6 L49.0,39.7 L48.5,39.9 L48.0,40.0 L48.0,40.0 L47.5,40.2 L47.0,40.4 L46.6,40.5 L46.5,40.5 L46.0,40.7 L45.5,40.9 L45.0,41.0 L44.6,41.0 L44.5,41.0 L44.0,41.0 L43.9,41.0 L43.5,41.0 L43.0,40.8 L42.5,40.7 L42.1,40.5 L42.0,40.5 L41.5,40.2 L41.2,40.0 L41.0,39.9 L40.5,39.6 L40.4,39.5 L40.0,39.2 L39.7,39.0 L39.5,38.9 L39.0,38.6 L38.9,38.5 L38.5,38.3 L38.1,38.0 L38.0,37.9 L37.5,37.6 L37.3,37.5 L37.0,37.3 L36.5,37.0 L36.4,37.0 L36.0,36.7 L35.6,36.5 L35.5,36.4 L35.0,36.1 L34.8,36.0 L34.5,35.8 L34.1,35.5 L34.0,35.5 L33.5,35.1 L33.4,35.0 L33.0,34.7 L32.8,34.5 L32.5,34.1 L32.4,34.0 L32.0,33.5 L32.0,33.5 L31.7,33.0 L31.5,32.5 L31.5,32.3 L31.4,32.0 L31.4,31.5 L31.5,31.0 L31.5,30.9 L31.6,30.5 L31.9,30.0 L32.0,29.9 L32.3,29.5 L32.5,29.3 L32.8,29.0 L33.0,28.9 L33.5,28.5 L33.5,28.5 L34.0,28.2 L34.4,28.0 L34.5,27.9 L35.0,27.7 L35.5,27.5 L35.5,27.5 L36.0,27.3 L36.5,27.2 L37.0,27.0 L37.0,27.0 L37.5,26.8 L38.0,26.7 L38.5,26.6 L38.8,26.5 L39.0,26.5 L39.5,26.4 L40.0,26.3 L40.5,26.2 L41.0,26.1 L41.5,26.0 L41.5,26.0Z M41.0,26.5 L41.5,26.4 L42.0,26.4 L42.5,26.3 L43.0,26.2 L43.5,26.2 L44.0,26.2 L44.5,26.1 L45.0,26.1 L45.5,26.1 L46.0,26.1 L46.5,26.1 L47.0,26.1 L47.5,26.1 L48.0,26.2 L48.5,26.2 L49.0,26.2 L49.5,26.3 L50.0,26.4 L50.5,26.4 L51.0,26.5 L51.1,26.5 L51.5,26.6 L52.0,26.7 L52.5,26.8 L53.0,26.9 L53.5,27.0 L53.6,27.0 L54.0,27.1 L54.5,27.2 L55.0,27.4 L55.4,27.5 L55.5,27.5 L56.0,27.7 L56.5,27.9 L56.8,28.0 L57.0,28.1 L57.5,28.3 L58.0,28.5 L58.0,28.5 L58.5,28.8 L58.9,29.0 L59.0,29.0 L59.5,29.3 L59.8,29.5 L60.0,29.7 L60.5,30.0 L60.5,30.0 L61.0,30.5 L61.0,30.5 L61.5,31.0 L61.5,31.0 L61.9,31.5 L62.0,31.7 L62.2,32.0 L62.4,32.5 L62.5,33.0 L62.5,33.3 L62.5,33.5 L62.5,33.5 L62.4,34.0 L62.2,34.5 L62.0,34.9 L61.9,35.0 L61.5,35.5 L61.5,35.5 L61.0,35.9 L60.8,36.0 L60.5,36.2 L60.0,36.5 L59.9,36.5 L59.5,36.7 L59.0,36.9 L58.6,37.0 L58.5,37.0 L58.0,37.2 L57.5,37.3 L57.0,37.4 L56.8,37.5 L56.5,37.6 L56.0,37.7 L55.5,37.8 L55.0,37.9 L54.5,38.0 L54.3,38.0 L54.0,38.1 L53.5,38.2 L53.0,38.2 L52.5,38.3 L52.0,38.4 L51.5,38.5 L51.5,38.5 L51.0,38.6 L50.5,38.7 L50.0,38.8 L49.5,38.9 L49.0,38.9 L48.6,39.0 L48.5,39.0 L48.0,39.1 L47.5,39.2 L47.0,39.2 L46.5,39.3 L46.0,39.3 L45.5,39.4 L45.0,39.4 L44.5,39.4 L44.0,39.3 L43.5,39.3 L43.0,39.1 L42.5,39.0 L42.5,39.0 L42.0,38.9 L41.5,38.7 L41.0,38.5 L41.0,38.5 L40.5,38.3 L40.0,38.0 L39.9,38.0 L39.5,37.8 L39.0,37.6 L38.9,37.5 L38.5,37.3 L38.0,37.0 L37.9,37.0 L37.5,36.8 L37.0,36.5 L37.0,36.5 L36.5,36.2 L36.2,36.0 L36.0,35.9 L35.5,35.6 L35.4,35.5 L35.0,35.2 L34.7,35.0 L34.5,34.8 L34.1,34.5 L34.0,34.4 L33.6,34.0 L33.5,33.9 L33.1,33.5 L33.0,33.3 L32.8,33.0 L32.6,32.5 L32.5,32.2 L32.5,32.0 L32.4,31.5 L32.5,31.0 L32.5,31.0 L32.7,30.5 L33.0,30.0 L33.0,30.0 L33.4,29.5 L33.5,29.4 L34.0,29.0 L34.0,29.0 L34.5,28.7 L34.8,28.5 L35.0,28.4 L35.5,28.1 L35.8,28.0 L36.0,27.9 L36.5,27.7 L37.0,27.5 L37.0,27.5 L37.5,27.4 L38.0,27.2 L38.5,27.1 L38.7,27.0 L39.0,26.9 L39.5,26.8 L40.0,26.7 L40.5,26.6 L41.0,26.5 L41.0,26.5Z M40.9,27.0 L41.0,27.0 L41.5,26.9 L42.0,26.8 L42.5,26.8 L43.0,26.7 L43.5,26.6 L44.0,26.6 L44.5,26.6 L45.0,26.6 L45.5,26.5 L46.0,26.5 L46.5,26.5 L47.0,26.5 L47.5,26.6 L48.0,26.6 L48.5,26.6 L49.0,26.7 L49.5,26.7 L50.0,26.8 L50.5,26.9 L51.0,26.9 L51.4,27.0 L51.5,27.0 L52.0,27.1 L52.5,27.2 L53.0,27.3 L53.5,27.4 L53.7,27.5 L54.0,27.6 L54.5,27.7 L55.0,27.9 L55.4,28.0 L55.5,28.0 L56.0,28.2 L56.5,28.4 L56.7,28.5 L57.0,28.6 L57.5,28.8 L57.8,29.0 L58.0,29.1 L58.5,29.4 L58.7,29.5 L59.0,29.7 L59.5,30.0 L59.5,30.0 L60.0,30.4 L60.1,30.5 L60.5,30.9 L60.6,31.0 L61.0,31.5 L61.0,31.5 L61.3,32.0 L61.5,32.5 L61.5,32.6 L61.6,33.0 L61.5,33.5 L61.5,33.7 L61.4,34.0 L61.2,34.5 L61.0,34.7 L60.8,35.0 L60.5,35.2 L60.2,35.5 L60.0,35.6 L59.5,35.9 L59.3,36.0 L59.0,36.2 L58.5,36.4 L58.2,36.5 L58.0,36.6 L57.5,36.7 L57.0,36.9 L56.5,37.0 L56.5,37.0 L56.0,37.1 L55.5,37.2 L55.0,37.4 L54.5,37.5 L54.3,37.5 L54.0,37.6 L53.5,37.7 L53.0,37.7 L52.5,37.8 L52.0,37.9 L51.5,38.0 L51.5,38.0 L51.0,38.1 L50.5,38.2 L50.0,38.2 L49.5,38.3 L49.0,38.4 L48.5,38.4 L48.0,38.5 L47.9,38.5 L47.5,38.5 L47.0,38.6 L46.5,38.6 L46.0,38.6 L45.5,38.6 L45.0,38.6 L44.5,38.6 L44.0,38.5 L44.0,38.5 L43.5,38.4 L43.0,38.3 L42.5,38.2 L42.0,38.1 L41.7,38.0 L41.5,37.9 L41.0,37.8 L40.5,37.6 L40.4,37.5 L40.0,37.4 L39.5,37.1 L39.2,37.0 L39.0,36.9 L38.5,36.6 L38.2,36.5 L38.0,36.4 L37.5,36.1 L37.4,36.0 L37.0,35.8 L36.5,35.5 L36.5,35.5 L36.0,35.1 L35.8,35.0 L35.5,34.7 L35.2,34.5 L35.0,34.3 L34.6,34.0 L34.5,33.8 L34.2,33.5 L34.0,33.2 L33.9,33.0 L33.6,32.5 L33.5,32.1 L33.5,32.0 L33.4,31.5 L33.5,31.1 L33.5,31.0 L33.7,30.5 L34.0,30.1 L34.1,30.0 L34.5,29.6 L34.6,29.5 L35.0,29.2 L35.2,29.0 L35.5,28.8 L36.0,28.6 L36.1,28.5 L36.5,28.3 L37.0,28.1 L37.3,28.0 L37.5,27.9 L38.0,27.8 L38.5,27.6 L38.8,27.5 L39.0,27.4 L39.5,27.3 L40.0,27.2 L40.5,27.1 L40.9,27.0Z M41.1,27.5 L41.5,27.4 L42.0,27.3 L42.5,27.3 L43.0,27.2 L43.5,27.2 L44.0,27.1 L44.5,27.1 L45.0,27.1 L45.5,27.0 L46.0,27.0 L46.5,27.0 L47.0,27.1 L47.5,27.1 L48.0,27.1 L48.5,27.2 L49.0,27.2 L49.5,27.3 L50.0,27.3 L50.5,27.4 L51.0,27.5 L51.3,27.5 L51.5,27.5 L52.0,27.6 L52.5,27.8 L53.0,27.9 L53.5,28.0 L53.6,28.0 L54.0,28.1 L54.5,28.3 L55.0,28.4 L55.2,28.5 L55.5,28.6 L56.0,28.8 L56.5,29.0 L56.5,29.0 L57.0,29.2 L57.5,29.5 L57.5,29.5 L58.0,29.8 L58.4,30.0 L58.5,30.1 L59.0,30.5 L59.0,30.5 L59.5,30.9 L59.6,31.0 L60.0,31.5 L60.0,31.5 L60.3,32.0 L60.5,32.5 L60.5,32.5 L60.6,33.0 L60.5,33.5 L60.5,33.6 L60.4,34.0 L60.0,34.5 L60.0,34.5 L59.5,35.0 L59.5,35.0 L59.0,35.4 L58.8,35.5 L58.5,35.7 L58.0,35.9 L57.8,36.0 L57.5,36.1 L57.0,36.3 L56.5,36.4 L56.3,36.5 L56.0,36.6 L55.5,36.7 L55.0,36.8 L54.5,37.0 L54.3,37.0 L54.0,37.1 L53.5,37.2 L53.0,37.3 L52.5,37.4 L52.0,37.5 L51.7,37.5 L51.5,37.5 L51.0,37.6 L50.5,37.7 L50.0,37.8 L49.5,37.8 L49.0,37.9 L48.5,38.0 L48.0,38.0 L48.0,38.0 L47.5,38.0 L47.0,38.1 L46.5,38.1 L46.0,38.1 L45.5,38.1 L45.0,38.0 L44.5,38.0 L44.5,38.0 L44.0,37.9 L43.5,37.9 L43.0,37.8 L42.5,37.7 L42.0,37.5 L42.0,37.5 L41.5,37.4 L41.0,37.2 L40.5,37.0 L40.5,37.0 L40.0,36.8 L39.5,36.6 L39.4,36.5 L39.0,36.3 L38.5,36.0 L38.4,36.0 L38.0,35.8 L37.6,35.5 L37.5,35.5 L37.0,35.1 L36.8,35.0 L36.5,34.7 L36.2,34.5 L36.0,34.3 L35.6,34.0 L35.5,33.8 L35.2,33.5 L35.0,33.2 L34.9,33.0 L34.6,32.5 L34.5,32.0 L34.5,32.0 L34.5,31.5 L34.5,31.4 L34.6,31.0 L34.9,30.5 L35.0,30.3 L35.3,30.0 L35.5,29.8 L35.8,29.5 L36.0,29.4 L36.5,29.1 L36.6,29.0 L37.0,28.8 L37.5,28.6 L37.7,28.5 L38.0,28.4 L38.5,28.2 L39.0,28.0 L39.1,28.0 L39.5,27.9 L40.0,27.8 L40.5,27.6 L41.0,27.5 L41.1,27.5Z M41.8,28.0 L42.0,28.0 L42.5,27.9 L43.0,27.8 L43.5,27.8 L44.0,27.7 L44.5,27.7 L45.0,27.7 L45.5,27.7 L46.0,27.7 L46.5,27.7 L47.0,27.7 L47.5,27.7 L48.0,27.8 L48.5,27.8 L49.0,27.9 L49.5,27.9 L50.0,28.0 L50.2,28.0 L50.5,28.0 L51.0,28.1 L51.5,28.2 L52.0,28.3 L52.5,28.4 L52.8,28.5 L53.0,28.5 L53.5,28.7 L54.0,28.8 L54.5,29.0 L54.6,29.0 L55.0,29.1 L55.5,29.3 L55.9,29.5 L56.0,29.5 L56.5,29.8 L57.0,30.0 L57.0,30.0 L57.5,30.3 L57.8,30.5 L58.0,30.7 L58.4,31.0 L58.5,31.1 L58.9,31.5 L59.0,31.7 L59.2,32.0 L59.4,32.5 L59.5,33.0 L59.4,33.5 L59.2,34.0 L59.0,34.2 L58.8,34.5 L58.5,34.7 L58.2,35.0 L58.0,35.1 L57.5,35.4 L57.3,35.5 L57.0,35.6 L56.5,35.8 L56.0,36.0 L56.0,36.0 L55.5,36.1 L55.0,36.3 L54.5,36.4 L54.2,36.5 L54.0,36.5 L53.5,36.7 L53.0,36.8 L52.5,36.9 L52.0,37.0 L51.9,37.0 L51.5,37.1 L51.0,37.2 L50.5,37.2 L50.0,37.3 L49.5,37.4 L49.0,37.4 L48.5,37.5 L48.4,37.5 L48.0,37.5 L47.5,37.6 L47.0,37.6 L46.5,37.6 L46.0,37.6 L45.5,37.6 L45.0,37.6 L44.5,37.5 L44.4,37.5 L44.0,37.5 L43.5,37.4 L43.0,37.3 L42.5,37.2 L42.0,37.0 L42.0,37.0 L41.5,36.9 L41.0,36.7 L40.5,36.5 L40.5,36.5 L40.0,36.3 L39.5,36.0 L39.5,36.0 L39.0,35.8 L38.6,35.5 L38.5,35.5 L38.0,35.1 L37.8,35.0 L37.5,34.8 L37.1,34.5 L37.0,34.4 L36.6,34.0 L36.5,33.9 L36.2,33.5 L36.0,33.2 L35.8,33.0 L35.6,32.5 L35.5,32.0 L35.6,31.5 L35.7,31.0 L36.0,30.6 L36.1,30.5 L36.5,30.1 L36.6,30.0 L37.0,29.7 L37.3,29.5 L37.5,29.4 L38.0,29.1 L38.3,29.0 L38.5,28.9 L39.0,28.7 L39.5,28.6 L39.7,28.5 L40.0,28.4 L40.5,28.3 L41.0,28.2 L41.5,28.1 L41.8,28.0Z M43.6,28.5 L44.0,28.5 L44.5,28.5 L45.0,28.5 L45.5,28.5 L46.0,28.5 L46.4,28.5 L46.5,28.5 L47.0,28.5 L47.5,28.6 L48.0,28.7 L48.5,28.7 L49.0,28.8 L49.5,28.9 L50.0,28.9 L50.5,29.0 L50.5,29.0 L51.0,29.1 L51.5,29.2 L52.0,29.3 L52.5,29.4 L53.0,29.5 L53.0,29.5 L53.5,29.6 L54.0,29.8 L54.5,29.9 L54.7,30.0 L55.0,30.1 L55.5,30.3 L55.9,30.5 L56.0,30.6 L56.5,30.8 L56.7,31.0 L57.0,31.2 L57.4,31.5 L57.5,31.6 L57.8,32.0 L58.0,32.4 L58.1,32.5 L58.1,33.0 L58.1,33.5 L58.0,33.6 L57.8,34.0 L57.5,34.3 L57.3,34.5 L57.0,34.7 L56.5,35.0 L56.5,35.0 L56.0,35.2 L55.5,35.5 L55.4,35.5 L55.0,35.6 L54.5,35.8 L54.0,35.9 L53.8,36.0 L53.5,36.1 L53.0,36.2 L52.5,36.3 L52.0,36.4 L51.8,36.5 L51.5,36.6 L51.0,36.6 L50.5,36.7 L50.0,36.8 L49.5,36.9 L49.0,37.0 L48.8,37.0 L48.5,37.0 L48.0,37.1 L47.5,37.1 L47.0,37.1 L46.5,37.2 L46.0,37.2 L45.5,37.1 L45.0,37.1 L44.5,37.1 L44.1,37.0 L44.0,37.0 L43.5,36.9 L43.0,36.8 L42.5,36.7 L42.0,36.5 L41.9,36.5 L41.5,36.4 L41.0,36.2 L40.6,36.0 L40.5,36.0 L40.0,35.7 L39.6,35.5 L39.5,35.5 L39.0,35.2 L38.8,35.0 L38.5,34.8 L38.1,34.5 L38.0,34.4 L37.6,34.0 L37.5,33.9 L37.1,33.5 L37.0,33.3 L36.8,33.0 L36.7,32.5 L36.6,32.0 L36.7,31.5 L37.0,31.0 L37.0,31.0 L37.4,30.5 L37.5,30.5 L38.0,30.1 L38.1,30.0 L38.5,29.8 L39.0,29.6 L39.1,29.5 L39.5,29.3 L40.0,29.2 L40.5,29.0 L40.6,29.0 L41.0,28.9 L41.5,28.8 L42.0,28.7 L42.5,28.6 L43.0,28.6 L43.5,28.5 L43.6,28.5Z M42.1,29.5 L42.5,29.4 L43.0,29.4 L43.5,29.4 L44.0,29.4 L44.5,29.4 L45.0,29.4 L45.5,29.4 L45.9,29.5 L46.0,29.5 L46.5,29.6 L47.0,29.7 L47.5,29.8 L48.0,29.9 L48.4,30.0 L48.5,30.0 L49.0,30.1 L49.5,30.3 L50.0,30.4 L50.5,30.5 L50.5,30.5 L51.0,30.6 L51.5,30.7 L52.0,30.8 L52.5,30.9 L52.9,31.0 L53.0,31.0 L53.5,31.1 L54.0,31.3 L54.5,31.5 L54.6,31.5 L55.0,31.7 L55.5,32.0 L55.5,32.0 L56.0,32.5 L56.0,32.5 L56.2,33.0 L56.1,33.5 L56.0,33.7 L55.8,34.0 L55.5,34.3 L55.2,34.5 L55.0,34.6 L54.5,34.9 L54.3,35.0 L54.0,35.1 L53.5,35.3 L53.0,35.5 L53.0,35.5 L52.5,35.6 L52.0,35.8 L51.5,35.9 L51.3,36.0 L51.0,36.1 L50.5,36.2 L50.0,36.3 L49.5,36.4 L49.0,36.5 L48.7,36.5 L48.5,36.5 L48.0,36.6 L47.5,36.6 L47.0,36.7 L46.5,36.7 L46.0,36.7 L45.5,36.7 L45.0,36.6 L44.5,36.6 L44.0,36.5 L43.8,36.5 L43.5,36.4 L43.0,36.3 L42.5,36.2 L42.0,36.0 L41.9,36.0 L41.5,35.9 L41.0,35.7 L40.7,35.5 L40.5,35.4 L40.0,35.1 L39.8,35.0 L39.5,34.8 L39.1,34.5 L39.0,34.4 L38.5,34.0 L38.5,34.0 L38.1,33.5 L38.0,33.2 L37.9,33.0 L37.8,32.5 L37.8,32.0 L38.0,31.5 L38.0,31.5 L38.4,31.0 L38.5,30.9 L39.0,30.6 L39.1,30.5 L39.5,30.3 L40.0,30.1 L40.1,30.0 L40.5,29.9 L41.0,29.7 L41.5,29.6 L42.0,29.5 L42.1,29.5Z M41.6,30.5 L42.0,30.4 L42.5,30.3 L43.0,30.3 L43.5,30.3 L44.0,30.3 L44.5,30.3 L45.0,30.4 L45.5,30.5 L45.5,30.5 L46.0,30.6 L46.5,30.8 L47.0,30.9 L47.2,31.0 L47.5,31.1 L48.0,31.3 L48.5,31.5 L48.5,31.5 L49.0,31.7 L49.5,31.9 L49.7,32.0 L50.0,32.1 L50.5,32.3 L50.9,32.5 L51.0,32.5 L51.5,32.8 L52.0,33.0 L52.0,33.0 L52.5,33.5 L52.5,33.5 L52.5,34.0 L52.5,34.1 L52.1,34.5 L52.0,34.6 L51.5,34.9 L51.3,35.0 L51.0,35.1 L50.5,35.3 L50.1,35.5 L50.0,35.5 L49.5,35.7 L49.0,35.8 L48.5,35.9 L48.0,36.0 L48.0,36.0 L47.5,36.1 L47.0,36.1 L46.5,36.1 L46.0,36.2 L45.5,36.1 L45.0,36.1 L44.5,36.1 L44.0,36.0 L43.9,36.0 L43.5,35.9 L43.0,35.8 L42.5,35.7 L42.0,35.5 L42.0,35.5 L41.5,35.3 L41.0,35.0 L40.9,35.0 L40.5,34.7 L40.1,34.5 L40.0,34.4 L39.6,34.0 L39.5,33.9 L39.2,33.5 L39.0,33.0 L39.0,33.0 L38.9,32.5 L39.0,32.3 L39.1,32.0 L39.5,31.5 L39.5,31.5 L40.0,31.1 L40.2,31.0 L40.5,30.9 L41.0,30.7 L41.5,30.5 L41.6,30.5Z M41.7,31.5 L42.0,31.4 L42.5,31.3 L43.0,31.3 L43.5,31.3 L44.0,31.3 L44.5,31.4 L45.0,31.5 L45.1,31.5 L45.5,31.6 L46.0,31.8 L46.5,32.0 L46.5,32.0 L47.0,32.3 L47.4,32.5 L47.5,32.5 L48.0,32.9 L48.2,33.0 L48.5,33.3 L48.7,33.5 L49.0,34.0 L48.8,34.5 L48.5,34.8 L48.2,35.0 L48.0,35.1 L47.5,35.2 L47.0,35.3 L46.5,35.4 L46.0,35.5 L45.9,35.5 L45.5,35.5 L45.0,35.5 L44.9,35.5 L44.5,35.5 L44.0,35.4 L43.5,35.3 L43.0,35.2 L42.5,35.0 L42.5,35.0 L42.0,34.8 L41.5,34.5 L41.4,34.5 L41.0,34.2 L40.8,34.0 L40.5,33.6 L40.4,33.5 L40.3,33.0 L40.4,32.5 L40.5,32.3 L40.8,32.0 L41.0,31.8 L41.5,31.6 L41.7,31.5Z M42.4,33.0 L42.5,32.9 L43.0,32.6 L43.5,32.6 L44.0,32.6 L44.5,32.7 L45.0,32.9 L45.2,33.0 L45.5,33.3 L45.7,33.5 L45.8,34.0 L45.5,34.2 L45.0,34.4 L44.5,34.5 L44.0,34.4 L43.5,34.3 L43.0,34.1 L42.8,34.0 L42.5,33.7 L42.3,33.5 L42.4,33.0Z" fill="none" stroke="#222" stroke-width="0.4"/></g>
<rect x="0" y="0" width="82.0" height="82.0" fill="none" stroke="#222" stroke-width="0.9"/>
<path d="M-1.2,20.5h2 M20.5,81.5v1.9 M-1.2,41.0h2 M41.0,81.5v1.9 M-1.2,61.5h2 M61.5,81.5v1.9" stroke="#444" stroke-width="0.6" fill="none"/>
<text x="2.6" y="11.2" font-size="11.2" fill="#111">100 µg/mL</text>
</g>
<g transform="translate(423.6,16.2)">
<g clip-path="url(#cb)"><path d="M39.2,24.5 L39.5,24.4 L40.0,24.4 L40.5,24.3 L41.0,24.3 L41.5,24.2 L42.0,24.2 L42.5,24.2 L43.0,24.2 L43.5,24.2 L44.0,24.2 L44.5,24.2 L45.0,24.2 L45.5,24.3 L46.0,24.3 L46.5,24.4 L47.0,24.5 L47.3,24.5 L47.5,24.5 L48.0,24.6 L48.5,24.7 L49.0,24.8 L49.5,24.9 L50.0,25.0 L50.1,25.0 L50.5,25.1 L51.0,25.2 L51.5,25.3 L52.0,25.4 L52.4,25.5 L52.5,25.5 L53.0,25.6 L53.5,25.7 L54.0,25.8 L54.5,25.9 L54.9,26.0 L55.0,26.0 L55.5,26.1 L56.0,26.2 L56.5,26.3 L57.0,26.4 L57.5,26.5 L57.7,26.5 L58.0,26.6 L58.5,26.7 L59.0,26.8 L59.5,26.9 L59.7,27.0 L60.0,27.1 L60.5,27.2 L61.0,27.4 L61.3,27.5 L61.5,27.6 L62.0,27.8 L62.5,28.0 L62.5,28.0 L63.0,28.2 L63.5,28.4 L63.7,28.5 L64.0,28.7 L64.5,28.9 L64.6,29.0 L65.0,29.2 L65.5,29.5 L65.5,29.5 L66.0,29.8 L66.3,30.0 L66.5,30.1 L67.0,30.4 L67.1,30.5 L67.5,30.8 L67.8,31.0 L68.0,31.1 L68.5,31.5 L68.5,31.5 L69.0,31.8 L69.2,32.0 L69.5,32.2 L69.9,32.5 L70.0,32.6 L70.5,33.0 L70.5,33.0 L71.0,33.4 L71.1,33.5 L71.5,33.8 L71.7,34.0 L72.0,34.3 L72.2,34.5 L72.5,34.8 L72.7,35.0 L73.0,35.4 L73.1,35.5 L73.5,36.0 L73.5,36.0 L73.8,36.5 L74.0,36.7 L74.2,37.0 L74.4,37.5 L74.5,37.6 L74.7,38.0 L74.9,38.5 L75.0,38.9 L75.0,39.0 L75.2,39.5 L75.3,40.0 L75.3,40.5 L75.4,41.0 L75.4,41.5 L75.4,42.0 L75.3,42.5 L75.2,43.0 L75.1,43.5 L75.0,43.7 L74.9,44.0 L74.7,44.5 L74.5,45.0 L74.5,45.0 L74.2,45.5 L74.0,45.9 L73.9,46.0 L73.6,46.5 L73.5,46.6 L73.2,47.0 L73.0,47.2 L72.8,47.5 L72.5,47.8 L72.3,48.0 L72.0,48.3 L71.8,48.5 L71.5,48.7 L71.2,49.0 L71.0,49.2 L70.6,49.5 L70.5,49.6 L70.0,49.9 L69.9,50.0 L69.5,50.3 L69.2,50.5 L69.0,50.6 L68.5,50.9 L68.4,51.0 L68.0,51.2 L67.5,51.5 L67.5,51.5 L67.0,51.8 L66.6,52.0 L66.5,52.0 L66.0,52.3 L65.6,52.5 L65.5,52.5 L65.0,52.8 L64.5,53.0 L64.5,53.0 L64.0,53.2 L63.5,53.4 L63.4,53.5 L63.0,53.7 L62.5,53.9 L62.1,54.0 L62.0,54.0 L61.5,54.2 L61.0,54.4 L60.8,54.5 L60.5,54.6 L60.0,54.8 L59.5,54.9 L59.3,55.0 L59.0,55.1 L58.5,55.3 L58.0,55.4 L57.8,55.5 L57.5,55.6 L57.0,55.8 L56.5,55.9 L56.3,56.0 L56.0,56.1 L55.5,56.3 L55.0,56.4 L54.7,56.5 L54.5,56.6 L54.0,56.7 L53.5,56.9 L53.1,57.0 L53.0,57.0 L52.5,57.2 L52.0,57.3 L51.5,57.4 L51.3,57.5 L51.0,57.6 L50.5,57.7 L50.0,57.8 L49.5,57.9 L49.2,58.0 L49.0,58.0 L48.5,58.1 L48.0,58.2 L47.5,58.3 L47.0,58.4 L46.5,58.5 L46.1,58.5 L46.0,58.5 L45.5,58.6 L45.0,58.6 L44.5,58.6 L44.0,58.7 L43.5,58.7 L43.0,58.7 L42.5,58.7 L42.0,58.7 L41.5,58.6 L41.0,58.6 L40.5,58.6 L40.0,58.5 L40.0,58.5 L39.5,58.4 L39.0,58.4 L38.5,58.3 L38.0,58.2 L37.5,58.1 L37.3,58.0 L37.0,57.9 L36.5,57.8 L36.0,57.7 L35.5,57.5 L35.5,57.5 L35.0,57.3 L34.5,57.1 L34.2,57.0 L34.0,56.9 L33.5,56.7 L33.1,56.5 L33.0,56.5 L32.5,56.2 L32.1,56.0 L32.0,55.9 L31.5,55.7 L31.2,55.5 L31.0,55.4 L30.5,55.0 L30.5,55.0 L30.0,54.7 L29.7,54.5 L29.5,54.3 L29.1,54.0 L29.0,53.9 L28.5,53.5 L28.5,53.5 L28.0,53.1 L27.9,53.0 L27.5,52.6 L27.4,52.5 L27.0,52.0 L27.0,52.0 L26.5,51.5 L26.5,51.5 L26.1,51.0 L26.0,50.9 L25.7,50.5 L25.5,50.2 L25.4,50.0 L25.0,49.5 L25.0,49.4 L24.7,49.0 L24.5,48.6 L24.4,48.5 L24.2,48.0 L24.0,47.6 L23.9,47.5 L23.7,47.0 L23.5,46.5 L23.5,46.4 L23.3,46.0 L23.2,45.5 L23.0,45.0 L23.0,44.8 L22.9,44.5 L22.8,44.0 L22.7,43.5 L22.7,43.0 L22.6,42.5 L22.6,42.0 L22.6,41.5 L22.6,41.0 L22.6,40.5 L22.6,40.0 L22.7,39.5 L22.8,39.0 L22.9,38.5 L23.0,38.0 L23.0,38.0 L23.1,37.5 L23.3,37.0 L23.5,36.5 L23.5,36.4 L23.7,36.0 L23.9,35.5 L24.0,35.2 L24.1,35.0 L24.4,34.5 L24.5,34.2 L24.6,34.0 L24.9,33.5 L25.0,33.4 L25.3,33.0 L25.5,32.7 L25.6,32.5 L26.0,32.0 L26.0,32.0 L26.4,31.5 L26.5,31.4 L26.8,31.0 L27.0,30.8 L27.3,30.5 L27.5,30.3 L27.8,30.0 L28.0,29.8 L28.4,29.5 L28.5,29.4 L28.9,29.0 L29.0,29.0 L29.5,28.6 L29.6,28.5 L30.0,28.2 L30.3,28.0 L30.5,27.8 L31.0,27.5 L31.0,27.5 L31.5,27.2 L31.9,27.0 L32.0,26.9 L32.5,26.7 L32.8,26.5 L33.0,26.4 L33.5,26.2 L33.9,26.0 L34.0,26.0 L34.5,25.8 L35.0,25.6 L35.2,25.5 L35.5,25.4 L36.0,25.2 L36.5,25.1 L36.8,25.0 L37.0,25.0 L37.5,24.8 L38.0,24.7 L38.5,24.6 L39.0,24.5 L39.2,24.5Z M40.7,28.0 L41.0,28.0 L41.5,27.9 L42.0,27.9 L42.5,27.9 L43.0,27.9 L43.5,27.9 L44.0,27.9 L44.5,28.0 L45.0,28.0 L45.0,28.0 L45.5,28.1 L46.0,28.1 L46.5,28.2 L47.0,28.2 L47.5,28.3 L48.0,28.4 L48.5,28.4 L49.0,28.4 L49.5,28.4 L50.0,28.4 L50.5,28.4 L51.0,28.3 L51.5,28.3 L52.0,28.3 L52.5,28.2 L53.0,28.2 L53.5,28.2 L54.0,28.2 L54.5,28.2 L55.0,28.2 L55.5,28.2 L56.0,28.2 L56.5,28.3 L57.0,28.3 L57.5,28.4 L58.0,28.5 L58.0,28.5 L58.5,28.6 L59.0,28.7 L59.5,28.9 L59.9,29.0 L60.0,29.0 L60.5,29.2 L61.0,29.4 L61.2,29.5 L61.5,29.6 L62.0,29.9 L62.3,30.0 L62.5,30.1 L63.0,30.4 L63.1,30.5 L63.5,30.7 L63.9,31.0 L64.0,31.1 L64.5,31.5 L64.5,31.5 L65.0,31.9 L65.1,32.0 L65.5,32.4 L65.6,32.5 L66.0,32.9 L66.1,33.0 L66.5,33.5 L66.5,33.5 L66.9,34.0 L67.0,34.2 L67.2,34.5 L67.5,35.0 L67.5,35.0 L67.8,35.5 L68.0,35.9 L68.0,36.0 L68.3,36.5 L68.5,37.0 L68.5,37.2 L68.6,37.5 L68.8,38.0 L68.9,38.5 L69.0,39.0 L69.0,39.4 L69.0,39.5 L69.1,40.0 L69.1,40.5 L69.1,41.0 L69.0,41.5 L69.0,41.6 L69.0,42.0 L68.9,42.5 L68.8,43.0 L68.6,43.5 L68.5,43.9 L68.5,44.0 L68.3,44.5 L68.0,45.0 L68.0,45.1 L67.8,45.5 L67.5,46.0 L67.5,46.0 L67.2,46.5 L67.0,46.7 L66.8,47.0 L66.5,47.4 L66.4,47.5 L66.0,48.0 L66.0,48.0 L65.5,48.5 L65.5,48.5 L65.0,48.9 L64.9,49.0 L64.5,49.4 L64.3,49.5 L64.0,49.7 L63.6,50.0 L63.5,50.1 L63.0,50.4 L62.8,50.5 L62.5,50.7 L62.0,51.0 L61.9,51.0 L61.5,51.2 L61.0,51.4 L60.8,51.5 L60.5,51.6 L60.0,51.8 L59.5,52.0 L59.4,52.0 L59.0,52.1 L58.5,52.3 L58.0,52.4 L57.5,52.5 L57.5,52.5 L57.0,52.6 L56.5,52.7 L56.0,52.8 L55.5,52.9 L55.0,52.9 L54.5,53.0 L54.2,53.0 L54.0,53.0 L53.5,53.1 L53.0,53.2 L52.5,53.2 L52.0,53.3 L51.5,53.4 L51.1,53.5 L51.0,53.5 L50.5,53.7 L50.0,53.8 L49.5,53.9 L49.2,54.0 L49.0,54.1 L48.5,54.2 L48.0,54.3 L47.5,54.4 L47.2,54.5 L47.0,54.6 L46.5,54.7 L46.0,54.7 L45.5,54.8 L45.0,54.9 L44.5,54.9 L44.0,55.0 L43.5,55.0 L43.2,55.0 L43.0,55.0 L42.5,55.0 L42.2,55.0 L42.0,55.0 L41.5,55.0 L41.0,54.9 L40.5,54.9 L40.0,54.8 L39.5,54.7 L39.0,54.6 L38.5,54.5 L38.4,54.5 L38.0,54.4 L37.5,54.3 L37.0,54.1 L36.7,54.0 L36.5,53.9 L36.0,53.7 L35.5,53.5 L35.5,53.5 L35.0,53.3 L34.5,53.0 L34.5,53.0 L34.0,52.7 L33.6,52.5 L33.5,52.4 L33.0,52.1 L32.9,52.0 L32.5,51.7 L32.2,51.5 L32.0,51.3 L31.6,51.0 L31.5,50.9 L31.1,50.5 L31.0,50.4 L30.6,50.0 L30.5,49.9 L30.1,49.5 L30.0,49.4 L29.7,49.0 L29.5,48.7 L29.3,48.5 L29.0,48.0 L29.0,48.0 L28.7,47.5 L28.5,47.1 L28.4,47.0 L28.2,46.5 L28.0,46.1 L28.0,46.0 L27.8,45.5 L27.6,45.0 L27.5,44.6 L27.5,44.5 L27.3,44.0 L27.2,43.5 L27.2,43.0 L27.1,42.5 L27.1,42.0 L27.1,41.5 L27.1,41.0 L27.1,40.5 L27.1,40.0 L27.2,39.5 L27.3,39.0 L27.4,38.5 L27.5,38.3 L27.6,38.0 L27.7,37.5 L27.9,37.0 L28.0,36.8 L28.1,36.5 L28.4,36.0 L28.5,35.8 L28.6,35.5 L28.9,35.0 L29.0,34.9 L29.3,34.5 L29.5,34.2 L29.6,34.0 L30.0,33.5 L30.0,33.5 L30.5,33.0 L30.5,33.0 L31.0,32.5 L31.0,32.5 L31.5,32.0 L31.5,32.0 L32.0,31.6 L32.1,31.5 L32.5,31.2 L32.7,31.0 L33.0,30.8 L33.5,30.5 L33.5,30.5 L34.0,30.2 L34.3,30.0 L34.5,29.9 L35.0,29.6 L35.3,29.5 L35.5,29.4 L36.0,29.2 L36.5,29.0 L36.5,29.0 L37.0,28.8 L37.5,28.7 L38.0,28.5 L38.0,28.5 L38.5,28.4 L39.0,28.3 L39.5,28.2 L40.0,28.1 L40.5,28.0 L40.7,28.0Z M51.3,29.5 L51.5,29.5 L52.0,29.4 L52.5,29.3 L53.0,29.2 L53.5,29.2 L54.0,29.1 L54.5,29.1 L55.0,29.1 L55.5,29.1 L56.0,29.1 L56.5,29.2 L57.0,29.2 L57.5,29.3 L58.0,29.4 L58.5,29.5 L58.5,29.5 L59.0,29.6 L59.5,29.8 L60.0,30.0 L60.1,30.0 L60.5,30.1 L61.0,30.4 L61.3,30.5 L61.5,30.6 L62.0,30.9 L62.2,31.0 L62.5,31.2 L63.0,31.5 L63.0,31.5 L63.5,31.9 L63.7,32.0 L64.0,32.3 L64.2,32.5 L64.5,32.7 L64.8,33.0 L65.0,33.3 L65.2,33.5 L65.5,33.9 L65.6,34.0 L66.0,34.5 L66.0,34.5 L66.3,35.0 L66.5,35.3 L66.6,35.5 L66.8,36.0 L67.0,36.4 L67.1,36.5 L67.3,37.0 L67.4,37.5 L67.5,37.8 L67.6,38.0 L67.7,38.5 L67.8,39.0 L67.8,39.5 L67.8,40.0 L67.8,40.5 L67.8,41.0 L67.8,41.5 L67.7,42.0 L67.6,42.5 L67.5,42.9 L67.5,43.0 L67.3,43.5 L67.2,44.0 L67.0,44.4 L66.9,44.5 L66.7,45.0 L66.5,45.4 L66.4,45.5 L66.1,46.0 L66.0,46.2 L65.8,46.5 L65.5,46.9 L65.4,47.0 L65.0,47.4 L64.9,47.5 L64.5,47.9 L64.4,48.0 L64.0,48.4 L63.9,48.5 L63.5,48.8 L63.2,49.0 L63.0,49.2 L62.5,49.5 L62.5,49.5 L62.0,49.8 L61.6,50.0 L61.5,50.1 L61.0,50.3 L60.6,50.5 L60.5,50.5 L60.0,50.7 L59.5,50.9 L59.2,51.0 L59.0,51.1 L58.5,51.2 L58.0,51.3 L57.5,51.4 L57.1,51.5 L57.0,51.5 L56.5,51.6 L56.0,51.7 L55.5,51.7 L55.0,51.7 L54.5,51.8 L54.0,51.8 L53.5,51.8 L53.0,51.8 L52.5,51.8 L52.0,51.8 L51.5,51.7 L51.0,51.7 L50.5,51.7 L50.0,51.7 L49.5,51.8 L49.0,51.8 L48.5,51.9 L48.0,51.9 L47.6,52.0 L47.5,52.0 L47.0,52.1 L46.5,52.2 L46.0,52.3 L45.5,52.4 L45.0,52.5 L45.0,52.5 L44.5,52.6 L44.0,52.6 L43.5,52.6 L43.0,52.7 L42.5,52.7 L42.0,52.7 L41.5,52.6 L41.0,52.6 L40.5,52.5 L40.3,52.5 L40.0,52.4 L39.5,52.4 L39.0,52.2 L38.5,52.1 L38.2,52.0 L38.0,51.9 L37.5,51.8 L37.0,51.6 L36.8,51.5 L36.5,51.4 L36.0,51.1 L35.8,51.0 L35.5,50.8 L35.0,50.5 L35.0,50.5 L34.5,50.2 L34.2,50.0 L34.0,49.8 L33.6,49.5 L33.5,49.4 L33.1,49.0 L33.0,48.9 L32.6,48.5 L32.5,48.4 L32.2,48.0 L32.0,47.8 L31.8,47.5 L31.5,47.1 L31.4,47.0 L31.1,46.5 L31.0,46.3 L30.8,46.0 L30.6,45.5 L30.5,45.2 L30.4,45.0 L30.2,44.5 L30.1,44.0 L30.0,43.6 L30.0,43.5 L29.9,43.0 L29.8,42.5 L29.8,42.0 L29.8,41.5 L29.8,41.0 L29.8,40.5 L29.9,40.0 L29.9,39.5 L30.0,39.3 L30.1,39.0 L30.2,38.5 L30.4,38.0 L30.5,37.7 L30.6,37.5 L30.8,37.0 L31.0,36.6 L31.1,36.5 L31.4,36.0 L31.5,35.8 L31.7,35.5 L32.0,35.1 L32.1,35.0 L32.5,34.5 L32.5,34.5 L33.0,34.0 L33.0,34.0 L33.5,33.5 L33.5,33.5 L34.0,33.1 L34.1,33.0 L34.5,32.7 L34.8,32.5 L35.0,32.4 L35.5,32.1 L35.7,32.0 L36.0,31.8 L36.5,31.6 L36.6,31.5 L37.0,31.3 L37.5,31.1 L37.9,31.0 L38.0,31.0 L38.5,30.8 L39.0,30.7 L39.5,30.6 L39.8,30.5 L40.0,30.5 L40.5,30.4 L41.0,30.3 L41.5,30.3 L42.0,30.2 L42.5,30.2 L43.0,30.2 L43.5,30.2 L44.0,30.3 L44.5,30.3 L45.0,30.3 L45.5,30.3 L46.0,30.3 L46.5,30.3 L47.0,30.3 L47.5,30.2 L48.0,30.2 L48.5,30.1 L48.8,30.0 L49.0,30.0 L49.5,29.9 L50.0,29.7 L50.5,29.6 L51.0,29.5 L51.3,29.5Z M52.7,30.0 L53.0,29.9 L53.5,29.9 L54.0,29.8 L54.5,29.8 L55.0,29.8 L55.5,29.8 L56.0,29.8 L56.5,29.8 L57.0,29.9 L57.5,30.0 L57.7,30.0 L58.0,30.1 L58.5,30.2 L59.0,30.3 L59.5,30.5 L59.6,30.5 L60.0,30.6 L60.5,30.8 L60.8,31.0 L61.0,31.1 L61.5,31.3 L61.8,31.5 L62.0,31.6 L62.5,32.0 L62.5,32.0 L63.0,32.3 L63.2,32.5 L63.5,32.7 L63.8,33.0 L64.0,33.2 L64.3,33.5 L64.5,33.7 L64.7,34.0 L65.0,34.4 L65.1,34.5 L65.5,35.0 L65.5,35.1 L65.8,35.5 L66.0,36.0 L66.0,36.0 L66.3,36.5 L66.5,37.0 L66.5,37.1 L66.6,37.5 L66.8,38.0 L66.9,38.5 L67.0,39.0 L67.0,39.3 L67.0,39.5 L67.1,40.0 L67.1,40.5 L67.0,41.0 L67.0,41.4 L67.0,41.5 L66.9,42.0 L66.8,42.5 L66.7,43.0 L66.5,43.5 L66.5,43.5 L66.3,44.0 L66.1,44.5 L66.0,44.7 L65.8,45.0 L65.5,45.5 L65.5,45.6 L65.2,46.0 L65.0,46.3 L64.8,46.5 L64.5,46.9 L64.4,47.0 L64.0,47.4 L63.9,47.5 L63.5,47.9 L63.4,48.0 L63.0,48.3 L62.7,48.5 L62.5,48.7 L62.0,49.0 L62.0,49.0 L61.5,49.3 L61.1,49.5 L61.0,49.5 L60.5,49.8 L60.0,50.0 L60.0,50.0 L59.5,50.2 L59.0,50.3 L58.5,50.5 L58.4,50.5 L58.0,50.6 L57.5,50.7 L57.0,50.8 L56.5,50.9 L56.0,50.9 L55.5,51.0 L55.0,51.0 L54.5,51.0 L54.0,51.0 L53.5,51.0 L53.0,50.9 L52.5,50.9 L52.0,50.8 L51.5,50.8 L51.0,50.7 L50.5,50.6 L50.0,50.6 L49.5,50.5 L49.5,50.5 L49.0,50.4 L48.5,50.4 L48.0,50.4 L47.5,50.3 L47.0,50.4 L46.5,50.4 L46.0,50.4 L45.5,50.5 L45.5,50.5 L45.0,50.6 L44.5,50.6 L44.0,50.7 L43.5,50.7 L43.0,50.8 L42.5,50.8 L42.0,50.8 L41.5,50.7 L41.0,50.7 L40.5,50.6 L40.0,50.5 L40.0,50.5 L39.5,50.4 L39.0,50.3 L38.5,50.1 L38.3,50.0 L38.0,49.9 L37.5,49.7 L37.1,49.5 L37.0,49.4 L36.5,49.1 L36.3,49.0 L36.0,48.8 L35.5,48.5 L35.5,48.5 L35.0,48.0 L34.9,48.0 L34.5,47.6 L34.4,47.5 L34.0,47.0 L34.0,47.0 L33.6,46.5 L33.5,46.4 L33.2,46.0 L33.0,45.6 L33.0,45.5 L32.7,45.0 L32.5,44.5 L32.5,44.5 L32.3,44.0 L32.2,43.5 L32.1,43.0 L32.0,42.7 L32.0,42.5 L31.9,42.0 L31.9,41.5 L31.9,41.0 L32.0,40.5 L32.0,40.3 L32.0,40.0 L32.1,39.5 L32.3,39.0 L32.5,38.5 L32.5,38.4 L32.7,38.0 L32.9,37.5 L33.0,37.3 L33.2,37.0 L33.5,36.5 L33.5,36.5 L33.9,36.0 L34.0,35.9 L34.3,35.5 L34.5,35.3 L34.9,35.0 L35.0,34.9 L35.4,34.5 L35.5,34.5 L36.0,34.1 L36.1,34.0 L36.5,33.8 L37.0,33.5 L37.0,33.5 L37.5,33.2 L38.0,33.0 L38.1,33.0 L38.5,32.8 L39.0,32.7 L39.5,32.5 L39.6,32.5 L40.0,32.4 L40.5,32.3 L41.0,32.2 L41.5,32.2 L42.0,32.1 L42.5,32.1 L43.0,32.1 L43.5,32.1 L44.0,32.1 L44.5,32.1 L45.0,32.0 L45.2,32.0 L45.5,32.0 L46.0,31.9 L46.5,31.7 L47.0,31.6 L47.3,31.5 L47.5,31.4 L48.0,31.3 L48.5,31.1 L48.8,31.0 L49.0,30.9 L49.5,30.8 L50.0,30.6 L50.5,30.5 L50.5,30.5 L51.0,30.3 L51.5,30.2 L52.0,30.1 L52.5,30.0 L52.7,30.0Z M53.2,30.5 L53.5,30.5 L54.0,30.4 L54.5,30.4 L55.0,30.3 L55.5,30.3 L56.0,30.3 L56.5,30.4 L57.0,30.4 L57.4,30.5 L57.5,30.5 L58.0,30.6 L58.5,30.7 L59.0,30.9 L59.4,31.0 L59.5,31.0 L60.0,31.2 L60.5,31.5 L60.6,31.5 L61.0,31.7 L61.5,32.0 L61.5,32.0 L62.0,32.3 L62.3,32.5 L62.5,32.7 L62.9,33.0 L63.0,33.1 L63.5,33.5 L63.5,33.5 L64.0,34.0 L64.0,34.1 L64.4,34.5 L64.5,34.7 L64.7,35.0 L65.0,35.4 L65.1,35.5 L65.4,36.0 L65.5,36.3 L65.6,36.5 L65.8,37.0 L66.0,37.5 L66.0,37.5 L66.1,38.0 L66.3,38.5 L66.3,39.0 L66.4,39.5 L66.4,40.0 L66.4,40.5 L66.4,41.0 L66.4,41.5 L66.3,42.0 L66.2,42.5 L66.0,43.0 L66.0,43.1 L65.9,43.5 L65.7,44.0 L65.5,44.3 L65.4,44.5 L65.1,45.0 L65.0,45.2 L64.8,45.5 L64.5,45.9 L64.5,46.0 L64.1,46.5 L64.0,46.6 L63.6,47.0 L63.5,47.1 L63.0,47.5 L63.0,47.5 L62.5,47.9 L62.4,48.0 L62.0,48.3 L61.7,48.5 L61.5,48.6 L61.0,48.9 L60.8,49.0 L60.5,49.2 L60.0,49.4 L59.7,49.5 L59.5,49.6 L59.0,49.8 L58.5,49.9 L58.1,50.0 L58.0,50.0 L57.5,50.1 L57.0,50.2 L56.5,50.3 L56.0,50.3 L55.5,50.4 L55.0,50.4 L54.5,50.4 L54.0,50.4 L53.5,50.3 L53.0,50.3 L52.5,50.2 L52.0,50.2 L51.5,50.1 L51.2,50.0 L51.0,50.0 L50.5,49.9 L50.0,49.8 L49.5,49.6 L49.0,49.5 L49.0,49.5 L48.5,49.4 L48.0,49.3 L47.5,49.2 L47.0,49.1 L46.6,49.0 L46.5,49.0 L46.0,48.9 L45.5,48.9 L45.0,48.9 L44.5,48.9 L44.0,49.0 L43.5,49.0 L43.5,49.0 L43.0,49.0 L42.5,49.0 L42.0,49.0 L41.9,49.0 L41.5,49.0 L41.0,48.9 L40.5,48.8 L40.0,48.7 L39.5,48.6 L39.3,48.5 L39.0,48.4 L38.5,48.2 L38.1,48.0 L38.0,47.9 L37.5,47.6 L37.3,47.5 L37.0,47.3 L36.6,47.0 L36.5,46.9 L36.0,46.5 L36.0,46.5 L35.6,46.0 L35.5,45.9 L35.2,45.5 L35.0,45.2 L34.9,45.0 L34.6,44.5 L34.5,44.3 L34.4,44.0 L34.2,43.5 L34.1,43.0 L34.0,42.7 L34.0,42.5 L33.9,42.0 L33.9,41.5 L33.9,41.0 L33.9,40.5 L34.0,40.2 L34.0,40.0 L34.2,39.5 L34.3,39.0 L34.5,38.6 L34.6,38.5 L34.8,38.0 L35.0,37.7 L35.1,37.5 L35.5,37.0 L35.5,37.0 L36.0,36.5 L36.0,36.5 L36.5,36.0 L36.5,36.0 L37.0,35.6 L37.2,35.5 L37.5,35.3 L38.0,35.0 L38.0,35.0 L38.5,34.7 L39.0,34.5 L39.1,34.5 L39.5,34.4 L40.0,34.2 L40.5,34.1 L41.0,34.0 L41.0,34.0 L41.5,33.9 L42.0,33.9 L42.5,33.8 L43.0,33.8 L43.5,33.7 L44.0,33.6 L44.5,33.5 L44.6,33.5 L45.0,33.4 L45.5,33.2 L46.0,33.0 L46.0,33.0 L46.5,32.8 L47.0,32.6 L47.2,32.5 L47.5,32.4 L48.0,32.1 L48.3,32.0 L48.5,31.9 L49.0,31.7 L49.5,31.5 L49.5,31.5 L50.0,31.3 L50.5,31.1 L51.0,31.0 L51.0,31.0 L51.5,30.8 L52.0,30.7 L52.5,30.6 L53.0,30.5 L53.2,30.5Z M53.3,31.0 L53.5,31.0 L54.0,30.9 L54.5,30.9 L55.0,30.8 L55.5,30.8 L56.0,30.8 L56.5,30.9 L57.0,30.9 L57.4,31.0 L57.5,31.0 L58.0,31.1 L58.5,31.2 L59.0,31.4 L59.3,31.5 L59.5,31.6 L60.0,31.8 L60.5,32.0 L60.5,32.0 L61.0,32.3 L61.4,32.5 L61.5,32.6 L62.0,32.9 L62.1,33.0 L62.5,33.3 L62.7,33.5 L63.0,33.8 L63.2,34.0 L63.5,34.3 L63.7,34.5 L64.0,34.9 L64.1,35.0 L64.4,35.5 L64.5,35.6 L64.8,36.0 L65.0,36.5 L65.0,36.5 L65.2,37.0 L65.4,37.5 L65.5,37.8 L65.6,38.0 L65.7,38.5 L65.8,39.0 L65.9,39.5 L65.9,40.0 L65.9,40.5 L65.9,41.0 L65.8,41.5 L65.7,42.0 L65.6,42.5 L65.5,42.8 L65.5,43.0 L65.3,43.5 L65.1,44.0 L65.0,44.1 L64.8,44.5 L64.5,45.0 L64.5,45.0 L64.2,45.5 L64.0,45.7 L63.8,46.0 L63.5,46.3 L63.3,46.5 L63.0,46.8 L62.8,47.0 L62.5,47.3 L62.2,47.5 L62.0,47.7 L61.5,48.0 L61.5,48.0 L61.0,48.3 L60.7,48.5 L60.5,48.6 L60.0,48.8 L59.6,49.0 L59.5,49.0 L59.0,49.2 L58.5,49.4 L58.0,49.5 L58.0,49.5 L57.5,49.6 L57.0,49.7 L56.5,49.8 L56.0,49.8 L55.5,49.8 L55.0,49.9 L54.5,49.9 L54.0,49.8 L53.5,49.8 L53.0,49.7 L52.5,49.7 L52.0,49.6 L51.7,49.5 L51.5,49.5 L51.0,49.4 L50.5,49.2 L50.0,49.1 L49.8,49.0 L49.5,48.9 L49.0,48.8 L48.5,48.6 L48.3,48.5 L48.0,48.4 L47.5,48.2 L47.0,48.0 L46.9,48.0 L46.5,47.9 L46.0,47.7 L45.5,47.6 L45.1,47.5 L45.0,47.5 L44.5,47.4 L44.0,47.3 L43.5,47.3 L43.0,47.3 L42.5,47.3 L42.0,47.2 L41.5,47.2 L41.0,47.1 L40.6,47.0 L40.5,47.0 L40.0,46.8 L39.5,46.6 L39.2,46.5 L39.0,46.4 L38.5,46.1 L38.4,46.0 L38.0,45.7 L37.7,45.5 L37.5,45.3 L37.2,45.0 L37.0,44.7 L36.8,44.5 L36.5,44.0 L36.5,43.9 L36.3,43.5 L36.1,43.0 L36.0,42.6 L36.0,42.5 L35.9,42.0 L35.9,41.5 L35.9,41.0 L36.0,40.5 L36.0,40.3 L36.1,40.0 L36.3,39.5 L36.5,39.0 L36.5,39.0 L36.8,38.5 L37.0,38.2 L37.2,38.0 L37.5,37.6 L37.6,37.5 L38.0,37.2 L38.3,37.0 L38.5,36.8 L39.0,36.5 L39.1,36.5 L39.5,36.3 L40.0,36.1 L40.3,36.0 L40.5,35.9 L41.0,35.8 L41.5,35.7 L42.0,35.6 L42.4,35.5 L42.5,35.5 L43.0,35.4 L43.5,35.2 L44.0,35.0 L44.1,35.0 L44.5,34.8 L45.0,34.6 L45.1,34.5 L45.5,34.3 L46.0,34.0 L46.0,34.0 L46.5,33.7 L46.8,33.5 L47.0,33.4 L47.5,33.1 L47.7,33.0 L48.0,32.9 L48.5,32.6 L48.7,32.5 L49.0,32.4 L49.5,32.1 L49.8,32.0 L50.0,31.9 L50.5,31.7 L51.0,31.6 L51.2,31.5 L51.5,31.4 L52.0,31.3 L52.5,31.1 L53.0,31.0 L53.3,31.0Z M53.2,31.5 L53.5,31.4 L54.0,31.4 L54.5,31.3 L55.0,31.3 L55.5,31.3 L56.0,31.3 L56.5,31.4 L57.0,31.4 L57.5,31.5 L57.5,31.5 L58.0,31.6 L58.5,31.7 L59.0,31.9 L59.3,32.0 L59.5,32.1 L60.0,32.3 L60.4,32.5 L60.5,32.5 L61.0,32.8 L61.3,33.0 L61.5,33.2 L62.0,33.5 L62.0,33.5 L62.5,34.0 L62.5,34.0 L63.0,34.4 L63.0,34.5 L63.5,35.0 L63.5,35.0 L63.9,35.5 L64.0,35.7 L64.2,36.0 L64.5,36.5 L64.5,36.6 L64.7,37.0 L64.9,37.5 L65.0,37.9 L65.0,38.0 L65.2,38.5 L65.3,39.0 L65.3,39.5 L65.4,40.0 L65.4,40.5 L65.3,41.0 L65.3,41.5 L65.2,42.0 L65.1,42.5 L65.0,42.7 L64.9,43.0 L64.7,43.5 L64.5,44.0 L64.5,44.0 L64.2,44.5 L64.0,44.9 L63.9,45.0 L63.5,45.5 L63.5,45.6 L63.1,46.0 L63.0,46.1 L62.6,46.5 L62.5,46.6 L62.1,47.0 L62.0,47.1 L61.5,47.4 L61.4,47.5 L61.0,47.8 L60.6,48.0 L60.5,48.0 L60.0,48.3 L59.5,48.5 L59.5,48.5 L59.0,48.7 L58.5,48.9 L58.0,49.0 L58.0,49.0 L57.5,49.1 L57.0,49.2 L56.5,49.3 L56.0,49.3 L55.5,49.4 L55.0,49.4 L54.5,49.4 L54.0,49.3 L53.5,49.3 L53.0,49.2 L52.5,49.2 L52.0,49.0 L51.8,49.0 L51.5,48.9 L51.0,48.8 L50.5,48.6 L50.1,48.5 L50.0,48.5 L49.5,48.3 L49.0,48.1 L48.8,48.0 L48.5,47.9 L48.0,47.7 L47.7,47.5 L47.5,47.4 L47.0,47.2 L46.7,47.0 L46.5,46.9 L46.0,46.7 L45.7,46.5 L45.5,46.4 L45.0,46.2 L44.6,46.0 L44.5,45.9 L44.0,45.7 L43.5,45.6 L43.2,45.5 L43.0,45.5 L42.5,45.3 L42.0,45.2 L41.5,45.1 L41.1,45.0 L41.0,45.0 L40.5,44.7 L40.0,44.5 L40.0,44.5 L39.5,44.1 L39.4,44.0 L39.0,43.6 L38.9,43.5 L38.6,43.0 L38.5,42.8 L38.4,42.5 L38.3,42.0 L38.2,41.5 L38.3,41.0 L38.4,40.5 L38.5,40.2 L38.6,40.0 L38.9,39.5 L39.0,39.3 L39.3,39.0 L39.5,38.8 L39.9,38.5 L40.0,38.4 L40.5,38.1 L40.8,38.0 L41.0,37.9 L41.5,37.7 L42.0,37.5 L42.0,37.5 L42.5,37.3 L43.0,37.0 L43.1,37.0 L43.5,36.8 L43.9,36.5 L44.0,36.4 L44.5,36.1 L44.6,36.0 L45.0,35.7 L45.2,35.5 L45.5,35.3 L45.9,35.0 L46.0,34.9 L46.5,34.5 L46.5,34.5 L47.0,34.2 L47.3,34.0 L47.5,33.8 L48.0,33.5 L48.1,33.5 L48.5,33.2 L48.9,33.0 L49.0,33.0 L49.5,32.7 L49.9,32.5 L50.0,32.5 L50.5,32.3 L51.0,32.1 L51.2,32.0 L51.5,31.9 L52.0,31.8 L52.5,31.6 L53.0,31.5 L53.2,31.5Z M53.0,32.0 L53.0,32.0 L53.5,31.9 L54.0,31.8 L54.5,31.8 L55.0,31.8 L55.5,31.8 L56.0,31.8 L56.5,31.8 L57.0,31.9 L57.5,32.0 L57.7,32.0 L58.0,32.1 L58.5,32.2 L59.0,32.4 L59.3,32.5 L59.5,32.6 L60.0,32.8 L60.4,33.0 L60.5,33.1 L61.0,33.4 L61.2,33.5 L61.5,33.7 L61.8,34.0 L62.0,34.1 L62.4,34.5 L62.5,34.6 L62.9,35.0 L63.0,35.2 L63.3,35.5 L63.5,35.8 L63.6,36.0 L63.9,36.5 L64.0,36.7 L64.2,37.0 L64.4,37.5 L64.5,37.9 L64.5,38.0 L64.7,38.5 L64.8,39.0 L64.8,39.5 L64.9,40.0 L64.9,40.5 L64.8,41.0 L64.8,41.5 L64.7,42.0 L64.6,42.5 L64.5,42.7 L64.4,43.0 L64.2,43.5 L64.0,43.9 L63.9,44.0 L63.7,44.5 L63.5,44.7 L63.3,45.0 L63.0,45.4 L62.9,45.5 L62.5,46.0 L62.5,46.0 L62.0,46.4 L61.9,46.5 L61.5,46.8 L61.3,47.0 L61.0,47.2 L60.5,47.5 L60.5,47.5 L60.0,47.8 L59.5,48.0 L59.5,48.0 L59.0,48.2 L58.5,48.4 L58.1,48.5 L58.0,48.5 L57.5,48.7 L57.0,48.8 L56.5,48.8 L56.0,48.9 L55.5,48.9 L55.0,48.9 L54.5,48.9 L54.0,48.9 L53.5,48.8 L53.0,48.8 L52.5,48.7 L52.0,48.6 L51.8,48.5 L51.5,48.4 L51.0,48.3 L50.5,48.1 L50.2,48.0 L50.0,47.9 L49.5,47.7 L49.0,47.5 L49.0,47.5 L48.5,47.2 L48.1,47.0 L48.0,47.0 L47.5,46.7 L47.2,46.5 L47.0,46.4 L46.5,46.0 L46.5,46.0 L46.0,45.7 L45.8,45.5 L45.5,45.3 L45.2,45.0 L45.0,44.9 L44.6,44.5 L44.5,44.4 L44.0,44.0 L44.0,44.0 L43.5,43.5 L43.5,43.5 L43.0,43.0 L43.0,42.9 L42.7,42.5 L42.5,42.2 L42.4,42.0 L42.3,41.5 L42.3,41.0 L42.4,40.5 L42.5,40.3 L42.6,40.0 L42.9,39.5 L43.0,39.4 L43.2,39.0 L43.5,38.7 L43.6,38.5 L44.0,38.0 L44.0,38.0 L44.4,37.5 L44.5,37.4 L44.8,37.0 L45.0,36.8 L45.3,36.5 L45.5,36.3 L45.8,36.0 L46.0,35.8 L46.3,35.5 L46.5,35.3 L46.9,35.0 L47.0,34.9 L47.5,34.5 L47.5,34.5 L48.0,34.2 L48.3,34.0 L48.5,33.8 L49.0,33.5 L49.1,33.5 L49.5,33.3 L50.0,33.0 L50.0,33.0 L50.5,32.8 L51.0,32.6 L51.2,32.5 L51.5,32.4 L52.0,32.2 L52.5,32.1 L53.0,32.0Z M52.8,32.5 L53.0,32.5 L53.5,32.4 L54.0,32.3 L54.5,32.2 L55.0,32.2 L55.5,32.2 L56.0,32.2 L56.5,32.3 L57.0,32.3 L57.5,32.4 L57.8,32.5 L58.0,32.6 L58.5,32.7 L59.0,32.9 L59.3,33.0 L59.5,33.1 L60.0,33.3 L60.3,33.5 L60.5,33.6 L61.0,34.0 L61.0,34.0 L61.5,34.4 L61.7,34.5 L62.0,34.8 L62.2,35.0 L62.5,35.3 L62.6,35.5 L63.0,36.0 L63.0,36.0 L63.3,36.5 L63.5,36.8 L63.6,37.0 L63.8,37.5 L64.0,38.0 L64.0,38.0 L64.2,38.5 L64.3,39.0 L64.3,39.5 L64.4,40.0 L64.4,40.5 L64.3,41.0 L64.3,41.5 L64.2,42.0 L64.0,42.5 L64.0,42.6 L63.9,43.0 L63.6,43.5 L63.5,43.8 L63.4,44.0 L63.1,44.5 L63.0,44.6 L62.7,45.0 L62.5,45.2 L62.3,45.5 L62.0,45.8 L61.8,46.0 L61.5,46.2 L61.2,46.5 L61.0,46.6 L60.5,47.0 L60.4,47.0 L60.0,47.2 L59.5,47.5 L59.5,47.5 L59.0,47.7 L58.5,47.9 L58.2,48.0 L58.0,48.1 L57.5,48.2 L57.0,48.3 L56.5,48.4 L56.0,48.4 L55.5,48.5 L55.0,48.5 L54.5,48.5 L54.0,48.4 L53.5,48.4 L53.0,48.3 L52.5,48.2 L52.0,48.1 L51.7,48.0 L51.5,47.9 L51.0,47.8 L50.5,47.6 L50.3,47.5 L50.0,47.4 L49.5,47.2 L49.2,47.0 L49.0,46.9 L48.5,46.6 L48.3,46.5 L48.0,46.3 L47.6,46.0 L47.5,45.9 L47.0,45.6 L46.9,45.5 L46.5,45.1 L46.4,45.0 L46.0,44.6 L45.9,44.5 L45.5,44.1 L45.4,44.0 L45.1,43.5 L45.0,43.4 L44.8,43.0 L44.5,42.5 L44.5,42.4 L44.4,42.0 L44.2,41.5 L44.2,41.0 L44.2,40.5 L44.3,40.0 L44.4,39.5 L44.5,39.4 L44.6,39.0 L44.8,38.5 L45.0,38.2 L45.1,38.0 L45.4,37.5 L45.5,37.4 L45.8,37.0 L46.0,36.8 L46.2,36.5 L46.5,36.2 L46.7,36.0 L47.0,35.7 L47.2,35.5 L47.5,35.2 L47.8,35.0 L48.0,34.8 L48.4,34.5 L48.5,34.4 L49.0,34.1 L49.2,34.0 L49.5,33.8 L50.0,33.5 L50.1,33.5 L50.5,33.3 L51.0,33.1 L51.2,33.0 L51.5,32.9 L52.0,32.7 L52.5,32.6 L52.8,32.5Z M52.7,33.0 L53.0,32.9 L53.5,32.8 L54.0,32.8 L54.5,32.7 L55.0,32.7 L55.5,32.7 L56.0,32.7 L56.5,32.8 L57.0,32.8 L57.5,32.9 L57.8,33.0 L58.0,33.1 L58.5,33.2 L59.0,33.4 L59.2,33.5 L59.5,33.6 L60.0,33.9 L60.2,34.0 L60.5,34.2 L60.9,34.5 L61.0,34.6 L61.5,35.0 L61.5,35.0 L62.0,35.5 L62.0,35.5 L62.4,36.0 L62.5,36.1 L62.7,36.5 L63.0,36.9 L63.0,37.0 L63.3,37.5 L63.5,38.0 L63.5,38.1 L63.6,38.5 L63.7,39.0 L63.8,39.5 L63.9,40.0 L63.9,40.5 L63.8,41.0 L63.8,41.5 L63.6,42.0 L63.5,42.5 L63.5,42.5 L63.3,43.0 L63.1,43.5 L63.0,43.6 L62.8,44.0 L62.5,44.4 L62.4,44.5 L62.0,45.0 L62.0,45.1 L61.6,45.5 L61.5,45.6 L61.0,46.0 L61.0,46.0 L60.5,46.4 L60.3,46.5 L60.0,46.7 L59.5,47.0 L59.4,47.0 L59.0,47.2 L58.5,47.4 L58.2,47.5 L58.0,47.6 L57.5,47.7 L57.0,47.8 L56.5,47.9 L56.0,48.0 L55.5,48.0 L55.3,48.0 L55.0,48.0 L54.7,48.0 L54.5,48.0 L54.0,48.0 L53.5,47.9 L53.0,47.8 L52.5,47.7 L52.0,47.6 L51.7,47.5 L51.5,47.5 L51.0,47.3 L50.5,47.1 L50.3,47.0 L50.0,46.9 L49.5,46.6 L49.3,46.5 L49.0,46.3 L48.5,46.0 L48.5,46.0 L48.0,45.6 L47.9,45.5 L47.5,45.2 L47.3,45.0 L47.0,44.7 L46.8,44.5 L46.5,44.2 L46.4,44.0 L46.0,43.5 L46.0,43.5 L45.7,43.0 L45.5,42.5 L45.5,42.4 L45.3,42.0 L45.2,41.5 L45.2,41.0 L45.2,40.5 L45.2,40.0 L45.3,39.5 L45.5,39.0 L45.5,39.0 L45.7,38.5 L45.9,38.0 L46.0,37.9 L46.2,37.5 L46.5,37.1 L46.6,37.0 L47.0,36.5 L47.0,36.5 L47.4,36.0 L47.5,35.9 L48.0,35.5 L48.0,35.5 L48.5,35.1 L48.6,35.0 L49.0,34.7 L49.3,34.5 L49.5,34.4 L50.0,34.1 L50.1,34.0 L50.5,33.8 L51.0,33.6 L51.2,33.5 L51.5,33.4 L52.0,33.2 L52.5,33.1 L52.7,33.0Z M52.7,33.5 L53.0,33.4 L53.5,33.3 L54.0,33.3 L54.5,33.2 L55.0,33.2 L55.5,33.2 L56.0,33.2 L56.5,33.3 L57.0,33.3 L57.5,33.5 L57.7,33.5 L58.0,33.6 L58.5,33.8 L59.0,34.0 L59.1,34.0 L59.5,34.2 L60.0,34.5 L60.0,34.5 L60.5,34.9 L60.7,35.0 L61.0,35.3 L61.2,35.5 L61.5,35.8 L61.7,36.0 L62.0,36.4 L62.1,36.5 L62.4,37.0 L62.5,37.2 L62.7,37.5 L62.9,38.0 L63.0,38.3 L63.1,38.5 L63.2,39.0 L63.3,39.5 L63.3,40.0 L63.3,40.5 L63.3,41.0 L63.2,41.5 L63.1,42.0 L63.0,42.3 L62.9,42.5 L62.7,43.0 L62.5,43.4 L62.5,43.5 L62.1,44.0 L62.0,44.2 L61.8,44.5 L61.5,44.8 L61.3,45.0 L61.0,45.3 L60.8,45.5 L60.5,45.7 L60.1,46.0 L60.0,46.1 L59.5,46.4 L59.3,46.5 L59.0,46.6 L58.5,46.9 L58.1,47.0 L58.0,47.0 L57.5,47.2 L57.0,47.3 L56.5,47.4 L56.0,47.5 L55.6,47.5 L55.5,47.5 L55.0,47.5 L54.5,47.5 L54.3,47.5 L54.0,47.5 L53.5,47.4 L53.0,47.3 L52.5,47.2 L52.0,47.1 L51.7,47.0 L51.5,46.9 L51.0,46.8 L50.5,46.5 L50.4,46.5 L50.0,46.3 L49.5,46.0 L49.5,46.0 L49.0,45.7 L48.7,45.5 L48.5,45.3 L48.1,45.0 L48.0,44.9 L47.6,44.5 L47.5,44.4 L47.2,44.0 L47.0,43.8 L46.8,43.5 L46.5,43.0 L46.5,43.0 L46.3,42.5 L46.1,42.0 L46.0,41.5 L46.0,41.5 L45.9,41.0 L45.9,40.5 L46.0,40.0 L46.0,39.8 L46.1,39.5 L46.2,39.0 L46.4,38.5 L46.5,38.3 L46.6,38.0 L46.9,37.5 L47.0,37.4 L47.3,37.0 L47.5,36.7 L47.7,36.5 L48.0,36.2 L48.2,36.0 L48.5,35.7 L48.7,35.5 L49.0,35.3 L49.4,35.0 L49.5,34.9 L50.0,34.6 L50.2,34.5 L50.5,34.3 L51.0,34.1 L51.2,34.0 L51.5,33.9 L52.0,33.7 L52.5,33.5 L52.7,33.5Z M52.8,34.0 L53.0,34.0 L53.5,33.9 L54.0,33.8 L54.5,33.7 L55.0,33.7 L55.5,33.7 L56.0,33.8 L56.5,33.8 L57.0,33.9 L57.4,34.0 L57.5,34.0 L58.0,34.2 L58.5,34.4 L58.8,34.5 L59.0,34.6 L59.5,34.9 L59.7,35.0 L60.0,35.2 L60.4,35.5 L60.5,35.6 L60.9,36.0 L61.0,36.1 L61.4,36.5 L61.5,36.7 L61.7,37.0 L62.0,37.5 L62.0,37.5 L62.2,38.0 L62.4,38.5 L62.5,38.7 L62.6,39.0 L62.7,39.5 L62.7,40.0 L62.7,40.5 L62.7,41.0 L62.6,41.5 L62.5,41.8 L62.5,42.0 L62.3,42.5 L62.1,43.0 L62.0,43.1 L61.8,43.5 L61.5,43.9 L61.4,44.0 L61.0,44.5 L61.0,44.5 L60.5,45.0 L60.5,45.0 L60.0,45.4 L59.8,45.5 L59.5,45.7 L59.0,46.0 L59.0,46.0 L58.5,46.2 L58.0,46.5 L57.9,46.5 L57.5,46.6 L57.0,46.7 L56.5,46.9 L56.0,46.9 L55.5,47.0 L55.1,47.0 L55.0,47.0 L54.7,47.0 L54.5,47.0 L54.0,47.0 L53.5,46.9 L53.0,46.8 L52.5,46.7 L52.0,46.6 L51.7,46.5 L51.5,46.4 L51.0,46.2 L50.5,46.0 L50.5,46.0 L50.0,45.7 L49.6,45.5 L49.5,45.4 L49.0,45.0 L48.9,45.0 L48.5,44.6 L48.4,44.5 L48.0,44.1 L47.9,44.0 L47.5,43.5 L47.5,43.5 L47.2,43.0 L47.0,42.5 L47.0,42.5 L46.8,42.0 L46.7,41.5 L46.6,41.0 L46.6,40.5 L46.6,40.0 L46.7,39.5 L46.9,39.0 L47.0,38.6 L47.1,38.5 L47.3,38.0 L47.5,37.7 L47.6,37.5 L48.0,37.0 L48.0,37.0 L48.4,36.5 L48.5,36.4 L49.0,36.0 L49.0,36.0 L49.5,35.6 L49.6,35.5 L50.0,35.2 L50.4,35.0 L50.5,34.9 L51.0,34.7 L51.3,34.5 L51.5,34.4 L52.0,34.2 L52.5,34.1 L52.8,34.0Z M53.2,34.5 L53.5,34.4 L54.0,34.4 L54.5,34.3 L55.0,34.3 L55.5,34.3 L56.0,34.4 L56.5,34.5 L56.7,34.5 L57.0,34.6 L57.5,34.7 L58.0,34.9 L58.3,35.0 L58.5,35.1 L59.0,35.4 L59.2,35.5 L59.5,35.7 L59.9,36.0 L60.0,36.1 L60.5,36.5 L60.5,36.5 L60.9,37.0 L61.0,37.2 L61.2,37.5 L61.5,38.0 L61.5,38.0 L61.7,38.5 L61.9,39.0 L62.0,39.5 L62.0,39.8 L62.0,40.0 L62.0,40.5 L62.0,40.8 L62.0,41.0 L61.9,41.5 L61.7,42.0 L61.5,42.5 L61.5,42.6 L61.3,43.0 L61.0,43.4 L61.0,43.5 L60.5,44.0 L60.5,44.1 L60.0,44.5 L60.0,44.5 L59.5,44.9 L59.4,45.0 L59.0,45.3 L58.6,45.5 L58.5,45.5 L58.0,45.8 L57.5,46.0 L57.4,46.0 L57.0,46.1 L56.5,46.2 L56.0,46.3 L55.5,46.4 L55.0,46.4 L54.5,46.4 L54.0,46.4 L53.5,46.3 L53.0,46.3 L52.5,46.1 L52.0,46.0 L52.0,46.0 L51.5,45.8 L51.0,45.6 L50.7,45.5 L50.5,45.4 L50.0,45.1 L49.9,45.0 L49.5,44.7 L49.2,44.5 L49.0,44.3 L48.7,44.0 L48.5,43.8 L48.3,43.5 L48.0,43.1 L47.9,43.0 L47.7,42.5 L47.5,42.1 L47.5,42.0 L47.3,41.5 L47.3,41.0 L47.2,40.5 L47.3,40.0 L47.4,39.5 L47.5,39.1 L47.5,39.0 L47.7,38.5 L48.0,38.0 L48.0,38.0 L48.3,37.5 L48.5,37.3 L48.7,37.0 L49.0,36.7 L49.2,36.5 L49.5,36.3 L49.8,36.0 L50.0,35.9 L50.5,35.5 L50.6,35.5 L51.0,35.3 L51.5,35.0 L51.6,35.0 L52.0,34.8 L52.5,34.7 L53.0,34.5 L53.2,34.5Z M52.1,35.5 L52.5,35.4 L53.0,35.2 L53.5,35.1 L54.0,35.1 L54.5,35.0 L55.0,35.0 L55.5,35.1 L56.0,35.1 L56.5,35.2 L57.0,35.3 L57.5,35.5 L57.5,35.5 L58.0,35.7 L58.5,36.0 L58.6,36.0 L59.0,36.3 L59.3,36.5 L59.5,36.7 L59.8,37.0 L60.0,37.2 L60.3,37.5 L60.5,37.9 L60.6,38.0 L60.8,38.5 L61.0,38.9 L61.0,39.0 L61.1,39.5 L61.2,40.0 L61.2,40.5 L61.1,41.0 L61.0,41.5 L61.0,41.6 L60.9,42.0 L60.6,42.5 L60.5,42.7 L60.3,43.0 L60.0,43.4 L59.9,43.5 L59.5,43.9 L59.4,44.0 L59.0,44.3 L58.8,44.5 L58.5,44.7 L58.0,44.9 L57.9,45.0 L57.5,45.2 L57.0,45.3 L56.5,45.5 L56.5,45.5 L56.0,45.6 L55.5,45.7 L55.0,45.7 L54.5,45.7 L54.0,45.7 L53.5,45.7 L53.0,45.6 L52.5,45.5 L52.5,45.5 L52.0,45.4 L51.5,45.2 L51.1,45.0 L51.0,44.9 L50.5,44.7 L50.2,44.5 L50.0,44.3 L49.6,44.0 L49.5,43.9 L49.1,43.5 L49.0,43.4 L48.7,43.0 L48.5,42.7 L48.4,42.5 L48.2,42.0 L48.0,41.5 L48.0,41.3 L47.9,41.0 L47.9,40.5 L48.0,40.0 L48.0,39.8 L48.1,39.5 L48.2,39.0 L48.4,38.5 L48.5,38.4 L48.7,38.0 L49.0,37.6 L49.1,37.5 L49.5,37.1 L49.6,37.0 L50.0,36.6 L50.2,36.5 L50.5,36.3 L51.0,36.0 L51.0,36.0 L51.5,35.7 L52.0,35.5 L52.1,35.5Z M53.3,36.0 L53.5,36.0 L54.0,35.9 L54.5,35.9 L55.0,35.9 L55.5,36.0 L55.8,36.0 L56.0,36.0 L56.5,36.2 L57.0,36.3 L57.4,36.5 L57.5,36.5 L58.0,36.8 L58.3,37.0 L58.5,37.2 L58.9,37.5 L59.0,37.6 L59.3,38.0 L59.5,38.2 L59.7,38.5 L59.9,39.0 L60.0,39.3 L60.1,39.5 L60.1,40.0 L60.1,40.5 L60.1,41.0 L60.0,41.3 L59.9,41.5 L59.7,42.0 L59.5,42.4 L59.4,42.5 L59.0,43.0 L59.0,43.0 L58.5,43.5 L58.5,43.5 L58.0,43.8 L57.7,44.0 L57.5,44.1 L57.0,44.4 L56.6,44.5 L56.5,44.5 L56.0,44.7 L55.5,44.8 L55.0,44.9 L54.5,44.9 L54.0,44.9 L53.5,44.9 L53.0,44.8 L52.5,44.7 L52.0,44.6 L51.8,44.5 L51.5,44.4 L51.0,44.1 L50.8,44.0 L50.5,43.8 L50.1,43.5 L50.0,43.4 L49.6,43.0 L49.5,42.8 L49.3,42.5 L49.0,42.0 L49.0,42.0 L48.8,41.5 L48.7,41.0 L48.7,40.5 L48.7,40.0 L48.8,39.5 L49.0,39.1 L49.0,39.0 L49.3,38.5 L49.5,38.2 L49.7,38.0 L50.0,37.6 L50.1,37.5 L50.5,37.2 L50.8,37.0 L51.0,36.8 L51.5,36.6 L51.7,36.5 L52.0,36.4 L52.5,36.2 L53.0,36.1 L53.3,36.0Z M51.9,37.5 L52.0,37.4 L52.5,37.3 L53.0,37.1 L53.5,37.1 L54.0,37.0 L54.5,37.0 L55.0,37.1 L55.5,37.2 L56.0,37.3 L56.5,37.5 L56.5,37.5 L57.0,37.8 L57.4,38.0 L57.5,38.1 L58.0,38.5 L58.0,38.6 L58.3,39.0 L58.5,39.4 L58.5,39.5 L58.6,40.0 L58.6,40.5 L58.5,41.0 L58.5,41.1 L58.3,41.5 L58.0,42.0 L58.0,42.0 L57.5,42.5 L57.5,42.5 L57.0,42.9 L56.8,43.0 L56.5,43.2 L56.0,43.4 L55.7,43.5 L55.5,43.6 L55.0,43.7 L54.5,43.8 L54.0,43.8 L53.5,43.8 L53.0,43.8 L52.5,43.7 L52.0,43.5 L52.0,43.5 L51.5,43.3 L51.0,43.0 L51.0,43.0 L50.5,42.5 L50.5,42.5 L50.1,42.0 L50.0,41.8 L49.9,41.5 L49.7,41.0 L49.7,40.5 L49.7,40.0 L49.9,39.5 L50.0,39.2 L50.1,39.0 L50.5,38.5 L50.5,38.5 L51.0,38.0 L51.0,38.0 L51.5,37.7 L51.9,37.5Z M52.9,39.0 L53.0,39.0 L53.5,38.9 L54.0,38.9 L54.5,39.0 L54.5,39.0 L55.0,39.2 L55.5,39.5 L55.5,39.5 L55.9,40.0 L55.9,40.5 L55.6,41.0 L55.5,41.1 L55.1,41.5 L55.0,41.5 L54.5,41.7 L54.0,41.9 L53.5,42.0 L53.0,41.9 L52.5,41.8 L52.0,41.5 L52.0,41.5 L51.6,41.0 L51.5,40.6 L51.5,40.5 L51.5,40.4 L51.6,40.0 L52.0,39.5 L52.0,39.5 L52.5,39.2 L52.9,39.0Z" fill="none" stroke="#222" stroke-width="0.4"/></g>
<rect x="0" y="0" width="82.0" height="82.0" fill="none" stroke="#222" stroke-width="0.9"/>
<path d="M-1.2,20.5h2 M20.5,81.5v1.9 M-1.2,41.0h2 M41.0,81.5v1.9 M-1.2,61.5h2 M61.5,81.5v1.9" stroke="#444" stroke-width="0.6" fill="none"/>
<text x="0.9" y="11.2" font-size="11.2" fill="#111">1000 <tspan dx="1.7">µg/mL</tspan></text>
</g>
<text x="26.3" y="100.2" font-size="5.5" fill="#333">10<tspan dy="-1.6" font-size="6.2">0</tspan></text>
<text x="26.3" y="79.7" font-size="5.5" fill="#333">10<tspan dy="-1.6" font-size="6.2">1</tspan></text>
<text x="26.3" y="59.2" font-size="5.5" fill="#333">10<tspan dy="-1.6" font-size="6.2">2</tspan></text>
<text x="26.3" y="38.7" font-size="5.5" fill="#333">10<tspan dy="-1.6" font-size="6.2">3</tspan></text>
<text x="26.3" y="18.2" font-size="5.5" fill="#333">10<tspan dy="-1.6" font-size="6.2">4</tspan></text>
<text x="35.2" y="113.8" font-size="5" fill="#555">10<tspan dx="1" dy="-2" font-size="6.2" fill="#333">0</tspan></text>
<text x="55.3" y="113.8" font-size="5" fill="#555">10<tspan dx="1" dy="-2" font-size="6.2" fill="#333">1</tspan></text>
<text x="75.8" y="113.8" font-size="5" fill="#555">10<tspan dx="1" dy="-2" font-size="6.2" fill="#333">2</tspan></text>
<text x="96.3" y="113.8" font-size="5" fill="#555">10<tspan dx="1" dy="-2" font-size="6.2" fill="#333">3</tspan></text>
<text x="113.9" y="113.8" font-size="5" fill="#555">10<tspan dx="1" dy="-2" font-size="6.2" fill="#333">4</tspan></text>
<text x="55.2" y="130.2" font-size="11.1" fill="#111">Annexin V</text>
<text transform="translate(18.4,78.2) rotate(-90)" font-size="11.1" fill="#111">TOPRO-3</text>
<path d="M42.0,173.9V359.3 M41.6,359.3H243.0" stroke="#333" stroke-width="1.2" fill="none"/>
<path d="M39.8,359.3h4.4 M40.0,340.8h2 M39.8,322.3h4.4 M40.0,303.8h2 M39.8,285.3h4.4 M40.0,266.8h2 M39.8,248.2h4.4 M40.0,229.7h2 M39.8,211.2h4.4 M40.0,192.7h2 M39.8,174.2h4.4 M42.0,357.1v4.4 M52.1,359.3v1.9 M58.0,359.3v1.9 M62.2,359.3v1.9 M65.4,359.3v1.9 M68.1,359.3v1.9 M70.3,359.3v1.9 M72.3,359.3v1.9 M74.0,359.3v1.9 M75.5,357.1v4.4 M85.6,359.3v1.9 M91.5,359.3v1.9 M95.7,359.3v1.9 M98.9,359.3v1.9 M101.6,359.3v1.9 M103.8,359.3v1.9 M105.8,359.3v1.9 M107.5,359.3v1.9 M109.0,357.1v4.4 M119.1,359.3v1.9 M125.0,359.3v1.9 M129.2,359.3v1.9 M132.4,359.3v1.9 M135.1,359.3v1.9 M137.3,359.3v1.9 M139.3,359.3v1.9 M141.0,359.3v1.9 M142.5,357.1v4.4 M152.6,359.3v1.9 M158.5,359.3v1.9 M162.7,359.3v1.9 M165.9,359.3v1.9 M168.6,359.3v1.9 M170.8,359.3v1.9 M172.8,359.3v1.9 M174.5,359.3v1.9 M176.0,357.1v4.4 M186.1,359.3v1.9 M192.0,359.3v1.9 M196.2,359.3v1.9 M199.4,359.3v1.9 M202.1,359.3v1.9 M204.3,359.3v1.9 M206.3,359.3v1.9 M208.0,359.3v1.9 M209.5,357.1v4.4 M219.6,359.3v1.9 M225.5,359.3v1.9 M229.7,359.3v1.9 M232.9,359.3v1.9 M235.6,359.3v1.9 M237.8,359.3v1.9 M239.8,359.3v1.9 M241.5,359.3v1.9 M243.0,357.1v4.4" stroke="#222" stroke-width="0.8" fill="none"/>
<text x="33.9" y="362.2" font-size="8.9" font-weight="bold" text-anchor="end" fill="#111">0%</text>
<text x="34.7" y="325.2" font-size="8.9" font-weight="bold" text-anchor="end" fill="#111">20%</text>
<text x="34.7" y="288.2" font-size="8.9" font-weight="bold" text-anchor="end" fill="#111">40%</text>
<text x="34.7" y="251.1" font-size="8.9" font-weight="bold" text-anchor="end" fill="#111">60%</text>
<text x="34.7" y="214.1" font-size="8.9" font-weight="bold" text-anchor="end" fill="#111">80%</text>
<text x="34.7" y="177.1" font-size="8.9" font-weight="bold" text-anchor="end" fill="#111">100%</text>
<text x="45.9" y="373.4" font-size="8.7" font-weight="bold" text-anchor="middle" fill="#111">0.00001</text>
<text x="79.1" y="373.4" font-size="8.7" font-weight="bold" text-anchor="middle" fill="#111">0.0001</text>
<text x="111.7" y="373.4" font-size="8.7" font-weight="bold" text-anchor="middle" fill="#111">0.001</text>
<text x="144.5" y="373.4" font-size="8.7" font-weight="bold" text-anchor="middle" fill="#111">0.01</text>
<text x="176.9" y="373.4" font-size="8.7" font-weight="bold" text-anchor="middle" fill="#111">0.1</text>
<text x="210.5" y="373.4" font-size="8.7" font-weight="bold" text-anchor="middle" fill="#111">1.0</text>
<text x="244.3" y="373.4" font-size="8.7" font-weight="bold" text-anchor="middle" fill="#111">10.0</text>
<text x="146" y="384.2" font-size="8.8" font-weight="bold" text-anchor="middle" fill="#111">rATG (µg/mL)</text>
<text transform="translate(8.4,263) rotate(-90)" font-size="8.8" font-weight="bold" text-anchor="middle" fill="#111">% Apoptosis</text>
<path d="M75.5,323.9 L109.0,320.4 L142.5,326.4 L176.0,322.5 L209.5,309.5" fill="none" stroke="#999" stroke-width="0.8" stroke-dasharray="2.2,1.8" stroke-linejoin="round"/>
<path d="M73.3,321.8L77.7,326.1M73.3,326.1L77.7,321.8" stroke="#000" stroke-width="1.6" fill="none"/>
<path d="M106.8,318.3L111.2,322.6M106.8,322.6L111.2,318.3" stroke="#000" stroke-width="1.6" fill="none"/>
<path d="M140.3,324.2L144.7,328.5M140.3,328.5L144.7,324.2" stroke="#000" stroke-width="1.6" fill="none"/>
<path d="M173.8,320.3L178.2,324.6M173.8,324.6L178.2,320.3" stroke="#000" stroke-width="1.6" fill="none"/>
<path d="M207.3,307.4L211.7,311.7M207.3,311.7L211.7,307.4" stroke="#000" stroke-width="1.6" fill="none"/>
<path d="M75.5,332.5 L109.0,328.2 L142.5,296.0 L176.0,207.5 L209.5,190.3" fill="none" stroke="#333" stroke-width="0.8" stroke-dasharray="3,1.8" stroke-linejoin="round"/>
<path d="M75.5,329.6L78.4,332.5L75.5,335.3L72.6,332.5Z" fill="#000"/>
<path d="M109.0,325.3L111.9,328.2L109.0,331.1L106.1,328.2Z" fill="#000"/>
<path d="M142.5,293.1L145.4,296.0L142.5,298.9L139.6,296.0Z" fill="#000"/>
<path d="M176.0,204.6L178.9,207.5L176.0,210.4L173.1,207.5Z" fill="#000"/>
<path d="M209.5,187.4L212.4,190.3L209.5,193.2L206.6,190.3Z" fill="#000"/>
<path d="M75.5,281.2 L109.0,277.3 L142.5,265.8 L176.0,222.3 L209.5,206.2" fill="none" stroke="#000" stroke-width="0.9" stroke-linejoin="round"/>
<path d="M75.5,279.0L77.7,281.2L75.5,283.4L73.3,281.2Z" fill="#fff" stroke="#000" stroke-width="1.1"/>
<path d="M109.0,275.1L111.2,277.3L109.0,279.5L106.8,277.3Z" fill="#fff" stroke="#000" stroke-width="1.1"/>
<path d="M142.5,263.6L144.7,265.8L142.5,268.0L140.3,265.8Z" fill="#fff" stroke="#000" stroke-width="1.1"/>
<path d="M176.0,220.1L178.2,222.3L176.0,224.5L173.8,222.3Z" fill="#fff" stroke="#000" stroke-width="1.1"/>
<path d="M209.5,204.0L211.7,206.2L209.5,208.4L207.3,206.2Z" fill="#fff" stroke="#000" stroke-width="1.1"/>
<path d="M75.5,311.2 L109.0,310.8 L142.5,288.2 L176.0,222.1 L209.5,203.6" fill="none" stroke="#555" stroke-width="0.9" stroke-dasharray="6,2.5" stroke-linejoin="round"/>
<path d="M75.5,308.3L78.5,313.6L72.5,313.6Z" fill="#000"/>
<path d="M109.0,307.9L112.0,313.3L106.0,313.3Z" fill="#000"/>
<path d="M142.5,285.4L145.5,290.7L139.5,290.7Z" fill="#000"/>
<path d="M176.0,219.3L179.0,224.6L173.0,224.6Z" fill="#000"/>
<path d="M209.5,200.8L212.5,206.1L206.5,206.1Z" fill="#000"/>
<path d="M75.5,343.9 L109.0,315.6 L142.5,315.2 L176.0,292.1 L209.5,259.3" fill="none" stroke="#777" stroke-width="1.6" stroke-linejoin="round"/>
<circle cx="75.5" cy="343.9" r="3.0" fill="#000"/>
<circle cx="109.0" cy="315.6" r="3.0" fill="#000"/>
<circle cx="142.5" cy="315.2" r="3.0" fill="#000"/>
<circle cx="176.0" cy="292.1" r="3.0" fill="#000"/>
<circle cx="209.5" cy="259.3" r="3.0" fill="#000"/>
<path d="M75.5,331.3 L109.0,311.5 L142.5,242.7 L176.0,199.4 L209.5,188.3" fill="none" stroke="#000" stroke-width="1.5" stroke-linejoin="round"/>
<rect x="73.1" y="328.9" width="4.8" height="4.8" fill="#000"/>
<rect x="106.6" y="309.1" width="4.8" height="4.8" fill="#000"/>
<rect x="140.1" y="240.3" width="4.8" height="4.8" fill="#000"/>
<rect x="173.6" y="197.0" width="4.8" height="4.8" fill="#000"/>
<rect x="207.1" y="185.9" width="4.8" height="4.8" fill="#000"/>
<path d="M75.5,333.6 L109.0,332.8 L142.5,322.5 L176.0,281.7 L209.5,253.1" fill="none" stroke="#000" stroke-width="1.5" stroke-linejoin="round"/>
<circle cx="75.5" cy="333.6" r="2.3" fill="#fff" stroke="#000" stroke-width="1.3"/>
<circle cx="109.0" cy="332.8" r="2.3" fill="#fff" stroke="#000" stroke-width="1.3"/>
<circle cx="142.5" cy="322.5" r="2.3" fill="#fff" stroke="#000" stroke-width="1.3"/>
<circle cx="176.0" cy="281.7" r="2.3" fill="#fff" stroke="#000" stroke-width="1.3"/>
<circle cx="209.5" cy="253.1" r="2.3" fill="#fff" stroke="#000" stroke-width="1.3"/>
<path d="M61.5,178.2h9.5" stroke="#000" stroke-width="1" fill="none"/>
<path d="M66.2,175.9L68.5,178.2L66.2,180.5L63.9,178.2Z" fill="#fff" stroke="#000" stroke-width="1.1"/>
<text x="71.8" y="181.3" font-size="8.8" fill="#111">RPMI-886</text>
<path d="M66.2,184.7L69.5,190.7L62.9,190.7Z" fill="#000"/>
<text x="71.8" y="191.0" font-size="8.8" fill="#111">ARH-77</text>
<path d="M61.5,197.7h9.5" stroke="#000" stroke-width="1" fill="none"/>
<rect x="63.7" y="195.2" width="5.0" height="5.0" fill="#000"/>
<text x="71.8" y="200.8" font-size="8.8" fill="#111">HS-Sultan</text>
<path d="M61.5,207.4h9.5" stroke="#000" stroke-width="1" fill="none"/>
<path d="M66.2,204.4L69.2,207.4L66.2,210.4L63.2,207.4Z" fill="#000"/>
<text x="71.8" y="210.5" font-size="8.8" fill="#111">MC-CAR</text>
<path d="M61.5,217.1h9.5" stroke="#000" stroke-width="1" fill="none"/>
<circle cx="66.2" cy="217.1" r="2.3" fill="#fff" stroke="#000" stroke-width="1.3"/>
<text x="71.8" y="220.2" font-size="8.8" fill="#111">U266</text>
<path d="M61.5,226.8h9.5" stroke="#000" stroke-width="1" fill="none"/>
<circle cx="66.2" cy="226.8" r="3.0" fill="#000"/>
<text x="71.8" y="229.9" font-size="8.8" fill="#111">NCI-H929</text>
<path d="M64.0,234.4L68.4,238.8M64.0,238.8L68.4,234.4" stroke="#000" stroke-width="1.6" fill="none"/>
<text x="71.8" y="239.7" font-size="8.8" fill="#111">rIgG</text>
<path d="M295.0,181.70000000000002V326.3" stroke="#8a8a8a" stroke-width="1.4" fill="none"/>
<path d="M294.3,325.8H507.85" stroke="#555" stroke-width="1" fill="none"/>
<path d="M291.8,325.8h2.8 M291.8,297.0h2.8 M291.8,268.3h2.8 M291.8,239.5h2.8 M291.8,210.8h2.8 M291.8,182.0h2.8 M294.6,323.2v5.2 M307.4,325.8v2.2 M314.9,325.8v2.2 M320.3,325.8v2.2 M324.4,325.8v2.2 M327.8,325.8v2.2 M330.6,325.8v2.2 M333.1,325.8v2.2 M335.3,325.8v2.2 M337.2,323.2v5.2 M350.1,325.8v2.2 M357.6,325.8v2.2 M362.9,325.8v2.2 M367.1,325.8v2.2 M370.4,325.8v2.2 M373.3,325.8v2.2 M375.8,325.8v2.2 M377.9,325.8v2.2 M379.9,323.2v5.2 M392.7,325.8v2.2 M400.2,325.8v2.2 M405.6,325.8v2.2 M409.7,325.8v2.2 M413.1,325.8v2.2 M415.9,325.8v2.2 M418.4,325.8v2.2 M420.6,325.8v2.2 M422.6,323.2v5.2 M435.4,325.8v2.2 M442.9,325.8v2.2 M448.2,325.8v2.2 M452.4,325.8v2.2 M455.7,325.8v2.2 M458.6,325.8v2.2 M461.1,325.8v2.2 M463.2,325.8v2.2 M465.2,323.2v5.2 M478.0,325.8v2.2 M485.5,325.8v2.2 M490.9,325.8v2.2 M495.0,325.8v2.2 M498.4,325.8v2.2 M501.2,325.8v2.2 M503.7,325.8v2.2 M505.9,325.8v2.2 M507.9,323.2v5.2" stroke="#444" stroke-width="0.75" fill="none"/>
<text x="287.7" y="328.4" font-size="10.2" text-anchor="end" fill="#111">0</text>
<text x="287.7" y="299.6" font-size="10.2" text-anchor="end" fill="#111">20</text>
<text x="287.7" y="270.9" font-size="10.2" text-anchor="end" fill="#111">40</text>
<text x="287.7" y="242.1" font-size="10.2" text-anchor="end" fill="#111">60</text>
<text x="287.7" y="213.4" font-size="10.2" text-anchor="end" fill="#111">80</text>
<text x="287.7" y="184.6" font-size="10.2" text-anchor="end" fill="#111">100</text>
<text x="294.6" y="345.5" font-size="10" text-anchor="middle" fill="#111">0.01</text>
<text x="337.2" y="345.5" font-size="10" text-anchor="middle" fill="#111">0.1</text>
<text x="379.9" y="345.5" font-size="10" text-anchor="middle" fill="#111">1</text>
<text x="422.6" y="345.5" font-size="10" text-anchor="middle" fill="#111">10</text>
<text x="465.2" y="345.5" font-size="10" text-anchor="middle" fill="#111">100</text>
<text x="507.9" y="345.5" font-size="10" text-anchor="middle" fill="#111">1000</text>
<text x="399.2" y="367" font-size="12" text-anchor="middle" fill="#111">rATG (µg/mL)</text>
<text transform="translate(262,252.8) rotate(-90)" font-size="11.5" text-anchor="middle" fill="#111">Apoptosis (%)</text>
<path d="M337.2,297.5 L379.9,267.5 L422.6,235.6 L465.2,200.2 L482.2,195.2" fill="none" stroke="#000" stroke-width="0.8"/>
<path d="M337.2,293.6L341.4,301.0L333.1,301.0Z" fill="#000"/>
<path d="M379.9,263.5L384.0,270.9L375.8,270.9Z" fill="#000"/>
<path d="M422.6,231.7L426.7,239.1L418.4,239.1Z" fill="#000"/>
<path d="M465.2,196.3L469.3,203.6L461.1,203.6Z" fill="#000"/>
<path d="M482.2,191.2L486.3,198.6L478.0,198.6Z" fill="#000"/>
<path d="M337.2,284.1 L379.9,280.8 L422.6,243.6 L465.2,215.7 L482.2,208.3" fill="none" stroke="#000" stroke-width="1.0" stroke-dasharray="5,3"/>
<path d="M337.2,280.2L341.1,284.1L337.2,287.9L333.4,284.1Z" fill="#fff" stroke="#000" stroke-width="0.9"/>
<path d="M379.9,276.9L383.7,280.8L379.9,284.6L376.1,280.8Z" fill="#fff" stroke="#000" stroke-width="0.9"/>
<path d="M422.6,239.8L426.4,243.6L422.6,247.4L418.7,243.6Z" fill="#fff" stroke="#000" stroke-width="0.9"/>
<path d="M465.2,211.9L469.0,215.7L465.2,219.5L461.4,215.7Z" fill="#fff" stroke="#000" stroke-width="0.9"/>
<path d="M482.2,204.5L486.0,208.3L482.2,212.2L478.3,208.3Z" fill="#fff" stroke="#000" stroke-width="0.9"/>
<path d="M337.2,277.7 L379.9,261.4 L422.6,243.9 L465.2,203.1 L482.2,198.1" fill="none" stroke="#000" stroke-width="0.8"/>
<rect x="334.1" y="274.5" width="6.4" height="6.4" fill="#fff" stroke="#000" stroke-width="0.9"/>
<rect x="376.7" y="258.2" width="6.4" height="6.4" fill="#fff" stroke="#000" stroke-width="0.9"/>
<rect x="419.4" y="240.7" width="6.4" height="6.4" fill="#fff" stroke="#000" stroke-width="0.9"/>
<rect x="462.0" y="199.9" width="6.4" height="6.4" fill="#fff" stroke="#000" stroke-width="0.9"/>
<rect x="479.0" y="194.9" width="6.4" height="6.4" fill="#fff" stroke="#000" stroke-width="0.9"/>
<path d="M337.2,267.5 L379.9,252.4 L422.6,231.6 L465.2,200.2 L482.2,192.0" fill="none" stroke="#000" stroke-width="1.9"/>
<path d="M337.2,263.3L341.4,267.5L337.2,271.6L333.1,267.5Z" fill="#000"/>
<path d="M379.9,248.3L384.0,252.4L379.9,256.5L375.8,252.4Z" fill="#000"/>
<path d="M422.6,227.5L426.7,231.6L422.6,235.7L418.4,231.6Z" fill="#000"/>
<path d="M465.2,196.1L469.3,200.2L465.2,204.3L461.1,200.2Z" fill="#000"/>
<path d="M482.2,187.9L486.3,192.0L482.2,196.1L478.0,192.0Z" fill="#000"/>
<path d="M337.2,284.7 L379.9,267.9 L422.6,238.5 L465.2,204.8 L482.2,199.5" fill="none" stroke="#000" stroke-width="1.3"/>
<circle cx="337.2" cy="284.7" r="3.4" fill="#fff" stroke="#000" stroke-width="1.3"/>
<circle cx="379.9" cy="267.9" r="3.4" fill="#fff" stroke="#000" stroke-width="1.3"/>
<circle cx="422.6" cy="238.5" r="3.4" fill="#fff" stroke="#000" stroke-width="1.3"/>
<circle cx="465.2" cy="204.8" r="3.4" fill="#fff" stroke="#000" stroke-width="1.3"/>
<circle cx="482.2" cy="199.5" r="3.4" fill="#fff" stroke="#000" stroke-width="1.3"/>
<text x="462.3" y="255" font-size="7.5" fill="#222">Lot Number</text>
<path d="M462.3,256.3H507.6" stroke="#555" stroke-width="0.6"/>
<path d="M437.5,266.2H460.2" stroke="#000" stroke-width="1.9" fill="none"/>
<path d="M448.9,262.3L452.8,266.2L448.9,270.1L445.0,266.2Z" fill="#000"/>
<text x="462.3" y="269.0" font-size="7.85" fill="#111">TH032-01</text>
<path d="M437.5,278.1H460.2" stroke="#000" stroke-width="0.8" fill="none"/>
<rect x="445.9" y="275.0" width="6.1" height="6.1" fill="#fff" stroke="#000" stroke-width="0.9"/>
<text x="462.3" y="280.9" font-size="7.85" fill="#111">TH052-01</text>
<path d="M437.5,289.9H460.2" stroke="#000" stroke-width="1.0" stroke-dasharray="5,3" fill="none"/>
<path d="M448.9,286.3L452.5,289.9L448.9,293.5L445.3,289.9Z" fill="#fff" stroke="#000" stroke-width="0.9"/>
<text x="462.3" y="292.7" font-size="7.85" fill="#111">TH089-01F3</text>
<path d="M437.5,301.8H460.2" stroke="#000" stroke-width="0.8" fill="none"/>
<path d="M448.9,298.0L452.8,305.0L445.0,305.0Z" fill="#000"/>
<text x="462.3" y="304.6" font-size="7.85" fill="#111">TH108-01</text>
<path d="M437.5,313.6H460.2" stroke="#000" stroke-width="1.3" fill="none"/>
<circle cx="448.9" cy="313.6" r="3.2" fill="#fff" stroke="#000" stroke-width="1.3"/>
<text x="462.3" y="316.4" font-size="7.85" fill="#111">TH111-01</text>
</svg>
</body></html>
